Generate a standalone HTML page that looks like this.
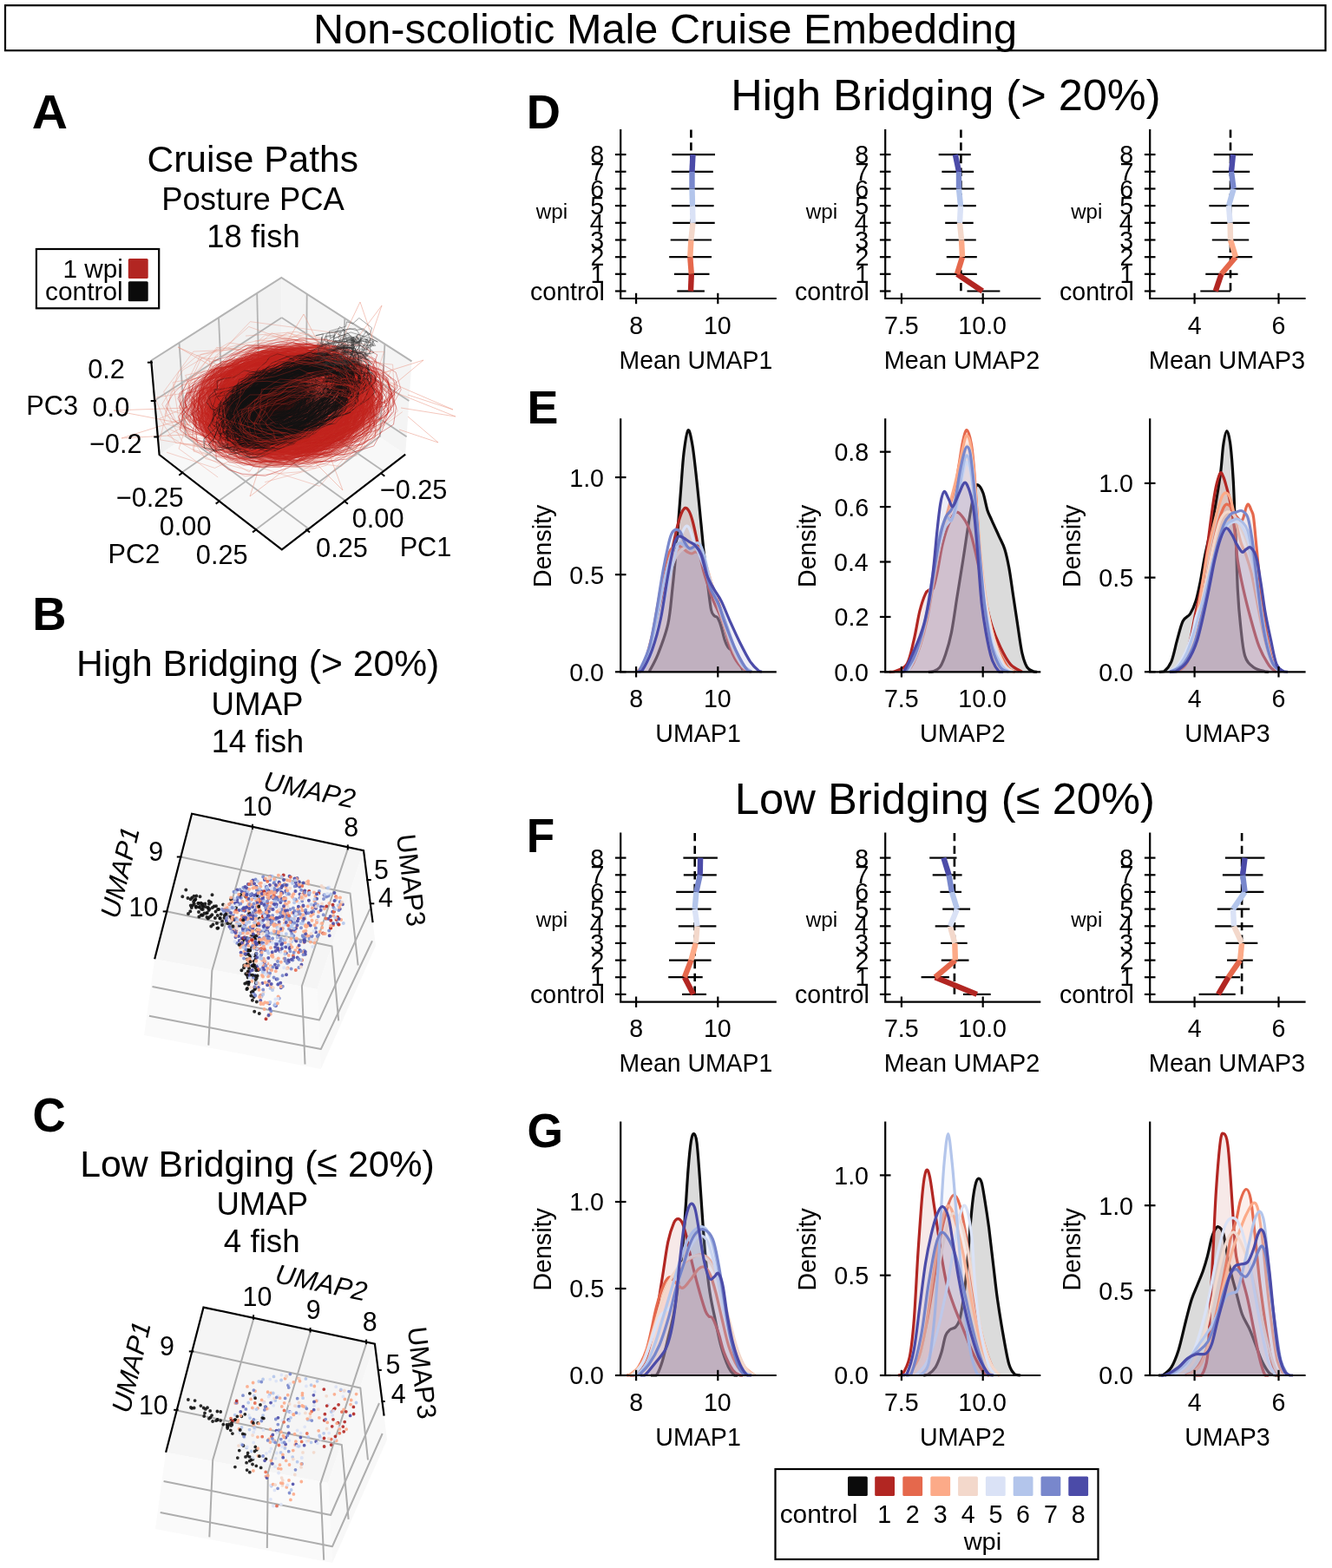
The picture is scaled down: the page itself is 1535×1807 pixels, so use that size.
<!DOCTYPE html>
<html><head><meta charset="utf-8"><title>Non-scoliotic Male Cruise Embedding</title>
<style>html,body{margin:0;padding:0;background:#fff;}svg{display:block;}text{font-family:'Liberation Sans', Arial, Helvetica, sans-serif;}</style>
</head><body>
<svg width="1535" height="1807" viewBox="0 0 1535 1807">
<rect width="1535" height="1807" fill="#fff"/>
<rect x="6" y="6.2" width="1521.5" height="52" fill="none" stroke="#000" stroke-width="2.2"/>
<text transform="translate(361.01,49.50) scale(0.993,1)" font-size="49.00" fill="#000">Non-scoliotic Male Cruise Embedding</text>
<text transform="translate(36.87,148.40) scale(1.041,1)" font-size="54.86" font-weight="bold" fill="#000">A</text>
<text transform="translate(37.35,725.70) scale(1.024,1)" font-size="53.14" font-weight="bold" fill="#000">B</text>
<text transform="translate(37.43,1303.65) scale(0.963,1)" font-size="54.93" font-weight="bold" fill="#000">C</text>
<text transform="translate(606.76,148.40) scale(0.993,1)" font-size="54.71" font-weight="bold" fill="#000">D</text>
<text transform="translate(607.39,487.60) scale(0.989,1)" font-size="54.43" font-weight="bold" fill="#000">E</text>
<text transform="translate(606.85,982.10) scale(0.960,1)" font-size="55.29" font-weight="bold" fill="#000">F</text>
<text transform="translate(607.61,1322.14) scale(0.959,1)" font-size="55.63" font-weight="bold" fill="#000">G</text>
<text transform="translate(169.43,197.90) scale(0.983,1)" font-size="43.29" fill="#000">Cruise Paths</text>
<text transform="translate(186.31,241.50)" font-size="36.43" fill="#000">Posture PCA</text>
<text transform="translate(238.34,284.90)" font-size="36.43" fill="#000">18 fish</text>
<text transform="translate(88.00,779.40) scale(0.992,1)" font-size="43.00" fill="#000">High Bridging (&gt; 20%)</text>
<text transform="translate(243.57,823.60) scale(0.977,1)" font-size="37.57" fill="#000">UMAP</text>
<text transform="translate(243.65,867.10) scale(0.973,1)" font-size="37.14" fill="#000">14 fish</text>
<text transform="translate(92.19,1355.80) scale(0.995,1)" font-size="43.00" fill="#000">Low Bridging (≤ 20%)</text>
<text transform="translate(249.49,1399.80) scale(0.980,1)" font-size="37.29" fill="#000">UMAP</text>
<text transform="translate(257.86,1443.40)" font-size="36.71" fill="#000">4 fish</text>
<text transform="translate(842.16,126.90) scale(1.013,1)" font-size="49.86" fill="#000">High Bridging (&gt; 20%)</text>
<text transform="translate(846.84,938.30) scale(1.005,1)" font-size="50.43" fill="#000">Low Bridging (≤ 20%)</text>
<polyline points="715.2,149 715.2,344 894.8,344" fill="none" stroke="#000" stroke-width="2.2" stroke-linejoin="miter"/>
<line x1="733.1" y1="337.8" x2="733.1" y2="350.2" stroke="#000" stroke-width="2.2"/>
<line x1="827.3" y1="337.8" x2="827.3" y2="350.2" stroke="#000" stroke-width="2.2"/>
<line x1="708.9" y1="335.5" x2="721.5" y2="335.5" stroke="#000" stroke-width="2.2"/>
<line x1="708.9" y1="315.8" x2="721.5" y2="315.8" stroke="#000" stroke-width="2.2"/>
<line x1="708.9" y1="296.2" x2="721.5" y2="296.2" stroke="#000" stroke-width="2.2"/>
<line x1="708.9" y1="276.5" x2="721.5" y2="276.5" stroke="#000" stroke-width="2.2"/>
<line x1="708.9" y1="256.8" x2="721.5" y2="256.8" stroke="#000" stroke-width="2.2"/>
<line x1="708.9" y1="237.1" x2="721.5" y2="237.1" stroke="#000" stroke-width="2.2"/>
<line x1="708.9" y1="217.5" x2="721.5" y2="217.5" stroke="#000" stroke-width="2.2"/>
<line x1="708.9" y1="197.8" x2="721.5" y2="197.8" stroke="#000" stroke-width="2.2"/>
<line x1="708.9" y1="178.1" x2="721.5" y2="178.1" stroke="#000" stroke-width="2.2"/>
<text transform="translate(611.02,345.70) scale(0.953,1)" font-size="30.0" fill="#000">control</text>
<text transform="translate(680.40,326.03) scale(0.953,1)" font-size="30.0" fill="#000">1</text>
<text transform="translate(680.43,306.36) scale(0.953,1)" font-size="30.0" fill="#000">2</text>
<text transform="translate(680.26,286.69) scale(0.953,1)" font-size="30.0" fill="#000">3</text>
<text transform="translate(679.83,267.02) scale(0.953,1)" font-size="30.0" fill="#000">4</text>
<text transform="translate(680.20,247.35) scale(0.953,1)" font-size="30.0" fill="#000">5</text>
<text transform="translate(680.26,227.68) scale(0.953,1)" font-size="30.0" fill="#000">6</text>
<text transform="translate(680.43,208.01) scale(0.953,1)" font-size="30.0" fill="#000">7</text>
<text transform="translate(680.23,188.34) scale(0.953,1)" font-size="30.0" fill="#000">8</text>
<text transform="translate(725.15,384.54) scale(0.953,1)" font-size="30.0" fill="#000">8</text>
<text transform="translate(810.88,384.54) scale(0.953,1)" font-size="30.0" fill="#000">10</text>
<text transform="translate(713.57,424.50) scale(0.979,1)" font-size="29.00" fill="#000">Mean UMAP1</text>
<text transform="translate(617.72,251.90) scale(1.042,1)" font-size="23.30" fill="#000">wpi</text>
<line x1="796.4" y1="149.5" x2="796.4" y2="335.5" stroke="#000" stroke-width="2.6" stroke-dasharray="9.3 5.4"/>
<line x1="780.3" y1="335.5" x2="811.9" y2="335.5" stroke="#000" stroke-width="2.2"/>
<line x1="777" y1="315.8" x2="817.5" y2="315.8" stroke="#000" stroke-width="2.2"/>
<line x1="771.2" y1="296.2" x2="820" y2="296.2" stroke="#000" stroke-width="2.2"/>
<line x1="772.7" y1="276.5" x2="820" y2="276.5" stroke="#000" stroke-width="2.2"/>
<line x1="775.3" y1="256.8" x2="823.7" y2="256.8" stroke="#000" stroke-width="2.2"/>
<line x1="774" y1="237.1" x2="822.6" y2="237.1" stroke="#000" stroke-width="2.2"/>
<line x1="773.4" y1="217.5" x2="822.6" y2="217.5" stroke="#000" stroke-width="2.2"/>
<line x1="773.8" y1="197.8" x2="821.8" y2="197.8" stroke="#000" stroke-width="2.2"/>
<line x1="774.5" y1="178.1" x2="824" y2="178.1" stroke="#000" stroke-width="2.2"/>
<line x1="796" y1="335.5" x2="796.8" y2="315.8" stroke="#b22622" stroke-width="6.4"/>
<line x1="796.8" y1="315.8" x2="795.3" y2="296.2" stroke="#e5684c" stroke-width="6.4"/>
<line x1="795.3" y1="296.2" x2="796.4" y2="276.5" stroke="#fcaa88" stroke-width="6.4"/>
<line x1="796.4" y1="276.5" x2="798.5" y2="256.8" stroke="#f3d8cb" stroke-width="6.4"/>
<line x1="798.5" y1="256.8" x2="798" y2="237.1" stroke="#dae2f6" stroke-width="6.4"/>
<line x1="798" y1="237.1" x2="797.5" y2="217.5" stroke="#b3c5eb" stroke-width="6.4"/>
<line x1="797.5" y1="217.5" x2="797.5" y2="197.8" stroke="#7887cc" stroke-width="6.4"/>
<line x1="797.5" y1="197.8" x2="798.5" y2="178.1" stroke="#4b4ba8" stroke-width="6.4"/>
<polyline points="715.2,959.5 715.2,1154.7 894.8,1154.7" fill="none" stroke="#000" stroke-width="2.2" stroke-linejoin="miter"/>
<line x1="733.1" y1="1148.5" x2="733.1" y2="1160.9" stroke="#000" stroke-width="2.2"/>
<line x1="827.3" y1="1148.5" x2="827.3" y2="1160.9" stroke="#000" stroke-width="2.2"/>
<line x1="708.9" y1="1145.9" x2="721.5" y2="1145.9" stroke="#000" stroke-width="2.2"/>
<line x1="708.9" y1="1126.2" x2="721.5" y2="1126.2" stroke="#000" stroke-width="2.2"/>
<line x1="708.9" y1="1106.6" x2="721.5" y2="1106.6" stroke="#000" stroke-width="2.2"/>
<line x1="708.9" y1="1086.9" x2="721.5" y2="1086.9" stroke="#000" stroke-width="2.2"/>
<line x1="708.9" y1="1067.3" x2="721.5" y2="1067.3" stroke="#000" stroke-width="2.2"/>
<line x1="708.9" y1="1047.6" x2="721.5" y2="1047.6" stroke="#000" stroke-width="2.2"/>
<line x1="708.9" y1="1027.9" x2="721.5" y2="1027.9" stroke="#000" stroke-width="2.2"/>
<line x1="708.9" y1="1008.3" x2="721.5" y2="1008.3" stroke="#000" stroke-width="2.2"/>
<line x1="708.9" y1="988.6" x2="721.5" y2="988.6" stroke="#000" stroke-width="2.2"/>
<text transform="translate(611.02,1156.10) scale(0.953,1)" font-size="30.0" fill="#000">control</text>
<text transform="translate(680.40,1136.44) scale(0.953,1)" font-size="30.0" fill="#000">1</text>
<text transform="translate(680.43,1116.78) scale(0.953,1)" font-size="30.0" fill="#000">2</text>
<text transform="translate(680.26,1097.12) scale(0.953,1)" font-size="30.0" fill="#000">3</text>
<text transform="translate(679.83,1077.46) scale(0.953,1)" font-size="30.0" fill="#000">4</text>
<text transform="translate(680.20,1057.80) scale(0.953,1)" font-size="30.0" fill="#000">5</text>
<text transform="translate(680.26,1038.14) scale(0.953,1)" font-size="30.0" fill="#000">6</text>
<text transform="translate(680.43,1018.48) scale(0.953,1)" font-size="30.0" fill="#000">7</text>
<text transform="translate(680.23,998.82) scale(0.953,1)" font-size="30.0" fill="#000">8</text>
<text transform="translate(725.15,1195.24) scale(0.953,1)" font-size="30.0" fill="#000">8</text>
<text transform="translate(810.88,1195.24) scale(0.953,1)" font-size="30.0" fill="#000">10</text>
<text transform="translate(713.57,1235.20) scale(0.979,1)" font-size="29.00" fill="#000">Mean UMAP1</text>
<text transform="translate(617.72,1067.70) scale(1.042,1)" font-size="23.30" fill="#000">wpi</text>
<line x1="800.7" y1="960" x2="800.7" y2="1145.9" stroke="#000" stroke-width="2.6" stroke-dasharray="9.3 5.4"/>
<line x1="786.1" y1="1145.9" x2="814" y2="1145.9" stroke="#000" stroke-width="2.2"/>
<line x1="770.2" y1="1126.2" x2="809.7" y2="1126.2" stroke="#000" stroke-width="2.2"/>
<line x1="771" y1="1106.6" x2="819.6" y2="1106.6" stroke="#000" stroke-width="2.2"/>
<line x1="778.1" y1="1086.9" x2="823.9" y2="1086.9" stroke="#000" stroke-width="2.2"/>
<line x1="781.8" y1="1067.3" x2="825.4" y2="1067.3" stroke="#000" stroke-width="2.2"/>
<line x1="778.8" y1="1047.6" x2="819.6" y2="1047.6" stroke="#000" stroke-width="2.2"/>
<line x1="779.2" y1="1027.9" x2="825.4" y2="1027.9" stroke="#000" stroke-width="2.2"/>
<line x1="787.8" y1="1008.3" x2="825.8" y2="1008.3" stroke="#000" stroke-width="2.2"/>
<line x1="787.4" y1="988.6" x2="826.9" y2="988.6" stroke="#000" stroke-width="2.2"/>
<line x1="799" y1="1145.9" x2="788.9" y2="1126.2" stroke="#b22622" stroke-width="6.4"/>
<line x1="788.9" y1="1126.2" x2="796.4" y2="1106.6" stroke="#e5684c" stroke-width="6.4"/>
<line x1="796.4" y1="1106.6" x2="801.8" y2="1086.9" stroke="#fcaa88" stroke-width="6.4"/>
<line x1="801.8" y1="1086.9" x2="803.5" y2="1067.3" stroke="#f3d8cb" stroke-width="6.4"/>
<line x1="803.5" y1="1067.3" x2="800.7" y2="1047.6" stroke="#dae2f6" stroke-width="6.4"/>
<line x1="800.7" y1="1047.6" x2="802.4" y2="1027.9" stroke="#b3c5eb" stroke-width="6.4"/>
<line x1="802.4" y1="1027.9" x2="806.7" y2="1008.3" stroke="#7887cc" stroke-width="6.4"/>
<line x1="806.7" y1="1008.3" x2="807.1" y2="988.6" stroke="#4b4ba8" stroke-width="6.4"/>
<polyline points="1020.2,149 1020.2,344 1199.3,344" fill="none" stroke="#000" stroke-width="2.2" stroke-linejoin="miter"/>
<line x1="1038.9" y1="337.8" x2="1038.9" y2="350.2" stroke="#000" stroke-width="2.2"/>
<line x1="1132.7" y1="337.8" x2="1132.7" y2="350.2" stroke="#000" stroke-width="2.2"/>
<line x1="1013.9" y1="335.5" x2="1026.5" y2="335.5" stroke="#000" stroke-width="2.2"/>
<line x1="1013.9" y1="315.8" x2="1026.5" y2="315.8" stroke="#000" stroke-width="2.2"/>
<line x1="1013.9" y1="296.2" x2="1026.5" y2="296.2" stroke="#000" stroke-width="2.2"/>
<line x1="1013.9" y1="276.5" x2="1026.5" y2="276.5" stroke="#000" stroke-width="2.2"/>
<line x1="1013.9" y1="256.8" x2="1026.5" y2="256.8" stroke="#000" stroke-width="2.2"/>
<line x1="1013.9" y1="237.1" x2="1026.5" y2="237.1" stroke="#000" stroke-width="2.2"/>
<line x1="1013.9" y1="217.5" x2="1026.5" y2="217.5" stroke="#000" stroke-width="2.2"/>
<line x1="1013.9" y1="197.8" x2="1026.5" y2="197.8" stroke="#000" stroke-width="2.2"/>
<line x1="1013.9" y1="178.1" x2="1026.5" y2="178.1" stroke="#000" stroke-width="2.2"/>
<text transform="translate(916.02,345.70) scale(0.953,1)" font-size="30.0" fill="#000">control</text>
<text transform="translate(985.40,326.03) scale(0.953,1)" font-size="30.0" fill="#000">1</text>
<text transform="translate(985.43,306.36) scale(0.953,1)" font-size="30.0" fill="#000">2</text>
<text transform="translate(985.26,286.69) scale(0.953,1)" font-size="30.0" fill="#000">3</text>
<text transform="translate(984.83,267.02) scale(0.953,1)" font-size="30.0" fill="#000">4</text>
<text transform="translate(985.20,247.35) scale(0.953,1)" font-size="30.0" fill="#000">5</text>
<text transform="translate(985.26,227.68) scale(0.953,1)" font-size="30.0" fill="#000">6</text>
<text transform="translate(985.43,208.01) scale(0.953,1)" font-size="30.0" fill="#000">7</text>
<text transform="translate(985.23,188.34) scale(0.953,1)" font-size="30.0" fill="#000">8</text>
<text transform="translate(1018.90,384.54) scale(0.953,1)" font-size="30.0" fill="#000">7.5</text>
<text transform="translate(1104.35,384.54) scale(0.953,1)" font-size="30.0" fill="#000">10.0</text>
<text transform="translate(1018.84,424.50) scale(0.994,1)" font-size="29.00" fill="#000">Mean UMAP2</text>
<text transform="translate(928.82,251.90) scale(1.042,1)" font-size="23.30" fill="#000">wpi</text>
<line x1="1107.4" y1="149.5" x2="1107.4" y2="335.5" stroke="#000" stroke-width="2.6" stroke-dasharray="9.3 5.4"/>
<line x1="1114.5" y1="335.5" x2="1152.4" y2="335.5" stroke="#000" stroke-width="2.2"/>
<line x1="1078.7" y1="315.8" x2="1125.8" y2="315.8" stroke="#000" stroke-width="2.2"/>
<line x1="1090.8" y1="296.2" x2="1125.8" y2="296.2" stroke="#000" stroke-width="2.2"/>
<line x1="1089.8" y1="276.5" x2="1124.8" y2="276.5" stroke="#000" stroke-width="2.2"/>
<line x1="1089.2" y1="256.8" x2="1121.7" y2="256.8" stroke="#000" stroke-width="2.2"/>
<line x1="1088.2" y1="237.1" x2="1124.8" y2="237.1" stroke="#000" stroke-width="2.2"/>
<line x1="1084.4" y1="217.5" x2="1122.7" y2="217.5" stroke="#000" stroke-width="2.2"/>
<line x1="1085.4" y1="197.8" x2="1122.1" y2="197.8" stroke="#000" stroke-width="2.2"/>
<line x1="1081.7" y1="178.1" x2="1118.7" y2="178.1" stroke="#000" stroke-width="2.2"/>
<line x1="1132.2" y1="335.5" x2="1103" y2="315.8" stroke="#b22622" stroke-width="6.4"/>
<line x1="1103" y1="315.8" x2="1109" y2="296.2" stroke="#e5684c" stroke-width="6.4"/>
<line x1="1109" y1="296.2" x2="1108" y2="276.5" stroke="#fcaa88" stroke-width="6.4"/>
<line x1="1108" y1="276.5" x2="1106" y2="256.8" stroke="#f3d8cb" stroke-width="6.4"/>
<line x1="1106" y1="256.8" x2="1107" y2="237.1" stroke="#dae2f6" stroke-width="6.4"/>
<line x1="1107" y1="237.1" x2="1105" y2="217.5" stroke="#b3c5eb" stroke-width="6.4"/>
<line x1="1105" y1="217.5" x2="1105" y2="197.8" stroke="#7887cc" stroke-width="6.4"/>
<line x1="1105" y1="197.8" x2="1100.9" y2="178.1" stroke="#4b4ba8" stroke-width="6.4"/>
<polyline points="1020.2,959.5 1020.2,1154.7 1199.3,1154.7" fill="none" stroke="#000" stroke-width="2.2" stroke-linejoin="miter"/>
<line x1="1038.9" y1="1148.5" x2="1038.9" y2="1160.9" stroke="#000" stroke-width="2.2"/>
<line x1="1132.7" y1="1148.5" x2="1132.7" y2="1160.9" stroke="#000" stroke-width="2.2"/>
<line x1="1013.9" y1="1145.9" x2="1026.5" y2="1145.9" stroke="#000" stroke-width="2.2"/>
<line x1="1013.9" y1="1126.2" x2="1026.5" y2="1126.2" stroke="#000" stroke-width="2.2"/>
<line x1="1013.9" y1="1106.6" x2="1026.5" y2="1106.6" stroke="#000" stroke-width="2.2"/>
<line x1="1013.9" y1="1086.9" x2="1026.5" y2="1086.9" stroke="#000" stroke-width="2.2"/>
<line x1="1013.9" y1="1067.3" x2="1026.5" y2="1067.3" stroke="#000" stroke-width="2.2"/>
<line x1="1013.9" y1="1047.6" x2="1026.5" y2="1047.6" stroke="#000" stroke-width="2.2"/>
<line x1="1013.9" y1="1027.9" x2="1026.5" y2="1027.9" stroke="#000" stroke-width="2.2"/>
<line x1="1013.9" y1="1008.3" x2="1026.5" y2="1008.3" stroke="#000" stroke-width="2.2"/>
<line x1="1013.9" y1="988.6" x2="1026.5" y2="988.6" stroke="#000" stroke-width="2.2"/>
<text transform="translate(916.02,1156.10) scale(0.953,1)" font-size="30.0" fill="#000">control</text>
<text transform="translate(985.40,1136.44) scale(0.953,1)" font-size="30.0" fill="#000">1</text>
<text transform="translate(985.43,1116.78) scale(0.953,1)" font-size="30.0" fill="#000">2</text>
<text transform="translate(985.26,1097.12) scale(0.953,1)" font-size="30.0" fill="#000">3</text>
<text transform="translate(984.83,1077.46) scale(0.953,1)" font-size="30.0" fill="#000">4</text>
<text transform="translate(985.20,1057.80) scale(0.953,1)" font-size="30.0" fill="#000">5</text>
<text transform="translate(985.26,1038.14) scale(0.953,1)" font-size="30.0" fill="#000">6</text>
<text transform="translate(985.43,1018.48) scale(0.953,1)" font-size="30.0" fill="#000">7</text>
<text transform="translate(985.23,998.82) scale(0.953,1)" font-size="30.0" fill="#000">8</text>
<text transform="translate(1018.90,1195.24) scale(0.953,1)" font-size="30.0" fill="#000">7.5</text>
<text transform="translate(1104.35,1195.24) scale(0.953,1)" font-size="30.0" fill="#000">10.0</text>
<text transform="translate(1018.84,1235.20) scale(0.994,1)" font-size="29.00" fill="#000">Mean UMAP2</text>
<text transform="translate(928.82,1067.70) scale(1.042,1)" font-size="23.30" fill="#000">wpi</text>
<line x1="1099.9" y1="960" x2="1099.9" y2="1145.9" stroke="#000" stroke-width="2.6" stroke-dasharray="9.3 5.4"/>
<line x1="1110" y1="1145.9" x2="1141.7" y2="1145.9" stroke="#000" stroke-width="2.2"/>
<line x1="1061.6" y1="1126.2" x2="1093.9" y2="1126.2" stroke="#000" stroke-width="2.2"/>
<line x1="1084.8" y1="1106.6" x2="1116.5" y2="1106.6" stroke="#000" stroke-width="2.2"/>
<line x1="1084.2" y1="1086.9" x2="1114.7" y2="1086.9" stroke="#000" stroke-width="2.2"/>
<line x1="1077.7" y1="1067.3" x2="1111.6" y2="1067.3" stroke="#000" stroke-width="2.2"/>
<line x1="1086.2" y1="1047.6" x2="1118.1" y2="1047.6" stroke="#000" stroke-width="2.2"/>
<line x1="1083.4" y1="1027.9" x2="1108" y2="1027.9" stroke="#000" stroke-width="2.2"/>
<line x1="1074.7" y1="1008.3" x2="1108.6" y2="1008.3" stroke="#000" stroke-width="2.2"/>
<line x1="1071.2" y1="988.6" x2="1102.5" y2="988.6" stroke="#000" stroke-width="2.2"/>
<line x1="1125.8" y1="1145.9" x2="1077.7" y2="1126.2" stroke="#b22622" stroke-width="6.4"/>
<line x1="1077.7" y1="1126.2" x2="1100.9" y2="1106.6" stroke="#e5684c" stroke-width="6.4"/>
<line x1="1100.9" y1="1106.6" x2="1100.3" y2="1086.9" stroke="#fcaa88" stroke-width="6.4"/>
<line x1="1100.3" y1="1086.9" x2="1094.9" y2="1067.3" stroke="#f3d8cb" stroke-width="6.4"/>
<line x1="1094.9" y1="1067.3" x2="1103" y2="1047.6" stroke="#dae2f6" stroke-width="6.4"/>
<line x1="1103" y1="1047.6" x2="1096.9" y2="1027.9" stroke="#b3c5eb" stroke-width="6.4"/>
<line x1="1096.9" y1="1027.9" x2="1093.5" y2="1008.3" stroke="#7887cc" stroke-width="6.4"/>
<line x1="1093.5" y1="1008.3" x2="1087.4" y2="988.6" stroke="#4b4ba8" stroke-width="6.4"/>
<polyline points="1325.2,149 1325.2,344 1504.6,344" fill="none" stroke="#000" stroke-width="2.2" stroke-linejoin="miter"/>
<line x1="1376.6" y1="337.8" x2="1376.6" y2="350.2" stroke="#000" stroke-width="2.2"/>
<line x1="1473.5" y1="337.8" x2="1473.5" y2="350.2" stroke="#000" stroke-width="2.2"/>
<line x1="1318.9" y1="335.5" x2="1331.5" y2="335.5" stroke="#000" stroke-width="2.2"/>
<line x1="1318.9" y1="315.8" x2="1331.5" y2="315.8" stroke="#000" stroke-width="2.2"/>
<line x1="1318.9" y1="296.2" x2="1331.5" y2="296.2" stroke="#000" stroke-width="2.2"/>
<line x1="1318.9" y1="276.5" x2="1331.5" y2="276.5" stroke="#000" stroke-width="2.2"/>
<line x1="1318.9" y1="256.8" x2="1331.5" y2="256.8" stroke="#000" stroke-width="2.2"/>
<line x1="1318.9" y1="237.1" x2="1331.5" y2="237.1" stroke="#000" stroke-width="2.2"/>
<line x1="1318.9" y1="217.5" x2="1331.5" y2="217.5" stroke="#000" stroke-width="2.2"/>
<line x1="1318.9" y1="197.8" x2="1331.5" y2="197.8" stroke="#000" stroke-width="2.2"/>
<line x1="1318.9" y1="178.1" x2="1331.5" y2="178.1" stroke="#000" stroke-width="2.2"/>
<text transform="translate(1221.02,345.70) scale(0.953,1)" font-size="30.0" fill="#000">control</text>
<text transform="translate(1290.40,326.03) scale(0.953,1)" font-size="30.0" fill="#000">1</text>
<text transform="translate(1290.43,306.36) scale(0.953,1)" font-size="30.0" fill="#000">2</text>
<text transform="translate(1290.26,286.69) scale(0.953,1)" font-size="30.0" fill="#000">3</text>
<text transform="translate(1289.83,267.02) scale(0.953,1)" font-size="30.0" fill="#000">4</text>
<text transform="translate(1290.20,247.35) scale(0.953,1)" font-size="30.0" fill="#000">5</text>
<text transform="translate(1290.26,227.68) scale(0.953,1)" font-size="30.0" fill="#000">6</text>
<text transform="translate(1290.43,208.01) scale(0.953,1)" font-size="30.0" fill="#000">7</text>
<text transform="translate(1290.23,188.34) scale(0.953,1)" font-size="30.0" fill="#000">8</text>
<text transform="translate(1368.74,384.54) scale(0.953,1)" font-size="30.0" fill="#000">4</text>
<text transform="translate(1465.45,384.54) scale(0.953,1)" font-size="30.0" fill="#000">6</text>
<text transform="translate(1323.72,424.50)" font-size="29.00" fill="#000">Mean UMAP3</text>
<text transform="translate(1234.22,251.90) scale(1.030,1)" font-size="23.30" fill="#000">wpi</text>
<line x1="1418" y1="149.5" x2="1418" y2="335.5" stroke="#000" stroke-width="2.6" stroke-dasharray="9.3 5.4"/>
<line x1="1383.3" y1="335.5" x2="1418" y2="335.5" stroke="#000" stroke-width="2.2"/>
<line x1="1389.3" y1="315.8" x2="1426.5" y2="315.8" stroke="#000" stroke-width="2.2"/>
<line x1="1403.5" y1="296.2" x2="1443.2" y2="296.2" stroke="#000" stroke-width="2.2"/>
<line x1="1396.8" y1="276.5" x2="1439.2" y2="276.5" stroke="#000" stroke-width="2.2"/>
<line x1="1395.4" y1="256.8" x2="1440.2" y2="256.8" stroke="#000" stroke-width="2.2"/>
<line x1="1393.4" y1="237.1" x2="1439.2" y2="237.1" stroke="#000" stroke-width="2.2"/>
<line x1="1398.8" y1="217.5" x2="1444.7" y2="217.5" stroke="#000" stroke-width="2.2"/>
<line x1="1397.4" y1="197.8" x2="1440.2" y2="197.8" stroke="#000" stroke-width="2.2"/>
<line x1="1398.8" y1="178.1" x2="1443.8" y2="178.1" stroke="#000" stroke-width="2.2"/>
<line x1="1400.8" y1="335.5" x2="1407.5" y2="315.8" stroke="#b22622" stroke-width="6.4"/>
<line x1="1407.5" y1="315.8" x2="1424" y2="296.2" stroke="#e5684c" stroke-width="6.4"/>
<line x1="1424" y1="296.2" x2="1418" y2="276.5" stroke="#fcaa88" stroke-width="6.4"/>
<line x1="1418" y1="276.5" x2="1417.6" y2="256.8" stroke="#f3d8cb" stroke-width="6.4"/>
<line x1="1417.6" y1="256.8" x2="1416" y2="237.1" stroke="#dae2f6" stroke-width="6.4"/>
<line x1="1416" y1="237.1" x2="1421.6" y2="217.5" stroke="#b3c5eb" stroke-width="6.4"/>
<line x1="1421.6" y1="217.5" x2="1419" y2="197.8" stroke="#7887cc" stroke-width="6.4"/>
<line x1="1419" y1="197.8" x2="1421" y2="178.1" stroke="#4b4ba8" stroke-width="6.4"/>
<polyline points="1325.2,959.5 1325.2,1154.7 1504.6,1154.7" fill="none" stroke="#000" stroke-width="2.2" stroke-linejoin="miter"/>
<line x1="1376.6" y1="1148.5" x2="1376.6" y2="1160.9" stroke="#000" stroke-width="2.2"/>
<line x1="1473.5" y1="1148.5" x2="1473.5" y2="1160.9" stroke="#000" stroke-width="2.2"/>
<line x1="1318.9" y1="1145.9" x2="1331.5" y2="1145.9" stroke="#000" stroke-width="2.2"/>
<line x1="1318.9" y1="1126.2" x2="1331.5" y2="1126.2" stroke="#000" stroke-width="2.2"/>
<line x1="1318.9" y1="1106.6" x2="1331.5" y2="1106.6" stroke="#000" stroke-width="2.2"/>
<line x1="1318.9" y1="1086.9" x2="1331.5" y2="1086.9" stroke="#000" stroke-width="2.2"/>
<line x1="1318.9" y1="1067.3" x2="1331.5" y2="1067.3" stroke="#000" stroke-width="2.2"/>
<line x1="1318.9" y1="1047.6" x2="1331.5" y2="1047.6" stroke="#000" stroke-width="2.2"/>
<line x1="1318.9" y1="1027.9" x2="1331.5" y2="1027.9" stroke="#000" stroke-width="2.2"/>
<line x1="1318.9" y1="1008.3" x2="1331.5" y2="1008.3" stroke="#000" stroke-width="2.2"/>
<line x1="1318.9" y1="988.6" x2="1331.5" y2="988.6" stroke="#000" stroke-width="2.2"/>
<text transform="translate(1221.02,1156.10) scale(0.953,1)" font-size="30.0" fill="#000">control</text>
<text transform="translate(1290.40,1136.44) scale(0.953,1)" font-size="30.0" fill="#000">1</text>
<text transform="translate(1290.43,1116.78) scale(0.953,1)" font-size="30.0" fill="#000">2</text>
<text transform="translate(1290.26,1097.12) scale(0.953,1)" font-size="30.0" fill="#000">3</text>
<text transform="translate(1289.83,1077.46) scale(0.953,1)" font-size="30.0" fill="#000">4</text>
<text transform="translate(1290.20,1057.80) scale(0.953,1)" font-size="30.0" fill="#000">5</text>
<text transform="translate(1290.26,1038.14) scale(0.953,1)" font-size="30.0" fill="#000">6</text>
<text transform="translate(1290.43,1018.48) scale(0.953,1)" font-size="30.0" fill="#000">7</text>
<text transform="translate(1290.23,998.82) scale(0.953,1)" font-size="30.0" fill="#000">8</text>
<text transform="translate(1368.74,1195.24) scale(0.953,1)" font-size="30.0" fill="#000">4</text>
<text transform="translate(1465.45,1195.24) scale(0.953,1)" font-size="30.0" fill="#000">6</text>
<text transform="translate(1323.72,1235.20)" font-size="29.00" fill="#000">Mean UMAP3</text>
<text transform="translate(1234.22,1067.70) scale(1.030,1)" font-size="23.30" fill="#000">wpi</text>
<line x1="1431.1" y1="960" x2="1431.1" y2="1145.9" stroke="#000" stroke-width="2.6" stroke-dasharray="9.3 5.4"/>
<line x1="1381.6" y1="1145.9" x2="1423.7" y2="1145.9" stroke="#000" stroke-width="2.2"/>
<line x1="1400.8" y1="1126.2" x2="1429.1" y2="1126.2" stroke="#000" stroke-width="2.2"/>
<line x1="1414" y1="1106.6" x2="1443.8" y2="1106.6" stroke="#000" stroke-width="2.2"/>
<line x1="1412.5" y1="1086.9" x2="1449.3" y2="1086.9" stroke="#000" stroke-width="2.2"/>
<line x1="1400.2" y1="1067.3" x2="1444.2" y2="1067.3" stroke="#000" stroke-width="2.2"/>
<line x1="1402.8" y1="1047.6" x2="1440.2" y2="1047.6" stroke="#000" stroke-width="2.2"/>
<line x1="1411.9" y1="1027.9" x2="1456.4" y2="1027.9" stroke="#000" stroke-width="2.2"/>
<line x1="1408.9" y1="1008.3" x2="1455.4" y2="1008.3" stroke="#000" stroke-width="2.2"/>
<line x1="1411.9" y1="988.6" x2="1457.4" y2="988.6" stroke="#000" stroke-width="2.2"/>
<line x1="1403.9" y1="1145.9" x2="1415.6" y2="1126.2" stroke="#b22622" stroke-width="6.4"/>
<line x1="1415.6" y1="1126.2" x2="1429.1" y2="1106.6" stroke="#e5684c" stroke-width="6.4"/>
<line x1="1429.1" y1="1106.6" x2="1431.1" y2="1086.9" stroke="#fcaa88" stroke-width="6.4"/>
<line x1="1431.1" y1="1086.9" x2="1422" y2="1067.3" stroke="#f3d8cb" stroke-width="6.4"/>
<line x1="1422" y1="1067.3" x2="1421" y2="1047.6" stroke="#dae2f6" stroke-width="6.4"/>
<line x1="1421" y1="1047.6" x2="1434.6" y2="1027.9" stroke="#b3c5eb" stroke-width="6.4"/>
<line x1="1434.6" y1="1027.9" x2="1432.1" y2="1008.3" stroke="#7887cc" stroke-width="6.4"/>
<line x1="1432.1" y1="1008.3" x2="1434.6" y2="988.6" stroke="#4b4ba8" stroke-width="6.4"/>
<path d="M748.2,773.9C749.9,770.6 754.6,763.1 758.2,754C761.8,744.9 767,731.6 769.8,719.1C772.6,706.6 773.3,692.9 774.8,679.3C776.3,665.7 777.8,649.9 778.9,637.7C780,625.5 780.4,618.7 781.4,606.2C782.4,593.8 783.6,577.1 784.7,563C785.8,548.9 786.7,532.7 788.1,521.5C789.5,510.3 791.4,497.2 793,495.8C794.6,494.4 796.3,503.4 798,513.2C799.7,523 801.3,539.5 803,554.7C804.7,569.9 806.6,590.7 808,604.5C809.4,618.3 809.9,625.2 811.3,637.7C812.7,650.2 814.9,668.4 816.3,679.3C817.7,690.2 818.5,698 819.6,703C820.7,708 821.8,708 823,709.5C824.2,711 825.7,709.9 827,712C828.3,714.1 829.7,717.8 831,722C832.3,726.2 833.7,733 835,737C836.3,741 837.7,744 839,746C840.3,748 841.7,748.2 843,749C844.3,749.8 845.6,748.8 847,751C848.4,753.2 849.7,758.8 851.2,762.3C852.7,765.8 855.3,770.6 856.1,772.3L856.1,774.3L748.2,774.3Z" fill="#0b0b0b" fill-opacity="0.15" stroke="none"/>
<path d="M748.2,773.9C749.9,770.6 754.6,763.1 758.2,754C761.8,744.9 767,731.6 769.8,719.1C772.6,706.6 773.3,692.9 774.8,679.3C776.3,665.7 777.8,649.9 778.9,637.7C780,625.5 780.4,618.7 781.4,606.2C782.4,593.8 783.6,577.1 784.7,563C785.8,548.9 786.7,532.7 788.1,521.5C789.5,510.3 791.4,497.2 793,495.8C794.6,494.4 796.3,503.4 798,513.2C799.7,523 801.3,539.5 803,554.7C804.7,569.9 806.6,590.7 808,604.5C809.4,618.3 809.9,625.2 811.3,637.7C812.7,650.2 814.9,668.4 816.3,679.3C817.7,690.2 818.5,698 819.6,703C820.7,708 821.8,708 823,709.5C824.2,711 825.7,709.9 827,712C828.3,714.1 829.7,717.8 831,722C832.3,726.2 833.7,733 835,737C836.3,741 837.7,744 839,746C840.3,748 841.7,748.2 843,749C844.3,749.8 845.6,748.8 847,751C848.4,753.2 849.7,758.8 851.2,762.3C852.7,765.8 855.3,770.6 856.1,772.3" fill="none" stroke="#0b0b0b" stroke-width="3.2" stroke-linejoin="round"/>
<path d="M737,774C738.3,771.7 742.5,765.7 745,760C747.5,754.3 749.8,747.5 752,740C754.2,732.5 756,724.2 758,715C760,705.8 762,695 764,685C766,675 768,664.7 770,655C772,645.3 774.2,635.3 776,627C777.8,618.7 779.4,611 781,605C782.6,599 784,594.3 785.5,591C787,587.7 788.3,585.7 789.7,585.4C791.1,585.1 792.6,586.6 794,589C795.4,591.4 796.7,595.3 798,600C799.3,604.7 800.7,611 802,617C803.3,623 804.7,629.7 806,636C807.3,642.3 808.5,649 810,655C811.5,661 813.2,666.2 815,672C816.8,677.8 819,684.8 821,690C823,695.2 825.3,699.2 827,703C828.7,706.8 829.7,708.5 831.2,712.5C832.7,716.5 834.3,721.5 836,727C837.7,732.5 839.4,740.4 841.2,745.7C843,751 844.8,755.1 847,759C849.2,762.9 852,766.5 854.5,769C857,771.5 860.8,773.2 862,774L862,774.3L737,774.3Z" fill="#b22622" fill-opacity="0.1" stroke="none"/>
<path d="M737,774C738.3,771.7 742.5,765.7 745,760C747.5,754.3 749.8,747.5 752,740C754.2,732.5 756,724.2 758,715C760,705.8 762,695 764,685C766,675 768,664.7 770,655C772,645.3 774.2,635.3 776,627C777.8,618.7 779.4,611 781,605C782.6,599 784,594.3 785.5,591C787,587.7 788.3,585.7 789.7,585.4C791.1,585.1 792.6,586.6 794,589C795.4,591.4 796.7,595.3 798,600C799.3,604.7 800.7,611 802,617C803.3,623 804.7,629.7 806,636C807.3,642.3 808.5,649 810,655C811.5,661 813.2,666.2 815,672C816.8,677.8 819,684.8 821,690C823,695.2 825.3,699.2 827,703C828.7,706.8 829.7,708.5 831.2,712.5C832.7,716.5 834.3,721.5 836,727C837.7,732.5 839.4,740.4 841.2,745.7C843,751 844.8,755.1 847,759C849.2,762.9 852,766.5 854.5,769C857,771.5 860.8,773.2 862,774" fill="none" stroke="#b22622" stroke-width="3.2" stroke-linejoin="round"/>
<path d="M734,774C735.3,772.9 738.7,774.2 741.6,767.3C744.5,760.4 748.7,744.3 751.5,732.4C754.3,720.5 756,708.1 758.2,695.9C760.4,683.7 762.6,669.3 764.8,659.3C767,649.3 769.5,641 771.5,636.1C773.5,631.2 775.2,631.2 777,630C778.8,628.8 780.3,628.7 782,629C783.7,629.3 785.3,630.8 787,632C788.7,633.2 790.3,635 792,636C793.7,637 795.3,638 797,638C798.7,638 800.3,635.7 802,636C803.7,636.3 805.3,637.7 807,640C808.7,642.3 810.2,645.5 812,650C813.8,654.5 816,661.3 818,667C820,672.7 822,678.5 824,684C826,689.5 828,694.3 830,700C832,705.7 833.8,711.3 836,718C838.2,724.7 840.7,733.3 843,740C845.3,746.7 847.5,752.8 850,758C852.5,763.2 855.3,768.3 858,771C860.7,773.7 864.7,773.5 866,774L866,774.3L734,774.3Z" fill="#e5684c" fill-opacity="0.1" stroke="none"/>
<path d="M734,774C735.3,772.9 738.7,774.2 741.6,767.3C744.5,760.4 748.7,744.3 751.5,732.4C754.3,720.5 756,708.1 758.2,695.9C760.4,683.7 762.6,669.3 764.8,659.3C767,649.3 769.5,641 771.5,636.1C773.5,631.2 775.2,631.2 777,630C778.8,628.8 780.3,628.7 782,629C783.7,629.3 785.3,630.8 787,632C788.7,633.2 790.3,635 792,636C793.7,637 795.3,638 797,638C798.7,638 800.3,635.7 802,636C803.7,636.3 805.3,637.7 807,640C808.7,642.3 810.2,645.5 812,650C813.8,654.5 816,661.3 818,667C820,672.7 822,678.5 824,684C826,689.5 828,694.3 830,700C832,705.7 833.8,711.3 836,718C838.2,724.7 840.7,733.3 843,740C845.3,746.7 847.5,752.8 850,758C852.5,763.2 855.3,768.3 858,771C860.7,773.7 864.7,773.5 866,774" fill="none" stroke="#e5684c" stroke-width="3.2" stroke-linejoin="round"/>
<path d="M734,774C735.3,772.5 739.3,770.7 742,765C744.7,759.3 747.5,749.5 750,740C752.5,730.5 754.7,718.8 757,708C759.3,697.2 761.7,684.7 764,675C766.3,665.3 768.7,656.2 771,650C773.3,643.8 775.7,640.8 778,638C780.3,635.2 782.7,634.3 785,633C787.3,631.7 789.5,630.8 792,630C794.5,629.2 797.3,627 800,628C802.7,629 805.5,631.5 808,636C810.5,640.5 812.7,647.7 815,655C817.3,662.3 819.7,672 822,680C824.3,688 826.5,695 829,703C831.5,711 834.2,719.8 837,728C839.8,736.2 842.8,745.3 846,752C849.2,758.7 852.7,764.3 856,768C859.3,771.7 864.3,773 866,774L866,774.3L734,774.3Z" fill="#fcaa88" fill-opacity="0.1" stroke="none"/>
<path d="M734,774C735.3,772.5 739.3,770.7 742,765C744.7,759.3 747.5,749.5 750,740C752.5,730.5 754.7,718.8 757,708C759.3,697.2 761.7,684.7 764,675C766.3,665.3 768.7,656.2 771,650C773.3,643.8 775.7,640.8 778,638C780.3,635.2 782.7,634.3 785,633C787.3,631.7 789.5,630.8 792,630C794.5,629.2 797.3,627 800,628C802.7,629 805.5,631.5 808,636C810.5,640.5 812.7,647.7 815,655C817.3,662.3 819.7,672 822,680C824.3,688 826.5,695 829,703C831.5,711 834.2,719.8 837,728C839.8,736.2 842.8,745.3 846,752C849.2,758.7 852.7,764.3 856,768C859.3,771.7 864.3,773 866,774" fill="none" stroke="#fcaa88" stroke-width="3.2" stroke-linejoin="round"/>
<path d="M738,774C739.7,771.3 745,765.3 748,758C751,750.7 753.3,740.5 756,730C758.7,719.5 761.3,706.7 764,695C766.7,683.3 769.3,669.2 772,660C774.7,650.8 777.3,644.7 780,640C782.7,635.3 785.3,634 788,632C790.7,630 793.3,628 796,628C798.7,628 801.3,628.7 804,632C806.7,635.3 809.3,641.3 812,648C814.7,654.7 817.3,663.7 820,672C822.7,680.3 825.3,689.7 828,698C830.7,706.3 833.2,713.7 836,722C838.8,730.3 841.7,740.3 845,748C848.3,755.7 852.5,763.7 856,768C859.5,772.3 864.3,773 866,774L866,774.3L738,774.3Z" fill="#f3d8cb" fill-opacity="0.1" stroke="none"/>
<path d="M738,774C739.7,771.3 745,765.3 748,758C751,750.7 753.3,740.5 756,730C758.7,719.5 761.3,706.7 764,695C766.7,683.3 769.3,669.2 772,660C774.7,650.8 777.3,644.7 780,640C782.7,635.3 785.3,634 788,632C790.7,630 793.3,628 796,628C798.7,628 801.3,628.7 804,632C806.7,635.3 809.3,641.3 812,648C814.7,654.7 817.3,663.7 820,672C822.7,680.3 825.3,689.7 828,698C830.7,706.3 833.2,713.7 836,722C838.8,730.3 841.7,740.3 845,748C848.3,755.7 852.5,763.7 856,768C859.5,772.3 864.3,773 866,774" fill="none" stroke="#f3d8cb" stroke-width="3.2" stroke-linejoin="round"/>
<path d="M740,774C741.7,770.8 747,763.2 750,755C753,746.8 755.3,735.8 758,725C760.7,714.2 763.3,701.7 766,690C768.7,678.3 771.3,665.8 774,655C776.7,644.2 779.7,632.5 782,625C784.3,617.5 786.4,613.1 788,610C789.6,606.9 790.2,606.2 791.4,606.2C792.6,606.2 793.6,606.9 795,610C796.4,613.1 798.2,620 800,625C801.8,630 804,635 806,640C808,645 810,649.7 812,655C814,660.3 815.7,665.8 818,672C820.3,678.2 823.3,685 826,692C828.7,699 831.2,706 834,714C836.8,722 839.8,731.8 843,740C846.2,748.2 849.5,757.3 853,763C856.5,768.7 862.2,772.2 864,774L864,774.3L740,774.3Z" fill="#dae2f6" fill-opacity="0.1" stroke="none"/>
<path d="M740,774C741.7,770.8 747,763.2 750,755C753,746.8 755.3,735.8 758,725C760.7,714.2 763.3,701.7 766,690C768.7,678.3 771.3,665.8 774,655C776.7,644.2 779.7,632.5 782,625C784.3,617.5 786.4,613.1 788,610C789.6,606.9 790.2,606.2 791.4,606.2C792.6,606.2 793.6,606.9 795,610C796.4,613.1 798.2,620 800,625C801.8,630 804,635 806,640C808,645 810,649.7 812,655C814,660.3 815.7,665.8 818,672C820.3,678.2 823.3,685 826,692C828.7,699 831.2,706 834,714C836.8,722 839.8,731.8 843,740C846.2,748.2 849.5,757.3 853,763C856.5,768.7 862.2,772.2 864,774" fill="none" stroke="#dae2f6" stroke-width="3.2" stroke-linejoin="round"/>
<path d="M738,774C739.7,770.3 744.8,762.3 748,752C751.2,741.7 754.2,725.3 757,712C759.8,698.7 762.3,684 765,672C767.7,660 770.7,647.3 773,640C775.3,632.7 777,630.3 779,628C781,625.7 783,625.7 785,626C787,626.3 789,629 791,630C793,631 795.2,632.7 797,632C798.8,631.3 800.3,626.7 802,626C803.7,625.3 805.3,625.3 807,628C808.7,630.7 810.2,635.3 812,642C813.8,648.7 815.8,660 818,668C820.2,676 822.7,683.8 825,690C827.3,696.2 829.8,699.7 832,705C834.2,710.3 835.7,715.3 838,722C840.3,728.7 843,737.7 846,745C849,752.3 852.7,761.2 856,766C859.3,770.8 864.3,772.7 866,774L866,774.3L738,774.3Z" fill="#b3c5eb" fill-opacity="0.1" stroke="none"/>
<path d="M738,774C739.7,770.3 744.8,762.3 748,752C751.2,741.7 754.2,725.3 757,712C759.8,698.7 762.3,684 765,672C767.7,660 770.7,647.3 773,640C775.3,632.7 777,630.3 779,628C781,625.7 783,625.7 785,626C787,626.3 789,629 791,630C793,631 795.2,632.7 797,632C798.8,631.3 800.3,626.7 802,626C803.7,625.3 805.3,625.3 807,628C808.7,630.7 810.2,635.3 812,642C813.8,648.7 815.8,660 818,668C820.2,676 822.7,683.8 825,690C827.3,696.2 829.8,699.7 832,705C834.2,710.3 835.7,715.3 838,722C840.3,728.7 843,737.7 846,745C849,752.3 852.7,761.2 856,766C859.3,770.8 864.3,772.7 866,774" fill="none" stroke="#b3c5eb" stroke-width="3.2" stroke-linejoin="round"/>
<path d="M734,774C734.4,773.9 734.2,774.3 736.6,773.1C739,768.4 744.9,757.2 748.2,745.7C751.5,734.2 754,718 756.5,704.2C759,690.4 761,675.2 763.2,662.7C765.4,650.2 768,637.5 769.8,629.5C771.6,621.5 772.5,618.2 774,615C775.5,611.8 777.2,610.7 778.9,610.4C780.6,610.1 782.3,610.6 784,613C785.7,615.4 787.2,621.8 789,625C790.8,628.2 792.6,631.2 794.7,632C796.8,632.8 799.5,629.2 801.4,629.5C803.3,629.8 804.4,631.2 806,634C807.6,636.8 809.3,639 811.3,646C813.3,653 815.2,667.6 818,675.9C820.8,684.2 825.1,689.2 827.9,695.9C830.7,702.5 831.3,706.9 834.6,715.8C837.9,724.6 843.4,739.6 847.8,749C852.2,758.4 858.1,768.1 861.1,772.3C864.1,774.3 865.2,773.7 866,774L866,774.3L734,774.3Z" fill="#7887cc" fill-opacity="0.1" stroke="none"/>
<path d="M734,774C734.4,773.9 734.2,774.3 736.6,773.1C739,768.4 744.9,757.2 748.2,745.7C751.5,734.2 754,718 756.5,704.2C759,690.4 761,675.2 763.2,662.7C765.4,650.2 768,637.5 769.8,629.5C771.6,621.5 772.5,618.2 774,615C775.5,611.8 777.2,610.7 778.9,610.4C780.6,610.1 782.3,610.6 784,613C785.7,615.4 787.2,621.8 789,625C790.8,628.2 792.6,631.2 794.7,632C796.8,632.8 799.5,629.2 801.4,629.5C803.3,629.8 804.4,631.2 806,634C807.6,636.8 809.3,639 811.3,646C813.3,653 815.2,667.6 818,675.9C820.8,684.2 825.1,689.2 827.9,695.9C830.7,702.5 831.3,706.9 834.6,715.8C837.9,724.6 843.4,739.6 847.8,749C852.2,758.4 858.1,768.1 861.1,772.3C864.1,774.3 865.2,773.7 866,774" fill="none" stroke="#7887cc" stroke-width="3.2" stroke-linejoin="round"/>
<path d="M736,774C736.6,773.9 737.3,774.3 739.9,773.1C742.5,768.9 747.9,759.1 751.5,749C755.1,738.9 758.5,726.9 761.5,712.5C764.5,698.1 767.3,676.5 769.8,662.7C772.3,648.9 774.7,636.6 776.4,629.5C778.1,622.4 778.9,622 780,620C781.1,618 781.8,617.8 783.1,617.8C784.4,617.8 786.1,618.9 788,620C789.9,621.1 792.5,623.1 794.7,624.5C796.9,625.9 799.2,626.1 801.4,628.6C803.6,631.1 805.8,633.7 808,639.4C810.2,645.1 812.1,656.1 814.6,662.7C817.1,669.4 820.2,674.3 823,679.3C825.8,684.3 828.2,686.5 831.2,692.6C834.2,698.7 837.6,707.8 841.2,715.8C844.8,723.8 848.9,733 852.8,740.7C856.7,748.5 860.9,756.9 864.5,762.3C868.1,767.7 872.1,771.1 874.4,773.1C876.6,774.3 877.4,773.9 878,774L878,774.3L736,774.3Z" fill="#4b4ba8" fill-opacity="0.1" stroke="none"/>
<path d="M736,774C736.6,773.9 737.3,774.3 739.9,773.1C742.5,768.9 747.9,759.1 751.5,749C755.1,738.9 758.5,726.9 761.5,712.5C764.5,698.1 767.3,676.5 769.8,662.7C772.3,648.9 774.7,636.6 776.4,629.5C778.1,622.4 778.9,622 780,620C781.1,618 781.8,617.8 783.1,617.8C784.4,617.8 786.1,618.9 788,620C789.9,621.1 792.5,623.1 794.7,624.5C796.9,625.9 799.2,626.1 801.4,628.6C803.6,631.1 805.8,633.7 808,639.4C810.2,645.1 812.1,656.1 814.6,662.7C817.1,669.4 820.2,674.3 823,679.3C825.8,684.3 828.2,686.5 831.2,692.6C834.2,698.7 837.6,707.8 841.2,715.8C844.8,723.8 848.9,733 852.8,740.7C856.7,748.5 860.9,756.9 864.5,762.3C868.1,767.7 872.1,771.1 874.4,773.1C876.6,774.3 877.4,773.9 878,774" fill="none" stroke="#4b4ba8" stroke-width="3.2" stroke-linejoin="round"/>
<polyline points="715.2,482.2 715.2,774.3 894.8,774.3" fill="none" stroke="#000" stroke-width="2.2" stroke-linejoin="miter"/>
<line x1="733.1" y1="768.1" x2="733.1" y2="780.5" stroke="#000" stroke-width="2.2"/>
<line x1="827.3" y1="768.1" x2="827.3" y2="780.5" stroke="#000" stroke-width="2.2"/>
<line x1="708.9" y1="774.3" x2="721.5" y2="774.3" stroke="#000" stroke-width="2.2"/>
<text transform="translate(656.27,784.70) scale(0.953,1)" font-size="30.0" fill="#000">0.0</text>
<line x1="708.9" y1="662.2" x2="721.5" y2="662.2" stroke="#000" stroke-width="2.2"/>
<text transform="translate(656.36,672.60) scale(0.953,1)" font-size="30.0" fill="#000">0.5</text>
<line x1="708.9" y1="550.1" x2="721.5" y2="550.1" stroke="#000" stroke-width="2.2"/>
<text transform="translate(656.27,560.50) scale(0.953,1)" font-size="30.0" fill="#000">1.0</text>
<text transform="translate(725.15,814.84) scale(0.953,1)" font-size="30.0" fill="#000">8</text>
<text transform="translate(810.88,814.84) scale(0.953,1)" font-size="30.0" fill="#000">10</text>
<text transform="translate(755.35,854.90) scale(0.953,1)" font-size="30.0" fill="#000">UMAP1</text>
<text transform="rotate(-90,635.20,628.25) translate(586.40,628.25) scale(0.953,1)" font-size="30.0" fill="#000">Density</text>
<path d="M750,1585C751.1,1585 754.3,1585 756.5,1584.8C758.7,1582.1 761,1576.1 763.2,1569C765.4,1561.9 767.6,1551.5 769.8,1542.4C772,1533.3 774.5,1524.4 776.4,1514.2C778.3,1504 779.7,1493.5 781.4,1481C783.1,1468.5 785,1453.3 786.4,1439.5C787.8,1425.7 788.6,1413.1 789.7,1397.9C790.8,1382.7 791.9,1361.9 793,1348.1C794.1,1334.3 795.3,1321.8 796.4,1314.9C797.5,1308 798.6,1306.3 799.7,1306.6C800.8,1306.9 801.9,1308.3 803,1316.6C804.1,1324.9 805.2,1341.5 806.3,1356.4C807.4,1371.3 808.6,1391 809.7,1406.2C810.8,1421.4 811.6,1434 813,1447.8C814.4,1461.6 816.1,1476.8 818,1489.3C819.9,1501.8 822.4,1512 824.6,1522.5C826.8,1533 828.7,1543.6 831.2,1552.4C833.7,1561.2 837,1570.2 839.5,1575.6C842,1581 844.5,1583.2 846.2,1584.8C848,1585 849.4,1585 850,1585L850,1585L750,1585Z" fill="#0b0b0b" fill-opacity="0.15" stroke="none"/>
<path d="M750,1585C751.1,1585 754.3,1585 756.5,1584.8C758.7,1582.1 761,1576.1 763.2,1569C765.4,1561.9 767.6,1551.5 769.8,1542.4C772,1533.3 774.5,1524.4 776.4,1514.2C778.3,1504 779.7,1493.5 781.4,1481C783.1,1468.5 785,1453.3 786.4,1439.5C787.8,1425.7 788.6,1413.1 789.7,1397.9C790.8,1382.7 791.9,1361.9 793,1348.1C794.1,1334.3 795.3,1321.8 796.4,1314.9C797.5,1308 798.6,1306.3 799.7,1306.6C800.8,1306.9 801.9,1308.3 803,1316.6C804.1,1324.9 805.2,1341.5 806.3,1356.4C807.4,1371.3 808.6,1391 809.7,1406.2C810.8,1421.4 811.6,1434 813,1447.8C814.4,1461.6 816.1,1476.8 818,1489.3C819.9,1501.8 822.4,1512 824.6,1522.5C826.8,1533 828.7,1543.6 831.2,1552.4C833.7,1561.2 837,1570.2 839.5,1575.6C842,1581 844.5,1583.2 846.2,1584.8C848,1585 849.4,1585 850,1585" fill="none" stroke="#0b0b0b" stroke-width="3.2" stroke-linejoin="round"/>
<path d="M726,1585C726.9,1584.9 728.5,1585 731.6,1584.6C734.8,1581.1 741,1574.3 744.9,1564C748.8,1553.7 751.8,1537.7 754.9,1522.5C758,1507.3 760.7,1487.9 763.2,1472.7C765.7,1457.5 767.6,1441.7 769.8,1431.2C772,1420.7 774.5,1414 776.4,1409.6C778.3,1405.2 779.7,1404.6 781.4,1404.6C783.1,1404.6 784.7,1406 786.4,1409.6C788.1,1413.2 790,1420.7 791.4,1426.2C792.8,1431.7 793.3,1436.4 794.7,1442.8C796.1,1449.2 797.8,1456.7 799.7,1464.4C801.6,1472.2 804.1,1481.5 806.3,1489.3C808.5,1497 811.2,1506.3 813,1510.9C814.8,1515.5 815.6,1515.6 817,1517C818.4,1518.4 819.5,1516.1 821.3,1519.2C823.1,1522.3 825.7,1529.2 827.9,1535.8C830.1,1542.4 831.8,1551.8 834.6,1559C837.4,1566.2 841.5,1574.6 844.5,1578.9C847.5,1583.2 850.9,1583.8 852.8,1584.8C854.7,1585 855.5,1585 856,1585L856,1585L726,1585Z" fill="#b22622" fill-opacity="0.1" stroke="none"/>
<path d="M726,1585C726.9,1584.9 728.5,1585 731.6,1584.6C734.8,1581.1 741,1574.3 744.9,1564C748.8,1553.7 751.8,1537.7 754.9,1522.5C758,1507.3 760.7,1487.9 763.2,1472.7C765.7,1457.5 767.6,1441.7 769.8,1431.2C772,1420.7 774.5,1414 776.4,1409.6C778.3,1405.2 779.7,1404.6 781.4,1404.6C783.1,1404.6 784.7,1406 786.4,1409.6C788.1,1413.2 790,1420.7 791.4,1426.2C792.8,1431.7 793.3,1436.4 794.7,1442.8C796.1,1449.2 797.8,1456.7 799.7,1464.4C801.6,1472.2 804.1,1481.5 806.3,1489.3C808.5,1497 811.2,1506.3 813,1510.9C814.8,1515.5 815.6,1515.6 817,1517C818.4,1518.4 819.5,1516.1 821.3,1519.2C823.1,1522.3 825.7,1529.2 827.9,1535.8C830.1,1542.4 831.8,1551.8 834.6,1559C837.4,1566.2 841.5,1574.6 844.5,1578.9C847.5,1583.2 850.9,1583.8 852.8,1584.8C854.7,1585 855.5,1585 856,1585" fill="none" stroke="#b22622" stroke-width="3.2" stroke-linejoin="round"/>
<path d="M722,1585C723.3,1584.8 726.2,1585 730,1583.9C733.8,1579 740.5,1568.7 744.9,1555.7C749.3,1542.7 753.2,1518.4 756.5,1505.9C759.8,1493.5 762.3,1486.7 764.8,1481C767.3,1475.3 769.3,1472.4 771.5,1471.8C773.7,1471.2 775.6,1475.5 778.1,1477.6C780.6,1479.7 783.6,1484.6 786.4,1484.3C789.2,1484 791.7,1479.6 794.7,1476C797.8,1472.4 801.9,1465.4 804.7,1462.7C807.5,1460 809.1,1459.1 811.3,1460C813.5,1460.9 815.7,1463 818,1468C820.3,1473 822.7,1481.3 825,1490C827.3,1498.7 829.5,1509.7 832,1520C834.5,1530.3 837,1542.8 840,1552C843,1561.2 846.7,1569.5 850,1575C853.3,1580.5 858.3,1583.3 860,1585L860,1585L722,1585Z" fill="#e5684c" fill-opacity="0.1" stroke="none"/>
<path d="M722,1585C723.3,1584.8 726.2,1585 730,1583.9C733.8,1579 740.5,1568.7 744.9,1555.7C749.3,1542.7 753.2,1518.4 756.5,1505.9C759.8,1493.5 762.3,1486.7 764.8,1481C767.3,1475.3 769.3,1472.4 771.5,1471.8C773.7,1471.2 775.6,1475.5 778.1,1477.6C780.6,1479.7 783.6,1484.6 786.4,1484.3C789.2,1484 791.7,1479.6 794.7,1476C797.8,1472.4 801.9,1465.4 804.7,1462.7C807.5,1460 809.1,1459.1 811.3,1460C813.5,1460.9 815.7,1463 818,1468C820.3,1473 822.7,1481.3 825,1490C827.3,1498.7 829.5,1509.7 832,1520C834.5,1530.3 837,1542.8 840,1552C843,1561.2 846.7,1569.5 850,1575C853.3,1580.5 858.3,1583.3 860,1585" fill="none" stroke="#e5684c" stroke-width="3.2" stroke-linejoin="round"/>
<path d="M725,1585C727.5,1582.5 735.5,1578.3 740,1570C744.5,1561.7 748.3,1546.7 752,1535C755.7,1523.3 758.7,1510 762,1500C765.3,1490 768.3,1481.7 772,1475C775.7,1468.3 780,1464.2 784,1460C788,1455.8 792,1452.3 796,1450C800,1447.7 804.3,1445.7 808,1446C811.7,1446.3 814.7,1447.2 818,1452C821.3,1456.8 824.7,1464.5 828,1475C831.3,1485.5 834.7,1502.2 838,1515C841.3,1527.8 844.7,1542 848,1552C851.3,1562 854.3,1569.5 858,1575C861.7,1580.5 868,1583.3 870,1585L870,1585L725,1585Z" fill="#fcaa88" fill-opacity="0.1" stroke="none"/>
<path d="M725,1585C727.5,1582.5 735.5,1578.3 740,1570C744.5,1561.7 748.3,1546.7 752,1535C755.7,1523.3 758.7,1510 762,1500C765.3,1490 768.3,1481.7 772,1475C775.7,1468.3 780,1464.2 784,1460C788,1455.8 792,1452.3 796,1450C800,1447.7 804.3,1445.7 808,1446C811.7,1446.3 814.7,1447.2 818,1452C821.3,1456.8 824.7,1464.5 828,1475C831.3,1485.5 834.7,1502.2 838,1515C841.3,1527.8 844.7,1542 848,1552C851.3,1562 854.3,1569.5 858,1575C861.7,1580.5 868,1583.3 870,1585" fill="none" stroke="#fcaa88" stroke-width="3.2" stroke-linejoin="round"/>
<path d="M728,1585C730.3,1582.2 737.7,1577.2 742,1568C746.3,1558.8 750.3,1542.2 754,1530C757.7,1517.8 760.5,1505 764,1495C767.5,1485 771.3,1476.5 775,1470C778.7,1463.5 782.2,1459.7 786,1456C789.8,1452.3 794,1449.3 798,1448C802,1446.7 806.3,1446.3 810,1448C813.7,1449.7 816.7,1452.3 820,1458C823.3,1463.7 826.7,1471.7 830,1482C833.3,1492.3 836.7,1507.7 840,1520C843.3,1532.3 846.7,1546.3 850,1556C853.3,1565.7 856.7,1573.2 860,1578C863.3,1582.8 868.3,1583.8 870,1585L870,1585L728,1585Z" fill="#f3d8cb" fill-opacity="0.1" stroke="none"/>
<path d="M728,1585C730.3,1582.2 737.7,1577.2 742,1568C746.3,1558.8 750.3,1542.2 754,1530C757.7,1517.8 760.5,1505 764,1495C767.5,1485 771.3,1476.5 775,1470C778.7,1463.5 782.2,1459.7 786,1456C789.8,1452.3 794,1449.3 798,1448C802,1446.7 806.3,1446.3 810,1448C813.7,1449.7 816.7,1452.3 820,1458C823.3,1463.7 826.7,1471.7 830,1482C833.3,1492.3 836.7,1507.7 840,1520C843.3,1532.3 846.7,1546.3 850,1556C853.3,1565.7 856.7,1573.2 860,1578C863.3,1582.8 868.3,1583.8 870,1585" fill="none" stroke="#f3d8cb" stroke-width="3.2" stroke-linejoin="round"/>
<path d="M730,1585C732,1582.2 738.3,1575.5 742,1568C745.7,1560.5 749,1548.3 752,1540C755,1531.7 757.6,1522.8 760,1518C762.4,1513.2 764.3,1513.1 766.5,1510.9C768.7,1508.7 770.6,1510.2 773,1505C775.4,1499.8 778.2,1489.2 781,1480C783.8,1470.8 786.8,1458.3 790,1450C793.2,1441.7 797,1434.3 800,1430C803,1425.7 805.3,1423.7 808,1424C810.7,1424.3 813.3,1426 816,1432C818.7,1438 821.3,1448.7 824,1460C826.7,1471.3 829.2,1486.7 832,1500C834.8,1513.3 837.8,1528 841,1540C844.2,1552 847.5,1564.5 851,1572C854.5,1579.5 860.2,1582.8 862,1585L862,1585L730,1585Z" fill="#dae2f6" fill-opacity="0.1" stroke="none"/>
<path d="M730,1585C732,1582.2 738.3,1575.5 742,1568C745.7,1560.5 749,1548.3 752,1540C755,1531.7 757.6,1522.8 760,1518C762.4,1513.2 764.3,1513.1 766.5,1510.9C768.7,1508.7 770.6,1510.2 773,1505C775.4,1499.8 778.2,1489.2 781,1480C783.8,1470.8 786.8,1458.3 790,1450C793.2,1441.7 797,1434.3 800,1430C803,1425.7 805.3,1423.7 808,1424C810.7,1424.3 813.3,1426 816,1432C818.7,1438 821.3,1448.7 824,1460C826.7,1471.3 829.2,1486.7 832,1500C834.8,1513.3 837.8,1528 841,1540C844.2,1552 847.5,1564.5 851,1572C854.5,1579.5 860.2,1582.8 862,1585" fill="none" stroke="#dae2f6" stroke-width="3.2" stroke-linejoin="round"/>
<path d="M734,1585C736,1582.5 742.3,1576.7 746,1570C749.7,1563.3 752.8,1554.2 756,1545C759.2,1535.8 762,1525 765,1515C768,1505 771,1495 774,1485C777,1475 780,1464.2 783,1455C786,1445.8 789.2,1436.2 792,1430C794.8,1423.8 797.2,1420.7 800,1418C802.8,1415.3 806.1,1413.4 808.8,1413.7C811.5,1414 813.6,1415.6 816,1420C818.4,1424.4 820.7,1430.8 823,1440C825.3,1449.2 827.5,1461.7 830,1475C832.5,1488.3 835.2,1506.2 838,1520C840.8,1533.8 843.8,1548 847,1558C850.2,1568 853.8,1575.5 857,1580C860.2,1584.5 864.5,1584.2 866,1585L866,1585L734,1585Z" fill="#b3c5eb" fill-opacity="0.1" stroke="none"/>
<path d="M734,1585C736,1582.5 742.3,1576.7 746,1570C749.7,1563.3 752.8,1554.2 756,1545C759.2,1535.8 762,1525 765,1515C768,1505 771,1495 774,1485C777,1475 780,1464.2 783,1455C786,1445.8 789.2,1436.2 792,1430C794.8,1423.8 797.2,1420.7 800,1418C802.8,1415.3 806.1,1413.4 808.8,1413.7C811.5,1414 813.6,1415.6 816,1420C818.4,1424.4 820.7,1430.8 823,1440C825.3,1449.2 827.5,1461.7 830,1475C832.5,1488.3 835.2,1506.2 838,1520C840.8,1533.8 843.8,1548 847,1558C850.2,1568 853.8,1575.5 857,1580C860.2,1584.5 864.5,1584.2 866,1585" fill="none" stroke="#b3c5eb" stroke-width="3.2" stroke-linejoin="round"/>
<path d="M736,1585C738,1582.8 744,1577.8 748,1572C752,1566.2 756.3,1558.7 760,1550C763.7,1541.3 766.8,1530.8 770,1520C773.2,1509.2 776,1495.7 779,1485C782,1474.3 785.5,1464.5 788.1,1456.1C790.7,1447.7 792.4,1440.3 794.7,1434.5C797,1428.7 799.2,1423.9 802,1421C804.8,1418.1 808.1,1415.9 811.3,1417C814.5,1418.1 818.5,1421.3 821.3,1427.8C824.1,1434.3 825.7,1444.5 827.9,1456.1C830.1,1467.7 832.4,1483.8 834.6,1497.6C836.8,1511.4 838.4,1526.1 841.2,1539.1C844,1552.1 848.1,1567.9 851.2,1575.6C854.3,1583.2 858.5,1583.4 860,1585L860,1585L736,1585Z" fill="#7887cc" fill-opacity="0.1" stroke="none"/>
<path d="M736,1585C738,1582.8 744,1577.8 748,1572C752,1566.2 756.3,1558.7 760,1550C763.7,1541.3 766.8,1530.8 770,1520C773.2,1509.2 776,1495.7 779,1485C782,1474.3 785.5,1464.5 788.1,1456.1C790.7,1447.7 792.4,1440.3 794.7,1434.5C797,1428.7 799.2,1423.9 802,1421C804.8,1418.1 808.1,1415.9 811.3,1417C814.5,1418.1 818.5,1421.3 821.3,1427.8C824.1,1434.3 825.7,1444.5 827.9,1456.1C830.1,1467.7 832.4,1483.8 834.6,1497.6C836.8,1511.4 838.4,1526.1 841.2,1539.1C844,1552.1 848.1,1567.9 851.2,1575.6C854.3,1583.2 858.5,1583.4 860,1585" fill="none" stroke="#7887cc" stroke-width="3.2" stroke-linejoin="round"/>
<path d="M738,1585C738.9,1585 740.1,1585 743.2,1584.8C746.3,1582.1 752.6,1573.8 756.5,1569C760.4,1564.2 763.7,1561.2 766.5,1555.7C769.3,1550.2 771.2,1544.1 773.1,1535.8C775,1527.5 776.4,1519.2 778.1,1505.9C779.8,1492.6 781.4,1471.3 783.1,1456.1C784.8,1440.9 786.5,1425 788.1,1414.5C789.8,1404 791.5,1397.6 793,1393C794.5,1388.4 795.8,1386.8 797.2,1387.1C798.6,1387.4 799.9,1388.6 801.4,1394.6C802.9,1400.5 804.6,1413.1 806.3,1422.8C807.9,1432.5 809.6,1444.7 811.3,1452.7C813,1460.7 814.9,1467.4 816.3,1471C817.7,1474.6 818.4,1474.3 819.6,1474.3C820.8,1474.3 822.1,1472.1 823.5,1471C824.9,1469.9 826.3,1466 827.9,1467.7C829.5,1469.4 831.2,1473.2 832.9,1481C834.6,1488.8 836,1503.1 837.9,1514.2C839.8,1525.3 842,1537.7 844.5,1547.4C847,1557.1 850,1566.1 852.8,1572.3C855.6,1578.5 858.9,1582.7 861.1,1584.8C863.3,1585 865.2,1585 866,1585L866,1585L738,1585Z" fill="#4b4ba8" fill-opacity="0.1" stroke="none"/>
<path d="M738,1585C738.9,1585 740.1,1585 743.2,1584.8C746.3,1582.1 752.6,1573.8 756.5,1569C760.4,1564.2 763.7,1561.2 766.5,1555.7C769.3,1550.2 771.2,1544.1 773.1,1535.8C775,1527.5 776.4,1519.2 778.1,1505.9C779.8,1492.6 781.4,1471.3 783.1,1456.1C784.8,1440.9 786.5,1425 788.1,1414.5C789.8,1404 791.5,1397.6 793,1393C794.5,1388.4 795.8,1386.8 797.2,1387.1C798.6,1387.4 799.9,1388.6 801.4,1394.6C802.9,1400.5 804.6,1413.1 806.3,1422.8C807.9,1432.5 809.6,1444.7 811.3,1452.7C813,1460.7 814.9,1467.4 816.3,1471C817.7,1474.6 818.4,1474.3 819.6,1474.3C820.8,1474.3 822.1,1472.1 823.5,1471C824.9,1469.9 826.3,1466 827.9,1467.7C829.5,1469.4 831.2,1473.2 832.9,1481C834.6,1488.8 836,1503.1 837.9,1514.2C839.8,1525.3 842,1537.7 844.5,1547.4C847,1557.1 850,1566.1 852.8,1572.3C855.6,1578.5 858.9,1582.7 861.1,1584.8C863.3,1585 865.2,1585 866,1585" fill="none" stroke="#4b4ba8" stroke-width="3.2" stroke-linejoin="round"/>
<polyline points="715.2,1292.6 715.2,1585 894.8,1585" fill="none" stroke="#000" stroke-width="2.2" stroke-linejoin="miter"/>
<line x1="733.1" y1="1578.8" x2="733.1" y2="1591.2" stroke="#000" stroke-width="2.2"/>
<line x1="827.3" y1="1578.8" x2="827.3" y2="1591.2" stroke="#000" stroke-width="2.2"/>
<line x1="708.9" y1="1585" x2="721.5" y2="1585" stroke="#000" stroke-width="2.2"/>
<text transform="translate(656.27,1595.40) scale(0.953,1)" font-size="30.0" fill="#000">0.0</text>
<line x1="708.9" y1="1485" x2="721.5" y2="1485" stroke="#000" stroke-width="2.2"/>
<text transform="translate(656.36,1495.40) scale(0.953,1)" font-size="30.0" fill="#000">0.5</text>
<line x1="708.9" y1="1385" x2="721.5" y2="1385" stroke="#000" stroke-width="2.2"/>
<text transform="translate(656.27,1395.40) scale(0.953,1)" font-size="30.0" fill="#000">1.0</text>
<text transform="translate(725.15,1625.54) scale(0.953,1)" font-size="30.0" fill="#000">8</text>
<text transform="translate(810.88,1625.54) scale(0.953,1)" font-size="30.0" fill="#000">10</text>
<text transform="translate(755.35,1665.60) scale(0.953,1)" font-size="30.0" fill="#000">UMAP1</text>
<text transform="rotate(-90,635.20,1438.80) translate(586.40,1438.80) scale(0.953,1)" font-size="30.0" fill="#000">Density</text>
<path d="M1070,774.3C1070.8,774.2 1072.6,774.3 1074.8,773.9C1077,773 1080.6,772.2 1083.1,768.9C1085.6,765.6 1087.5,760.6 1089.7,754C1091.9,747.4 1094.2,740.2 1096.4,729.1C1098.6,718 1100.8,701.5 1103,687.6C1105.2,673.8 1107.8,658.5 1109.7,646C1111.7,633.5 1113.1,623.3 1114.7,612.8C1116.3,602.3 1118.1,591.3 1119.6,583C1121.1,574.7 1122.5,567 1123.8,563C1125,559 1125.6,558.1 1127.1,558.9C1128.6,559.7 1131.1,563.2 1132.9,568C1134.7,572.8 1136.2,582.6 1137.9,587.9C1139.6,593.2 1140.7,594.6 1142.9,599.6C1145.1,604.6 1148.7,612.3 1151.2,617.8C1153.7,623.3 1155.9,626.7 1157.8,632.8C1159.7,638.9 1161.1,645.3 1162.8,654.4C1164.5,663.5 1166.1,676.5 1167.8,687.6C1169.5,698.7 1171.1,710 1172.8,720.8C1174.5,731.6 1176,744.3 1177.8,752.3C1179.6,760.3 1181.4,765.3 1183.6,768.9C1185.8,772.5 1189.1,773 1191,773.9C1192.9,774.3 1194.3,774.2 1195,774.3L1195,774.3L1070,774.3Z" fill="#0b0b0b" fill-opacity="0.15" stroke="none"/>
<path d="M1070,774.3C1070.8,774.2 1072.6,774.3 1074.8,773.9C1077,773 1080.6,772.2 1083.1,768.9C1085.6,765.6 1087.5,760.6 1089.7,754C1091.9,747.4 1094.2,740.2 1096.4,729.1C1098.6,718 1100.8,701.5 1103,687.6C1105.2,673.8 1107.8,658.5 1109.7,646C1111.7,633.5 1113.1,623.3 1114.7,612.8C1116.3,602.3 1118.1,591.3 1119.6,583C1121.1,574.7 1122.5,567 1123.8,563C1125,559 1125.6,558.1 1127.1,558.9C1128.6,559.7 1131.1,563.2 1132.9,568C1134.7,572.8 1136.2,582.6 1137.9,587.9C1139.6,593.2 1140.7,594.6 1142.9,599.6C1145.1,604.6 1148.7,612.3 1151.2,617.8C1153.7,623.3 1155.9,626.7 1157.8,632.8C1159.7,638.9 1161.1,645.3 1162.8,654.4C1164.5,663.5 1166.1,676.5 1167.8,687.6C1169.5,698.7 1171.1,710 1172.8,720.8C1174.5,731.6 1176,744.3 1177.8,752.3C1179.6,760.3 1181.4,765.3 1183.6,768.9C1185.8,772.5 1189.1,773 1191,773.9C1192.9,774.3 1194.3,774.2 1195,774.3" fill="none" stroke="#0b0b0b" stroke-width="3.2" stroke-linejoin="round"/>
<path d="M1025,774.3C1025.8,774.2 1026.7,774.3 1030,774C1033.3,772.5 1041,771.7 1044.9,765.6C1048.8,759.5 1050.7,747.6 1053.2,737.4C1055.7,727.2 1057.7,713.1 1059.9,704.2C1062.1,695.4 1064.6,688.4 1066.5,684.3C1068.4,680.1 1070,680.3 1071.5,679.3C1073,678.2 1074.1,681.2 1075.5,678C1076.9,674.8 1078.2,668.3 1080,660C1081.8,651.7 1083.8,637.2 1086,628C1088.2,618.8 1090.5,610.8 1093.1,604.5C1095.7,598.2 1098.6,591.8 1101.4,590.4C1104.2,589 1106.9,592.5 1109.7,596.2C1112.5,599.9 1115.2,604.5 1118,612.8C1120.8,621.1 1123.5,633.5 1126.3,646C1129.1,658.5 1131.8,675.1 1134.6,687.6C1137.4,700.1 1139.9,711.1 1142.9,720.8C1145.9,730.5 1149.2,738.2 1152.8,745.7C1156.4,753.2 1160.3,760.8 1164.5,765.6C1168.7,770.4 1175.6,772.8 1177.8,774.3L1177.8,774.3L1025,774.3Z" fill="#b22622" fill-opacity="0.1" stroke="none"/>
<path d="M1025,774.3C1025.8,774.2 1026.7,774.3 1030,774C1033.3,772.5 1041,771.7 1044.9,765.6C1048.8,759.5 1050.7,747.6 1053.2,737.4C1055.7,727.2 1057.7,713.1 1059.9,704.2C1062.1,695.4 1064.6,688.4 1066.5,684.3C1068.4,680.1 1070,680.3 1071.5,679.3C1073,678.2 1074.1,681.2 1075.5,678C1076.9,674.8 1078.2,668.3 1080,660C1081.8,651.7 1083.8,637.2 1086,628C1088.2,618.8 1090.5,610.8 1093.1,604.5C1095.7,598.2 1098.6,591.8 1101.4,590.4C1104.2,589 1106.9,592.5 1109.7,596.2C1112.5,599.9 1115.2,604.5 1118,612.8C1120.8,621.1 1123.5,633.5 1126.3,646C1129.1,658.5 1131.8,675.1 1134.6,687.6C1137.4,700.1 1139.9,711.1 1142.9,720.8C1145.9,730.5 1149.2,738.2 1152.8,745.7C1156.4,753.2 1160.3,760.8 1164.5,765.6C1168.7,770.4 1175.6,772.8 1177.8,774.3" fill="none" stroke="#b22622" stroke-width="3.2" stroke-linejoin="round"/>
<path d="M1045,774.3C1046.2,772.8 1049.5,769.9 1052,765C1054.5,760.1 1057.3,753.3 1060,745C1062.7,736.7 1065.5,726.7 1068,715C1070.5,703.3 1072.7,688.8 1075,675C1077.3,661.2 1079.5,644 1082,632C1084.5,620 1087.3,611.7 1090,603C1092.7,594.3 1095.5,590.4 1098,579.6C1100.5,568.8 1102.8,550 1104.7,538.1C1106.7,526.2 1108.1,515.2 1109.7,508.2C1111.3,501.1 1112.7,495 1114.3,495.8C1115.9,496.6 1118.1,504.8 1119.6,513.2C1121,521.6 1121.9,532.6 1123,546.4C1124.1,560.2 1125.2,579.6 1126.3,596.2C1127.4,612.8 1127.9,629.4 1129.6,646C1131.2,662.6 1133.4,680.7 1136.2,695.9C1139,711.1 1142.1,725.2 1146.2,737.4C1150.3,749.6 1157.1,762.8 1161.1,768.9C1165.1,774.3 1168.5,773.4 1170,774.3L1170,774.3L1045,774.3Z" fill="#e5684c" fill-opacity="0.1" stroke="none"/>
<path d="M1045,774.3C1046.2,772.8 1049.5,769.9 1052,765C1054.5,760.1 1057.3,753.3 1060,745C1062.7,736.7 1065.5,726.7 1068,715C1070.5,703.3 1072.7,688.8 1075,675C1077.3,661.2 1079.5,644 1082,632C1084.5,620 1087.3,611.7 1090,603C1092.7,594.3 1095.5,590.4 1098,579.6C1100.5,568.8 1102.8,550 1104.7,538.1C1106.7,526.2 1108.1,515.2 1109.7,508.2C1111.3,501.1 1112.7,495 1114.3,495.8C1115.9,496.6 1118.1,504.8 1119.6,513.2C1121,521.6 1121.9,532.6 1123,546.4C1124.1,560.2 1125.2,579.6 1126.3,596.2C1127.4,612.8 1127.9,629.4 1129.6,646C1131.2,662.6 1133.4,680.7 1136.2,695.9C1139,711.1 1142.1,725.2 1146.2,737.4C1150.3,749.6 1157.1,762.8 1161.1,768.9C1165.1,774.3 1168.5,773.4 1170,774.3" fill="none" stroke="#e5684c" stroke-width="3.2" stroke-linejoin="round"/>
<path d="M1045,774.3C1046.8,771.1 1052.7,763.2 1056,755C1059.3,746.8 1062,737.5 1065,725C1068,712.5 1071,696.2 1074,680C1077,663.8 1080,643 1083,628C1086,613 1089.2,601.3 1092,590C1094.8,578.7 1097.5,570.3 1100,560C1102.5,549.7 1105,537 1107,528C1109,519 1110.8,510.3 1112,506C1113.2,501.7 1113.5,501.3 1114.5,502C1115.5,502.7 1116.8,503.7 1118,510C1119.2,516.3 1120.7,526.7 1122,540C1123.3,553.3 1124.7,573.3 1126,590C1127.3,606.7 1128.3,623.3 1130,640C1131.7,656.7 1133.5,674.2 1136,690C1138.5,705.8 1141.5,722.5 1145,735C1148.5,747.5 1153.2,758.5 1157,765C1160.8,771.5 1166.2,772.8 1168,774.3L1168,774.3L1045,774.3Z" fill="#fcaa88" fill-opacity="0.1" stroke="none"/>
<path d="M1045,774.3C1046.8,771.1 1052.7,763.2 1056,755C1059.3,746.8 1062,737.5 1065,725C1068,712.5 1071,696.2 1074,680C1077,663.8 1080,643 1083,628C1086,613 1089.2,601.3 1092,590C1094.8,578.7 1097.5,570.3 1100,560C1102.5,549.7 1105,537 1107,528C1109,519 1110.8,510.3 1112,506C1113.2,501.7 1113.5,501.3 1114.5,502C1115.5,502.7 1116.8,503.7 1118,510C1119.2,516.3 1120.7,526.7 1122,540C1123.3,553.3 1124.7,573.3 1126,590C1127.3,606.7 1128.3,623.3 1130,640C1131.7,656.7 1133.5,674.2 1136,690C1138.5,705.8 1141.5,722.5 1145,735C1148.5,747.5 1153.2,758.5 1157,765C1160.8,771.5 1166.2,772.8 1168,774.3" fill="none" stroke="#fcaa88" stroke-width="3.2" stroke-linejoin="round"/>
<path d="M1046,774.3C1047.8,770.6 1053.7,761.4 1057,752C1060.3,742.6 1063,731.7 1066,718C1069,704.3 1072,685.5 1075,670C1078,654.5 1081.2,637 1084,625C1086.8,613 1089.3,606.3 1092,598C1094.7,589.7 1097.5,583.8 1100,575C1102.5,566.2 1105,554.2 1107,545C1109,535.8 1110.8,525.3 1112,520C1113.2,514.7 1113.5,513 1114.5,513C1115.5,513 1116.8,513.8 1118,520C1119.2,526.2 1120.7,537 1122,550C1123.3,563 1124.7,582.2 1126,598C1127.3,613.8 1128.3,629.3 1130,645C1131.7,660.7 1133.5,677 1136,692C1138.5,707 1141.5,722.7 1145,735C1148.5,747.3 1153.2,759.5 1157,766C1160.8,772.5 1166.2,772.9 1168,774.3L1168,774.3L1046,774.3Z" fill="#f3d8cb" fill-opacity="0.1" stroke="none"/>
<path d="M1046,774.3C1047.8,770.6 1053.7,761.4 1057,752C1060.3,742.6 1063,731.7 1066,718C1069,704.3 1072,685.5 1075,670C1078,654.5 1081.2,637 1084,625C1086.8,613 1089.3,606.3 1092,598C1094.7,589.7 1097.5,583.8 1100,575C1102.5,566.2 1105,554.2 1107,545C1109,535.8 1110.8,525.3 1112,520C1113.2,514.7 1113.5,513 1114.5,513C1115.5,513 1116.8,513.8 1118,520C1119.2,526.2 1120.7,537 1122,550C1123.3,563 1124.7,582.2 1126,598C1127.3,613.8 1128.3,629.3 1130,645C1131.7,660.7 1133.5,677 1136,692C1138.5,707 1141.5,722.7 1145,735C1148.5,747.3 1153.2,759.5 1157,766C1160.8,772.5 1166.2,772.9 1168,774.3" fill="none" stroke="#f3d8cb" stroke-width="3.2" stroke-linejoin="round"/>
<path d="M1046,774.3C1047.7,770.6 1053,761 1056,752C1059,743 1061.3,732 1064,720C1066.7,708 1069.3,693.3 1072,680C1074.7,666.7 1077.3,651.7 1080,640C1082.7,628.3 1085.5,616.7 1088,610C1090.5,603.3 1092.8,603.3 1095,600C1097.2,596.7 1099,596.7 1101,590C1103,583.3 1105.2,569 1107,560C1108.8,551 1110.8,540.5 1112,536C1113.2,531.5 1113.5,532 1114.5,533C1115.5,534 1116.8,535.8 1118,542C1119.2,548.2 1120.7,558.3 1122,570C1123.3,581.7 1124.5,597 1126,612C1127.5,627 1129.2,644.5 1131,660C1132.8,675.5 1134.5,690.8 1137,705C1139.5,719.2 1142.7,734.5 1146,745C1149.3,755.5 1153.7,763.1 1157,768C1160.3,772.9 1164.5,773.2 1166,774.3L1166,774.3L1046,774.3Z" fill="#dae2f6" fill-opacity="0.1" stroke="none"/>
<path d="M1046,774.3C1047.7,770.6 1053,761 1056,752C1059,743 1061.3,732 1064,720C1066.7,708 1069.3,693.3 1072,680C1074.7,666.7 1077.3,651.7 1080,640C1082.7,628.3 1085.5,616.7 1088,610C1090.5,603.3 1092.8,603.3 1095,600C1097.2,596.7 1099,596.7 1101,590C1103,583.3 1105.2,569 1107,560C1108.8,551 1110.8,540.5 1112,536C1113.2,531.5 1113.5,532 1114.5,533C1115.5,534 1116.8,535.8 1118,542C1119.2,548.2 1120.7,558.3 1122,570C1123.3,581.7 1124.5,597 1126,612C1127.5,627 1129.2,644.5 1131,660C1132.8,675.5 1134.5,690.8 1137,705C1139.5,719.2 1142.7,734.5 1146,745C1149.3,755.5 1153.7,763.1 1157,768C1160.3,772.9 1164.5,773.2 1166,774.3" fill="none" stroke="#dae2f6" stroke-width="3.2" stroke-linejoin="round"/>
<path d="M1044,774.3C1045.5,771.6 1050.2,764.5 1053,758C1055.8,751.5 1058.5,743.8 1061,735C1063.5,726.2 1065.8,716.2 1068,705C1070.2,693.8 1072,680.5 1074,668C1076,655.5 1078,640.3 1080,630C1082,619.7 1084.1,611.6 1086,606C1087.9,600.4 1089.7,597.3 1091.4,596.2C1093.1,595.1 1094.8,601.5 1096.4,599.6C1098,597.7 1099.4,591.6 1101,585C1102.6,578.4 1104.3,568.8 1106,560C1107.7,551.2 1109.6,537.8 1111,532C1112.4,526.2 1113.3,524.5 1114.5,525C1115.7,525.5 1116.8,527.8 1118,535C1119.2,542.2 1120.7,555.2 1122,568C1123.3,580.8 1124.7,596.7 1126,612C1127.3,627.3 1128.3,644.5 1130,660C1131.7,675.5 1133.7,690.8 1136,705C1138.3,719.2 1140.8,734.5 1144,745C1147.2,755.5 1151.7,763.1 1155,768C1158.3,772.9 1162.5,773.2 1164,774.3L1164,774.3L1044,774.3Z" fill="#b3c5eb" fill-opacity="0.1" stroke="none"/>
<path d="M1044,774.3C1045.5,771.6 1050.2,764.5 1053,758C1055.8,751.5 1058.5,743.8 1061,735C1063.5,726.2 1065.8,716.2 1068,705C1070.2,693.8 1072,680.5 1074,668C1076,655.5 1078,640.3 1080,630C1082,619.7 1084.1,611.6 1086,606C1087.9,600.4 1089.7,597.3 1091.4,596.2C1093.1,595.1 1094.8,601.5 1096.4,599.6C1098,597.7 1099.4,591.6 1101,585C1102.6,578.4 1104.3,568.8 1106,560C1107.7,551.2 1109.6,537.8 1111,532C1112.4,526.2 1113.3,524.5 1114.5,525C1115.7,525.5 1116.8,527.8 1118,535C1119.2,542.2 1120.7,555.2 1122,568C1123.3,580.8 1124.7,596.7 1126,612C1127.3,627.3 1128.3,644.5 1130,660C1131.7,675.5 1133.7,690.8 1136,705C1138.3,719.2 1140.8,734.5 1144,745C1147.2,755.5 1151.7,763.1 1155,768C1158.3,772.9 1162.5,773.2 1164,774.3" fill="none" stroke="#b3c5eb" stroke-width="3.2" stroke-linejoin="round"/>
<path d="M1043,774.3C1044.7,771.6 1049.8,765 1053,758C1056.2,751 1059.2,742 1062,732C1064.8,722 1067.5,710.8 1070,698C1072.5,685.2 1074.8,668 1077,655C1079.2,642 1080.9,629.8 1083,620C1085.1,610.2 1087.5,601.5 1089.7,596.2C1091.9,590.9 1094.1,591.5 1096,588C1097.9,584.5 1099.3,582.5 1101,575C1102.7,567.5 1104.6,551.9 1106.3,543.1C1108,534.3 1109.7,526.7 1111,522C1112.3,517.3 1113.1,514.9 1114.3,514.9C1115.5,514.9 1116.7,515.3 1118,522C1119.3,528.7 1120.7,542 1122,555C1123.3,568 1124.7,584.2 1126,600C1127.3,615.8 1128.5,633.3 1130,650C1131.5,666.7 1133,684.7 1135,700C1137,715.3 1139.2,730.7 1142,742C1144.8,753.3 1148.7,762.6 1152,768C1155.3,773.4 1160.3,773.2 1162,774.3L1162,774.3L1043,774.3Z" fill="#7887cc" fill-opacity="0.1" stroke="none"/>
<path d="M1043,774.3C1044.7,771.6 1049.8,765 1053,758C1056.2,751 1059.2,742 1062,732C1064.8,722 1067.5,710.8 1070,698C1072.5,685.2 1074.8,668 1077,655C1079.2,642 1080.9,629.8 1083,620C1085.1,610.2 1087.5,601.5 1089.7,596.2C1091.9,590.9 1094.1,591.5 1096,588C1097.9,584.5 1099.3,582.5 1101,575C1102.7,567.5 1104.6,551.9 1106.3,543.1C1108,534.3 1109.7,526.7 1111,522C1112.3,517.3 1113.1,514.9 1114.3,514.9C1115.5,514.9 1116.7,515.3 1118,522C1119.3,528.7 1120.7,542 1122,555C1123.3,568 1124.7,584.2 1126,600C1127.3,615.8 1128.5,633.3 1130,650C1131.5,666.7 1133,684.7 1135,700C1137,715.3 1139.2,730.7 1142,742C1144.8,753.3 1148.7,762.6 1152,768C1155.3,773.4 1160.3,773.2 1162,774.3" fill="none" stroke="#7887cc" stroke-width="3.2" stroke-linejoin="round"/>
<path d="M1038,774.3C1038.6,774.2 1038.5,774.3 1041.6,773.9C1044.7,768.6 1052.3,752.6 1056.5,742.4C1060.7,732.2 1063.5,725.8 1066.5,712.5C1069.5,699.2 1072.6,679.3 1074.8,662.7C1077,646.1 1078.3,626.6 1079.8,612.8C1081.3,598.9 1082.5,587.3 1083.9,579.6C1085.3,571.9 1086.6,567.2 1088.1,566.4C1089.6,565.6 1091.4,571.8 1093.1,574.7C1094.8,577.6 1096.1,584.6 1098,583.8C1099.9,583 1102.5,574.3 1104.7,569.7C1106.9,565.1 1109.4,557.5 1111.3,556.4C1113.2,555.3 1114.6,558.6 1116.3,563C1118,567.4 1119.9,574.7 1121.3,583C1122.7,591.3 1123.5,600.9 1124.6,612.8C1125.7,624.7 1126.8,640.5 1127.9,654.4C1129,668.2 1129.9,683.4 1131.3,695.9C1132.7,708.4 1134.3,718.6 1136.2,729.1C1138.1,739.6 1140.4,751.5 1142.9,759C1145.4,766.5 1149,771.4 1151.2,773.9C1153.4,774.3 1155.2,774.2 1156,774.3L1156,774.3L1038,774.3Z" fill="#4b4ba8" fill-opacity="0.1" stroke="none"/>
<path d="M1038,774.3C1038.6,774.2 1038.5,774.3 1041.6,773.9C1044.7,768.6 1052.3,752.6 1056.5,742.4C1060.7,732.2 1063.5,725.8 1066.5,712.5C1069.5,699.2 1072.6,679.3 1074.8,662.7C1077,646.1 1078.3,626.6 1079.8,612.8C1081.3,598.9 1082.5,587.3 1083.9,579.6C1085.3,571.9 1086.6,567.2 1088.1,566.4C1089.6,565.6 1091.4,571.8 1093.1,574.7C1094.8,577.6 1096.1,584.6 1098,583.8C1099.9,583 1102.5,574.3 1104.7,569.7C1106.9,565.1 1109.4,557.5 1111.3,556.4C1113.2,555.3 1114.6,558.6 1116.3,563C1118,567.4 1119.9,574.7 1121.3,583C1122.7,591.3 1123.5,600.9 1124.6,612.8C1125.7,624.7 1126.8,640.5 1127.9,654.4C1129,668.2 1129.9,683.4 1131.3,695.9C1132.7,708.4 1134.3,718.6 1136.2,729.1C1138.1,739.6 1140.4,751.5 1142.9,759C1145.4,766.5 1149,771.4 1151.2,773.9C1153.4,774.3 1155.2,774.2 1156,774.3" fill="none" stroke="#4b4ba8" stroke-width="3.2" stroke-linejoin="round"/>
<polyline points="1020.2,482.2 1020.2,774.3 1199.3,774.3" fill="none" stroke="#000" stroke-width="2.2" stroke-linejoin="miter"/>
<line x1="1038.9" y1="768.1" x2="1038.9" y2="780.5" stroke="#000" stroke-width="2.2"/>
<line x1="1132.7" y1="768.1" x2="1132.7" y2="780.5" stroke="#000" stroke-width="2.2"/>
<line x1="1013.9" y1="774.3" x2="1026.5" y2="774.3" stroke="#000" stroke-width="2.2"/>
<text transform="translate(961.27,784.70) scale(0.953,1)" font-size="30.0" fill="#000">0.0</text>
<line x1="1013.9" y1="710.9" x2="1026.5" y2="710.9" stroke="#000" stroke-width="2.2"/>
<text transform="translate(961.59,721.30) scale(0.953,1)" font-size="30.0" fill="#000">0.2</text>
<line x1="1013.9" y1="647.5" x2="1026.5" y2="647.5" stroke="#000" stroke-width="2.2"/>
<text transform="translate(960.99,657.90) scale(0.953,1)" font-size="30.0" fill="#000">0.4</text>
<line x1="1013.9" y1="584.1" x2="1026.5" y2="584.1" stroke="#000" stroke-width="2.2"/>
<text transform="translate(961.42,594.50) scale(0.953,1)" font-size="30.0" fill="#000">0.6</text>
<line x1="1013.9" y1="520.7" x2="1026.5" y2="520.7" stroke="#000" stroke-width="2.2"/>
<text transform="translate(961.39,531.10) scale(0.953,1)" font-size="30.0" fill="#000">0.8</text>
<text transform="translate(1018.90,814.84) scale(0.953,1)" font-size="30.0" fill="#000">7.5</text>
<text transform="translate(1104.35,814.84) scale(0.953,1)" font-size="30.0" fill="#000">10.0</text>
<text transform="translate(1060.12,854.90) scale(0.953,1)" font-size="30.0" fill="#000">UMAP2</text>
<text transform="rotate(-90,940.20,628.25) translate(891.40,628.25) scale(0.953,1)" font-size="30.0" fill="#000">Density</text>
<path d="M1064,1585C1065,1584.8 1067.5,1585 1069.8,1583.9C1072.1,1582.3 1075.6,1579.8 1078.1,1575.6C1080.6,1571.4 1082.9,1565.1 1084.8,1559C1086.7,1552.9 1088,1543.5 1089.7,1539.1C1091.4,1534.7 1092.8,1534.1 1094.7,1532.4C1096.7,1530.7 1099.5,1531.3 1101.4,1529.1C1103.3,1526.9 1104.7,1525.8 1106.3,1519.2C1107.9,1512.6 1109.9,1499.8 1111.3,1489.3C1112.7,1478.8 1113.6,1468.6 1114.7,1456.1C1115.8,1443.6 1116.9,1427 1118,1414.5C1119.1,1402 1120.2,1389.9 1121.3,1381.3C1122.4,1372.7 1123.5,1367 1124.6,1363.1C1125.7,1359.2 1126.8,1358.1 1127.9,1358.1C1129,1358.1 1130.2,1359.2 1131.3,1363.1C1132.4,1367 1133.2,1372.7 1134.6,1381.3C1136,1389.9 1137.9,1402 1139.6,1414.5C1141.2,1427 1142.8,1442.2 1144.5,1456.1C1146.2,1469.9 1147.5,1483.8 1149.5,1497.6C1151.5,1511.4 1154,1526.6 1156.2,1539.1C1158.4,1551.5 1160.6,1564.8 1162.8,1572.3C1165,1579.8 1167.3,1581.8 1169.5,1583.9C1171.7,1585 1174.9,1584.8 1176,1585L1176,1585L1064,1585Z" fill="#0b0b0b" fill-opacity="0.15" stroke="none"/>
<path d="M1064,1585C1065,1584.8 1067.5,1585 1069.8,1583.9C1072.1,1582.3 1075.6,1579.8 1078.1,1575.6C1080.6,1571.4 1082.9,1565.1 1084.8,1559C1086.7,1552.9 1088,1543.5 1089.7,1539.1C1091.4,1534.7 1092.8,1534.1 1094.7,1532.4C1096.7,1530.7 1099.5,1531.3 1101.4,1529.1C1103.3,1526.9 1104.7,1525.8 1106.3,1519.2C1107.9,1512.6 1109.9,1499.8 1111.3,1489.3C1112.7,1478.8 1113.6,1468.6 1114.7,1456.1C1115.8,1443.6 1116.9,1427 1118,1414.5C1119.1,1402 1120.2,1389.9 1121.3,1381.3C1122.4,1372.7 1123.5,1367 1124.6,1363.1C1125.7,1359.2 1126.8,1358.1 1127.9,1358.1C1129,1358.1 1130.2,1359.2 1131.3,1363.1C1132.4,1367 1133.2,1372.7 1134.6,1381.3C1136,1389.9 1137.9,1402 1139.6,1414.5C1141.2,1427 1142.8,1442.2 1144.5,1456.1C1146.2,1469.9 1147.5,1483.8 1149.5,1497.6C1151.5,1511.4 1154,1526.6 1156.2,1539.1C1158.4,1551.5 1160.6,1564.8 1162.8,1572.3C1165,1579.8 1167.3,1581.8 1169.5,1583.9C1171.7,1585 1174.9,1584.8 1176,1585" fill="none" stroke="#0b0b0b" stroke-width="3.2" stroke-linejoin="round"/>
<path d="M1035,1585C1035.8,1584.8 1037.7,1585 1039.9,1583.9C1042.1,1580.4 1046,1574.2 1048.2,1564C1050.4,1553.8 1051.5,1543.2 1053.2,1522.5C1054.9,1501.8 1056.5,1464.4 1058.2,1439.5C1059.9,1414.6 1061.7,1388.1 1063.2,1373C1064.7,1357.9 1065.9,1351.8 1067.3,1349C1068.7,1346.2 1070,1349.6 1071.5,1356.4C1073,1363.2 1074.8,1378.5 1076.5,1389.6C1078.2,1400.7 1079.8,1411.7 1081.4,1422.8C1083.1,1433.9 1084.7,1446.4 1086.4,1456.1C1088.1,1465.8 1089.2,1472.7 1091.4,1481C1093.6,1489.3 1096.7,1497.6 1099.7,1505.9C1102.8,1514.2 1106.4,1522.5 1109.7,1530.8C1113,1539.1 1116.3,1548.2 1119.6,1555.7C1122.9,1563.2 1126.8,1570.9 1129.6,1575.6C1132.4,1580.3 1134.5,1582.3 1136.2,1583.9C1137.9,1585 1139.4,1584.8 1140,1585L1140,1585L1035,1585Z" fill="#b22622" fill-opacity="0.1" stroke="none"/>
<path d="M1035,1585C1035.8,1584.8 1037.7,1585 1039.9,1583.9C1042.1,1580.4 1046,1574.2 1048.2,1564C1050.4,1553.8 1051.5,1543.2 1053.2,1522.5C1054.9,1501.8 1056.5,1464.4 1058.2,1439.5C1059.9,1414.6 1061.7,1388.1 1063.2,1373C1064.7,1357.9 1065.9,1351.8 1067.3,1349C1068.7,1346.2 1070,1349.6 1071.5,1356.4C1073,1363.2 1074.8,1378.5 1076.5,1389.6C1078.2,1400.7 1079.8,1411.7 1081.4,1422.8C1083.1,1433.9 1084.7,1446.4 1086.4,1456.1C1088.1,1465.8 1089.2,1472.7 1091.4,1481C1093.6,1489.3 1096.7,1497.6 1099.7,1505.9C1102.8,1514.2 1106.4,1522.5 1109.7,1530.8C1113,1539.1 1116.3,1548.2 1119.6,1555.7C1122.9,1563.2 1126.8,1570.9 1129.6,1575.6C1132.4,1580.3 1134.5,1582.3 1136.2,1583.9C1137.9,1585 1139.4,1584.8 1140,1585" fill="none" stroke="#b22622" stroke-width="3.2" stroke-linejoin="round"/>
<path d="M1048,1585C1049.7,1582.8 1055,1578.7 1058,1572C1061,1565.3 1063.3,1557.8 1066,1545C1068.7,1532.2 1071.3,1513.3 1074,1495C1076.7,1476.7 1079.1,1452 1082,1435C1084.9,1418 1088.6,1402.6 1091.4,1393C1094.2,1383.4 1096.4,1377.8 1098.9,1377.2C1101.4,1376.6 1104,1382 1106.3,1389.6C1108.6,1397.2 1110.8,1408.9 1113,1422.8C1115.2,1436.7 1117.1,1456.1 1119.6,1472.7C1122.1,1489.3 1125.1,1508.7 1127.9,1522.5C1130.7,1536.3 1133.2,1546 1136.2,1555.7C1139.2,1565.4 1143.6,1575.7 1146.2,1580.6C1148.8,1585 1151,1584.3 1152,1585L1152,1585L1048,1585Z" fill="#e5684c" fill-opacity="0.1" stroke="none"/>
<path d="M1048,1585C1049.7,1582.8 1055,1578.7 1058,1572C1061,1565.3 1063.3,1557.8 1066,1545C1068.7,1532.2 1071.3,1513.3 1074,1495C1076.7,1476.7 1079.1,1452 1082,1435C1084.9,1418 1088.6,1402.6 1091.4,1393C1094.2,1383.4 1096.4,1377.8 1098.9,1377.2C1101.4,1376.6 1104,1382 1106.3,1389.6C1108.6,1397.2 1110.8,1408.9 1113,1422.8C1115.2,1436.7 1117.1,1456.1 1119.6,1472.7C1122.1,1489.3 1125.1,1508.7 1127.9,1522.5C1130.7,1536.3 1133.2,1546 1136.2,1555.7C1139.2,1565.4 1143.6,1575.7 1146.2,1580.6C1148.8,1585 1151,1584.3 1152,1585" fill="none" stroke="#e5684c" stroke-width="3.2" stroke-linejoin="round"/>
<path d="M1048,1585C1049.7,1582.2 1055,1576.3 1058,1568C1061,1559.7 1063.3,1549.7 1066,1535C1068.7,1520.3 1071.3,1498.3 1074,1480C1076.7,1461.7 1079.7,1438.7 1082,1425C1084.3,1411.3 1086.3,1403.9 1088,1398C1089.7,1392.1 1090.7,1390.1 1092.2,1389.6C1093.7,1389.1 1095.2,1390.8 1097,1395C1098.8,1399.2 1100.8,1406.7 1103,1415C1105.2,1423.3 1107.5,1432.5 1110,1445C1112.5,1457.5 1115.3,1475.8 1118,1490C1120.7,1504.2 1123.3,1518.3 1126,1530C1128.7,1541.7 1130.8,1551.3 1134,1560C1137.2,1568.7 1142,1577.8 1145,1582C1148,1585 1150.8,1584.5 1152,1585L1152,1585L1048,1585Z" fill="#fcaa88" fill-opacity="0.1" stroke="none"/>
<path d="M1048,1585C1049.7,1582.2 1055,1576.3 1058,1568C1061,1559.7 1063.3,1549.7 1066,1535C1068.7,1520.3 1071.3,1498.3 1074,1480C1076.7,1461.7 1079.7,1438.7 1082,1425C1084.3,1411.3 1086.3,1403.9 1088,1398C1089.7,1392.1 1090.7,1390.1 1092.2,1389.6C1093.7,1389.1 1095.2,1390.8 1097,1395C1098.8,1399.2 1100.8,1406.7 1103,1415C1105.2,1423.3 1107.5,1432.5 1110,1445C1112.5,1457.5 1115.3,1475.8 1118,1490C1120.7,1504.2 1123.3,1518.3 1126,1530C1128.7,1541.7 1130.8,1551.3 1134,1560C1137.2,1568.7 1142,1577.8 1145,1582C1148,1585 1150.8,1584.5 1152,1585" fill="none" stroke="#fcaa88" stroke-width="3.2" stroke-linejoin="round"/>
<path d="M1050,1585C1052,1581.7 1058.3,1575.8 1062,1565C1065.7,1554.2 1068.7,1537.5 1072,1520C1075.3,1502.5 1078.7,1478.3 1082,1460C1085.3,1441.7 1089,1420.3 1092,1410C1095,1399.7 1097.3,1398 1100,1398C1102.7,1398 1105.3,1402.2 1108,1410C1110.7,1417.8 1113.3,1430.8 1116,1445C1118.7,1459.2 1121.3,1479.2 1124,1495C1126.7,1510.8 1129,1527.2 1132,1540C1135,1552.8 1138.7,1564.5 1142,1572C1145.3,1579.5 1150.3,1582.8 1152,1585L1152,1585L1050,1585Z" fill="#f3d8cb" fill-opacity="0.1" stroke="none"/>
<path d="M1050,1585C1052,1581.7 1058.3,1575.8 1062,1565C1065.7,1554.2 1068.7,1537.5 1072,1520C1075.3,1502.5 1078.7,1478.3 1082,1460C1085.3,1441.7 1089,1420.3 1092,1410C1095,1399.7 1097.3,1398 1100,1398C1102.7,1398 1105.3,1402.2 1108,1410C1110.7,1417.8 1113.3,1430.8 1116,1445C1118.7,1459.2 1121.3,1479.2 1124,1495C1126.7,1510.8 1129,1527.2 1132,1540C1135,1552.8 1138.7,1564.5 1142,1572C1145.3,1579.5 1150.3,1582.8 1152,1585" fill="none" stroke="#f3d8cb" stroke-width="3.2" stroke-linejoin="round"/>
<path d="M1055,1585C1057.2,1582.5 1063.8,1578.3 1068,1570C1072.2,1561.7 1076.3,1548.3 1080,1535C1083.7,1521.7 1087,1505 1090,1490C1093,1475 1095.5,1459.2 1098,1445C1100.5,1430.8 1102.6,1414.2 1105,1405C1107.4,1395.8 1109.8,1386.6 1112.2,1389.6C1114.6,1392.6 1117.8,1408.9 1119.6,1422.8C1121.4,1436.7 1121.8,1457.3 1123,1472.7C1124.2,1488.1 1125.3,1502.1 1127,1515C1128.7,1527.9 1130.8,1540 1133,1550C1135.2,1560 1137.5,1569.2 1140,1575C1142.5,1580.8 1146.7,1583.3 1148,1585L1148,1585L1055,1585Z" fill="#dae2f6" fill-opacity="0.1" stroke="none"/>
<path d="M1055,1585C1057.2,1582.5 1063.8,1578.3 1068,1570C1072.2,1561.7 1076.3,1548.3 1080,1535C1083.7,1521.7 1087,1505 1090,1490C1093,1475 1095.5,1459.2 1098,1445C1100.5,1430.8 1102.6,1414.2 1105,1405C1107.4,1395.8 1109.8,1386.6 1112.2,1389.6C1114.6,1392.6 1117.8,1408.9 1119.6,1422.8C1121.4,1436.7 1121.8,1457.3 1123,1472.7C1124.2,1488.1 1125.3,1502.1 1127,1515C1128.7,1527.9 1130.8,1540 1133,1550C1135.2,1560 1137.5,1569.2 1140,1575C1142.5,1580.8 1146.7,1583.3 1148,1585" fill="none" stroke="#dae2f6" stroke-width="3.2" stroke-linejoin="round"/>
<path d="M1060,1585C1061.6,1582.9 1067,1582.7 1069.8,1572.3C1072.5,1561.9 1074.6,1541.9 1076.5,1522.5C1078.4,1503.1 1080,1478.2 1081.4,1456.1C1082.8,1433.9 1083.7,1409 1084.8,1389.6C1085.9,1370.2 1086.8,1353.6 1088.1,1339.8C1089.4,1326 1091.1,1306.6 1092.6,1306.6C1094.1,1306.6 1095.7,1326 1097.2,1339.8C1098.7,1353.6 1099.9,1371.6 1101.4,1389.6C1102.9,1407.6 1104.7,1428.4 1106.3,1447.8C1107.9,1467.2 1109.3,1487.9 1111.3,1505.9C1113.2,1523.9 1115.5,1542.7 1118,1555.7C1120.5,1568.7 1124,1579 1126.3,1583.9C1128.6,1585 1131,1584.8 1132,1585L1132,1585L1060,1585Z" fill="#b3c5eb" fill-opacity="0.1" stroke="none"/>
<path d="M1060,1585C1061.6,1582.9 1067,1582.7 1069.8,1572.3C1072.5,1561.9 1074.6,1541.9 1076.5,1522.5C1078.4,1503.1 1080,1478.2 1081.4,1456.1C1082.8,1433.9 1083.7,1409 1084.8,1389.6C1085.9,1370.2 1086.8,1353.6 1088.1,1339.8C1089.4,1326 1091.1,1306.6 1092.6,1306.6C1094.1,1306.6 1095.7,1326 1097.2,1339.8C1098.7,1353.6 1099.9,1371.6 1101.4,1389.6C1102.9,1407.6 1104.7,1428.4 1106.3,1447.8C1107.9,1467.2 1109.3,1487.9 1111.3,1505.9C1113.2,1523.9 1115.5,1542.7 1118,1555.7C1120.5,1568.7 1124,1579 1126.3,1583.9C1128.6,1585 1131,1584.8 1132,1585" fill="none" stroke="#b3c5eb" stroke-width="3.2" stroke-linejoin="round"/>
<path d="M1044,1585C1045,1584.8 1047,1585 1049.9,1583.9C1052.8,1576.2 1058.2,1556.2 1061.5,1539.1C1064.8,1521.9 1067,1498.2 1069.8,1481C1072.6,1463.8 1075.6,1446.2 1078.1,1436.1C1080.6,1426 1082.3,1421.8 1084.8,1420.4C1087.3,1419 1090.3,1423.2 1093.1,1427.8C1095.9,1432.4 1098.6,1438.9 1101.4,1447.8C1104.2,1456.7 1106.9,1469.1 1109.7,1481C1112.5,1492.9 1115.2,1507.3 1118,1519.2C1120.8,1531.1 1123.3,1542.2 1126.3,1552.4C1129.3,1562.6 1133.6,1575.2 1136.2,1580.6C1138.8,1585 1141,1584.3 1142,1585L1142,1585L1044,1585Z" fill="#7887cc" fill-opacity="0.1" stroke="none"/>
<path d="M1044,1585C1045,1584.8 1047,1585 1049.9,1583.9C1052.8,1576.2 1058.2,1556.2 1061.5,1539.1C1064.8,1521.9 1067,1498.2 1069.8,1481C1072.6,1463.8 1075.6,1446.2 1078.1,1436.1C1080.6,1426 1082.3,1421.8 1084.8,1420.4C1087.3,1419 1090.3,1423.2 1093.1,1427.8C1095.9,1432.4 1098.6,1438.9 1101.4,1447.8C1104.2,1456.7 1106.9,1469.1 1109.7,1481C1112.5,1492.9 1115.2,1507.3 1118,1519.2C1120.8,1531.1 1123.3,1542.2 1126.3,1552.4C1129.3,1562.6 1133.6,1575.2 1136.2,1580.6C1138.8,1585 1141,1584.3 1142,1585" fill="none" stroke="#7887cc" stroke-width="3.2" stroke-linejoin="round"/>
<path d="M1040,1585C1040.8,1584.8 1042.7,1585 1044.9,1583.9C1047.1,1579 1050.7,1568.7 1053.2,1555.7C1055.7,1542.7 1057.7,1522.5 1059.9,1505.9C1062.1,1489.3 1064.3,1469.9 1066.5,1456.1C1068.7,1442.2 1070.9,1432.2 1073.1,1422.8C1075.3,1413.4 1077.6,1405 1079.8,1399.6C1082,1394.2 1084.2,1390 1086.4,1390.5C1088.6,1391 1091.2,1396.1 1093.1,1402.9C1095,1409.7 1096.1,1419.6 1098,1431.2C1099.9,1442.8 1102.5,1460.2 1104.7,1472.7C1106.9,1485.2 1108.8,1494.8 1111.3,1505.9C1113.8,1517 1116.8,1529.4 1119.6,1539.1C1122.4,1548.8 1124.6,1556.5 1127.9,1564C1131.2,1571.5 1136.8,1580.4 1139.6,1583.9C1142.4,1585 1144.1,1584.8 1145,1585L1145,1585L1040,1585Z" fill="#4b4ba8" fill-opacity="0.1" stroke="none"/>
<path d="M1040,1585C1040.8,1584.8 1042.7,1585 1044.9,1583.9C1047.1,1579 1050.7,1568.7 1053.2,1555.7C1055.7,1542.7 1057.7,1522.5 1059.9,1505.9C1062.1,1489.3 1064.3,1469.9 1066.5,1456.1C1068.7,1442.2 1070.9,1432.2 1073.1,1422.8C1075.3,1413.4 1077.6,1405 1079.8,1399.6C1082,1394.2 1084.2,1390 1086.4,1390.5C1088.6,1391 1091.2,1396.1 1093.1,1402.9C1095,1409.7 1096.1,1419.6 1098,1431.2C1099.9,1442.8 1102.5,1460.2 1104.7,1472.7C1106.9,1485.2 1108.8,1494.8 1111.3,1505.9C1113.8,1517 1116.8,1529.4 1119.6,1539.1C1122.4,1548.8 1124.6,1556.5 1127.9,1564C1131.2,1571.5 1136.8,1580.4 1139.6,1583.9C1142.4,1585 1144.1,1584.8 1145,1585" fill="none" stroke="#4b4ba8" stroke-width="3.2" stroke-linejoin="round"/>
<polyline points="1020.2,1292.6 1020.2,1585 1199.3,1585" fill="none" stroke="#000" stroke-width="2.2" stroke-linejoin="miter"/>
<line x1="1038.9" y1="1578.8" x2="1038.9" y2="1591.2" stroke="#000" stroke-width="2.2"/>
<line x1="1132.7" y1="1578.8" x2="1132.7" y2="1591.2" stroke="#000" stroke-width="2.2"/>
<line x1="1013.9" y1="1585" x2="1026.5" y2="1585" stroke="#000" stroke-width="2.2"/>
<text transform="translate(961.27,1595.40) scale(0.953,1)" font-size="30.0" fill="#000">0.0</text>
<line x1="1013.9" y1="1469.7" x2="1026.5" y2="1469.7" stroke="#000" stroke-width="2.2"/>
<text transform="translate(961.36,1480.10) scale(0.953,1)" font-size="30.0" fill="#000">0.5</text>
<line x1="1013.9" y1="1354.4" x2="1026.5" y2="1354.4" stroke="#000" stroke-width="2.2"/>
<text transform="translate(961.27,1364.80) scale(0.953,1)" font-size="30.0" fill="#000">1.0</text>
<text transform="translate(1018.90,1625.54) scale(0.953,1)" font-size="30.0" fill="#000">7.5</text>
<text transform="translate(1104.35,1625.54) scale(0.953,1)" font-size="30.0" fill="#000">10.0</text>
<text transform="translate(1060.12,1665.60) scale(0.953,1)" font-size="30.0" fill="#000">UMAP2</text>
<text transform="rotate(-90,940.20,1438.80) translate(891.40,1438.80) scale(0.953,1)" font-size="30.0" fill="#000">Density</text>
<path d="M1336,774.3C1336.9,774.2 1339.3,774.3 1341.6,773.8C1343.9,771.8 1347.4,768.4 1349.9,762.3C1352.4,756.2 1354.4,745.1 1356.6,737.4C1358.8,729.6 1360.7,720.8 1363.2,715.8C1365.7,710.8 1369,711.4 1371.5,707.5C1374,703.6 1376.2,698.7 1378.1,692.6C1380,686.5 1381.4,679.3 1383.1,671C1384.8,662.7 1386.2,652.4 1388.1,642.7C1390,633 1392.8,621.9 1394.7,612.8C1396.6,603.7 1397.8,599 1399.7,587.9C1401.7,576.8 1404.7,558.8 1406.4,546.4C1408.1,534 1408.5,521.5 1409.7,513.2C1410.9,504.9 1412.4,496.6 1413.8,496.6C1415.2,496.6 1416.8,503.5 1418,513.2C1419.2,522.9 1420.5,540.9 1421.3,554.7C1422.1,568.5 1422.5,583.7 1423,596.2C1423.5,608.7 1424,615.6 1424.6,629.5C1425.1,643.4 1425.5,664.1 1426.3,679.3C1427.1,694.5 1428.2,708.1 1429.6,720.8C1431,733.5 1432.1,747.7 1434.6,755.7C1437.1,763.7 1440.7,765.9 1444.6,768.9C1448.5,771.9 1454.9,772.9 1457.8,773.8C1460.7,774.3 1461.3,774.2 1462,774.3L1462,774.3L1336,774.3Z" fill="#0b0b0b" fill-opacity="0.15" stroke="none"/>
<path d="M1336,774.3C1336.9,774.2 1339.3,774.3 1341.6,773.8C1343.9,771.8 1347.4,768.4 1349.9,762.3C1352.4,756.2 1354.4,745.1 1356.6,737.4C1358.8,729.6 1360.7,720.8 1363.2,715.8C1365.7,710.8 1369,711.4 1371.5,707.5C1374,703.6 1376.2,698.7 1378.1,692.6C1380,686.5 1381.4,679.3 1383.1,671C1384.8,662.7 1386.2,652.4 1388.1,642.7C1390,633 1392.8,621.9 1394.7,612.8C1396.6,603.7 1397.8,599 1399.7,587.9C1401.7,576.8 1404.7,558.8 1406.4,546.4C1408.1,534 1408.5,521.5 1409.7,513.2C1410.9,504.9 1412.4,496.6 1413.8,496.6C1415.2,496.6 1416.8,503.5 1418,513.2C1419.2,522.9 1420.5,540.9 1421.3,554.7C1422.1,568.5 1422.5,583.7 1423,596.2C1423.5,608.7 1424,615.6 1424.6,629.5C1425.1,643.4 1425.5,664.1 1426.3,679.3C1427.1,694.5 1428.2,708.1 1429.6,720.8C1431,733.5 1432.1,747.7 1434.6,755.7C1437.1,763.7 1440.7,765.9 1444.6,768.9C1448.5,771.9 1454.9,772.9 1457.8,773.8C1460.7,774.3 1461.3,774.2 1462,774.3" fill="none" stroke="#0b0b0b" stroke-width="3.2" stroke-linejoin="round"/>
<path d="M1348,774.3C1349.3,773.8 1353.3,773.4 1356,771C1358.7,768.6 1361.4,765.5 1364,760C1366.6,754.5 1369.2,747.2 1371.5,738C1373.8,728.8 1375.6,716.7 1378.1,705C1380.6,693.3 1384.2,680.2 1386.4,667.6C1388.6,655 1389.5,644.2 1391.4,629.5C1393.4,614.8 1396.3,591.5 1398.1,579.6C1399.9,567.7 1400.6,563.8 1402,558C1403.4,552.2 1405.1,546.1 1406.4,544.8C1407.7,543.5 1408.9,547.5 1410,550C1411.1,552.5 1411.7,554.8 1413,559.7C1414.3,564.6 1416.3,570.8 1418,579.6C1419.7,588.5 1421.6,601.7 1423,612.8C1424.4,623.9 1424.6,634.9 1426.3,646C1428,657.1 1430.4,668.2 1432.9,679.3C1435.4,690.4 1438.2,701.4 1441.2,712.5C1444.2,723.6 1447.6,736.6 1451.2,745.7C1454.8,754.8 1459.5,762.5 1462.8,767.3C1466.1,772.1 1469.7,773.1 1471.1,774.3L1471.1,774.3L1348,774.3Z" fill="#b22622" fill-opacity="0.1" stroke="none"/>
<path d="M1348,774.3C1349.3,773.8 1353.3,773.4 1356,771C1358.7,768.6 1361.4,765.5 1364,760C1366.6,754.5 1369.2,747.2 1371.5,738C1373.8,728.8 1375.6,716.7 1378.1,705C1380.6,693.3 1384.2,680.2 1386.4,667.6C1388.6,655 1389.5,644.2 1391.4,629.5C1393.4,614.8 1396.3,591.5 1398.1,579.6C1399.9,567.7 1400.6,563.8 1402,558C1403.4,552.2 1405.1,546.1 1406.4,544.8C1407.7,543.5 1408.9,547.5 1410,550C1411.1,552.5 1411.7,554.8 1413,559.7C1414.3,564.6 1416.3,570.8 1418,579.6C1419.7,588.5 1421.6,601.7 1423,612.8C1424.4,623.9 1424.6,634.9 1426.3,646C1428,657.1 1430.4,668.2 1432.9,679.3C1435.4,690.4 1438.2,701.4 1441.2,712.5C1444.2,723.6 1447.6,736.6 1451.2,745.7C1454.8,754.8 1459.5,762.5 1462.8,767.3C1466.1,772.1 1469.7,773.1 1471.1,774.3" fill="none" stroke="#b22622" stroke-width="3.2" stroke-linejoin="round"/>
<path d="M1355,774.3C1356.7,773.2 1361.8,772 1365,768C1368.2,764 1371.2,758 1374,750C1376.8,742 1379,735 1382,720C1385,705 1388.7,678.3 1392,660C1395.3,641.7 1399,622.5 1402,610C1405,597.5 1407.7,589.7 1410,585C1412.3,580.3 1413.7,580.5 1416,582C1418.3,583.5 1421.5,591.1 1424,594C1426.5,596.9 1429.3,601.1 1431.3,599.6C1433.3,598.1 1434.8,588 1436,585C1437.2,582 1437.7,580.8 1438.7,581.3C1439.7,581.8 1441,585.5 1442,588C1443,590.5 1443.6,589.3 1444.6,596.2C1445.6,603.1 1446.5,615.6 1447.9,629.5C1449.3,643.4 1451,662.7 1452.9,679.3C1454.8,695.9 1457,714.7 1459.5,729.1C1462,743.5 1465,758.1 1467.8,765.6C1470.5,773.1 1474.6,772.8 1476,774.3L1476,774.3L1355,774.3Z" fill="#e5684c" fill-opacity="0.1" stroke="none"/>
<path d="M1355,774.3C1356.7,773.2 1361.8,772 1365,768C1368.2,764 1371.2,758 1374,750C1376.8,742 1379,735 1382,720C1385,705 1388.7,678.3 1392,660C1395.3,641.7 1399,622.5 1402,610C1405,597.5 1407.7,589.7 1410,585C1412.3,580.3 1413.7,580.5 1416,582C1418.3,583.5 1421.5,591.1 1424,594C1426.5,596.9 1429.3,601.1 1431.3,599.6C1433.3,598.1 1434.8,588 1436,585C1437.2,582 1437.7,580.8 1438.7,581.3C1439.7,581.8 1441,585.5 1442,588C1443,590.5 1443.6,589.3 1444.6,596.2C1445.6,603.1 1446.5,615.6 1447.9,629.5C1449.3,643.4 1451,662.7 1452.9,679.3C1454.8,695.9 1457,714.7 1459.5,729.1C1462,743.5 1465,758.1 1467.8,765.6C1470.5,773.1 1474.6,772.8 1476,774.3" fill="none" stroke="#e5684c" stroke-width="3.2" stroke-linejoin="round"/>
<path d="M1350,774.3C1351.7,773.2 1356.7,772.4 1360,768C1363.3,763.6 1366.7,758.5 1370,748C1373.3,737.5 1376.3,723.8 1380,705C1383.7,686.2 1388.3,653.8 1392,635C1395.7,616.2 1399.3,602.3 1402,592C1404.7,581.7 1406.2,577 1408,573C1409.8,569 1411.3,567.7 1413,568C1414.7,568.3 1416.2,569.7 1418,575C1419.8,580.3 1422,591.7 1424,600C1426,608.3 1428,618.3 1430,625C1432,631.7 1434,634.2 1436,640C1438,645.8 1440,651.7 1442,660C1444,668.3 1445.7,678.3 1448,690C1450.3,701.7 1453.2,718 1456,730C1458.8,742 1462,754.6 1465,762C1468,769.4 1472.5,772.2 1474,774.3L1474,774.3L1350,774.3Z" fill="#fcaa88" fill-opacity="0.1" stroke="none"/>
<path d="M1350,774.3C1351.7,773.2 1356.7,772.4 1360,768C1363.3,763.6 1366.7,758.5 1370,748C1373.3,737.5 1376.3,723.8 1380,705C1383.7,686.2 1388.3,653.8 1392,635C1395.7,616.2 1399.3,602.3 1402,592C1404.7,581.7 1406.2,577 1408,573C1409.8,569 1411.3,567.7 1413,568C1414.7,568.3 1416.2,569.7 1418,575C1419.8,580.3 1422,591.7 1424,600C1426,608.3 1428,618.3 1430,625C1432,631.7 1434,634.2 1436,640C1438,645.8 1440,651.7 1442,660C1444,668.3 1445.7,678.3 1448,690C1450.3,701.7 1453.2,718 1456,730C1458.8,742 1462,754.6 1465,762C1468,769.4 1472.5,772.2 1474,774.3" fill="none" stroke="#fcaa88" stroke-width="3.2" stroke-linejoin="round"/>
<path d="M1350,774.3C1352.3,771.9 1359.7,767.4 1364,760C1368.3,752.6 1372,743.3 1376,730C1380,716.7 1384.3,696.7 1388,680C1391.7,663.3 1395,643.3 1398,630C1401,616.7 1403.3,606.7 1406,600C1408.7,593.3 1411.3,591 1414,590C1416.7,589 1419.3,591 1422,594C1424.7,597 1427.5,602.8 1430,608C1432.5,613.2 1434.7,618 1437,625C1439.3,632 1441.7,639.2 1444,650C1446.3,660.8 1448.7,676.7 1451,690C1453.3,703.3 1455.5,718 1458,730C1460.5,742 1463,754.6 1466,762C1469,769.4 1474.3,772.2 1476,774.3L1476,774.3L1350,774.3Z" fill="#f3d8cb" fill-opacity="0.1" stroke="none"/>
<path d="M1350,774.3C1352.3,771.9 1359.7,767.4 1364,760C1368.3,752.6 1372,743.3 1376,730C1380,716.7 1384.3,696.7 1388,680C1391.7,663.3 1395,643.3 1398,630C1401,616.7 1403.3,606.7 1406,600C1408.7,593.3 1411.3,591 1414,590C1416.7,589 1419.3,591 1422,594C1424.7,597 1427.5,602.8 1430,608C1432.5,613.2 1434.7,618 1437,625C1439.3,632 1441.7,639.2 1444,650C1446.3,660.8 1448.7,676.7 1451,690C1453.3,703.3 1455.5,718 1458,730C1460.5,742 1463,754.6 1466,762C1469,769.4 1474.3,772.2 1476,774.3" fill="none" stroke="#f3d8cb" stroke-width="3.2" stroke-linejoin="round"/>
<path d="M1346,774.3C1347.7,773.2 1352.7,771.7 1356,768C1359.3,764.3 1363,758.3 1366,752C1369,745.7 1372,736.7 1374,730C1376,723.3 1376.5,717.1 1378,712C1379.5,706.9 1381.4,702.9 1383.1,699.2C1384.8,695.5 1386,696.5 1388,690C1390,683.5 1392.5,670 1395,660C1397.5,650 1400.2,638.3 1403,630C1405.8,621.7 1409.5,614.5 1412,610C1414.5,605.5 1415.9,604.5 1418,603C1420.1,601.5 1422.4,600.7 1424.6,601.2C1426.8,601.7 1428.8,602.5 1431,606C1433.2,609.5 1435.8,614.7 1438,622C1440.2,629.3 1442,638.7 1444,650C1446,661.3 1447.8,676.7 1450,690C1452.2,703.3 1454.5,718 1457,730C1459.5,742 1462,754.6 1465,762C1468,769.4 1473.3,772.2 1475,774.3L1475,774.3L1346,774.3Z" fill="#dae2f6" fill-opacity="0.1" stroke="none"/>
<path d="M1346,774.3C1347.7,773.2 1352.7,771.7 1356,768C1359.3,764.3 1363,758.3 1366,752C1369,745.7 1372,736.7 1374,730C1376,723.3 1376.5,717.1 1378,712C1379.5,706.9 1381.4,702.9 1383.1,699.2C1384.8,695.5 1386,696.5 1388,690C1390,683.5 1392.5,670 1395,660C1397.5,650 1400.2,638.3 1403,630C1405.8,621.7 1409.5,614.5 1412,610C1414.5,605.5 1415.9,604.5 1418,603C1420.1,601.5 1422.4,600.7 1424.6,601.2C1426.8,601.7 1428.8,602.5 1431,606C1433.2,609.5 1435.8,614.7 1438,622C1440.2,629.3 1442,638.7 1444,650C1446,661.3 1447.8,676.7 1450,690C1452.2,703.3 1454.5,718 1457,730C1459.5,742 1462,754.6 1465,762C1468,769.4 1473.3,772.2 1475,774.3" fill="none" stroke="#dae2f6" stroke-width="3.2" stroke-linejoin="round"/>
<path d="M1348,774.3C1349.7,773.2 1354.7,771.7 1358,768C1361.3,764.3 1364.7,759.7 1368,752C1371.3,744.3 1374.7,733.2 1378,722C1381.3,710.8 1384.7,697.8 1388,685C1391.3,672.2 1395,656.2 1398,645C1401,633.8 1403.5,624.7 1406,618C1408.5,611.3 1410.7,608 1413,605C1415.3,602 1417.8,601.2 1420,600C1422.2,598.8 1424,597.7 1426,598C1428,598.3 1430,599.7 1432,602C1434,604.3 1436,605.7 1438,612C1440,618.3 1442,628.7 1444,640C1446,651.3 1447.8,666 1450,680C1452.2,694 1454.5,710.7 1457,724C1459.5,737.3 1461.8,751.6 1465,760C1468.2,768.4 1474.2,771.9 1476,774.3L1476,774.3L1348,774.3Z" fill="#b3c5eb" fill-opacity="0.1" stroke="none"/>
<path d="M1348,774.3C1349.7,773.2 1354.7,771.7 1358,768C1361.3,764.3 1364.7,759.7 1368,752C1371.3,744.3 1374.7,733.2 1378,722C1381.3,710.8 1384.7,697.8 1388,685C1391.3,672.2 1395,656.2 1398,645C1401,633.8 1403.5,624.7 1406,618C1408.5,611.3 1410.7,608 1413,605C1415.3,602 1417.8,601.2 1420,600C1422.2,598.8 1424,597.7 1426,598C1428,598.3 1430,599.7 1432,602C1434,604.3 1436,605.7 1438,612C1440,618.3 1442,628.7 1444,640C1446,651.3 1447.8,666 1450,680C1452.2,694 1454.5,710.7 1457,724C1459.5,737.3 1461.8,751.6 1465,760C1468.2,768.4 1474.2,771.9 1476,774.3" fill="none" stroke="#b3c5eb" stroke-width="3.2" stroke-linejoin="round"/>
<path d="M1348,774.3C1349.3,773.8 1353.2,772.7 1356,771C1358.8,769.3 1361.5,769.2 1365,764C1368.5,758.8 1373,751.8 1377,740C1381,728.2 1385.2,709.7 1389,693C1392.8,676.3 1396.5,654.7 1400,640C1403.5,625.3 1407,612.9 1410,605C1413,597.1 1415.5,595.4 1418,592.9C1420.5,590.4 1422.8,590.7 1425,590C1427.2,589.3 1429.1,587.8 1431.3,588.8C1433.5,589.8 1436,590.8 1437.9,596.2C1439.8,601.6 1441.2,610 1442.9,621.1C1444.6,632.2 1446.2,648.7 1447.9,662.7C1449.6,676.7 1451.2,692.1 1453,705C1454.8,717.9 1456.7,730 1459,740C1461.3,750 1464,759.3 1467,765C1470,770.7 1475.3,772.8 1477,774.3L1477,774.3L1348,774.3Z" fill="#7887cc" fill-opacity="0.1" stroke="none"/>
<path d="M1348,774.3C1349.3,773.8 1353.2,772.7 1356,771C1358.8,769.3 1361.5,769.2 1365,764C1368.5,758.8 1373,751.8 1377,740C1381,728.2 1385.2,709.7 1389,693C1392.8,676.3 1396.5,654.7 1400,640C1403.5,625.3 1407,612.9 1410,605C1413,597.1 1415.5,595.4 1418,592.9C1420.5,590.4 1422.8,590.7 1425,590C1427.2,589.3 1429.1,587.8 1431.3,588.8C1433.5,589.8 1436,590.8 1437.9,596.2C1439.8,601.6 1441.2,610 1442.9,621.1C1444.6,632.2 1446.2,648.7 1447.9,662.7C1449.6,676.7 1451.2,692.1 1453,705C1454.8,717.9 1456.7,730 1459,740C1461.3,750 1464,759.3 1467,765C1470,770.7 1475.3,772.8 1477,774.3" fill="none" stroke="#7887cc" stroke-width="3.2" stroke-linejoin="round"/>
<path d="M1348,774.3C1349.2,774.2 1351.5,774.3 1354.9,773.8C1358.3,771.8 1364.1,768.4 1368.2,762.3C1372.3,756.2 1375.9,749.8 1379.8,737.4C1383.7,725 1388.1,702.8 1391.4,687.6C1394.7,672.4 1397.2,657.1 1399.7,646C1402.2,634.9 1404.2,627.3 1406.4,621.1C1408.6,614.9 1410.8,609.5 1413,608.7C1415.2,607.9 1417.8,613.3 1419.7,616.2C1421.6,619.1 1422.7,622.8 1424.6,626.1C1426.5,629.4 1429.4,635 1431.3,636.1C1433.2,637.2 1434.3,633.8 1436,633C1437.7,632.2 1439.2,629.5 1441.2,631.1C1443.2,632.7 1446,636.1 1447.9,642.7C1449.9,649.4 1451.2,660.8 1452.9,671C1454.6,681.2 1455.9,693.1 1457.8,704.2C1459.7,715.3 1462.3,727.2 1464.5,737.4C1466.7,747.6 1468.6,759.5 1471.1,765.6C1473.6,771.7 1477.2,772.3 1479.4,773.8C1481.6,774.3 1483.2,774.2 1484,774.3L1484,774.3L1348,774.3Z" fill="#4b4ba8" fill-opacity="0.1" stroke="none"/>
<path d="M1348,774.3C1349.2,774.2 1351.5,774.3 1354.9,773.8C1358.3,771.8 1364.1,768.4 1368.2,762.3C1372.3,756.2 1375.9,749.8 1379.8,737.4C1383.7,725 1388.1,702.8 1391.4,687.6C1394.7,672.4 1397.2,657.1 1399.7,646C1402.2,634.9 1404.2,627.3 1406.4,621.1C1408.6,614.9 1410.8,609.5 1413,608.7C1415.2,607.9 1417.8,613.3 1419.7,616.2C1421.6,619.1 1422.7,622.8 1424.6,626.1C1426.5,629.4 1429.4,635 1431.3,636.1C1433.2,637.2 1434.3,633.8 1436,633C1437.7,632.2 1439.2,629.5 1441.2,631.1C1443.2,632.7 1446,636.1 1447.9,642.7C1449.9,649.4 1451.2,660.8 1452.9,671C1454.6,681.2 1455.9,693.1 1457.8,704.2C1459.7,715.3 1462.3,727.2 1464.5,737.4C1466.7,747.6 1468.6,759.5 1471.1,765.6C1473.6,771.7 1477.2,772.3 1479.4,773.8C1481.6,774.3 1483.2,774.2 1484,774.3" fill="none" stroke="#4b4ba8" stroke-width="3.2" stroke-linejoin="round"/>
<polyline points="1325.2,482.2 1325.2,774.3 1504.6,774.3" fill="none" stroke="#000" stroke-width="2.2" stroke-linejoin="miter"/>
<line x1="1376.6" y1="768.1" x2="1376.6" y2="780.5" stroke="#000" stroke-width="2.2"/>
<line x1="1473.5" y1="768.1" x2="1473.5" y2="780.5" stroke="#000" stroke-width="2.2"/>
<line x1="1318.9" y1="774.3" x2="1331.5" y2="774.3" stroke="#000" stroke-width="2.2"/>
<text transform="translate(1266.27,784.70) scale(0.953,1)" font-size="30.0" fill="#000">0.0</text>
<line x1="1318.9" y1="665.6" x2="1331.5" y2="665.6" stroke="#000" stroke-width="2.2"/>
<text transform="translate(1266.36,676.00) scale(0.953,1)" font-size="30.0" fill="#000">0.5</text>
<line x1="1318.9" y1="556.9" x2="1331.5" y2="556.9" stroke="#000" stroke-width="2.2"/>
<text transform="translate(1266.27,567.30) scale(0.953,1)" font-size="30.0" fill="#000">1.0</text>
<text transform="translate(1368.74,814.84) scale(0.953,1)" font-size="30.0" fill="#000">4</text>
<text transform="translate(1465.45,814.84) scale(0.953,1)" font-size="30.0" fill="#000">6</text>
<text transform="translate(1365.18,854.90) scale(0.953,1)" font-size="30.0" fill="#000">UMAP3</text>
<text transform="rotate(-90,1245.20,628.25) translate(1196.40,628.25) scale(0.953,1)" font-size="30.0" fill="#000">Density</text>
<path d="M1335,1585C1335.8,1585 1337.5,1585 1340,1584.8C1342.5,1583.2 1346.9,1580.4 1349.9,1575.6C1352.9,1570.8 1355.4,1564.5 1358.2,1555.7C1361,1546.9 1364,1532.2 1366.5,1522.5C1369,1512.8 1371,1504.5 1373.2,1497.6C1375.4,1490.7 1377.6,1486.5 1379.8,1481C1382,1475.5 1384.5,1469.9 1386.4,1464.4C1388.3,1458.9 1389.7,1454.2 1391.4,1447.8C1393.1,1441.4 1395,1431.2 1396.4,1426.2C1397.8,1421.2 1398.5,1420 1399.7,1417.9C1401,1415.8 1402.2,1413.2 1403.9,1413.7C1405.6,1414.2 1408.2,1416.9 1409.7,1421.2C1411.2,1425.5 1411.6,1432.3 1413,1439.5C1414.4,1446.7 1416.1,1456.1 1418,1464.4C1419.9,1472.7 1422.4,1481 1424.6,1489.3C1426.8,1497.6 1428.8,1507.3 1431.3,1514.2C1433.8,1521.1 1437.1,1525.3 1439.6,1530.8C1442.1,1536.3 1443.7,1541 1446.2,1547.4C1448.7,1553.8 1451.7,1563.2 1454.5,1569C1457.3,1574.8 1460.3,1579.7 1462.8,1582.3C1465.3,1584.9 1467.6,1584.3 1469.5,1584.8C1471.4,1585 1473.2,1585 1474,1585L1474,1585L1335,1585Z" fill="#0b0b0b" fill-opacity="0.15" stroke="none"/>
<path d="M1335,1585C1335.8,1585 1337.5,1585 1340,1584.8C1342.5,1583.2 1346.9,1580.4 1349.9,1575.6C1352.9,1570.8 1355.4,1564.5 1358.2,1555.7C1361,1546.9 1364,1532.2 1366.5,1522.5C1369,1512.8 1371,1504.5 1373.2,1497.6C1375.4,1490.7 1377.6,1486.5 1379.8,1481C1382,1475.5 1384.5,1469.9 1386.4,1464.4C1388.3,1458.9 1389.7,1454.2 1391.4,1447.8C1393.1,1441.4 1395,1431.2 1396.4,1426.2C1397.8,1421.2 1398.5,1420 1399.7,1417.9C1401,1415.8 1402.2,1413.2 1403.9,1413.7C1405.6,1414.2 1408.2,1416.9 1409.7,1421.2C1411.2,1425.5 1411.6,1432.3 1413,1439.5C1414.4,1446.7 1416.1,1456.1 1418,1464.4C1419.9,1472.7 1422.4,1481 1424.6,1489.3C1426.8,1497.6 1428.8,1507.3 1431.3,1514.2C1433.8,1521.1 1437.1,1525.3 1439.6,1530.8C1442.1,1536.3 1443.7,1541 1446.2,1547.4C1448.7,1553.8 1451.7,1563.2 1454.5,1569C1457.3,1574.8 1460.3,1579.7 1462.8,1582.3C1465.3,1584.9 1467.6,1584.3 1469.5,1584.8C1471.4,1585 1473.2,1585 1474,1585" fill="none" stroke="#0b0b0b" stroke-width="3.2" stroke-linejoin="round"/>
<path d="M1378,1585C1379.1,1585 1382.6,1585 1384.8,1584.8C1387,1581.3 1389.8,1577.2 1391.4,1564C1393.1,1550.8 1393.6,1526.7 1394.7,1505.9C1395.8,1485.2 1397,1461.7 1398.1,1439.5C1399.2,1417.3 1400,1393.8 1401.4,1373C1402.8,1352.2 1404.9,1326 1406.4,1314.9C1407.9,1303.8 1409.1,1306 1410.5,1306.6C1411.9,1307.1 1413.5,1309.9 1414.7,1318.2C1416,1326.5 1416.9,1341.7 1418,1356.4C1419.1,1371.1 1420.2,1391 1421.3,1406.2C1422.4,1421.4 1422.9,1436.7 1424.6,1447.8C1426.3,1458.9 1429.1,1464.4 1431.3,1472.7C1433.5,1481 1435.7,1487.9 1437.9,1497.6C1440.1,1507.3 1442.4,1519.7 1444.6,1530.8C1446.8,1541.9 1449,1555 1451.2,1564C1453.4,1573 1456,1581.3 1457.8,1584.8C1459.6,1585 1461.3,1585 1462,1585L1462,1585L1378,1585Z" fill="#b22622" fill-opacity="0.1" stroke="none"/>
<path d="M1378,1585C1379.1,1585 1382.6,1585 1384.8,1584.8C1387,1581.3 1389.8,1577.2 1391.4,1564C1393.1,1550.8 1393.6,1526.7 1394.7,1505.9C1395.8,1485.2 1397,1461.7 1398.1,1439.5C1399.2,1417.3 1400,1393.8 1401.4,1373C1402.8,1352.2 1404.9,1326 1406.4,1314.9C1407.9,1303.8 1409.1,1306 1410.5,1306.6C1411.9,1307.1 1413.5,1309.9 1414.7,1318.2C1416,1326.5 1416.9,1341.7 1418,1356.4C1419.1,1371.1 1420.2,1391 1421.3,1406.2C1422.4,1421.4 1422.9,1436.7 1424.6,1447.8C1426.3,1458.9 1429.1,1464.4 1431.3,1472.7C1433.5,1481 1435.7,1487.9 1437.9,1497.6C1440.1,1507.3 1442.4,1519.7 1444.6,1530.8C1446.8,1541.9 1449,1555 1451.2,1564C1453.4,1573 1456,1581.3 1457.8,1584.8C1459.6,1585 1461.3,1585 1462,1585" fill="none" stroke="#b22622" stroke-width="3.2" stroke-linejoin="round"/>
<path d="M1366,1585C1368,1583.8 1374,1582.8 1378,1578C1382,1573.2 1386,1567 1390,1556C1394,1545 1398.3,1527.7 1402,1512C1405.7,1496.3 1409.3,1476 1412,1462C1414.7,1448 1415.9,1437.3 1418,1428C1420.1,1418.7 1422.7,1413.7 1424.6,1406.2C1426.5,1398.7 1427.7,1389 1429.6,1383C1431.5,1377 1434,1370.8 1435.9,1370.5C1437.8,1370.2 1439.5,1372.6 1441.2,1381.3C1442.9,1390 1444.5,1407.6 1446.2,1422.8C1447.9,1438 1449.3,1456.1 1451.2,1472.7C1453.1,1489.3 1455.6,1507.3 1457.8,1522.5C1460,1537.7 1462.3,1553.6 1464.5,1564C1466.7,1574.4 1469.3,1581.3 1471.1,1584.8C1472.8,1585 1474.3,1585 1475,1585L1475,1585L1366,1585Z" fill="#e5684c" fill-opacity="0.1" stroke="none"/>
<path d="M1366,1585C1368,1583.8 1374,1582.8 1378,1578C1382,1573.2 1386,1567 1390,1556C1394,1545 1398.3,1527.7 1402,1512C1405.7,1496.3 1409.3,1476 1412,1462C1414.7,1448 1415.9,1437.3 1418,1428C1420.1,1418.7 1422.7,1413.7 1424.6,1406.2C1426.5,1398.7 1427.7,1389 1429.6,1383C1431.5,1377 1434,1370.8 1435.9,1370.5C1437.8,1370.2 1439.5,1372.6 1441.2,1381.3C1442.9,1390 1444.5,1407.6 1446.2,1422.8C1447.9,1438 1449.3,1456.1 1451.2,1472.7C1453.1,1489.3 1455.6,1507.3 1457.8,1522.5C1460,1537.7 1462.3,1553.6 1464.5,1564C1466.7,1574.4 1469.3,1581.3 1471.1,1584.8C1472.8,1585 1474.3,1585 1475,1585" fill="none" stroke="#e5684c" stroke-width="3.2" stroke-linejoin="round"/>
<path d="M1368,1585C1370.7,1582.8 1379,1580.8 1384,1572C1389,1563.2 1393.7,1547 1398,1532C1402.3,1517 1406.3,1497 1410,1482C1413.7,1467 1417,1452.3 1420,1442C1423,1431.7 1425.3,1427 1428,1420C1430.7,1413 1433.2,1405.6 1436,1400C1438.8,1394.4 1442.3,1387.1 1444.6,1386.3C1446.9,1385.5 1448.3,1387.7 1450,1395C1451.7,1402.3 1453.3,1415.8 1455,1430C1456.7,1444.2 1458.2,1463.3 1460,1480C1461.8,1496.7 1464,1515.3 1466,1530C1468,1544.7 1469.7,1558.8 1472,1568C1474.3,1577.2 1478.7,1582.2 1480,1585L1480,1585L1368,1585Z" fill="#fcaa88" fill-opacity="0.1" stroke="none"/>
<path d="M1368,1585C1370.7,1582.8 1379,1580.8 1384,1572C1389,1563.2 1393.7,1547 1398,1532C1402.3,1517 1406.3,1497 1410,1482C1413.7,1467 1417,1452.3 1420,1442C1423,1431.7 1425.3,1427 1428,1420C1430.7,1413 1433.2,1405.6 1436,1400C1438.8,1394.4 1442.3,1387.1 1444.6,1386.3C1446.9,1385.5 1448.3,1387.7 1450,1395C1451.7,1402.3 1453.3,1415.8 1455,1430C1456.7,1444.2 1458.2,1463.3 1460,1480C1461.8,1496.7 1464,1515.3 1466,1530C1468,1544.7 1469.7,1558.8 1472,1568C1474.3,1577.2 1478.7,1582.2 1480,1585" fill="none" stroke="#fcaa88" stroke-width="3.2" stroke-linejoin="round"/>
<path d="M1358,1585C1360.8,1582.5 1369.7,1579.2 1375,1570C1380.3,1560.8 1385.5,1545.8 1390,1530C1394.5,1514.2 1398.3,1490.8 1402,1475C1405.7,1459.2 1408.8,1444.2 1412,1435C1415.2,1425.8 1418,1420.5 1421,1420C1424,1419.5 1426.8,1425.3 1430,1432C1433.2,1438.7 1436.7,1448.7 1440,1460C1443.3,1471.3 1446.7,1485.8 1450,1500C1453.3,1514.2 1456.7,1532 1460,1545C1463.3,1558 1467,1571.3 1470,1578C1473,1584.7 1476.7,1583.8 1478,1585L1478,1585L1358,1585Z" fill="#f3d8cb" fill-opacity="0.1" stroke="none"/>
<path d="M1358,1585C1360.8,1582.5 1369.7,1579.2 1375,1570C1380.3,1560.8 1385.5,1545.8 1390,1530C1394.5,1514.2 1398.3,1490.8 1402,1475C1405.7,1459.2 1408.8,1444.2 1412,1435C1415.2,1425.8 1418,1420.5 1421,1420C1424,1419.5 1426.8,1425.3 1430,1432C1433.2,1438.7 1436.7,1448.7 1440,1460C1443.3,1471.3 1446.7,1485.8 1450,1500C1453.3,1514.2 1456.7,1532 1460,1545C1463.3,1558 1467,1571.3 1470,1578C1473,1584.7 1476.7,1583.8 1478,1585" fill="none" stroke="#f3d8cb" stroke-width="3.2" stroke-linejoin="round"/>
<path d="M1352,1585C1354.7,1582.8 1363.3,1578.7 1368,1572C1372.7,1565.3 1376,1557 1380,1545C1384,1533 1388.3,1515.8 1392,1500C1395.7,1484.2 1398.7,1464.7 1402,1450C1405.3,1435.3 1408.8,1419.7 1412,1412C1415.2,1404.3 1418.3,1403.2 1421.3,1403.7C1424.3,1404.2 1427.2,1408.1 1430,1415C1432.8,1421.9 1435.3,1432.5 1438,1445C1440.7,1457.5 1443.3,1475 1446,1490C1448.7,1505 1451.3,1521.7 1454,1535C1456.7,1548.3 1459.3,1561.7 1462,1570C1464.7,1578.3 1468.7,1582.5 1470,1585L1470,1585L1352,1585Z" fill="#dae2f6" fill-opacity="0.1" stroke="none"/>
<path d="M1352,1585C1354.7,1582.8 1363.3,1578.7 1368,1572C1372.7,1565.3 1376,1557 1380,1545C1384,1533 1388.3,1515.8 1392,1500C1395.7,1484.2 1398.7,1464.7 1402,1450C1405.3,1435.3 1408.8,1419.7 1412,1412C1415.2,1404.3 1418.3,1403.2 1421.3,1403.7C1424.3,1404.2 1427.2,1408.1 1430,1415C1432.8,1421.9 1435.3,1432.5 1438,1445C1440.7,1457.5 1443.3,1475 1446,1490C1448.7,1505 1451.3,1521.7 1454,1535C1456.7,1548.3 1459.3,1561.7 1462,1570C1464.7,1578.3 1468.7,1582.5 1470,1585" fill="none" stroke="#dae2f6" stroke-width="3.2" stroke-linejoin="round"/>
<path d="M1348,1585C1350.8,1583 1359.7,1578.5 1365,1573C1370.3,1567.5 1375,1559.2 1380,1552C1385,1544.8 1390.8,1537 1395,1530C1399.2,1523 1402,1516 1405,1510C1408,1504 1410.5,1497.3 1413,1494C1415.5,1490.7 1417.8,1491.2 1420,1490C1422.2,1488.8 1424,1491.2 1426,1487C1428,1482.8 1429.7,1474.5 1432,1465C1434.3,1455.5 1437.7,1440 1440,1430C1442.3,1420 1444,1410.6 1446,1405C1448,1399.4 1450.2,1395.5 1452,1396.3C1453.8,1397.1 1455.3,1399.4 1457,1410C1458.7,1420.6 1460.2,1441.7 1462,1460C1463.8,1478.3 1466,1502.5 1468,1520C1470,1537.5 1471.7,1554.2 1474,1565C1476.3,1575.8 1480.7,1581.7 1482,1585L1482,1585L1348,1585Z" fill="#b3c5eb" fill-opacity="0.1" stroke="none"/>
<path d="M1348,1585C1350.8,1583 1359.7,1578.5 1365,1573C1370.3,1567.5 1375,1559.2 1380,1552C1385,1544.8 1390.8,1537 1395,1530C1399.2,1523 1402,1516 1405,1510C1408,1504 1410.5,1497.3 1413,1494C1415.5,1490.7 1417.8,1491.2 1420,1490C1422.2,1488.8 1424,1491.2 1426,1487C1428,1482.8 1429.7,1474.5 1432,1465C1434.3,1455.5 1437.7,1440 1440,1430C1442.3,1420 1444,1410.6 1446,1405C1448,1399.4 1450.2,1395.5 1452,1396.3C1453.8,1397.1 1455.3,1399.4 1457,1410C1458.7,1420.6 1460.2,1441.7 1462,1460C1463.8,1478.3 1466,1502.5 1468,1520C1470,1537.5 1471.7,1554.2 1474,1565C1476.3,1575.8 1480.7,1581.7 1482,1585" fill="none" stroke="#b3c5eb" stroke-width="3.2" stroke-linejoin="round"/>
<path d="M1343,1585C1345.2,1583.8 1351.8,1581.2 1356,1578C1360.2,1574.8 1364,1569.3 1368,1566C1372,1562.7 1376,1561.3 1380,1558C1384,1554.7 1388.3,1552.3 1392,1546C1395.7,1539.7 1399,1529.3 1402,1520C1405,1510.7 1407.3,1498.7 1410,1490C1412.7,1481.3 1415.6,1472.5 1418,1468C1420.4,1463.5 1422.6,1462.7 1424.6,1462.7C1426.6,1462.7 1428,1466.6 1430,1468C1432,1469.4 1434,1472.7 1436.3,1471C1438.6,1469.3 1441.7,1462.8 1444,1458C1446.3,1453.2 1448.2,1445.7 1450,1442C1451.8,1438.3 1453,1435.1 1454.5,1436.1C1456,1437.1 1457.4,1439.8 1459,1448C1460.6,1456.2 1462.2,1471.3 1464,1485C1465.8,1498.7 1468,1516.2 1470,1530C1472,1543.8 1473.7,1558.8 1476,1568C1478.3,1577.2 1482.7,1582.2 1484,1585L1484,1585L1343,1585Z" fill="#7887cc" fill-opacity="0.1" stroke="none"/>
<path d="M1343,1585C1345.2,1583.8 1351.8,1581.2 1356,1578C1360.2,1574.8 1364,1569.3 1368,1566C1372,1562.7 1376,1561.3 1380,1558C1384,1554.7 1388.3,1552.3 1392,1546C1395.7,1539.7 1399,1529.3 1402,1520C1405,1510.7 1407.3,1498.7 1410,1490C1412.7,1481.3 1415.6,1472.5 1418,1468C1420.4,1463.5 1422.6,1462.7 1424.6,1462.7C1426.6,1462.7 1428,1466.6 1430,1468C1432,1469.4 1434,1472.7 1436.3,1471C1438.6,1469.3 1441.7,1462.8 1444,1458C1446.3,1453.2 1448.2,1445.7 1450,1442C1451.8,1438.3 1453,1435.1 1454.5,1436.1C1456,1437.1 1457.4,1439.8 1459,1448C1460.6,1456.2 1462.2,1471.3 1464,1485C1465.8,1498.7 1468,1516.2 1470,1530C1472,1543.8 1473.7,1558.8 1476,1568C1478.3,1577.2 1482.7,1582.2 1484,1585" fill="none" stroke="#7887cc" stroke-width="3.2" stroke-linejoin="round"/>
<path d="M1338,1585C1338.9,1585 1339.9,1585 1343.3,1584.8C1346.7,1583.2 1354,1578.8 1358.2,1575.6C1362.4,1572.4 1364.9,1568.2 1368.2,1565.7C1371.5,1563.2 1374.5,1561.7 1378.1,1560.7C1381.7,1559.7 1386.8,1561.8 1389.8,1559.8C1392.8,1557.8 1394.2,1555.2 1396.4,1549C1398.6,1542.8 1400.8,1531.1 1403,1522.5C1405.2,1513.9 1407.5,1505.9 1409.7,1497.6C1411.9,1489.3 1414.1,1479.1 1416.3,1472.7C1418.5,1466.3 1420.8,1462 1423,1459.4C1425.2,1456.8 1427.1,1457.7 1429.6,1456.9C1432.1,1456.1 1435.4,1457.3 1437.9,1454.4C1440.4,1451.5 1442.7,1444.8 1444.6,1439.5C1446.5,1434.2 1448,1426.5 1449.5,1422.8C1451,1419 1452.3,1416.4 1453.7,1417C1455.1,1417.6 1456.3,1418.3 1457.8,1426.2C1459.3,1434.1 1461.1,1449.7 1462.8,1464.4C1464.5,1479.1 1466.1,1499 1467.8,1514.2C1469.5,1529.4 1470.9,1544.9 1472.8,1555.7C1474.7,1566.5 1477.2,1574.1 1479.4,1578.9C1481.6,1583.8 1484.3,1583.8 1486.1,1584.8C1487.9,1585 1489.3,1585 1490,1585L1490,1585L1338,1585Z" fill="#4b4ba8" fill-opacity="0.1" stroke="none"/>
<path d="M1338,1585C1338.9,1585 1339.9,1585 1343.3,1584.8C1346.7,1583.2 1354,1578.8 1358.2,1575.6C1362.4,1572.4 1364.9,1568.2 1368.2,1565.7C1371.5,1563.2 1374.5,1561.7 1378.1,1560.7C1381.7,1559.7 1386.8,1561.8 1389.8,1559.8C1392.8,1557.8 1394.2,1555.2 1396.4,1549C1398.6,1542.8 1400.8,1531.1 1403,1522.5C1405.2,1513.9 1407.5,1505.9 1409.7,1497.6C1411.9,1489.3 1414.1,1479.1 1416.3,1472.7C1418.5,1466.3 1420.8,1462 1423,1459.4C1425.2,1456.8 1427.1,1457.7 1429.6,1456.9C1432.1,1456.1 1435.4,1457.3 1437.9,1454.4C1440.4,1451.5 1442.7,1444.8 1444.6,1439.5C1446.5,1434.2 1448,1426.5 1449.5,1422.8C1451,1419 1452.3,1416.4 1453.7,1417C1455.1,1417.6 1456.3,1418.3 1457.8,1426.2C1459.3,1434.1 1461.1,1449.7 1462.8,1464.4C1464.5,1479.1 1466.1,1499 1467.8,1514.2C1469.5,1529.4 1470.9,1544.9 1472.8,1555.7C1474.7,1566.5 1477.2,1574.1 1479.4,1578.9C1481.6,1583.8 1484.3,1583.8 1486.1,1584.8C1487.9,1585 1489.3,1585 1490,1585" fill="none" stroke="#4b4ba8" stroke-width="3.2" stroke-linejoin="round"/>
<polyline points="1325.2,1292.6 1325.2,1585 1504.6,1585" fill="none" stroke="#000" stroke-width="2.2" stroke-linejoin="miter"/>
<line x1="1376.6" y1="1578.8" x2="1376.6" y2="1591.2" stroke="#000" stroke-width="2.2"/>
<line x1="1473.5" y1="1578.8" x2="1473.5" y2="1591.2" stroke="#000" stroke-width="2.2"/>
<line x1="1318.9" y1="1585" x2="1331.5" y2="1585" stroke="#000" stroke-width="2.2"/>
<text transform="translate(1266.27,1595.40) scale(0.953,1)" font-size="30.0" fill="#000">0.0</text>
<line x1="1318.9" y1="1487.1" x2="1331.5" y2="1487.1" stroke="#000" stroke-width="2.2"/>
<text transform="translate(1266.36,1497.50) scale(0.953,1)" font-size="30.0" fill="#000">0.5</text>
<line x1="1318.9" y1="1389.2" x2="1331.5" y2="1389.2" stroke="#000" stroke-width="2.2"/>
<text transform="translate(1266.27,1399.60) scale(0.953,1)" font-size="30.0" fill="#000">1.0</text>
<text transform="translate(1368.74,1625.54) scale(0.953,1)" font-size="30.0" fill="#000">4</text>
<text transform="translate(1465.45,1625.54) scale(0.953,1)" font-size="30.0" fill="#000">6</text>
<text transform="translate(1365.18,1665.60) scale(0.953,1)" font-size="30.0" fill="#000">UMAP3</text>
<text transform="rotate(-90,1245.20,1438.80) translate(1196.40,1438.80) scale(0.953,1)" font-size="30.0" fill="#000">Density</text>
<rect x="893.5" y="1693" width="372" height="104" fill="none" stroke="#000" stroke-width="2.2"/>
<rect x="977.0" y="1701.4" width="22.8" height="22.6" rx="1.5" fill="#0b0b0b"/>
<rect x="1008.2" y="1701.4" width="22.8" height="22.6" rx="1.5" fill="#b22622"/>
<rect x="1040.3" y="1701.4" width="22.8" height="22.6" rx="1.5" fill="#e5684c"/>
<rect x="1072.3" y="1701.4" width="22.8" height="22.6" rx="1.5" fill="#fcaa88"/>
<rect x="1104.1" y="1701.4" width="22.8" height="22.6" rx="1.5" fill="#f3d8cb"/>
<rect x="1135.9" y="1701.4" width="22.8" height="22.6" rx="1.5" fill="#dae2f6"/>
<rect x="1167.7" y="1701.4" width="22.8" height="22.6" rx="1.5" fill="#b3c5eb"/>
<rect x="1199.5" y="1701.4" width="22.8" height="22.6" rx="1.5" fill="#7887cc"/>
<rect x="1231.3" y="1701.4" width="22.8" height="22.6" rx="1.5" fill="#4b4ba8"/>
<text transform="translate(898.64,1754.70) scale(1.035,1)" font-size="28.91" fill="#000">control</text>
<text transform="translate(1011.27,1755.00) scale(0.953,1)" font-size="30.0" fill="#000">1</text>
<text transform="translate(1043.75,1755.00) scale(0.953,1)" font-size="30.0" fill="#000">2</text>
<text transform="translate(1075.84,1755.00) scale(0.953,1)" font-size="30.0" fill="#000">3</text>
<text transform="translate(1107.64,1755.00) scale(0.953,1)" font-size="30.0" fill="#000">4</text>
<text transform="translate(1139.38,1755.00) scale(0.953,1)" font-size="30.0" fill="#000">5</text>
<text transform="translate(1171.05,1755.00) scale(0.953,1)" font-size="30.0" fill="#000">6</text>
<text transform="translate(1202.94,1755.00) scale(0.953,1)" font-size="30.0" fill="#000">7</text>
<text transform="translate(1234.75,1755.00) scale(0.953,1)" font-size="30.0" fill="#000">8</text>
<text transform="translate(1110.63,1785.50) scale(1.041,1)" font-size="27.93" fill="#000">wpi</text>
<polygon points="183.6,524 325,428 324.3,320 174.2,415.5" fill="#f1f1f1" stroke="none" stroke-width="1"/>
<polygon points="325,428 467.2,523.6 474.5,416.3 324.3,320" fill="#f4f4f4" stroke="none" stroke-width="1"/>
<polygon points="183.6,524 324.8,633.4 467.2,523.6 325,428" fill="#f8f8f8" stroke="none" stroke-width="1"/>
<line x1="214" y1="503.4" x2="206.5" y2="395" stroke="#b4b4b4" stroke-width="1.8"/>
<line x1="256.8" y1="474.3" x2="252" y2="366" stroke="#b4b4b4" stroke-width="1.8"/>
<line x1="298.6" y1="446" x2="296.2" y2="337.9" stroke="#b4b4b4" stroke-width="1.8"/>
<line x1="181.8" y1="503.4" x2="324.9" y2="407.5" stroke="#b4b4b4" stroke-width="1.8"/>
<line x1="178.2" y1="461.6" x2="324.6" y2="365.9" stroke="#b4b4b4" stroke-width="1.8"/>
<line x1="352.9" y1="446.7" x2="353.7" y2="338.9" stroke="#b4b4b4" stroke-width="1.8"/>
<line x1="394.1" y1="474.5" x2="397.3" y2="366.8" stroke="#b4b4b4" stroke-width="1.8"/>
<line x1="437.8" y1="503.8" x2="443.4" y2="396.4" stroke="#b4b4b4" stroke-width="1.8"/>
<line x1="324.9" y1="407.5" x2="468.6" y2="503.2" stroke="#b4b4b4" stroke-width="1.8"/>
<line x1="324.6" y1="365.9" x2="471.4" y2="461.9" stroke="#b4b4b4" stroke-width="1.8"/>
<polyline points="174.2,415.5 324.3,320 474.5,416.3" fill="none" stroke="#b4b4b4" stroke-width="2"/>
<line x1="209.9" y1="544.3" x2="351.4" y2="445.8" stroke="#b4b4b4" stroke-width="1.8"/>
<line x1="252.2" y1="577.2" x2="394.1" y2="474.5" stroke="#b4b4b4" stroke-width="1.8"/>
<line x1="294.9" y1="610.2" x2="437.1" y2="503.3" stroke="#b4b4b4" stroke-width="1.8"/>
<line x1="214.4" y1="503.1" x2="355.8" y2="609.5" stroke="#b4b4b4" stroke-width="1.8"/>
<line x1="256.3" y1="474.7" x2="398" y2="577" stroke="#b4b4b4" stroke-width="1.8"/>
<line x1="299.8" y1="445.1" x2="441.9" y2="543.1" stroke="#b4b4b4" stroke-width="1.8"/>
<defs><radialGradient id="gR" cx="50%" cy="50%" r="50%"><stop offset="0" stop-color="#a8201a" stop-opacity="0.95"/><stop offset="0.7" stop-color="#b8261f" stop-opacity="0.8"/><stop offset="1" stop-color="#c8302a" stop-opacity="0"/></radialGradient><radialGradient id="gK" cx="50%" cy="50%" r="50%"><stop offset="0" stop-color="#0a0505" stop-opacity="0.95"/><stop offset="0.6" stop-color="#1a0808" stop-opacity="0.75"/><stop offset="1" stop-color="#2a0a0a" stop-opacity="0"/></radialGradient></defs>
<ellipse cx="0" cy="0" rx="110" ry="65" fill="url(#gR)" transform="translate(330,465) rotate(-6)"/>
<path d="M394.5 398.0l44.9 38.8l-5.6 24.8l2.1 22.2l-42.9 53.8l-85.3 -11.5l-47.3 -21.2l-40.1 0.1l-8.7 -19.9l-2.9 -40.3l60.9 -19.4l76.0 -30.1M411.2 511.7l-42.9 48.6l-90.3 -28.5l-37.1 -16.9l-32.3 -22.7l18.3 -41.8l51.0 -28.3l75.6 -14.2l53.6 12.3l44.5 23.4l-5.0 33.5l-54.6 41.1M407.5 467.6l0.2 23.3l-49.0 41.0l-84.6 1.0l-15.3 -65.1l-29.6 -11.6l19.4 -46.1l38.1 -33.6l69.3 24.6l37.6 15.9l12.8 33.6l24.7 36.1M463.8 474.6l-65.2 48.8l-104.3 13.7l-71.2 -16.9l6.4 -32.9l-5.2 -49.4l64.1 -67.2l100.5 13.2l12.9 23.7l22.4 48.3l9.1 30.5l-65.2 43.7M261.7 430.3l51.4 -46.6l70.4 23.1l38.8 28.0l28.5 -7.4l-29.4 51.7l-27.5 18.7l-89.6 22.4l-58.6 -17.1l-55.0 -14.8l-12.0 -30.2l72.0 -10.7M293.7 392.9l82.4 -2.0l20.0 24.7l40.7 45.5l-4.6 39.9l-86.6 29.6l-52.8 5.1l-46.5 -44.9l-14.4 -24.6l23.2 -38.2l76.3 -44.7l82.8 23.5M233.9 500.9l33.2 -54.5l27.0 -18.3l36.6 -11.7l45.0 -14.7l52.2 10.8l22.7 22.3l-16.2 32.7l-31.2 41.1l-69.3 -5.5l-19.5 7.7l-45.3 1.5M263.1 400.9l75.6 20.3l50.5 -21.2l45.2 39.4l-13.5 36.4l-37.2 19.6l-74.4 36.7l-81.2 -21.9l-23.8 -20.6l-15.6 -38.2l34.2 -46.3l108.6 -4.9M318.6 385.5l66.5 8.7l35.5 2.4l25.3 45.8l-33.7 62.1l-66.0 39.2l-63.9 5.0l-41.3 -19.8l-47.8 -27.0l50.1 -29.0l9.6 -45.5l98.9 -45.5M455.1 460.3l-21.3 36.4l-47.0 12.2l-60.5 11.0l-46.5 -16.5l-70.8 -22.7l1.0 -28.3l21.4 -44.0l46.0 -11.5l57.4 -12.6l66.1 34.6l31.1 31.0M380.2 412.5l45.5 31.5l6.5 -7.7l-31.8 71.8l-44.1 27.9l-57.8 -13.5l-48.4 -5.5l-41.9 -40.8l52.7 -50.6l79.2 -11.8l56.1 5.3l23.8 10.6M248.7 433.9l59.9 -12.8l94.1 -5.7l49.9 4.7l1.9 35.1l-32.1 26.9l-50.8 40.8l-73.0 -5.5l-96.1 -6.9l-18.7 -28.2l80.2 -33.1l40.1 -32.0M340.8 399.9l47.7 -0.8l52.7 40.1l-15.5 36.7l-6.0 39.0l-75.2 18.2l-72.9 -41.9l-48.9 -21.9l22.1 -35.3l-4.1 -20.5l72.3 -15.7l89.9 8.6M253.7 471.5l-20.5 -34.3l26.7 -11.9l45.6 -39.1l68.8 10.0l47.6 32.0l15.8 27.5l-50.8 43.3l-13.2 9.5l-60.2 -0.2l-50.2 2.7l-16.9 -35.8M215.2 476.6l23.5 -38.1l8.2 -18.0l65.4 -10.0l55.4 -4.4l74.8 -0.8l-17.2 52.0l-39.5 45.9l-33.6 16.9l-70.8 13.7l-58.1 -26.0l-27.8 -13.1M430.0 438.8l26.3 7.5l-40.7 46.4l-55.5 -3.3l-59.0 27.8l-45.1 9.2l-47.7 -28.7l-8.9 -57.2l63.5 -11.1l69.1 -8.8l40.2 -11.0l55.2 35.2M288.4 542.5l-51.7 -14.0l-29.4 -42.8l0.6 -29.3l41.7 -56.0l66.4 6.2l60.2 -4.8l46.2 50.9l1.2 41.8l-16.0 5.6l-31.3 36.1l-71.2 19.5M330.8 530.4l-54.9 -21.7l-42.6 -25.0l-19.6 -51.3l48.0 -10.6l84.4 -30.0l42.5 32.5l57.5 13.1l12.2 36.3l-38.9 36.8l-61.1 26.1l-55.1 -37.2M370.8 393.6l62.6 56.3l-12.0 53.8l-32.9 12.4l-43.5 -13.4l-82.0 17.3l-73.0 -41.9l15.9 -49.8l21.7 -18.7l65.5 -12.5l62.6 -12.4l81.3 73.8M288.8 525.3l-77.1 -13.3l-25.0 -46.1l24.2 -39.7l53.0 -31.2l78.5 11.5l57.9 7.9l47.1 44.7l-30.2 27.6l-70.1 -2.4l-57.3 15.6l-96.6 -27.7M427.1 436.8l28.6 18.8l-26.7 55.5l-64.1 20.3l-63.4 3.9l-54.6 -18.0l-62.6 -10.5l13.0 -55.4l78.6 -43.2l17.4 0.0l80.3 3.6l50.6 17.4M411.8 524.9l-83.3 9.5l-57.7 -24.3l-35.0 -18.9l-19.2 -45.2l15.8 -34.2l66.0 12.6l63.1 4.0l44.9 23.0l32.2 29.9l-7.1 22.6l-45.6 24.7M223.6 498.5l-11.0 -23.2l32.8 -33.5l35.4 -23.8l65.3 -21.8l52.8 20.4l-3.5 33.7l-5.4 30.8l-14.4 27.4l-62.3 15.1l-31.2 1.6l-62.5 -49.7M283.0 387.1l58.5 -4.7l61.4 15.7l38.9 55.6l-20.3 -3.1l-5.9 39.8l-52.4 49.2l-82.2 -4.5l-58.7 -17.0l3.9 -27.8l-9.1 -50.8l34.0 -38.8M251.2 550.0l-45.1 -32.9l19.1 -59.8l46.3 -25.2l47.1 -33.4l67.7 11.7l45.2 29.1l-11.2 16.6l-40.4 57.4l-93.2 7.0l-39.1 18.9l-55.6 -18.2M433.8 463.0l-66.2 50.4l-70.6 17.4l-9.8 13.3l-65.7 -38.9l-7.6 -21.7l37.0 -48.2l39.7 -19.3l66.0 0.5l34.9 -16.9l34.7 45.1l-2.2 12.9" fill="none" stroke="#e9917f" stroke-width="0.8" stroke-opacity="0.5"/>
<path d="M455 452L525 480L462 470M448 440L522 472L470 455M410 392L440 352L425 396M395 390L415 348L430 392M215 470L131 473L220 490M220 480L140 505L230 500M300 535L288 572L330 540M360 530L395 565L380 525M470 480L505 510L460 495M250 420L205 400L262 432M440 430L488 415L452 445M330 395L350 362L368 398" fill="none" stroke="#ec9a88" stroke-width="0.8" stroke-opacity="0.7"/>
<path d="M397.7 437.6l12.2 12.8l2.5 14.7l-14.6 8.0l-16.9 11.4l-15.7 3.6l-15.8 6.1l-15.0 5.7l-17.8 5.6l-18.7 2.1l-20.1 -2.3l-14.3 -11.6l-13.8 -2.5l-5.9 -13.6l-3.3 -13.2l10.6 -14.7l7.7 -10.0l18.0 -6.7l15.5 -5.0l19.2 -6.8l13.6 4.8l20.1 4.5l23.6 -9.9l11.9 11.0l21.9 7.3l9.2 11.5M389.5 494.4l-15.9 7.8l-25.4 9.0l-18.8 4.2l-27.9 1.3l-32.7 -2.1l-17.1 -6.9l-16.5 -16.8l-0.1 -15.5l13.6 -11.4l7.2 -15.2l14.2 -8.9l18.7 -9.1l11.0 -11.7l21.5 -12.3l21.6 -2.8l23.5 -5.7l26.8 0.7l23.7 10.4l13.7 10.9l6.1 10.6l3.4 16.2l-3.5 13.8l-11.0 9.7l-9.0 15.0l-23.0 9.4M370.9 424.5l15.0 -2.2l21.5 4.0l22.6 8.2l8.4 5.4l2.2 12.2l-7.8 8.1l-14.6 9.8l-27.5 8.6l-16.9 10.9l-20.6 -1.6l-19.6 3.2l-19.7 2.5l-21.0 1.9l-18.0 0.4l-21.3 -4.5l-12.3 -2.0l-10.5 -11.7l-8.8 -5.9l-0.0 -12.5l7.6 -9.9l7.7 -14.2l15.7 -5.4l23.3 -5.8l21.2 -3.0l23.8 -4.8M379.2 412.1l13.4 9.7l10.6 9.2l7.3 6.6l6.7 11.1l3.3 11.0l-8.7 15.4l-3.6 5.2l-12.5 17.8l-18.1 6.2l-15.3 7.6l-25.7 9.5l-23.6 4.2l-21.6 -4.2l-15.6 -6.5l-10.4 -13.6l-3.4 -10.3l2.4 -12.0l-3.3 -13.0l7.4 -7.9l-2.6 -14.0l7.5 -13.4l12.8 -14.9l17.9 -8.1l23.1 -2.3l23.3 -3.8M311.1 519.6l-15.1 -11.7l-6.3 -2.2l-17.4 -12.4l-6.0 -12.2l-11.0 -9.6l-1.1 -13.8l0.6 -18.7l13.2 -17.4l24.9 -5.9l13.3 -0.6l18.3 -4.0l17.5 1.1l14.3 6.8l19.8 1.5l15.3 3.4l7.0 11.5l6.0 11.5l10.4 15.4l-0.8 14.1l-5.0 16.8l-8.2 12.8l-18.2 7.6l-15.2 12.6l-22.0 4.7l-19.1 -3.1M425.6 482.0l-17.8 10.3l-27.5 8.9l-28.9 9.5l-28.6 -2.8l-29.9 4.5l-14.6 -5.0l-22.2 -8.9l-11.7 -8.5l-0.8 -9.6l0.3 -11.8l4.0 -13.9l20.3 -10.9l11.2 -17.5l28.5 -9.0l30.8 -8.0l33.5 -2.0l20.2 6.9l16.8 5.1l4.3 14.5l9.5 6.5l2.5 8.9l5.2 9.5l1.2 13.3l-18.9 18.5l-27.8 9.1M254.9 503.1l-7.9 -14.9l-4.8 -7.8l2.1 -12.3l9.5 -14.2l17.3 -7.1l20.4 -6.6l20.1 -7.6l21.6 4.5l15.5 -1.3l25.4 -4.1l18.4 -0.7l23.8 10.7l10.0 7.2l0.9 14.0l-4.8 12.5l-21.8 6.6l-19.2 11.0l-16.0 4.0l-16.4 6.2l-14.0 4.3l-25.6 3.5l-19.4 1.6l-23.2 -5.8l-11.6 -8.1l-9.1 -9.5M336.4 416.3l26.2 -1.3l32.6 0.2l18.6 -3.7l15.2 11.7l5.3 9.7l-4.5 13.2l-7.7 6.7l-12.8 11.2l-4.7 6.1l-16.4 14.4l-12.4 8.5l-26.5 9.4l-21.4 6.3l-32.9 0.7l-23.4 -6.3l-13.9 -2.2l-9.9 -9.0l-11.2 -9.0l-0.1 -7.0l0.1 -8.8l10.3 -15.5l12.7 -8.8l17.6 -3.5l19.5 -7.8l22.7 -11.5M284.4 504.0l-17.3 -0.5l-19.7 -5.3l-20.5 -9.4l-10.0 -8.4l-3.7 -17.0l13.9 -14.6l12.8 -13.4l14.8 -7.0l21.4 -3.3l19.0 -10.0l17.9 -0.5l22.1 -1.2l18.6 -2.6l15.2 4.6l17.6 3.0l11.5 14.3l13.0 9.9l5.3 10.3l6.0 8.3l-10.7 15.7l-16.2 17.3l-14.5 10.9l-19.7 2.3l-24.0 4.1l-18.8 -4.9M357.2 514.0l-27.6 4.4l-16.9 -5.1l-24.4 -2.2l-21.6 -8.0l-10.5 -11.1l-16.4 -13.0l-9.9 -11.1l-0.6 -19.5l3.9 -11.9l17.5 -13.9l27.8 -9.8l26.0 -2.2l25.4 2.7l25.6 12.4l17.3 -2.1l20.9 11.5l21.2 5.8l17.3 10.4l8.6 14.3l-10.2 21.2l-13.8 14.6l-29.6 3.1l-22.7 6.6l-26.3 5.8l-21.6 -1.2M245.0 468.2l-3.4 -17.4l12.8 -14.5l20.2 -5.9l23.7 -7.1l18.5 -13.0l25.4 1.7l27.6 -6.2l30.0 7.9l29.6 13.2l18.0 9.3l0.6 18.6l-3.6 14.8l-18.2 12.9l-6.9 11.6l-14.4 11.8l-20.9 4.1l-27.5 11.1l-27.9 -5.6l-27.6 -3.2l-24.5 -8.3l-20.4 -14.3l-10.6 -18.7l-6.4 -15.7l9.6 -13.9l12.8 -10.5M327.6 498.2l-17.9 -4.6l-27.2 -5.7l-11.8 -3.9l-22.3 -5.7l-16.6 -2.2l-12.2 -13.2l-1.8 -9.6l15.1 -12.7l20.6 -6.9l27.9 -2.4l19.8 -6.8l28.2 -0.8l17.8 -2.0l20.5 2.7l22.1 -4.0l23.2 2.5l18.9 5.6l13.7 8.8l5.3 14.6l-4.0 15.4l-13.0 2.4l-11.7 13.2l-19.8 6.2l-19.5 2.5l-19.7 4.7M413.2 482.7l-16.7 6.2l-21.2 7.4l-30.5 8.6l-19.0 -2.1l-24.5 5.3l-27.4 -2.6l-19.5 -8.8l-17.1 -6.5l-1.3 -9.2l-0.3 -7.1l3.2 -14.1l7.0 -3.7l0.4 -12.3l10.7 -11.1l13.3 -7.6l28.7 -8.3l29.5 -4.8l25.9 0.5l22.1 6.9l21.5 12.1l3.9 9.1l8.8 4.3l8.2 8.6l9.2 4.3l1.8 10.2M234.0 481.1l-6.9 -10.6l2.5 -9.1l7.2 -11.3l12.0 -11.0l18.1 -11.1l23.2 -15.1l25.1 3.0l25.3 -6.2l16.1 7.4l20.8 6.0l13.6 3.7l13.4 4.1l11.2 6.7l12.1 7.6l11.3 8.5l-0.8 12.1l-13.3 12.1l-14.0 14.4l-26.8 4.3l-29.3 5.4l-20.6 -2.9l-23.6 0.1l-14.9 -2.4l-21.7 -0.1l-19.7 -2.5M415.9 422.7l16.7 12.0l-3.3 15.1l-5.7 6.8l-11.0 13.3l-17.6 9.3l-19.2 16.0l-20.6 5.8l-26.5 3.2l-29.3 -1.9l-29.7 2.8l-26.7 -5.3l-15.4 -9.2l-6.4 -13.6l15.9 -13.0l19.5 -13.5l24.2 -6.5l14.1 -8.9l16.8 -9.6l25.5 -7.9l25.3 -4.3l35.9 4.2l20.8 6.2l11.0 13.1l-1.7 11.4l-6.6 9.9M293.7 422.6l27.5 -7.0l29.1 -4.3l21.4 3.5l18.8 0.9l13.4 8.0l14.6 8.2l9.7 11.1l-1.3 8.9l-8.5 11.9l-14.6 15.1l-16.5 11.4l-23.3 12.4l-29.4 7.3l-29.6 0.8l-19.5 -2.9l-9.7 -9.0l-12.0 -7.8l-1.9 -9.8l-4.2 -11.2l-9.7 -12.0l10.6 -11.9l12.8 -17.1l31.2 -8.9l26.1 -6.1l25.0 -4.3M291.3 437.2l7.1 -10.4l14.5 -11.8l19.5 -9.8l23.7 0.0l23.4 6.5l11.9 17.2l8.1 14.5l5.3 12.1l-3.1 22.4l-2.2 11.8l-11.9 10.9l-9.8 14.4l-16.1 7.1l-18.6 11.1l-22.1 -3.1l-17.8 -8.0l-22.4 -4.1l-14.8 -16.0l-6.8 -12.3l4.8 -23.7l6.9 -17.1l14.3 -6.1l9.1 -11.6l10.9 -11.8l16.2 -14.9M253.8 453.7l15.4 -6.4l22.5 -10.6l18.8 -8.2l21.5 -2.0l34.7 -6.5l22.6 -3.7l26.2 7.2l20.4 5.2l3.5 13.4l-3.2 15.0l-9.6 10.8l-13.2 11.7l-10.9 10.3l-9.2 13.6l-18.7 11.6l-19.7 6.4l-25.8 11.5l-32.8 -0.6l-22.6 -2.7l-21.9 -6.1l-8.7 -12.1l-7.7 -6.5l-3.9 -16.5l-0.5 -14.9l12.7 -7.2M407.7 441.3l7.0 12.8l4.3 19.5l-3.6 16.3l-17.4 15.0l-25.1 3.0l-17.5 5.2l-20.1 -0.6l-18.9 -2.0l-15.7 3.1l-22.6 -2.2l-23.2 -7.6l-14.7 -10.7l-1.0 -20.6l-5.1 -14.0l13.0 -14.6l14.2 -13.2l15.8 -8.5l13.3 -12.5l21.2 -5.1l20.9 3.3l20.4 3.7l14.3 9.8l14.8 4.9l19.7 6.9l13.1 17.1M299.6 405.6l20.2 -1.8l29.0 -3.2l22.5 6.8l15.6 15.4l8.1 9.1l0.1 14.9l-7.1 9.7l-0.9 11.9l-7.2 10.8l-7.6 14.2l-13.6 11.6l-18.8 9.9l-25.3 2.9l-21.9 -7.4l-21.0 -11.4l-7.1 -12.6l-2.9 -8.8l-10.0 -13.3l0.4 -11.0l6.7 -13.2l10.0 -15.0l13.9 -7.7l12.7 -12.1l25.5 2.7l18.8 -4.0M269.7 430.4l25.2 -6.2l20.7 0.5l19.8 -4.7l24.6 -4.9l21.6 0.5l31.6 5.7l12.5 4.4l12.3 10.7l-12.4 19.3l-12.5 10.0l-23.2 9.7l-18.9 6.6l-14.8 4.9l-18.5 8.0l-27.1 8.0l-19.3 1.8l-26.8 -0.5l-15.5 -6.6l-10.9 -10.4l-4.5 -11.4l-4.0 -14.2l16.1 -16.3l14.6 -7.3l18.8 -9.0l21.1 -4.5M282.8 418.1l23.8 -8.7l14.3 -1.7l25.8 -0.1l24.7 -5.0l25.6 3.6l15.1 15.6l14.6 16.9l-8.5 18.7l-14.0 11.7l-14.9 13.6l-12.4 12.5l-16.7 6.6l-19.3 9.0l-19.4 8.6l-28.6 1.4l-23.2 -12.8l-13.3 -15.1l-11.2 -11.9l-4.0 -15.3l-2.1 -14.3l15.4 -14.1l15.5 -13.3l22.6 -9.1l13.4 -2.3l22.9 -6.8M354.1 416.7l20.5 2.1l9.2 4.0l7.9 13.3l2.7 5.0l3.6 7.2l6.3 10.8l1.8 8.3l1.0 7.9l-11.6 13.6l-12.4 6.3l-22.4 8.5l-23.7 -0.5l-23.4 7.2l-16.2 -10.8l-7.8 0.1l-10.7 -8.2l-13.7 -4.8l-8.6 -4.6l-9.5 -6.4l-2.0 -8.8l3.6 -7.8l12.3 -14.1l12.5 -8.1l14.9 -11.1l19.3 -3.6M308.0 503.8l-18.7 -1.8l-14.0 -4.5l-21.5 -6.0l0.7 -12.8l7.3 -7.2l2.2 -12.3l17.6 -4.9l-4.2 -8.8l17.6 -7.0l12.4 -11.2l15.8 -6.1l17.6 -4.0l21.5 5.1l14.1 5.9l16.6 9.4l4.1 7.0l6.1 6.7l2.7 8.3l-9.4 11.1l-7.8 7.3l-11.0 10.1l-17.3 4.9l-9.9 0.7l-18.8 5.0l-23.3 8.0M292.8 420.5l17.9 -13.5l26.3 -4.4l24.0 -4.1l24.6 2.1l13.4 13.1l9.5 19.0l-5.9 21.9l-3.0 13.6l-6.0 13.1l-7.5 16.0l-7.5 15.5l-24.0 7.1l-24.7 9.4l-26.3 -4.0l-21.4 -10.2l-12.0 -11.8l-9.1 -13.7l-9.5 -15.3l6.8 -19.3l7.6 -12.7l15.0 -7.6l14.2 -17.6l15.0 -10.7l23.5 -3.5l32.7 -2.7M395.2 437.7l9.0 10.2l3.7 10.3l3.8 13.4l-9.4 17.0l-12.9 13.4l-13.8 5.9l-24.1 10.6l-17.8 -5.1l-16.6 -6.5l-13.8 0.9l-13.8 -8.9l-8.0 -3.9l-19.9 -7.2l-0.6 -11.2l-0.2 -13.1l-3.1 -13.8l7.1 -11.7l13.3 -8.1l14.6 -20.3l11.5 -2.0l21.9 -4.7l17.9 -3.5l18.4 3.1l13.7 15.4l9.0 3.5M365.1 514.0l-25.1 13.7l-32.9 1.7l-26.8 -4.0l-16.6 -15.8l-8.1 -20.9l4.9 -13.0l7.0 -15.4l10.5 -13.7l12.4 -12.4l17.2 -12.3l19.8 -11.4l30.4 -6.7l21.5 2.5l31.4 12.9l15.0 10.1l12.4 13.6l2.0 16.1l-11.5 18.1l-8.7 13.5l-17.2 9.4l-14.1 7.6l-25.9 15.5l-16.4 3.6l-33.3 2.0l-26.3 -6.5M257.3 505.0l-18.9 -7.5l-6.1 -11.7l0.2 -15.7l1.6 -11.1l6.2 -11.1l13.4 -14.3l19.7 -8.1l22.7 -8.2l25.0 -8.9l30.2 4.8l23.0 0.6l14.8 10.2l8.1 11.6l3.6 10.1l5.7 12.5l5.2 9.6l1.5 16.0l-2.3 11.6l-14.0 13.9l-24.0 9.4l-26.2 3.1l-23.0 3.0l-24.9 -5.1l-17.2 -2.1l-20.5 -8.8M274.2 492.1l-11.5 -8.4l0.4 -12.1l4.9 -7.4l7.3 -8.7l17.3 -13.6l12.8 -1.7l17.7 -3.0l21.1 -3.4l18.8 -2.8l10.4 6.5l21.6 -2.3l16.3 3.4l13.7 7.8l7.4 12.5l-3.5 13.6l-8.0 10.2l-19.0 5.5l-18.1 1.9l-13.6 4.7l-15.9 3.4l-17.7 5.6l-20.3 -1.0l-17.1 3.0l-20.2 -3.7l-12.7 -10.2M254.6 465.1l2.2 -11.0l7.0 -15.5l15.3 -11.7l12.5 -7.0l18.2 -3.4l18.3 -2.0l22.7 6.5l17.7 3.7l18.5 2.9l17.2 5.2l17.7 13.8l0.4 13.3l-7.6 18.9l-11.7 8.1l-19.2 6.5l-20.9 1.4l-21.4 -0.7l-15.1 5.9l-17.9 0.9l-23.3 0.8l-15.7 -8.6l-18.2 -14.3l1.4 -13.2l1.1 -9.2l12.9 -17.6M428.2 452.9l-11.9 15.0l-17.5 19.0l-14.4 3.1l-19.3 13.1l-19.5 13.5l-27.8 4.5l-31.9 3.7l-29.5 -6.0l-16.5 -9.3l-11.5 -23.2l-0.8 -14.2l3.5 -13.7l7.2 -15.6l16.1 -15.6l21.3 -6.2l27.7 -7.3l25.2 -2.9l28.5 0.7l32.8 3.3l26.1 8.7l8.8 15.9l5.8 14.4l-17.1 18.1l-18.0 12.9l-14.1 8.8M434.8 462.9l-10.4 15.1l-18.1 11.9l-26.3 15.6l-24.2 10.1l-33.1 2.1l-24.6 -0.4l-22.8 -10.5l-12.2 -10.1l-12.6 -11.8l-6.7 -10.5l-11.4 -9.9l2.5 -20.8l11.0 -17.8l26.8 -15.6l32.3 -6.3l33.1 6.0l17.2 0.6l25.4 5.7l15.8 8.5l24.5 6.8l7.2 18.4l4.0 5.9l-9.0 22.6l-10.3 14.8l-30.7 9.3M417.0 434.7l-1.3 13.2l-0.0 13.8l-10.1 12.0l-9.7 15.0l-11.7 11.0l-10.5 8.4l-18.3 11.4l-29.7 14.8l-23.4 4.1l-19.1 -3.7l-24.4 -9.2l-13.4 -12.0l0.0 -9.3l-0.2 -11.6l0.5 -11.4l-1.9 -15.6l2.9 -7.7l4.7 -17.3l14.7 -12.6l16.8 -11.4l23.9 -11.0l24.9 -3.2l25.2 -3.3l18.8 6.8l15.5 4.8M278.7 436.2l21.5 -14.9l26.1 -6.8l29.2 -3.0l30.6 1.5l20.2 3.5l3.5 15.5l-0.4 12.0l-5.2 18.4l3.3 10.1l-4.4 13.9l-16.4 11.9l-17.3 11.0l-27.8 9.4l-31.5 0.6l-23.5 -7.2l-19.4 -5.5l-9.5 -9.3l-12.9 -11.6l1.5 -16.1l11.1 -16.3l8.5 -7.8l16.8 -11.1l18.7 -12.1l23.5 -9.6l32.2 -5.7M292.6 415.3l29.1 -1.8l30.9 4.5l17.2 3.1l16.9 7.7l14.6 4.8l19.5 5.7l19.6 17.7l0.2 8.1l-8.9 14.1l-20.4 13.7l-27.2 12.1l-27.8 6.4l-26.1 3.8l-24.5 -1.9l-23.2 -7.5l-16.0 -3.4l-12.2 -11.6l-9.2 -10.7l-3.6 -15.2l-0.6 -12.2l14.0 -16.7l14.8 -11.5l33.1 -12.4l36.5 0.9l19.0 5.3M308.7 508.2l-22.4 5.3l-25.1 1.6l-15.1 -5.6l-18.3 -1.8l-10.8 -5.0l-9.6 -7.4l3.5 -17.8l18.6 -16.5l20.3 -7.3l22.0 -15.1l25.9 -2.0l16.1 -9.9l25.1 -10.6l24.3 -2.9l28.3 -4.1l20.2 -6.1l21.3 11.4l1.0 8.5l-1.8 16.8l-14.9 10.2l-18.1 10.5l-16.8 16.1l-17.8 11.7l-26.7 15.1l-16.0 5.5M460.9 447.3l-14.5 14.7l-24.2 9.0l-21.6 9.4l-26.0 10.8l-19.8 8.3l-25.9 6.6l-18.5 5.7l-29.5 -2.5l-27.5 -2.5l-14.2 -5.7l-7.3 -12.4l-2.8 -11.5l4.9 -14.4l11.3 -7.4l20.1 -15.4l27.2 -4.9l26.7 -9.3l21.1 3.6l21.5 -6.2l30.0 1.8l20.7 -4.1l28.6 6.0l13.4 13.1l0.7 8.4l-11.8 15.2M254.2 486.1l-8.2 -11.3l5.1 -9.1l-3.8 -10.5l15.8 -11.7l15.0 -11.2l10.7 -2.3l17.0 -9.2l22.5 -13.8l20.7 -0.3l25.9 -0.8l22.7 5.9l8.2 7.6l-0.3 13.1l-10.9 12.5l-3.5 12.4l-13.0 7.6l-7.5 8.7l-13.3 9.7l-21.0 12.5l-15.8 2.0l-24.3 -1.2l-18.9 1.5l-19.8 -8.8l-7.7 -7.1l-4.8 -10.6M406.8 478.0l-3.9 6.9l-17.3 12.7l-18.5 16.1l-26.5 5.0l-26.0 5.2l-24.6 -5.3l-19.4 -5.9l-1.2 -15.4l-4.0 -5.7l-0.3 -6.6l3.8 -8.7l-0.2 -12.9l6.7 -13.2l15.1 -12.6l29.0 -11.0l27.4 -3.4l23.2 1.8l17.4 0.4l18.3 8.7l9.6 3.7l7.9 7.3l0.1 12.2l-6.6 9.5l-13.5 12.3l-9.3 16.0M299.5 436.7l21.8 -12.0l25.1 2.9l24.1 -6.3l20.2 5.3l17.5 10.1l8.9 10.8l-3.9 11.9l-14.5 7.3l-12.6 13.3l-17.5 5.8l-12.9 16.8l-18.5 2.9l-25.7 7.4l-26.6 -2.3l-15.5 -5.2l-15.6 -11.5l-4.0 -6.5l4.5 -14.5l7.9 -9.5l4.0 -12.8l15.6 -9.9l14.8 -3.8l20.0 -10.8l21.8 -5.2l25.2 3.6M277.5 416.5l27.6 -5.5l32.7 3.9l28.2 4.1l14.0 6.4l19.5 4.2l6.0 16.6l8.2 10.1l-0.1 7.1l3.9 8.3l-15.6 12.3l-16.0 13.6l-22.9 3.4l-20.8 7.3l-35.3 5.1l-24.8 1.3l-21.3 -8.7l-23.2 -10.0l-6.3 -12.9l2.2 -6.7l0.1 -11.2l4.5 -12.3l5.1 -13.5l6.5 -10.3l17.7 -8.0l24.6 -10.2M397.5 443.9l15.4 10.7l3.4 10.1l-3.2 17.7l-11.2 11.2l-11.4 10.8l-17.2 7.7l-18.6 4.5l-22.9 -3.2l-16.4 -2.9l-20.1 -3.5l-9.0 -7.5l-10.1 -10.3l-4.4 -9.7l-3.8 -11.0l-1.6 -15.4l-0.6 -15.5l17.2 -15.7l15.8 -7.9l21.3 -0.6l22.3 5.4l13.3 6.6l16.6 5.9l13.8 5.8l12.7 9.2l13.4 9.2M252.8 459.4l14.3 -7.1l2.4 -13.0l13.9 -8.1l20.0 -9.9l22.1 -14.3l31.4 4.3l27.9 4.0l13.8 9.6l7.0 14.1l3.2 12.3l1.6 13.4l3.2 5.4l-4.6 18.1l-10.4 14.5l-17.1 7.1l-21.9 6.4l-27.1 1.4l-24.7 -3.7l-28.9 -0.3l-12.2 -8.5l-10.2 -10.0l-6.6 -8.1l-1.1 -16.0l5.9 -11.7l11.1 -8.1M410.7 464.6l-7.7 6.3l-13.2 16.3l-22.3 6.8l-18.5 6.1l-22.5 2.9l-24.3 0.5l-19.9 0.4l-24.4 -12.2l-26.2 -3.6l-13.4 -14.0l-5.2 -10.8l13.5 -18.1l17.1 -8.7l26.5 -8.6l19.6 -2.1l21.0 -4.0l19.8 -7.7l23.6 -0.9l33.5 0.1l16.3 13.7l13.5 14.7l-2.3 11.5l-6.4 17.2l-9.5 4.8l-19.1 10.8M351.6 519.5l-31.9 -5.8l-13.4 -3.2l-13.0 -6.2l-18.3 1.5l-20.8 -6.6l-14.5 -6.5l-10.2 -15.7l-2.9 -13.5l0.4 -11.9l14.8 -17.0l14.9 -9.6l20.1 -9.3l20.3 -8.0l16.6 -5.0l18.3 6.9l21.8 2.5l18.1 8.8l9.2 2.5l10.1 10.6l14.7 9.6l0.3 17.2l6.3 19.5l-10.6 15.3l-15.1 11.6l-22.1 8.0M398.0 415.7l13.9 4.6l12.3 9.6l0.9 16.8l-3.4 16.9l-12.1 14.6l-5.6 15.5l-18.2 16.7l-20.9 4.0l-15.0 4.2l-18.9 2.9l-23.8 -5.4l-9.3 -6.2l-15.8 -4.6l-17.3 -1.5l-11.8 -9.1l-16.0 -12.5l-1.1 -16.0l8.5 -14.2l17.1 -15.5l23.7 -16.1l17.2 -1.4l19.5 -3.2l18.4 -1.4l19.7 -4.8l17.3 -0.9M286.4 496.9l-22.8 -8.8l-14.6 -6.6l-15.6 -6.0l-3.6 -12.6l-2.9 -9.5l10.2 -6.6l12.4 -10.8l20.0 -11.9l22.9 -9.2l28.3 -7.9l33.0 3.0l24.2 4.2l17.4 9.2l8.7 8.2l2.9 10.3l4.6 8.3l6.6 10.8l-1.5 14.2l-9.1 9.7l-21.1 5.5l-30.2 7.0l-33.3 -0.6l-28.6 -1.3l-19.2 -2.3l-18.6 -6.5M303.1 532.8l-25.7 -4.3l-16.9 -11.8l-12.6 -12.4l-5.1 -16.7l1.4 -18.8l6.9 -12.3l14.2 -18.4l16.5 -13.1l18.2 -6.8l22.6 -12.0l26.0 -7.2l28.3 2.7l17.2 11.9l10.8 11.5l-1.5 20.9l-9.1 14.0l1.1 15.5l-13.2 14.9l-9.6 20.8l-17.1 12.7l-31.3 7.5l-24.3 2.0l-25.4 -8.6l-15.6 -8.5l-9.8 -12.7M305.4 490.1l-17.3 2.0l-18.0 -1.8l-20.2 -12.3l-9.6 -6.9l-6.6 -12.7l4.1 -10.0l15.0 -11.9l14.1 -6.0l14.7 -10.4l22.4 -6.7l24.0 0.2l23.9 -2.1l16.8 4.0l14.6 11.4l6.7 0.1l16.3 7.5l13.1 9.7l7.4 8.6l-0.5 10.4l-11.7 19.3l-15.7 4.9l-24.6 5.3l-26.7 1.4l-22.1 -2.6l-11.2 -2.5M390.6 433.1l18.5 6.0l12.3 5.6l4.4 8.7l4.3 13.2l-10.4 19.5l-12.7 15.2l-18.4 9.9l-25.8 12.6l-25.8 7.3l-26.0 -4.0l-22.0 -1.1l-14.1 -2.9l-12.1 -6.1l-11.8 -12.6l-17.4 -3.3l-4.9 -18.6l-0.9 -15.7l13.7 -19.2l29.6 -6.9l27.6 -10.4l30.8 2.4l23.6 -4.6l13.7 2.6l23.8 -3.0l24.3 11.0M344.8 419.4l28.9 3.4l24.0 5.5l25.9 4.5l17.1 11.3l-3.6 23.8l-10.4 14.0l-18.3 11.5l-25.1 6.7l-24.8 10.9l-21.1 0.1l-31.5 3.8l-23.9 -7.0l-23.4 -4.0l-19.4 -11.1l-16.5 -12.1l-2.3 -14.6l5.1 -18.4l8.9 -8.9l25.6 -16.6l22.6 -3.5l25.8 0.9l29.8 -2.5l23.3 4.9l27.8 2.4l26.3 4.8M388.1 491.7l-15.7 8.8l-18.8 8.6l-11.9 -3.3l-22.9 1.4l-18.4 8.4l-22.8 -2.6l-14.6 -11.0l-11.4 -6.5l1.4 -18.7l5.4 -13.8l22.8 -11.2l14.2 -9.7l15.2 -9.5l17.4 -6.7l14.2 -7.8l20.6 -2.7l22.4 -1.7l18.2 5.2l12.2 5.1l9.6 8.0l3.4 12.3l2.3 14.8l-5.8 17.2l-15.8 11.3l-14.6 5.2M319.2 408.7l25.2 -5.5l29.2 1.5l14.2 8.0l19.3 6.9l16.7 1.0l21.3 13.1l4.8 15.5l3.3 17.5l-7.1 10.2l-21.7 15.2l-17.1 5.2l-23.9 9.9l-24.8 -1.7l-19.8 1.3l-23.0 2.5l-24.4 4.6l-21.9 -3.1l-23.2 -11.2l-16.7 -9.2l-6.7 -18.3l1.3 -13.9l11.8 -15.1l9.5 -11.8l19.1 -8.9l21.1 -9.3M242.7 429.2l20.0 -13.9l27.5 -4.4l31.7 -0.8l28.9 0.9l20.2 7.0l21.0 7.4l16.8 6.6l14.5 13.0l11.9 18.5l-0.9 9.8l-9.6 21.3l-12.0 13.5l-17.6 12.6l-23.1 11.4l-33.8 3.8l-26.8 -2.1l-27.6 -13.0l-13.6 -11.9l-7.3 -12.1l-9.6 -6.6l-16.3 -14.5l-7.8 -19.8l4.7 -16.7l11.8 -17.2l25.3 -9.7M359.6 521.0l-27.3 4.5l-18.0 2.1l-25.9 -0.9l-12.3 -10.0l-11.2 -6.6l-2.2 -15.4l-3.2 -14.1l0.5 -4.8l-2.0 -8.2l1.8 -10.1l12.7 -11.2l15.4 -10.6l23.2 -1.1l12.4 -7.0l26.1 2.8l23.4 0.3l13.2 3.7l16.8 13.5l12.6 1.0l-0.0 14.6l-9.2 13.6l-2.5 7.2l-8.6 11.2l-10.0 7.1l-12.7 8.8M273.4 464.0l-3.8 -8.4l13.0 -13.7l18.5 -14.6l22.1 -10.6l28.1 1.5l21.5 -2.9l20.6 3.7l21.7 8.0l6.0 9.9l3.0 15.5l-5.8 11.7l-3.0 12.5l-8.2 11.5l-13.1 10.5l-18.9 12.5l-32.2 8.9l-24.9 -5.2l-17.5 -1.2l-18.9 -16.4l-1.9 -11.8l-2.3 -6.6l-3.7 -12.2l-2.2 -14.5l13.7 -15.0l19.4 -10.4M261.5 452.2l8.8 -11.2l13.4 -3.5l13.6 -10.6l14.6 -5.1l18.1 -4.4l23.4 -2.3l15.8 0.2l22.8 3.9l20.1 6.3l8.2 15.9l-2.9 10.2l0.7 16.6l-10.6 4.5l-8.7 11.1l-5.8 13.2l-10.1 6.9l-13.2 8.7l-13.6 10.8l-21.6 1.9l-22.7 2.3l-19.7 -10.6l-15.4 -5.5l-11.5 -11.7l-6.0 -9.2l-1.5 -11.0M366.4 410.4l21.4 5.9l8.9 7.3l13.2 10.3l0.1 13.6l-4.5 17.7l0.1 8.7l-10.8 16.7l-10.5 15.4l-11.2 9.5l-23.0 9.9l-17.8 13.6l-26.7 9.3l-26.6 -2.2l-15.6 -4.8l-14.2 -12.2l-0.6 -15.7l-1.0 -14.8l-1.3 -12.2l1.4 -11.9l1.0 -12.7l3.5 -13.7l14.2 -16.8l16.0 -14.5l25.5 -9.0l21.3 -1.9M407.2 460.5l-4.1 12.5l-16.8 13.3l-11.1 7.8l-22.3 0.0l-15.0 6.0l-14.2 3.6l-17.3 6.9l-18.7 5.4l-16.8 -3.7l-20.9 -9.8l-10.5 -9.2l-4.4 -10.2l-4.6 -16.4l10.8 -12.9l6.2 -10.9l11.4 -15.4l11.2 -2.6l20.3 -7.5l16.8 -2.6l14.9 -3.8l23.2 0.6l13.4 3.0l16.0 5.9l17.7 6.2l14.7 10.4M350.5 418.1l23.0 4.3l27.1 4.9l24.3 5.8l15.4 16.2l8.1 15.7l-1.6 11.0l-10.5 18.9l-20.8 6.3l-18.0 7.8l-18.7 4.1l-23.3 9.2l-20.7 5.9l-39.4 -2.3l-25.0 -6.9l-16.2 -18.8l-11.2 -8.8l7.7 -20.4l8.9 -15.2l3.8 -9.2l13.1 -10.8l12.6 -7.3l25.5 -10.5l25.3 -0.5l28.2 -1.3l29.1 12.5M415.2 474.2l-14.8 14.4l-19.7 5.9l-21.3 15.3l-22.7 2.2l-17.7 1.9l-22.6 0.6l-29.0 2.5l-20.0 -4.8l-9.6 -11.6l3.2 -13.9l13.0 -16.8l22.7 -8.0l18.0 -10.4l17.5 -9.1l18.7 -6.8l29.2 -2.4l23.9 0.9l14.9 -0.2l16.4 14.5l10.8 9.2l-4.1 8.9l-5.0 12.1l-16.6 12.6l-22.7 11.3l-22.0 2.2M406.5 455.0l6.7 11.2l7.2 18.1l-2.9 15.5l-13.3 16.0l-26.5 9.6l-34.2 -7.2l-31.3 3.0l-23.3 -11.9l-18.5 -3.2l-15.3 -10.1l-20.0 -7.5l-14.0 -9.8l-6.3 -21.5l8.8 -10.9l12.4 -14.2l19.3 -15.2l25.2 -2.5l31.7 -5.3l24.8 0.2l29.4 6.3l17.7 19.3l9.5 3.9l10.9 8.5l6.7 13.9l6.1 15.2M283.2 518.2l-24.8 -2.1l-15.8 -9.2l-6.5 -12.9l6.2 -12.7l1.3 -13.4l11.5 -6.5l8.8 -7.6l4.8 -9.5l14.2 -11.9l16.6 -14.7l21.6 -1.3l25.7 -7.8l24.0 3.2l19.8 9.6l10.7 2.0l11.5 13.6l9.8 8.8l-7.9 11.7l-3.5 9.5l-9.3 13.1l-16.3 7.3l-14.3 10.9l-18.1 7.8l-19.0 1.1l-21.3 7.4M250.2 483.4l7.4 -10.6l2.7 -12.3l-3.2 -9.5l3.8 -8.5l8.4 -13.7l6.2 -11.4l17.0 -16.6l20.6 -2.2l24.1 -4.2l13.6 4.2l17.1 7.4l15.0 13.7l13.8 8.6l3.7 7.3l0.7 10.5l5.9 13.6l-3.1 10.8l-9.2 16.3l-12.3 3.6l-12.4 8.2l-14.3 11.2l-21.1 7.1l-20.1 3.6l-22.5 0.7l-19.2 -2.8M389.7 433.7l3.2 7.2l7.6 12.3l4.9 10.3l3.0 23.1l-1.2 14.2l-15.1 12.2l-21.9 7.2l-31.1 -0.2l-24.6 -3.9l-22.3 -4.3l-12.9 -10.8l-16.5 -4.7l-14.4 -14.6l-4.3 -13.8l-1.0 -9.1l-0.5 -16.9l15.7 -12.0l13.4 -14.4l18.9 -14.1l24.9 0.5l30.7 -3.5l22.3 12.6l16.1 5.7l2.6 12.1l7.5 16.4M314.6 506.0l-17.2 -0.2l-20.2 1.7l-24.2 -0.5l-12.8 -8.4l-4.0 -12.0l3.7 -7.2l10.1 -17.7l8.2 -12.5l22.9 -7.5l18.5 -8.7l18.4 -4.8l18.1 -1.4l20.7 -6.9l17.0 6.3l18.2 2.7l13.3 2.2l16.0 6.5l6.0 3.1l7.5 16.6l-14.8 20.6l-16.2 3.9l-18.2 10.7l-26.0 7.8l-14.7 2.3l-21.5 5.7M300.3 412.1l25.0 5.5l18.0 3.7l16.4 6.0l20.3 3.8l5.2 7.7l8.9 5.7l10.2 10.8l1.0 11.2l-4.1 8.9l-8.7 12.5l-12.5 3.9l-18.3 10.8l-23.2 12.0l-20.4 4.5l-22.1 -3.1l-22.6 -4.2l-12.0 -10.0l-9.8 -5.2l-8.9 -7.7l-1.3 -13.9l0.2 -4.6l-4.4 -9.8l-3.5 -11.1l8.7 -15.9l12.4 -7.0M426.6 467.6l-4.7 9.5l-23.1 8.0l-10.0 7.4l-18.1 4.6l-16.8 5.8l-24.6 7.5l-24.9 3.2l-32.8 -3.0l-25.0 -8.7l-16.5 -7.3l-11.5 -9.1l3.5 -13.5l-2.1 -9.8l13.2 -14.2l19.3 -3.2l22.8 -4.6l25.0 -5.3l24.6 -3.0l24.9 4.1l29.5 -0.3l27.7 9.8l18.1 9.1l1.0 15.0l-14.0 9.0l-20.3 5.8M404.6 465.8l-3.9 13.2l-8.0 14.2l-12.8 9.9l-15.2 12.1l-18.3 7.3l-16.4 5.3l-27.8 -2.7l-19.1 -3.0l-12.6 -9.1l-5.5 -17.5l-0.4 -13.3l-3.3 -14.8l-1.7 -6.6l4.3 -19.0l0.4 -11.1l14.9 -16.8l17.4 -13.3l24.8 -0.9l22.7 -0.9l16.2 6.9l13.3 9.6l10.6 9.2l10.1 10.2l8.2 14.0l-3.1 12.2M268.8 445.6l18.2 -6.7l17.2 -9.6l16.2 -11.5l27.2 -1.8l31.7 -1.5l22.7 4.3l13.8 10.9l2.8 8.9l4.8 11.4l-10.0 13.4l-10.0 6.5l-5.3 13.7l-18.4 9.5l-22.6 5.6l-18.9 6.9l-26.3 1.1l-23.7 -3.3l-23.7 2.3l-22.8 -7.3l-7.3 -10.2l-2.4 -12.5l7.7 -9.2l16.0 -12.2l19.9 -11.6l12.9 -4.6M404.3 415.3l16.5 9.8l9.5 11.0l-2.7 18.7l-6.1 10.3l-14.4 9.3l-15.0 12.5l-14.7 6.6l-14.2 7.2l-16.0 9.5l-21.8 16.1l-21.2 -3.5l-24.0 -2.0l-17.2 -11.1l-8.3 -12.0l-1.0 -15.6l-0.0 -13.8l5.9 -14.6l3.5 -12.1l8.5 -10.1l14.5 -8.6l25.5 -5.9l12.2 -6.7l26.3 -1.7l23.0 -2.9l16.3 2.8M242.2 513.4l-23.9 -10.2l-9.1 -17.0l1.6 -14.2l3.3 -16.6l14.4 -12.6l15.4 -11.6l16.0 -8.1l17.7 -5.9l26.9 -11.9l26.6 3.4l26.6 2.5l21.5 6.8l25.1 6.1l14.8 18.4l17.6 11.9l-2.9 17.5l-8.5 14.3l-19.6 8.5l-23.7 9.4l-23.7 0.8l-23.0 5.3l-14.9 5.5l-29.9 3.2l-30.0 -1.5l-24.2 -8.3M302.4 438.0l21.4 -2.8l19.8 -2.9l17.9 -0.8l22.2 -0.8l18.2 -3.8l23.1 10.0l5.4 10.2l10.7 8.6l-6.0 14.0l-13.3 11.9l-21.9 12.2l-22.3 5.0l-13.5 4.0l-22.4 3.4l-23.4 -0.2l-16.6 -0.3l-12.8 -4.2l-13.0 -8.4l-10.1 -8.9l-7.4 -9.7l11.7 -14.8l4.9 -11.2l22.4 -8.6l19.1 -5.3l26.4 -2.9M340.0 396.3l26.3 -1.1l24.5 6.6l18.1 16.0l12.3 13.7l3.9 15.6l0.2 14.1l-4.7 17.9l-4.4 16.0l-16.3 15.4l-24.5 10.8l-36.1 3.9l-30.5 -6.5l-18.6 -12.0l-18.1 -12.5l-13.8 -20.0l-13.4 -7.1l-14.2 -13.4l4.2 -16.4l10.0 -20.9l20.5 -6.5l25.8 -10.5l32.5 -5.4l31.8 2.8l22.3 4.7l20.6 9.4M381.7 424.8l12.6 11.4l18.2 2.2l15.8 16.2l0.9 14.4l-9.6 15.9l-14.2 12.1l-18.0 12.1l-32.8 3.2l-20.8 2.4l-24.9 2.9l-21.5 -11.3l-15.0 -3.2l-10.3 -15.3l-4.0 -11.4l-6.5 -13.7l-4.8 -14.6l12.8 -19.1l12.4 -14.1l31.3 -8.1l27.5 2.6l25.8 5.7l16.2 8.1l17.2 5.0l14.1 6.5l17.3 6.8M345.6 415.2l23.3 0.8l23.0 12.5l14.6 5.7l13.8 9.4l6.8 13.3l6.1 12.1l0.8 17.3l-1.9 17.2l-11.0 10.8l-20.5 14.6l-25.9 2.7l-29.1 2.8l-26.1 -1.7l-17.1 -17.6l-24.4 -4.3l-8.8 -9.2l-13.7 -15.9l-13.3 -10.1l-15.9 -13.2l1.2 -11.7l10.7 -18.3l16.6 -11.2l21.9 -5.1l30.0 -3.9l23.7 0.7M391.5 502.1l-25.2 13.6l-24.0 7.6l-22.7 -1.0l-27.0 -3.5l-14.7 -0.2l-14.7 -8.3l-5.4 -12.1l-13.6 -3.8l-12.4 -8.4l-8.4 -16.0l0.2 -4.7l10.1 -21.9l19.2 -10.4l28.0 -9.9l26.3 -0.2l24.6 -2.3l22.1 5.5l18.1 5.8l18.6 1.7l18.1 3.9l15.0 11.3l5.6 4.9l0.0 16.0l-3.2 9.2l-8.4 12.9M287.4 409.5l24.8 -8.0l25.9 5.5l19.8 -3.6l15.1 12.9l13.0 9.2l6.1 8.4l5.5 6.3l15.6 9.7l3.6 10.8l3.5 11.2l-5.3 16.0l-8.5 11.4l-21.9 10.7l-17.4 9.6l-24.3 0.8l-23.1 5.1l-22.1 -3.4l-14.1 -2.6l-15.5 -7.9l-9.6 -9.3l-3.8 -13.8l-5.4 -10.1l-0.2 -11.3l0.4 -9.2l3.8 -11.5M331.6 505.8l-27.2 4.3l-25.9 0.7l-13.4 -3.6l-22.4 -7.5l-7.2 -7.4l6.3 -19.8l15.8 -6.3l25.9 -14.4l13.6 -8.7l18.7 -11.8l23.3 -11.3l25.6 -5.0l32.1 -8.6l18.0 4.9l14.8 6.0l5.4 16.5l-6.7 10.2l-9.0 15.1l-15.7 9.3l-11.9 13.2l-25.4 14.9l-22.6 5.9l-22.9 4.9l-25.7 5.9l-23.8 -2.1M246.3 489.4l-9.8 -8.9l4.8 -8.4l8.2 -11.3l17.6 -15.4l18.9 -12.0l19.0 -4.8l17.1 -15.9l37.0 -7.9l30.7 -7.2l24.4 0.2l20.6 11.0l-4.7 12.7l3.4 13.3l-11.4 13.7l-3.2 4.1l-13.0 15.1l-20.5 13.2l-23.5 7.1l-29.6 6.9l-27.6 8.6l-25.8 -4.9l-24.7 -2.1l-11.2 -8.4l-4.3 -9.9l2.7 -12.4M400.2 486.3l-17.5 12.8l-14.7 12.0l-28.2 11.9l-22.2 -6.2l-20.7 -0.6l-23.9 -2.9l-18.5 -10.6l-3.4 -16.4l12.0 -12.2l7.1 -14.6l7.8 -7.4l12.2 -9.0l13.4 -10.1l19.8 -12.7l33.1 -3.4l21.3 6.7l16.2 11.5l8.4 10.6l7.6 8.8l-0.9 14.5l-0.1 13.2l-11.7 8.4l-12.5 8.7l-22.4 12.5l-23.1 5.6M399.8 498.3l-28.5 2.8l-30.2 5.1l-21.7 -1.7l-24.5 4.7l-22.5 -4.1l-15.3 -6.8l-14.2 -9.8l-5.7 -6.5l6.3 -9.8l5.0 -14.7l15.7 -13.6l20.1 -10.0l26.0 -13.9l29.6 -2.2l24.9 2.3l23.2 1.3l12.1 6.9l13.1 8.5l10.8 5.9l10.2 8.3l4.6 12.6l-3.6 13.2l-19.7 10.7l-32.0 11.2l-28.1 7.6M402.6 437.2l10.9 9.8l2.4 12.0l2.6 8.2l4.5 12.3l-3.0 4.7l-11.9 10.6l-12.9 7.5l-18.3 11.8l-26.5 -1.5l-18.7 5.6l-25.8 0.4l-21.7 -7.4l-17.5 -5.0l-8.4 -15.6l-7.1 -6.5l2.3 -12.9l11.6 -5.3l2.7 -8.5l7.9 -10.4l8.9 -5.6l21.7 -10.6l20.9 -8.5l26.9 -2.0l24.2 1.3l18.3 10.5M307.7 416.6l13.8 -6.4l22.2 -5.9l21.7 -4.6l22.6 2.2l27.1 4.4l14.2 14.2l2.9 15.4l-2.2 15.1l-4.7 8.1l-7.8 15.4l-3.9 8.9l-9.1 18.0l-17.8 12.2l-14.3 9.1l-24.3 2.5l-24.7 -3.7l-19.3 -2.4l-20.6 -11.1l-12.2 -9.2l-8.8 -15.8l-6.4 -12.8l-1.5 -11.3l9.9 -9.8l15.6 -14.7l11.8 -3.9M263.7 478.3l-2.6 -11.3l4.4 -18.9l11.2 -12.3l16.6 -6.0l15.3 -5.9l17.1 -7.6l12.3 -9.3l24.2 -1.2l24.0 -6.8l20.6 5.6l16.6 5.7l18.7 12.3l-0.6 16.1l-11.1 12.7l-3.0 14.8l-8.4 11.4l-10.9 8.2l-9.4 11.8l-16.6 5.3l-19.3 10.6l-25.9 2.6l-19.9 -3.9l-16.5 -3.2l-15.6 -9.0l-16.5 -10.0M259.6 521.4l-15.9 -7.2l-2.2 -3.1l-1.7 -19.5l9.3 -9.0l14.3 -12.7l4.4 -12.5l15.5 -9.7l6.1 -7.3l21.0 -15.4l19.7 -7.8l28.0 -3.8l18.8 -1.7l19.2 7.6l10.4 11.8l4.9 10.8l3.5 6.8l1.7 11.4l-8.7 12.6l-5.8 10.4l-14.7 12.8l-17.4 8.1l-14.5 6.9l-31.3 5.3l-19.6 4.7l-25.2 5.2M262.8 506.9l-12.2 -1.1l-23.9 -12.7l-2.5 -8.0l-2.5 -12.2l6.4 -9.2l6.0 -17.7l11.2 0.7l26.6 -12.1l14.6 -5.8l22.1 0.5l16.9 3.3l20.9 -4.9l23.6 -3.5l25.8 4.9l18.6 11.4l5.5 5.4l0.4 15.0l-13.6 11.4l-15.1 14.3l-17.4 1.5l-14.6 9.4l-19.1 1.9l-17.4 5.3l-20.6 7.8l-23.5 -0.3M233.5 467.7l-0.9 -6.7l6.3 -10.1l4.3 -14.8l17.6 -9.7l20.4 -2.9l21.7 -5.4l27.6 1.2l21.6 2.6l12.9 7.5l4.6 9.7l14.5 4.2l6.8 5.6l8.7 10.1l5.2 11.4l1.3 6.4l-3.8 15.2l-16.3 9.1l-21.7 4.1l-22.0 6.6l-21.4 2.0l-19.0 1.3l-17.1 -2.3l-24.2 -8.0l-11.4 -6.7l-9.5 -2.8M405.2 470.9l-4.0 11.6l-14.9 11.0l-17.6 12.3l-21.5 3.8l-25.8 4.0l-23.1 4.9l-19.1 2.3l-20.9 -8.2l-17.1 -6.0l-7.7 -11.5l11.6 -12.5l6.7 -11.5l9.3 -12.2l8.3 -7.7l12.8 -7.8l16.5 -11.1l17.7 -10.5l30.7 -8.9l22.5 -4.0l22.3 3.8l11.6 11.9l5.9 6.2l2.5 13.1l0.9 6.1l-2.8 13.8M426.8 456.0l-9.7 17.7l-11.5 9.3l-20.2 13.8l-19.5 4.3l-21.1 9.6l-22.3 -1.9l-22.0 0.6l-20.5 1.5l-19.8 2.9l-27.3 -12.3l-17.3 -13.0l-6.6 -12.0l11.9 -18.3l14.1 -11.5l17.1 -17.1l20.3 -8.8l15.7 -3.8l19.8 -5.9l21.9 -7.0l24.4 -2.7l22.5 -4.6l22.5 7.9l18.7 12.4l8.1 16.3l-3.7 15.1M310.9 503.8l-24.9 -9.4l-24.9 -4.1l-19.0 -10.0l-13.2 -15.8l-9.5 -8.5l3.1 -12.9l8.6 -10.5l18.1 -8.2l24.2 -2.1l18.1 2.7l20.4 -2.6l21.8 0.6l26.7 -2.0l29.6 6.2l22.8 8.7l20.8 10.0l4.5 12.6l-8.8 15.2l-16.5 7.1l-16.3 3.7l-12.1 7.8l-15.3 6.9l-19.4 6.2l-26.0 -5.7l-26.9 -0.1M304.3 440.8l11.8 -4.2l11.0 -9.4l14.9 -1.2l19.5 -3.0l20.0 5.9l18.0 5.0l11.5 3.8l10.2 14.4l6.9 4.5l-0.9 15.1l-0.5 7.6l-10.2 5.9l-21.1 5.4l-14.6 5.5l-17.6 2.6l-15.4 -0.1l-13.0 3.9l-21.9 -4.2l-20.2 0.7l-16.8 -5.8l-10.5 -13.2l-6.8 -6.4l4.6 -14.2l13.2 -11.6l11.5 -2.7M230.7 439.1l21.0 -15.8l23.0 -0.2l23.0 -1.9l18.5 -0.6l25.0 -5.1l20.2 4.4l18.5 6.6l24.1 2.9l17.5 14.4l6.9 14.9l2.8 17.8l-5.9 13.7l-16.2 13.4l-13.7 9.8l-18.9 8.9l-22.4 3.2l-22.3 0.8l-28.3 -6.8l-14.4 -3.8l-15.5 -13.0l-16.8 -1.7l-16.6 -13.5l-19.4 -11.4l-3.4 -18.9l6.0 -14.6M369.6 515.7l-26.6 8.4l-19.0 -4.9l-26.0 -2.3l-16.9 -2.7l-20.8 -13.9l-7.8 -8.9l1.8 -8.9l-3.0 -13.2l6.0 -12.1l0.0 -11.5l5.0 -13.0l10.9 -12.7l16.7 -10.5l28.0 -6.4l24.3 -3.2l21.0 0.0l25.5 6.5l10.2 12.9l13.5 3.9l6.4 12.6l8.9 9.8l10.4 8.5l-2.3 12.5l-4.3 15.5l-11.1 7.6M218.8 486.9l-8.6 -12.0l-3.6 -6.5l8.6 -15.1l18.7 -4.3l14.6 -4.0l20.0 -12.9l15.1 0.1l15.9 -4.8l25.1 -4.4l20.0 -4.0l30.2 2.4l19.2 2.7l19.7 11.0l12.5 10.0l2.6 7.2l-3.5 9.2l-5.1 10.3l-12.6 9.4l-18.7 6.9l-20.1 4.2l-18.8 3.0l-20.3 -1.6l-26.7 -2.2l-19.4 7.2l-23.7 0.1M288.7 421.2l24.2 -8.6l24.2 -3.8l27.9 -4.7l21.0 8.1l18.1 14.9l-0.5 12.3l-0.6 14.2l-12.9 15.1l-3.3 5.3l-3.3 11.7l-13.7 9.5l-16.1 9.6l-27.0 7.8l-19.0 -1.8l-26.7 -4.3l-22.0 1.0l-16.0 -12.3l-11.7 -8.4l-2.8 -14.7l0.0 -12.4l5.9 -10.2l16.4 -9.7l18.5 -12.5l15.3 -2.5l16.9 -12.2M315.6 426.1l23.2 -9.3l20.8 -0.8l26.4 -1.0l24.8 10.4l10.5 10.5l4.8 18.0l-2.4 16.0l-4.0 15.2l-11.7 13.1l-13.3 11.6l-18.5 11.7l-16.4 5.0l-26.1 5.8l-24.8 0.6l-17.9 -5.7l-21.9 1.5l-20.7 -3.9l-21.0 -13.5l-1.8 -16.2l1.5 -17.4l13.8 -17.5l15.9 -12.9l24.7 -4.2l16.8 -6.1l20.5 -8.7M406.7 461.2l-8.7 12.3l0.5 8.1l-12.3 10.7l-3.1 9.4l-19.7 10.9l-21.6 4.2l-25.1 4.7l-22.8 -4.5l-16.8 -1.7l-15.4 -8.5l-13.3 -15.2l-2.2 -7.4l3.2 -15.7l8.6 -7.8l8.1 -11.3l10.3 -9.5l18.1 -7.5l14.0 -11.2l22.4 -6.3l26.3 -4.7l24.1 -0.0l16.9 8.7l12.7 8.6l4.4 16.4l-6.4 9.1M355.0 427.0l23.9 6.6l14.3 6.9l16.9 11.9l8.8 6.5l6.2 10.4l-5.4 8.9l-9.6 12.3l-6.4 -1.5l-15.3 9.9l-11.9 5.8l-11.6 4.8l-25.8 7.4l-17.9 -1.5l-26.9 -5.6l-21.5 -12.1l-11.6 -7.8l-4.7 -12.9l-2.8 -9.5l2.8 -8.1l4.3 -9.1l2.2 -5.9l3.6 -6.5l9.5 -8.8l16.5 -6.7l22.4 -5.9M419.3 487.4l-19.8 8.2l-15.5 5.9l-19.8 5.2l-26.8 5.7l-19.1 1.1l-26.0 -3.6l-19.1 -7.5l-19.7 -3.8l-16.8 -10.7l-8.1 -11.1l0.5 -11.8l16.2 -16.1l22.1 -6.7l29.1 -5.7l21.0 -2.9l16.0 3.9l26.5 -5.0l24.1 -6.8l25.7 7.1l23.7 5.5l12.5 15.1l-3.4 11.1l-9.2 11.7l-13.8 10.9l-19.1 9.2M316.4 407.1l24.6 2.6l20.0 5.6l19.9 3.4l9.9 4.5l9.8 15.3l3.9 8.2l-0.9 21.3l2.2 9.7l-9.6 13.1l-12.7 18.6l-22.3 7.4l-22.8 6.1l-23.1 -4.4l-15.5 -10.5l-14.9 -4.2l-13.4 -11.6l-11.1 -2.8l-9.0 -13.8l-3.5 -16.6l1.6 -16.8l13.5 -7.2l21.9 -11.5l21.5 -12.1l23.2 2.9l19.2 -2.5M410.5 484.2l-20.5 12.5l-20.2 4.3l-20.6 -2.3l-19.5 3.6l-21.8 2.6l-23.4 1.3l-21.5 -4.1l-22.9 -1.5l-7.8 -13.4l-7.0 -13.0l12.8 -10.7l12.8 -14.8l14.7 -7.6l21.0 -7.3l15.3 -7.9l18.3 -4.2l23.5 -0.6l24.7 -0.7l15.9 7.5l22.2 2.2l12.5 11.4l6.2 8.2l4.4 15.3l-7.9 11.5l-18.9 15.0M323.6 403.3l30.8 -0.3l23.5 7.0l24.9 15.5l4.4 9.3l7.3 18.4l8.7 12.2l0.7 14.0l4.0 16.9l-13.3 21.6l-28.4 14.0l-33.7 -1.0l-28.6 -2.1l-26.9 -5.7l-12.9 -14.6l-19.9 -8.9l-16.8 -13.6l-10.1 -12.1l1.7 -16.2l9.7 -17.0l9.7 -15.1l22.9 -14.1l24.2 -8.2l35.0 -2.8l28.1 7.2l27.1 7.7M340.5 517.7l-19.2 -1.1l-22.6 0.1l-13.5 -3.4l-18.2 -8.7l-17.2 2.4l-8.8 -10.5l-8.5 -10.3l-7.2 -10.5l9.2 -16.5l1.4 -9.6l12.7 -10.0l17.4 -11.2l22.3 -10.6l22.3 -6.9l21.5 -1.8l24.1 7.6l13.5 5.3l13.4 5.6l11.9 3.7l4.7 11.3l4.1 7.3l14.0 16.9l1.4 11.3l-3.5 12.1l-14.7 14.1M336.6 414.2l25.2 6.8l23.7 0.0l23.0 1.0l13.3 1.3l14.6 9.1l18.3 15.2l-0.7 13.9l-0.6 13.5l-12.4 14.4l-12.9 16.0l-27.6 12.1l-25.3 8.6l-26.3 0.9l-24.9 -0.6l-21.9 -7.4l-11.0 -5.0l-17.6 -6.7l-17.7 -10.6l-8.4 -5.9l-5.8 -21.4l5.5 -13.3l14.3 -13.5l31.2 -12.2l26.6 -13.9l25.6 4.9M391.1 515.8l-35.3 3.1l-26.1 -1.0l-21.1 -7.7l-18.8 -2.9l-20.3 -5.3l-24.3 -4.2l-12.4 -15.6l-5.2 -12.6l11.3 -17.9l30.5 -10.1l28.8 -8.2l24.9 -3.8l24.7 -1.5l28.4 -0.4l26.1 3.9l13.2 4.2l12.4 17.3l7.6 8.4l8.6 14.2l-11.7 14.5l-17.2 17.8l-27.5 4.7l-30.6 5.6l-30.6 -0.6l-17.1 -3.6M257.5 428.6l27.1 -6.5l22.0 -6.8l31.2 -1.3l25.5 2.8l26.9 3.1l20.3 11.7l18.6 11.3l12.1 15.9l6.5 15.1l-7.1 21.7l-9.8 18.3l-28.0 8.7l-34.2 5.1l-25.3 -4.4l-28.7 -9.4l-17.2 -2.5l-22.4 -3.9l-29.9 -13.8l-15.6 -18.4l-5.6 -15.0l11.9 -20.2l18.2 -8.2l31.1 -12.7l26.0 -4.7l28.3 -3.3M401.9 459.1l3.2 7.9l-13.7 14.7l-4.0 11.5l-24.0 13.0l-20.2 2.3l-19.2 2.6l-31.2 2.3l-17.3 -3.9l-9.9 -8.7l-13.6 -7.1l-7.1 -4.9l-0.1 -15.1l3.2 -10.4l11.3 -12.7l15.4 -5.2l9.0 -9.6l17.5 -4.5l20.9 -13.7l25.6 -4.5l19.7 -1.3l24.5 4.0l12.3 1.7l7.5 16.7l-0.2 7.6l-3.7 9.9M266.8 416.7l21.8 -2.3l29.2 -5.2l19.3 -1.8l25.0 4.9l19.1 5.6l15.2 8.7l10.7 12.3l4.1 17.5l-1.1 8.6l1.9 12.7l-2.4 11.0l-10.5 16.9l-17.5 16.1l-27.4 3.4l-27.7 1.5l-22.5 -5.7l-20.4 -10.4l-10.1 -7.8l-13.3 -11.8l-13.6 -8.6l-10.1 -13.7l-4.5 -6.6l3.9 -19.6l13.3 -13.9l19.1 -7.7M234.6 452.7l5.6 -10.3l18.0 -13.0l20.8 -6.6l21.8 -4.5l18.5 -1.1l22.3 0.7l12.6 -0.1l20.1 10.1l14.3 -0.4l12.1 9.4l9.2 13.7l3.5 6.6l4.5 13.3l-11.5 10.9l-10.3 13.4l-12.7 8.8l-20.3 7.4l-19.9 8.6l-27.2 -2.2l-19.2 -6.0l-5.2 -5.6l-17.9 -4.7l-10.4 -10.7l-8.3 -3.5l-8.3 -8.9M289.7 432.4l21.7 1.1l22.0 -2.9l20.6 -5.2l21.9 -3.6l25.2 0.7l24.7 -1.7l15.0 7.6l15.5 10.7l1.5 7.9l-10.1 12.0l-11.9 8.5l-17.6 7.7l-17.7 7.3l-15.1 6.3l-14.7 8.8l-25.1 1.1l-23.5 6.9l-21.4 2.2l-22.7 -6.0l-14.2 -4.7l-13.1 -8.9l-4.2 -7.0l-2.5 -8.8l5.3 -8.9l13.7 -12.0M401.4 448.6l2.8 13.3l-5.0 19.2l-14.6 13.9l-16.1 10.3l-18.2 15.3l-26.7 8.7l-24.4 2.9l-24.2 -3.8l-10.2 -14.5l-9.7 -14.6l-1.4 -15.3l0.5 -15.7l0.2 -11.6l5.6 -14.2l14.5 -19.5l20.9 -11.6l26.4 -11.8l24.3 -1.5l16.2 14.6l16.8 9.9l11.6 5.6l10.3 10.2l-1.2 19.4l-0.8 16.9l-5.7 11.4M338.5 406.1l17.2 6.8l10.4 8.4l15.1 8.4l8.3 0.7l16.9 15.4l9.1 12.1l5.1 15.2l-10.6 13.5l-12.9 16.9l-18.1 10.0l-15.7 4.0l-27.6 -0.1l-14.9 0.7l-19.7 -1.6l-14.5 -3.0l-14.0 -8.7l-12.7 -12.0l-7.5 -11.8l-4.4 -12.7l-3.2 -13.4l2.8 -16.1l4.3 -11.8l15.7 -16.5l18.0 -9.5l23.2 -1.2M263.9 432.9l16.9 -10.1l27.1 -11.9l30.1 -7.6l27.5 -3.1l33.8 4.1l21.3 9.0l13.0 22.8l-8.6 15.4l-13.6 17.4l-7.8 7.2l-11.9 19.4l-19.5 17.2l-20.8 4.8l-32.6 15.0l-27.2 -4.0l-29.3 -10.7l-24.2 -14.0l-10.6 -9.2l-6.1 -17.8l5.8 -15.9l11.7 -17.1l19.9 -14.1l20.9 -6.7l20.5 -12.4l29.6 -3.9M422.1 421.1l4.8 18.5l-3.7 17.0l-17.5 16.4l-14.9 13.3l-18.2 9.7l-20.8 5.7l-23.4 9.2l-21.6 1.5l-20.3 3.4l-15.9 -5.8l-17.5 -2.0l-16.8 -7.4l-14.0 -13.2l-6.9 -7.3l-4.3 -14.8l7.3 -21.3l15.1 -11.2l28.7 -10.9l24.8 -7.9l21.7 0.6l19.4 -2.4l19.4 0.5l24.0 -3.9l18.4 1.6l17.2 8.4M367.6 514.6l-18.6 5.1l-16.4 2.3l-20.5 -2.6l-22.2 -6.1l-13.2 -8.0l-13.6 -11.7l-7.3 -8.8l-4.5 -17.1l1.0 -22.4l9.4 -16.1l16.5 -10.2l28.1 -5.7l23.3 -2.5l14.0 3.4l20.4 9.2l15.5 1.7l19.9 -0.2l15.2 10.4l11.8 17.7l-0.1 20.6l-15.8 18.2l-12.2 10.2l-20.4 6.0l-23.5 10.3l-12.4 3.6M260.4 516.9l-15.6 -3.6l-8.1 -18.6l-5.0 -13.4l15.2 -10.6l14.8 -21.8l6.5 -4.0l13.7 -15.7l12.1 -8.7l22.7 -10.2l19.3 -6.7l27.2 -0.5l23.7 2.4l17.5 10.5l9.6 9.4l4.8 14.5l0.6 10.9l-5.7 17.9l-11.8 8.5l-18.2 15.8l-16.9 6.1l-12.4 6.0l-22.4 9.7l-27.0 3.0l-26.2 -2.9l-21.6 0.8M299.4 513.7l-23.6 -4.7l-17.2 -3.5l-13.5 -9.2l-22.0 -11.4l-13.4 -14.6l-2.9 -12.4l9.4 -18.4l24.3 -8.8l23.9 -9.6l22.9 -0.3l24.4 -3.6l26.4 2.3l21.3 2.8l15.9 9.7l14.5 12.7l7.4 10.4l1.9 13.4l-8.1 21.8l-16.0 11.0l-21.0 11.5l-22.3 4.9l-21.6 0.6l-28.0 -5.2l-20.5 -6.4l-11.1 -6.3M341.8 413.9l26.4 1.7l21.8 0.5l22.2 5.0l9.4 12.0l-2.0 10.9l-12.3 15.9l-10.1 4.5l-8.3 14.6l-5.9 3.0l-18.6 14.4l-19.2 6.2l-27.5 9.2l-26.3 4.2l-22.8 -3.9l-23.1 -6.9l-12.8 -12.6l2.0 -10.6l-3.3 -9.8l0.5 -9.4l9.9 -13.0l12.5 -6.6l9.9 -9.6l24.5 -5.8l25.1 -7.5l20.9 -3.3M225.4 489.0l0.7 -10.2l-1.6 -13.2l14.3 -14.4l17.4 -16.1l11.8 -10.3l33.1 -7.4l25.3 -3.8l30.5 -4.5l31.2 2.1l22.4 10.7l22.4 12.2l1.4 12.2l-11.1 15.3l-16.3 12.4l-13.6 16.2l-26.7 5.9l-21.3 9.1l-29.5 11.9l-34.9 7.3l-29.5 -6.5l-18.6 -17.2l-9.9 -11.6l3.7 -15.8l4.5 -13.3l16.0 -15.7M323.4 401.5l27.6 0.6l25.0 5.8l13.7 6.2l18.8 12.0l2.9 18.4l-2.9 15.1l-8.8 9.7l-5.4 15.0l-11.1 17.0l-11.5 11.3l-31.9 9.4l-33.3 -2.8l-25.4 0.2l-17.5 -14.1l-8.7 -14.9l-7.3 -13.9l-4.4 -14.4l0.3 -11.7l4.5 -15.2l13.4 -11.6l24.0 -16.4l24.8 -0.7l25.0 -5.2l25.8 4.8l25.7 1.9M403.7 485.2l-6.6 13.0l-19.5 17.9l-27.1 9.5l-29.7 5.7l-26.0 1.5l-30.5 -9.1l-15.3 -12.8l-9.7 -13.4l-6.3 -12.9l7.9 -17.7l10.0 -11.8l18.3 -13.5l17.2 -7.8l24.5 -9.9l26.7 -8.2l37.8 -6.2l30.4 5.1l22.0 10.5l8.1 24.1l-11.2 10.5l-10.6 15.9l-8.0 14.4l-9.0 7.6l-21.9 16.6l-23.1 12.7M323.8 493.4l-24.5 2.1l-18.0 1.7l-22.9 -3.5l-21.8 -6.5l-16.9 -9.3l-6.4 -12.0l2.0 -13.2l13.7 -10.8l16.0 -14.9l20.8 -7.0l22.9 -11.3l25.5 1.2l29.9 -0.6l12.6 11.4l24.0 8.6l13.3 3.5l14.5 4.3l12.8 13.1l8.7 13.5l-5.1 15.0l-16.2 14.9l-22.5 8.0l-32.0 -4.7l-20.0 7.8l-21.8 -6.3M313.7 414.4l35.5 -3.8l20.0 1.5l21.4 9.8l7.4 7.9l9.8 17.9l5.2 12.2l2.5 13.4l-8.9 12.6l-15.3 16.7l-21.4 9.7l-27.2 9.8l-26.9 2.9l-28.6 3.7l-25.5 -3.2l-15.9 -6.4l-6.1 -11.6l4.8 -19.3l1.2 -10.2l3.3 -12.7l6.8 -16.8l15.5 -18.4l22.6 -11.8l30.4 -9.8l30.1 2.5l23.6 7.1M240.2 428.9l18.6 -7.6l16.1 -9.5l26.9 -13.8l26.6 3.4l23.5 5.0l20.3 3.3l16.8 14.2l8.5 7.6l5.5 8.5l11.6 10.7l10.4 10.3l5.9 10.6l0.1 22.1l-10.5 7.9l-18.6 10.4l-26.2 10.1l-27.4 -0.1l-19.1 1.2l-26.1 -7.2l-17.9 -3.8l-21.7 -6.8l-12.0 -7.8l-14.4 -10.4l0.7 -11.2l-11.2 -7.9M265.6 489.5l-18.1 -0.5l-24.3 -5.5l-10.9 -9.3l-7.2 -14.8l2.4 -7.1l19.7 -10.6l27.0 -9.7l21.1 -2.4l25.8 -0.3l19.7 -5.2l20.4 1.1l21.8 -3.1l23.5 5.4l23.3 5.2l13.7 11.6l4.7 6.2l5.8 9.1l-6.0 13.1l-11.3 5.5l-13.3 13.9l-24.9 4.1l-26.6 4.1l-18.5 3.9l-29.1 -3.3l-13.8 -1.1M296.3 515.2l-14.1 -4.3l-21.2 -2.5l-19.6 -3.1l-17.2 -8.2l-12.3 -4.9l-1.5 -13.0l11.0 -14.1l18.2 -12.2l23.6 -15.9l21.3 -7.2l27.1 -12.0l25.7 1.1l23.8 -1.3l18.9 4.5l12.5 5.1l10.9 7.1l11.6 10.4l1.3 7.4l-1.0 16.7l-6.0 15.4l-21.2 10.7l-31.0 10.8l-27.3 8.1l-27.0 -0.0l-18.2 -1.6M280.8 496.0l-12.1 -9.9l-15.2 -7.0l-13.0 -8.5l0.3 -12.7l8.4 -22.1l20.3 -6.2l24.0 -8.2l22.1 -6.3l19.0 1.9l20.2 -3.8l18.0 3.6l15.8 9.0l20.2 4.3l9.6 10.9l0.8 12.2l5.1 11.9l-8.1 15.3l-13.0 8.5l-14.0 11.8l-31.3 10.0l-21.2 -2.6l-14.7 -3.1l-17.7 -1.1l-16.1 -3.9l-11.0 -10.2M401.3 445.7l-2.4 15.1l-1.6 9.9l-9.4 12.1l-9.0 11.8l-4.9 9.5l-12.3 11.6l-18.4 14.9l-19.6 -2.2l-21.2 2.6l-19.5 -9.2l-15.6 -6.7l-8.3 -16.1l-12.2 -9.6l2.1 -13.7l-0.1 -14.2l7.1 -11.0l4.5 -12.6l21.4 -8.0l6.8 -8.3l18.3 -4.8l22.4 -7.5l19.0 -4.5l22.1 5.9l13.2 10.5l13.2 11.9M263.0 455.1l9.3 -19.0l12.3 -12.1l23.4 -14.9l23.2 1.2l23.8 -4.0l25.4 10.9l9.0 17.3l5.9 6.1l16.5 7.4l6.9 16.4l-0.6 17.8l1.9 16.6l-15.9 8.7l-25.1 13.6l-23.3 -3.3l-25.6 6.9l-18.9 -8.6l-21.6 -7.0l-12.6 -6.9l-7.9 -12.8l-7.4 -17.6l1.3 -9.2l1.3 -19.0l15.0 -19.0l17.5 -6.1M410.1 437.3l8.6 12.9l-0.8 10.0l4.1 10.0l6.7 11.5l2.7 8.2l-7.4 8.6l-20.9 14.2l-27.5 1.7l-29.8 1.1l-25.7 0.8l-20.1 -7.3l-17.6 -9.6l-16.2 -7.5l-11.3 -7.6l-8.2 -13.8l3.4 -6.1l4.8 -12.5l18.3 -5.2l14.9 -15.0l24.4 -2.3l25.4 -7.1l29.5 4.9l25.2 1.6l16.0 13.1l6.9 7.7M412.8 459.5l6.7 7.5l-5.6 15.6l-7.8 10.8l-13.2 7.5l-23.5 6.3l-20.7 -1.2l-25.7 -2.2l-18.9 -1.9l-14.5 -6.2l-22.8 -8.6l-18.4 -6.3l-20.1 -7.7l-7.8 -11.4l2.8 -11.6l13.5 -11.9l17.1 -4.4l21.3 -5.0l21.9 -0.8l19.6 -1.1l24.2 2.3l23.9 -1.1l11.2 11.1l16.7 5.0l19.5 10.0l0.3 10.6M353.4 431.6l22.8 -9.4l23.0 8.7l13.0 0.4l9.3 11.6l-6.3 11.1l-7.6 11.0l-8.1 12.0l-14.7 8.9l-8.8 5.2l-18.3 8.8l-17.9 15.4l-23.1 4.5l-24.9 -1.9l-15.9 -6.9l-9.1 -8.1l0.9 -11.8l2.9 -7.8l4.9 -14.8l3.0 -7.0l9.2 -12.0l20.0 -6.3l18.7 -6.6l17.4 -8.4l22.9 -1.2l18.6 3.0M300.0 428.7l28.8 -6.2l22.1 -3.8l25.4 1.9l24.7 2.8l19.4 4.5l11.7 14.8l8.9 6.9l-6.7 10.3l-12.5 12.5l-21.1 6.1l-31.3 10.1l-21.7 6.8l-22.5 -0.6l-24.5 9.8l-29.1 4.6l-27.2 -6.3l-18.3 -11.6l-12.2 -10.7l5.2 -11.8l12.4 -13.7l22.4 -10.6l17.6 -6.8l12.7 -7.3l22.6 -5.1l29.1 -8.7M433.4 482.2l-6.4 18.2l-17.6 5.9l-23.1 9.0l-22.4 2.0l-23.8 1.4l-25.2 -6.2l-22.3 -6.6l-24.4 -10.6l-18.8 -9.5l-5.9 -18.2l3.5 -12.3l22.3 -9.4l22.1 -14.6l22.8 -1.5l20.1 -0.1l23.0 -1.5l25.2 -2.6l27.2 5.7l18.8 12.2l11.8 15.7l-3.4 17.9l-5.7 12.0l-9.9 8.2l-18.9 11.2l-20.3 7.6M407.9 465.4l-9.5 8.6l-6.7 12.1l-15.5 5.5l-21.3 8.3l-10.8 3.5l-19.5 -0.1l-18.7 0.3l-18.5 1.4l-13.7 -3.1l-25.7 -8.6l-10.1 -4.6l0.2 -13.7l4.1 -10.3l5.8 -14.2l17.1 -2.5l11.9 -3.2l12.5 -9.2l15.1 -10.8l13.4 -2.1l20.0 -3.3l24.5 1.2l11.1 4.2l17.2 9.6l10.4 7.7l0.1 12.2M407.8 472.0l0.4 15.0l-14.1 13.8l-14.1 7.8l-23.5 10.8l-31.4 4.2l-33.7 1.0l-25.8 -7.2l-15.1 -11.1l-19.0 -12.3l-4.3 -18.5l-3.0 -8.1l8.0 -14.8l18.1 -8.2l14.7 -9.9l17.9 -7.6l18.8 -12.0l33.0 -5.9l31.4 -4.4l28.4 9.3l21.6 9.7l-0.4 20.2l2.0 9.4l-5.2 14.5l-6.0 10.5l0.4 13.4M268.5 510.4l-24.2 -19.2l0.6 -16.3l7.9 -13.1l12.6 -11.0l5.7 -13.2l11.6 -10.1l10.6 -9.3l21.8 -8.9l19.6 -2.1l29.3 0.3l13.7 4.7l20.2 9.0l20.8 19.1l3.3 11.7l-2.6 14.6l-0.7 13.8l-16.0 7.8l-16.3 10.6l-20.5 1.3l-16.4 10.9l-22.2 3.7l-30.6 7.2l-20.5 -8.2l-21.1 -13.5l-5.2 -15.1M426.0 478.8l0.1 10.0l-24.3 8.5l-15.8 2.2l-21.8 2.5l-17.3 0.7l-22.5 2.2l-23.9 4.0l-26.9 -12.1l-14.5 -6.4l-17.4 -15.7l1.8 -10.3l7.2 -10.2l10.0 -14.5l14.4 -13.0l11.1 0.5l13.8 -6.6l20.5 -9.6l21.7 2.3l20.7 3.4l21.6 1.9l18.6 16.6l16.6 11.4l11.9 12.8l2.4 10.3l-9.2 12.3M321.7 426.0l22.4 -4.8l33.4 -0.7l19.9 9.8l21.2 7.5l14.4 10.1l1.2 11.7l-8.3 9.8l-11.5 8.4l-11.2 7.5l-22.6 6.3l-22.1 11.9l-23.1 2.0l-28.4 -3.5l-20.9 2.6l-33.3 0.7l-17.2 -2.4l-25.9 -13.0l-4.1 -9.7l7.5 -9.7l20.3 -17.0l21.3 -5.2l19.2 -4.2l19.0 -7.3l20.8 0.5l23.6 -7.9M310.5 422.5l21.0 0.9l20.4 -1.6l16.5 1.5l20.7 -0.2l25.1 6.1l14.7 7.2l3.0 7.2l-2.7 17.3l-15.9 13.0l-21.5 10.5l-22.9 2.0l-20.5 4.4l-16.4 8.9l-19.3 -0.4l-26.7 3.4l-23.3 -2.1l-13.3 -7.3l-11.7 -11.7l2.3 -14.9l5.0 -7.1l13.4 -15.2l14.3 -10.0l23.4 -2.1l24.4 -7.2l14.7 -5.0M425.8 444.1l-1.3 16.0l-1.0 13.6l-8.5 11.1l-10.2 17.0l-19.0 6.6l-24.0 9.2l-19.4 0.1l-14.4 -0.6l-25.3 -2.3l-17.0 0.4l-23.0 -7.2l-17.1 -8.4l-20.7 -8.0l-10.9 -21.8l-0.6 -10.9l13.3 -13.5l20.1 -12.7l19.4 -3.8l14.1 -6.5l24.1 -6.3l13.9 -5.7l18.5 -0.0l24.8 -4.7l20.4 4.5l19.2 11.0M301.6 508.6l-20.2 0.7l-18.9 -11.4l-7.0 -3.6l-5.2 -12.9l0.3 -16.0l4.3 -11.0l17.7 -11.4l21.1 -3.3l23.3 -0.1l21.9 6.7l17.6 -6.2l22.5 8.4l22.2 -0.1l20.0 9.6l9.7 13.1l-3.6 12.7l-12.9 11.3l-19.6 6.5l-23.5 5.2l-19.5 3.4l-21.0 4.6l-22.3 -5.6l-20.0 -0.6l-21.0 -8.0l-8.1 -8.8M390.4 487.9l-19.0 2.4l-19.2 11.2l-24.4 4.8l-23.1 11.2l-23.4 3.7l-25.0 0.6l-18.5 -3.5l-15.7 -14.0l-0.0 -7.2l4.4 -13.9l10.3 -9.5l8.4 -9.6l11.5 -11.5l22.8 -10.5l19.4 -9.2l23.8 -2.0l19.5 -5.7l27.2 -0.0l19.0 -3.1l22.2 9.7l18.3 1.2l6.2 15.8l-4.5 8.8l-12.7 14.1l-23.0 9.4M405.2 496.4l-16.6 6.0l-22.5 1.9l-15.0 1.3l-23.0 3.9l-17.1 -2.4l-18.2 -6.1l-22.2 -2.2l-9.1 -4.7l-13.9 -12.3l-0.0 -9.2l-0.3 -11.6l-0.0 -10.1l5.0 -12.5l18.0 -9.8l18.7 -8.6l22.9 -0.5l18.8 -2.2l17.0 9.5l18.0 0.6l12.6 4.3l21.2 6.7l10.3 4.1l15.0 8.7l11.1 10.7l-1.8 11.3M379.6 487.1l-21.5 11.5l-26.7 3.9l-25.2 12.5l-31.2 -3.1l-15.4 -8.8l-11.8 -14.8l-4.8 -12.7l7.1 -8.1l-1.2 -8.3l3.1 -6.0l2.4 -14.2l21.1 -16.7l27.4 -4.1l31.8 -2.2l26.1 0.6l11.7 10.2l18.0 4.9l10.2 6.1l9.1 8.1l-1.5 13.7l-9.3 14.5l-11.7 5.6l-20.3 10.0l-21.6 13.7l-26.1 -1.1M295.4 412.8l28.7 -2.7l26.3 9.0l15.0 -4.5l16.2 1.8l18.6 1.5l19.5 2.2l19.0 5.5l9.0 16.4l4.5 13.6l-13.8 20.9l-14.6 6.7l-16.3 15.6l-22.4 11.3l-26.6 -0.3l-24.1 9.6l-22.3 -5.6l-16.1 0.3l-13.3 -4.9l-14.0 -11.2l-12.8 -8.3l-7.3 -14.0l-0.5 -12.6l5.6 -14.4l9.0 -17.4l25.2 -12.5M355.1 510.5l-14.7 5.4l-18.6 7.3l-18.3 1.5l-21.9 -2.9l-19.8 -4.4l-15.6 -9.0l-4.2 -17.6l0.9 -9.0l8.0 -15.2l6.9 -14.9l15.2 -12.8l14.6 0.6l11.6 -13.0l22.5 -4.6l16.2 1.0l23.2 -2.0l18.7 0.3l15.1 5.7l17.7 3.2l9.9 15.0l3.5 9.3l1.0 19.1l-11.7 14.1l-21.4 6.2l-14.0 14.0M395.6 459.7l-7.9 9.6l-9.8 11.8l-8.0 5.2l-11.1 9.6l-14.4 10.9l-21.5 13.7l-20.9 3.6l-20.5 -7.6l-17.1 -3.7l-6.2 -14.0l-2.8 -8.0l-2.4 -12.9l2.0 -7.2l4.0 -13.0l10.0 -11.3l14.8 -8.9l21.9 -7.0l15.5 -4.8l18.6 -2.4l27.2 8.0l13.5 1.6l10.8 6.1l8.1 9.6l-7.5 10.8l-9.9 15.4M428.7 429.7l-0.7 16.3l-4.5 7.9l-5.4 9.3l-9.4 13.1l-1.8 11.9l-17.4 4.3l-15.5 6.0l-18.6 4.4l-15.9 2.2l-26.2 -2.1l-16.2 -2.5l-21.2 -10.6l-17.4 -1.7l-14.6 -13.7l4.2 -16.3l2.8 -7.3l13.8 -12.1l17.4 -4.9l15.1 -11.4l16.8 1.2l11.4 -9.4l20.6 -10.1l22.7 3.7l22.8 -0.3l21.5 5.7M246.5 470.2l-1.2 -14.5l-2.4 -11.6l5.4 -20.9l18.5 -15.3l17.7 -10.2l22.3 0.9l24.8 -1.5l10.2 8.6l18.3 5.7l10.4 3.0l19.7 3.7l19.0 12.8l13.2 9.1l-1.0 17.3l-0.7 17.1l-14.6 8.7l-20.3 11.1l-12.8 13.4l-25.3 -1.4l-20.8 0.4l-15.3 1.5l-23.2 -2.7l-8.8 -8.3l-14.4 -6.8l-13.1 -9.7M246.2 465.4l4.2 -10.8l15.3 -8.8l17.0 -7.4l17.5 -7.1l11.4 -7.5l20.6 -4.2l21.4 -1.5l25.1 1.4l13.8 4.7l19.1 10.7l6.3 17.2l-3.3 8.7l-10.7 12.7l-5.1 8.1l-7.6 7.8l-11.9 7.9l-14.0 11.3l-18.6 6.4l-20.6 6.9l-20.2 -5.9l-19.5 -3.6l-21.1 -5.5l-13.7 -11.6l-7.6 -9.9l1.7 -11.3M309.9 518.1l-24.3 -6.8l-15.2 -4.8l-13.5 -10.7l-4.5 -11.9l-1.8 -14.2l1.7 -11.6l3.6 -11.7l6.7 -18.7l12.3 -10.6l26.7 -13.5l26.5 -1.5l20.1 9.5l13.1 9.4l10.7 15.7l7.8 11.6l6.6 8.3l6.4 13.1l-10.2 14.7l-10.0 12.7l-18.3 10.5l-23.6 6.3l-24.0 -0.0l-24.0 -3.1l-17.6 -6.7l-8.8 -8.5M398.9 471.5l-11.7 12.2l-8.5 5.6l-12.0 14.7l-11.5 13.6l-25.3 8.0l-26.4 0.9l-24.9 -4.2l-8.1 -11.0l-7.8 -12.2l-0.7 -9.9l-1.0 -12.2l-3.2 -12.5l8.8 -11.8l14.2 -16.3l19.0 -2.7l19.6 -12.9l22.1 1.3l23.0 2.0l17.4 6.2l17.0 8.7l2.2 15.3l-7.5 8.4l-3.9 13.5l-10.2 12.3l-13.5 11.7M238.2 473.4l5.1 -17.6l15.4 -21.8l15.3 -7.7l27.5 -4.8l17.1 -5.3l23.6 -2.9l18.6 5.3l15.5 13.2l8.5 14.3l15.8 5.9l1.6 18.1l1.8 15.6l-1.9 19.0l-18.3 17.2l-19.9 7.3l-25.7 -1.2l-22.4 0.7l-18.4 -11.8l-14.7 -6.6l-21.2 -3.9l-13.1 -13.9l-9.6 -16.5l0.3 -15.7l13.0 -21.4l15.5 -8.4M277.9 449.3l19.2 -12.6l23.3 -2.2l19.9 -4.4l24.7 0.0l21.0 -5.2l22.2 -0.7l16.8 5.9l3.9 17.3l-8.6 12.0l-18.4 17.3l-14.9 10.9l-15.7 7.9l-14.1 9.7l-22.7 6.4l-22.7 2.9l-18.4 2.6l-23.1 -6.3l-9.0 -12.0l-9.0 -12.4l-0.7 -11.4l15.5 -14.7l12.4 -9.8l22.3 -7.1l21.7 -8.0l19.9 -8.4M423.4 470.1l-5.5 12.1l-11.8 16.8l-15.7 6.0l-9.6 10.5l-25.9 9.5l-18.4 9.7l-25.9 2.1l-18.4 0.6l-16.1 -12.0l-8.3 -19.4l4.0 -8.2l-1.2 -14.8l6.0 -15.0l1.7 -10.1l8.5 -15.2l8.2 -15.4l16.6 -13.5l24.3 -6.1l24.9 -1.0l14.3 2.8l23.3 3.5l17.4 11.7l5.7 7.7l7.4 17.0l1.4 10.4M263.6 442.1l16.0 -17.2l16.6 -4.9l24.8 -12.6l31.1 -9.9l28.6 -0.5l22.3 8.3l10.9 9.5l1.4 15.3l-5.0 22.3l-13.8 10.4l-4.4 15.8l-5.9 9.0l-15.3 17.6l-26.3 10.7l-28.3 8.5l-26.3 -4.2l-20.2 -8.9l-12.9 -6.4l-10.8 -14.8l0.3 -20.2l3.3 -10.8l10.2 -16.1l19.0 -14.8l16.2 -9.7l18.5 -9.7M275.2 426.5l9.0 -8.5l16.6 -12.3l15.7 -1.9l19.9 -3.8l18.0 3.1l21.9 6.5l18.3 5.4l7.9 20.1l9.6 8.4l-8.8 15.4l-4.6 10.7l-10.3 12.6l-4.5 8.4l-15.4 6.8l-8.8 9.7l-21.7 13.5l-15.2 5.0l-21.0 -5.8l-20.8 -6.0l-19.4 -8.3l-0.4 -14.5l0.1 -13.1l2.4 -17.3l0.6 -8.2l-0.7 -14.1M264.1 445.7l8.6 -8.9l12.4 -6.0l12.0 -12.8l17.5 -3.0l18.3 -0.6l22.2 0.0l16.2 0.8l17.1 4.0l10.9 18.4l8.2 10.6l1.0 9.8l-5.2 16.3l-8.8 7.2l-4.9 9.7l-17.9 4.1l-14.5 8.1l-16.6 3.1l-17.6 4.3l-12.3 6.2l-30.4 -2.2l-17.9 -9.3l-14.3 -5.5l-8.4 -12.8l1.7 -17.1l8.7 -10.8M395.8 447.0l2.8 12.1l4.3 12.4l-4.0 21.2l-8.5 12.4l-22.4 13.7l-25.4 2.2l-17.7 -0.6l-15.9 -8.4l-16.8 -5.1l-11.1 -10.0l-13.8 -10.7l-8.5 -15.6l-0.8 -9.9l6.2 -17.4l11.3 -16.5l14.4 -11.1l19.8 -10.8l20.4 -3.7l22.5 5.8l17.3 11.5l6.9 9.0l4.7 9.3l14.7 12.0l6.1 18.8l0.5 11.0M423.4 472.2l-10.8 15.0l-15.2 14.6l-18.9 12.4l-18.2 4.6l-27.5 1.8l-20.5 2.7l-19.7 -8.8l-14.5 -8.6l-7.4 -3.6l-2.5 -18.7l-9.6 -8.0l3.7 -13.6l0.3 -10.4l4.4 -19.3l15.6 -10.6l25.0 -12.5l24.1 -4.7l24.6 5.2l12.8 6.4l13.8 3.0l13.9 6.2l12.7 6.9l11.5 13.1l3.5 11.8l-1.7 13.8M231.9 501.8l-9.4 -14.6l1.8 -22.1l12.4 -10.0l22.0 -21.7l22.4 -8.1l22.6 -6.7l28.4 -11.3l19.9 0.2l29.5 4.0l16.5 2.3l16.4 11.9l13.3 9.9l9.0 14.4l0.2 18.6l-9.6 15.6l-27.2 16.2l-21.1 10.0l-28.6 1.6l-22.0 0.0l-27.3 -2.7l-25.4 3.2l-20.8 -0.9l-21.0 -9.4l-10.8 -16.3l0.4 -19.8M283.2 418.6l32.4 -0.9l28.1 2.6l19.1 4.9l16.1 7.5l12.3 16.5l8.2 5.6l9.6 14.7l3.2 8.2l-1.7 10.0l-12.6 13.1l-24.3 5.9l-23.9 5.5l-25.3 -0.2l-28.4 1.5l-23.2 -5.1l-14.4 -13.1l-9.7 -6.2l-2.5 -16.1l-0.6 -8.3l5.2 -14.5l-1.4 -12.3l11.9 -3.2l18.0 -11.1l29.0 -4.6l30.4 -3.6M389.7 485.6l-10.1 12.3l-18.5 13.2l-24.6 7.2l-26.0 -0.4l-24.6 -2.3l-15.4 -9.2l-12.8 -11.0l-1.7 -6.0l-1.3 -13.0l-4.7 -10.0l5.0 -11.3l10.5 -7.4l21.9 -14.1l18.5 -4.9l23.2 -8.0l27.8 -4.2l25.5 2.7l18.7 5.4l13.3 7.9l1.2 9.4l-4.4 13.2l-8.0 9.3l-7.0 12.3l-8.2 11.9l-10.1 14.9M256.1 460.9l0.9 -5.0l5.7 -15.2l5.9 -19.2l19.7 -11.1l23.4 -2.8l33.8 0.1l28.4 7.7l18.5 15.4l17.9 18.2l10.8 9.8l3.4 7.2l6.4 17.4l1.4 12.2l-10.7 14.2l-24.1 11.1l-19.2 4.0l-30.7 -2.8l-33.1 -3.0l-29.2 -11.0l-16.7 -9.0l-8.3 -15.8l-5.7 -13.3l3.7 -14.1l-0.3 -10.4l9.1 -14.2M391.4 451.0l6.0 11.6l5.0 15.5l-3.0 12.1l-7.8 11.3l-16.4 11.6l-12.5 4.6l-26.4 -2.0l-18.2 -4.4l-15.3 -1.4l-13.2 -4.0l-18.0 -18.2l-7.3 -13.1l-0.2 -9.8l-0.2 -12.0l-2.6 -13.1l2.6 -12.3l8.9 -7.8l17.3 -9.9l17.2 -4.5l23.4 -0.4l18.1 4.2l14.4 14.0l11.9 7.7l6.2 10.6l9.1 8.1M433.8 428.1l15.4 13.9l-0.8 13.0l2.4 18.1l-12.7 10.8l-16.4 13.4l-16.9 10.8l-17.9 13.1l-25.4 -0.0l-28.8 2.0l-19.1 1.5l-26.1 -5.3l-16.8 -3.9l-21.3 -12.3l-14.3 -4.7l-10.8 -14.3l-4.9 -18.3l12.0 -10.1l20.4 -16.4l23.3 -8.1l23.6 -6.9l16.6 -3.0l24.8 -1.1l24.3 -5.5l23.9 2.9l21.8 3.7M256.3 508.3l-21.6 -15.7l-1.8 -18.8l3.8 -16.3l9.2 -16.3l18.5 -8.8l12.4 -12.4l17.2 -9.0l21.3 -11.8l22.6 1.5l21.0 0.4l27.9 7.7l17.2 12.9l12.2 11.9l6.6 15.9l-5.1 20.1l-19.0 14.4l-18.5 11.2l-22.9 -1.8l-16.3 10.0l-22.5 4.5l-18.7 2.7l-32.6 1.4l-21.0 -12.3l-12.7 -18.2l-1.8 -15.0M385.3 422.6l10.4 13.5l11.5 6.1l-2.3 13.4l-7.1 11.6l1.5 12.9l-10.5 13.2l-12.1 9.2l-13.8 12.8l-22.1 10.3l-16.8 12.8l-29.8 -0.2l-14.0 -5.0l-15.8 -4.9l-11.3 -15.3l4.0 -16.9l3.2 -10.6l-4.2 -8.4l5.2 -8.2l1.5 -16.0l10.5 -14.4l14.5 -8.3l30.3 -9.2l17.8 -6.7l24.2 4.7l14.9 3.5M428.8 432.8l0.6 22.8l-13.4 10.0l-12.6 9.8l-20.2 14.9l-15.0 1.5l-18.9 6.8l-17.2 9.0l-20.0 6.4l-26.2 2.2l-21.3 -6.2l-14.7 -17.2l-4.1 -12.2l3.5 -12.3l5.3 -21.3l9.0 -12.1l8.6 -10.4l11.6 -10.0l13.8 -13.1l22.2 -7.2l20.0 -2.5l19.6 5.7l28.3 2.4l10.8 1.5l20.6 10.7l9.6 16.9M383.6 518.7l-23.0 -1.3l-30.2 10.4l-16.0 -12.9l-18.1 -0.2l-21.1 -3.3l-18.1 -7.5l-19.7 -7.6l-12.5 -15.9l-2.1 -20.7l3.1 -11.9l18.3 -12.6l17.9 -14.6l20.6 -10.1l15.6 -1.4l22.6 2.0l26.4 4.0l14.8 9.7l14.1 8.6l12.3 11.0l9.6 7.3l10.5 24.9l-0.7 12.7l-10.0 18.6l-17.7 9.2l-28.9 5.5M295.5 420.0l23.0 -2.3l23.9 0.1l10.9 10.8l24.4 10.9l6.0 6.3l5.5 8.8l2.7 12.7l11.2 7.0l2.2 8.1l7.5 11.3l-6.2 14.0l-9.7 16.4l-24.2 -1.1l-19.5 8.8l-20.5 -9.4l-16.7 -5.3l-21.8 -2.9l-12.2 -10.2l-18.1 -7.0l-8.9 -12.6l-4.1 -10.9l-1.0 -9.8l-0.2 -8.9l8.1 -12.4l12.5 -12.6M404.6 422.3l0.5 10.7l-0.2 17.6l-3.0 13.1l-4.4 12.3l-9.5 10.4l-12.1 16.4l-11.9 10.0l-18.4 -0.0l-15.6 6.7l-18.5 2.9l-14.5 1.4l-21.6 -9.9l-12.6 -11.2l-8.5 -11.0l0.9 -10.9l6.0 -18.8l13.9 -12.3l15.1 -6.9l10.5 -17.7l8.9 -8.6l15.7 -2.9l18.2 -8.1l22.8 -8.7l17.6 8.8l12.1 9.4M337.9 396.0l29.2 2.7l21.9 10.1l19.8 7.7l7.5 16.4l2.8 11.9l-7.1 17.3l-1.7 10.7l-11.5 14.4l-4.9 17.1l-25.7 15.0l-28.5 12.6l-24.9 -6.9l-26.7 -2.9l-16.1 -10.5l-9.1 -14.4l-8.2 -16.6l-8.2 -13.2l-1.4 -14.0l3.1 -14.1l12.1 -15.7l23.6 -12.5l19.3 -7.0l28.7 -7.6l28.2 0.4l22.6 5.3M379.7 419.4l9.2 9.2l2.7 17.2l-1.9 11.3l-2.1 11.1l-3.0 11.4l-6.1 17.1l-8.1 8.8l-18.1 11.1l-18.8 6.1l-24.6 0.4l-19.4 -4.9l-22.8 -9.6l-8.5 -10.6l-14.4 -9.7l-7.0 -11.1l0.6 -11.3l6.9 -12.1l12.8 -8.2l9.7 -12.5l8.9 -5.1l19.1 -11.0l20.1 -10.3l20.6 0.9l23.5 -4.5l15.2 19.5M361.7 525.3l-17.9 7.2l-25.5 -3.1l-15.1 -5.5l-17.9 -11.1l-10.3 -6.0l-14.9 -12.8l0.6 -13.0l-1.7 -9.5l7.6 -18.1l1.9 -9.4l15.5 -10.6l9.8 -10.1l15.8 -14.5l17.2 -5.5l25.6 -2.8l21.1 1.3l12.1 8.6l7.9 14.2l4.4 19.3l5.4 10.6l-2.5 8.7l2.8 13.7l-3.1 14.7l-8.0 14.6l-14.3 13.2M308.0 515.4l-23.5 -9.0l-8.9 -14.6l-14.7 -7.1l-0.8 -12.3l2.8 -12.2l-3.5 -14.3l15.8 -17.4l21.8 -17.1l27.6 -6.1l24.6 -4.3l32.7 10.8l14.3 6.9l13.0 8.4l18.7 5.1l10.4 11.5l12.7 11.3l-5.4 19.5l-13.0 11.2l-26.3 18.2l-26.0 7.0l-28.3 7.8l-26.9 -3.9l-22.1 -3.5l-20.2 -6.3l-12.5 -10.7M364.5 405.5l21.9 4.4l13.6 18.0l3.3 7.0l-2.1 10.3l0.9 13.1l-3.4 11.1l-1.3 22.0l-12.3 10.3l-26.9 13.2l-22.5 2.9l-25.6 -5.2l-23.5 -6.9l-11.9 -12.0l-16.8 -6.7l-9.3 -11.0l-4.4 -10.3l1.2 -14.8l8.5 -8.9l13.3 -13.0l25.9 -13.0l19.3 -10.7l26.6 1.3l26.4 1.5l19.2 4.8l11.3 8.4M267.4 488.6l3.9 -12.8l7.5 -14.5l0.5 -12.4l2.3 -11.3l10.9 -13.0l17.6 -11.0l24.7 -8.8l17.9 7.4l18.6 1.5l8.9 4.0l8.4 12.1l12.6 8.2l2.3 15.4l-0.1 14.2l-4.3 8.0l-6.4 15.5l-11.0 9.2l-14.3 13.8l-9.4 8.1l-20.5 5.8l-18.7 4.9l-23.4 -1.4l-15.4 -7.6l-11.2 -12.7l-0.3 -10.8M342.0 418.8l21.7 -0.7l23.0 6.0l16.1 3.2l7.2 9.8l6.2 7.7l-2.6 8.0l-6.8 13.9l-14.1 5.6l-11.8 11.2l-19.0 8.0l-15.9 9.6l-24.0 7.3l-23.9 1.7l-27.8 0.6l-12.6 -5.2l-5.3 -8.5l4.3 -11.5l-6.5 -10.9l5.1 -5.7l9.2 -13.2l5.5 -7.2l9.7 -16.5l25.7 -3.2l25.7 -10.1l24.1 2.4M410.5 461.7l-6.0 17.3l-7.6 9.9l-13.2 6.2l-14.4 17.1l-15.1 9.5l-25.4 2.4l-21.3 4.9l-26.3 -0.5l-18.3 -6.8l-20.0 -6.5l-10.0 -16.7l-3.7 -8.8l4.8 -15.2l8.1 -14.3l16.9 -13.5l14.9 -8.6l17.7 -10.4l20.5 -6.3l27.0 -11.3l20.3 -1.1l26.9 -4.7l20.5 12.3l12.7 8.9l-0.0 17.1l-4.6 13.0M377.3 497.0l-21.8 6.0l-23.8 4.5l-25.3 0.5l-29.0 -7.0l-19.4 -0.4l-14.0 -14.1l-7.2 -8.7l9.7 -12.3l12.8 -10.5l18.4 -6.2l18.5 -11.0l14.0 -2.5l19.4 -10.5l30.7 -4.1l27.6 -0.1l23.2 7.1l5.0 9.5l3.1 16.2l-2.4 4.3l-9.0 14.2l-3.6 8.6l-21.4 9.9l-17.0 8.8l-25.0 3.2l-22.8 6.1M281.2 502.1l-11.8 -4.1l-5.5 -7.6l-8.2 -10.3l3.7 -8.6l4.0 -14.5l8.5 -14.7l14.6 -10.8l19.5 -8.7l26.3 -8.4l20.0 -0.1l18.0 2.1l14.9 9.0l7.0 6.5l7.6 9.2l4.7 2.9l8.1 8.8l5.6 12.8l-7.3 13.1l-5.9 13.7l-15.9 10.3l-28.2 7.1l-19.6 7.4l-19.2 -2.1l-16.2 -8.8l-15.1 -1.1M316.1 528.5l-25.9 -1.2l-20.9 -15.3l-6.5 -11.4l-8.4 -17.1l-9.4 -5.5l-3.9 -12.5l-0.7 -14.0l9.8 -25.9l19.0 -4.9l21.2 -8.4l31.6 -10.3l25.6 6.6l22.8 6.6l25.6 11.6l12.0 6.7l7.4 15.8l5.5 13.2l-3.2 14.2l-9.4 11.4l-4.5 16.3l-13.8 14.1l-25.1 6.9l-22.8 11.5l-34.5 -5.9l-23.8 -8.3M267.8 454.6l11.2 -13.4l17.2 -3.4l12.6 -6.5l11.6 -4.5l20.2 -5.1l20.4 -4.6l22.6 3.2l15.9 5.1l12.9 9.7l6.0 14.0l-5.4 15.2l-6.8 10.6l-6.2 10.6l-10.2 6.1l-7.7 9.3l-17.7 11.9l-15.1 0.2l-20.9 4.9l-16.1 -4.7l-23.1 -8.3l-15.0 -10.5l-7.4 -6.4l-9.0 -15.1l2.5 -12.8l10.7 -13.6M431.3 473.3l-1.7 15.3l-13.3 8.9l-17.0 11.0l-30.0 6.1l-25.8 -2.4l-10.2 -4.4l-20.4 -2.0l-22.0 -1.4l-13.9 -8.2l-10.8 -10.6l-11.3 -9.2l2.7 -10.8l7.7 -14.1l7.7 -14.7l12.1 -6.5l20.2 -14.3l20.2 -1.9l24.4 -1.2l17.8 10.7l12.5 5.9l10.8 4.4l19.5 9.1l9.0 15.5l6.8 10.3l2.3 13.4M253.8 462.6l2.7 -13.1l11.7 -10.9l11.2 -10.6l8.9 -5.5l14.6 -17.6l22.3 -5.2l21.0 -9.8l28.8 1.7l23.4 4.5l10.5 12.1l6.1 13.8l7.8 7.6l-1.9 12.1l1.7 12.6l-4.9 11.6l-5.1 15.1l-10.5 9.7l-17.1 10.5l-22.1 9.2l-23.7 3.8l-25.0 6.8l-23.5 -6.4l-18.1 0.4l-16.0 -7.5l-13.5 -14.0M288.2 419.0l26.8 -12.2l25.9 3.7l26.4 1.5l20.7 4.1l19.4 8.7l7.2 20.8l1.7 7.7l-7.6 13.5l-11.5 14.9l-19.9 15.5l-15.8 9.5l-17.6 12.5l-23.8 12.0l-29.1 3.6l-26.8 -2.1l-14.1 -12.5l-9.8 -17.1l2.2 -13.2l1.6 -16.0l8.2 -9.4l5.3 -18.1l12.6 -13.4l17.7 -16.3l28.1 -6.4l29.0 -5.4M389.4 509.8l-19.1 9.9l-23.0 1.6l-19.1 -5.1l-18.8 -0.1l-11.5 -11.8l-8.7 -6.2l-12.8 -6.3l-12.0 -11.9l-10.1 -14.2l-0.3 -12.3l9.3 -16.0l14.6 -14.5l18.9 -7.2l26.9 -0.5l18.7 -1.1l18.5 0.7l15.5 2.2l20.0 4.4l9.3 7.4l12.0 9.0l8.8 9.3l-3.4 17.1l-3.1 13.2l-10.9 15.4l-18.5 15.5M452.2 474.7l-8.0 11.1l-21.5 10.5l-23.5 9.8l-19.7 1.8l-24.2 3.5l-18.2 2.1l-22.0 0.2l-16.2 -1.0l-27.4 -4.6l-13.7 -7.5l-12.2 -4.7l-8.4 -12.4l-4.7 -12.7l-3.7 -8.8l6.8 -16.7l16.9 -10.7l22.9 -9.0l20.6 -5.1l23.7 0.2l27.3 2.9l17.6 -0.0l18.3 5.0l14.7 4.5l22.0 4.2l19.7 7.3M326.5 413.7l23.2 -2.1l18.3 -0.9l22.8 2.5l17.3 13.4l12.8 5.7l21.4 10.7l9.4 10.9l4.8 15.5l-3.0 19.8l-15.5 9.9l-20.6 13.1l-26.9 3.1l-27.5 3.6l-20.5 -0.3l-18.9 -0.7l-19.9 -2.1l-22.2 -5.9l-21.2 -3.1l-12.9 -10.0l-6.5 -14.4l0.7 -13.2l4.9 -17.7l19.1 -16.8l20.3 -10.0l20.2 -6.9M325.2 492.9l-22.5 0.9l-27.0 6.7l-19.6 -4.5l-21.2 -7.8l-1.0 -10.9l4.7 -13.0l16.6 -14.8l17.0 -5.8l20.1 -12.7l24.8 -7.2l27.0 -5.6l21.6 2.5l26.0 2.4l9.0 4.5l25.1 3.0l10.5 9.9l11.8 8.5l-13.2 16.8l-18.2 8.0l-32.1 10.3l-23.0 4.1l-24.3 6.5l-20.7 1.8l-27.0 1.7l-31.2 -2.3M235.8 478.1l14.4 -14.0l7.2 -17.1l19.3 1.8l15.1 -13.6l17.6 -9.5l19.6 -12.1l25.5 -3.0l26.9 5.0l16.5 9.1l10.9 10.3l1.5 12.3l-9.2 17.5l-7.8 11.7l-6.3 14.4l-6.3 6.9l-15.9 13.2l-23.9 9.2l-22.1 1.8l-22.2 2.4l-21.0 -9.1l-24.5 -7.4l-9.8 -10.2l-3.5 -12.0l5.8 -17.3l11.5 -13.5M271.5 494.0l-4.9 -7.9l-5.6 -11.0l-6.7 -8.6l0.4 -10.1l5.8 -15.8l15.1 -11.1l19.0 -6.0l26.8 -7.1l18.5 4.6l19.1 0.8l12.6 8.8l11.6 4.5l15.5 3.3l13.7 5.4l9.6 9.7l2.6 7.4l-5.1 15.8l-12.6 12.2l-15.2 11.3l-18.1 3.1l-19.5 5.2l-29.4 6.5l-11.8 -1.2l-16.9 -8.7l-12.4 -3.3M254.0 449.4l17.2 -3.7l20.0 -10.3l16.4 -2.6l19.4 -3.2l21.4 -7.7l25.3 0.8l20.4 7.4l26.3 -1.2l8.8 8.2l11.1 10.5l11.1 8.4l3.0 9.3l-11.3 15.9l-14.2 4.5l-21.7 8.9l-19.5 2.8l-22.7 3.4l-19.9 -0.0l-21.2 7.4l-21.3 -0.9l-20.3 3.6l-29.5 -7.9l-19.4 -5.6l-6.2 -8.3l-5.9 -11.9M241.1 483.8l3.1 -11.3l7.1 -14.4l18.9 -13.1l23.1 -14.8l19.6 -10.5l38.0 -6.3l25.0 -4.1l22.6 5.9l6.2 6.6l3.1 7.7l-4.6 14.9l-10.6 16.8l-5.5 13.5l-8.5 12.6l-21.6 19.0l-29.3 7.8l-31.1 6.4l-18.2 -1.1l-22.0 -7.6l-7.4 -9.6l-4.5 -7.0l-5.1 -10.8l1.8 -17.2l11.9 -13.1l14.6 -17.5M263.8 457.4l7.9 -12.7l4.1 -6.8l11.2 -9.6l15.3 -7.9l23.5 -2.8l21.6 -6.1l23.5 11.5l14.1 9.2l9.6 9.7l13.4 12.1l4.2 10.7l-5.7 12.5l-5.9 8.9l-6.4 7.4l-18.4 9.1l-14.4 7.1l-20.7 2.3l-16.1 1.5l-22.7 -0.3l-23.6 -6.0l-19.2 -8.8l-12.6 -15.2l-0.4 -9.3l10.1 -8.8l6.0 -12.4M264.1 494.3l-7.8 -14.0l-2.4 -7.9l-0.9 -12.8l-4.7 -14.9l12.8 -17.2l11.4 -9.4l23.9 -8.5l18.1 1.2l16.7 4.0l17.5 6.5l12.1 5.8l8.2 3.3l14.1 14.5l9.9 8.8l10.9 17.5l-4.4 7.1l-3.4 20.4l-16.7 8.8l-10.1 10.7l-23.7 4.4l-15.7 5.2l-15.5 -1.4l-18.2 -1.9l-14.8 -8.8l-12.0 -9.0M280.6 460.7l0.5 -11.7l9.6 -10.0l11.0 -16.4l8.7 -9.5l24.7 -8.6l19.7 -0.1l20.2 7.8l9.9 11.0l10.6 10.4l5.7 12.5l6.7 11.2l3.7 10.5l-4.9 12.7l-7.4 14.0l-5.8 12.5l-20.2 10.3l-18.2 4.2l-19.3 2.2l-19.2 0.1l-17.8 -0.6l-17.7 -10.8l-8.0 -16.3l2.5 -12.1l2.2 -13.6l2.2 -10.8M227.9 467.8l2.7 -16.0l13.2 -18.6l17.6 -7.8l24.9 -6.0l17.4 0.4l16.9 -1.8l24.6 -0.9l20.5 -1.8l20.1 14.9l18.0 11.3l1.8 22.7l-11.0 12.4l-10.4 14.9l-16.3 11.1l-18.4 11.8l-11.3 2.9l-21.0 3.7l-26.0 -6.9l-15.4 -4.2l-21.8 -8.4l-9.2 -13.6l-12.2 -20.3l-1.6 -13.5l13.3 -19.8l15.6 -5.3M236.9 487.2l11.2 -19.0l7.5 -12.1l19.5 -11.6l14.9 -12.5l19.4 -10.3l26.7 -12.1l28.4 0.7l25.1 3.6l16.9 14.6l1.9 18.5l2.7 19.9l-2.2 7.9l-6.2 14.6l-8.1 18.1l-16.4 16.2l-25.1 4.2l-19.3 7.4l-33.0 -0.6l-20.2 1.5l-23.4 -10.4l-20.7 -14.0l1.5 -18.3l8.3 -17.2l11.6 -13.3l8.8 -13.5M404.7 449.3l-5.1 11.5l-4.3 14.8l-3.3 13.6l-15.7 7.4l-20.5 22.1l-28.4 4.7l-28.2 -2.9l-23.5 -10.8l-16.6 -13.2l-5.2 -13.4l-2.5 -15.9l-4.8 -10.0l-5.5 -15.0l5.7 -16.0l21.0 -16.8l21.5 -5.3l25.2 -5.0l29.0 5.6l25.9 8.1l21.5 8.8l8.4 10.6l6.9 14.0l-3.8 14.2l-2.1 15.3l-9.4 11.5M404.5 436.4l2.3 17.0l-6.6 12.3l-13.4 9.1l-17.8 15.6l-17.3 2.1l-20.3 1.9l-24.6 2.0l-15.1 -7.0l-11.3 -4.1l-16.6 -7.4l-15.1 -7.3l-7.8 -11.2l3.0 -16.9l8.9 -11.5l23.6 -10.1l22.8 -7.9l19.0 3.1l20.6 -0.7l18.1 -0.7l20.0 3.9l17.6 6.9l6.6 8.9l8.2 7.5l-4.2 17.8l-9.6 11.6M257.8 468.1l2.6 -11.1l5.5 -7.3l4.5 -18.2l19.7 -5.8l29.6 -6.5l23.0 -3.4l28.7 7.2l19.7 7.0l7.8 5.8l11.7 15.6l5.4 12.3l-15.6 10.3l-9.5 13.1l-15.5 9.9l-16.5 6.2l-21.1 6.0l-25.2 10.5l-26.0 -3.7l-25.0 -10.3l-7.4 -10.5l-3.4 -17.9l6.9 -8.0l3.9 -7.0l1.7 -20.6l12.2 -5.4M416.5 448.3l4.9 11.6l-7.1 13.3l-18.5 5.2l-9.5 11.3l-21.4 5.7l-15.6 7.1l-22.7 0.7l-24.6 1.3l-18.5 -6.5l-18.0 -2.3l-16.3 -6.9l-9.7 -7.2l-13.0 -9.9l-3.5 -13.2l8.7 -7.9l19.4 -12.4l24.0 -4.9l20.9 -6.9l19.9 -2.6l19.5 2.4l23.5 0.1l12.4 3.5l22.9 3.9l19.7 7.5l7.1 11.5M309.7 418.8l28.8 0.8l19.7 -4.8l22.2 0.3l24.5 4.1l23.3 7.0l15.8 12.0l10.7 16.3l-13.5 15.2l-11.6 11.7l-21.3 18.5l-23.8 8.9l-24.4 9.5l-24.7 6.2l-23.4 -5.2l-22.8 -2.9l-21.0 -9.5l-20.1 -4.0l-17.0 -11.7l-3.5 -15.3l-7.4 -14.6l9.9 -21.4l29.7 -10.9l23.4 -7.2l33.1 -0.8l23.4 -7.3M323.9 430.3l18.9 -2.1l19.4 6.5l20.5 6.4l16.1 7.3l12.5 14.9l3.1 12.7l-8.1 15.0l-8.9 8.2l-18.0 8.6l-18.5 6.3l-14.7 0.7l-15.4 5.5l-20.4 -0.2l-23.1 -0.7l-18.7 -10.4l-13.3 -8.4l-7.2 -16.6l4.2 -10.8l6.0 -16.2l11.7 -7.0l12.7 -6.5l14.9 -6.5l15.9 -9.2l18.6 1.2l18.1 8.3M322.8 519.9l-30.9 -3.2l-10.6 -13.4l-16.6 -11.6l-3.1 -8.9l5.9 -11.9l-0.1 -4.2l2.1 -12.6l1.1 -11.6l13.3 -9.9l19.8 -5.8l19.3 -8.9l26.5 2.9l21.9 -0.3l18.7 8.4l13.7 7.0l8.6 11.7l7.0 10.0l-3.3 12.9l-6.1 8.5l-13.5 6.2l-13.9 7.1l-17.2 9.7l-17.1 8.0l-25.7 4.5l-20.5 -2.8M331.6 426.9l23.4 0.7l19.0 2.7l9.7 0.2l12.7 10.7l3.5 5.8l2.8 7.6l8.1 8.5l-0.7 7.9l-1.1 12.6l-7.6 10.7l-10.8 7.5l-19.8 6.7l-19.2 8.2l-23.1 -0.6l-15.1 -7.5l-13.5 -6.4l-12.3 -2.5l-3.1 -5.1l-12.0 -9.9l-10.4 -1.9l-5.2 -13.0l4.6 -7.3l8.1 -13.0l14.1 -7.2l14.4 -7.6M388.0 501.0l-15.3 7.1l-23.1 10.4l-28.8 -2.8l-28.1 -5.1l-17.0 -2.1l-14.5 -8.0l-10.0 -9.3l-5.0 -9.8l0.5 -11.6l6.9 -9.4l4.8 -13.4l17.5 -7.3l10.2 -7.1l24.7 -4.3l22.5 -2.8l25.3 -3.5l29.7 4.3l13.8 12.4l8.3 7.7l-5.7 13.2l-1.3 8.8l0.8 5.1l-3.3 13.6l-5.6 10.5l-17.0 7.3M297.5 502.2l-24.2 -8.7l-12.6 -0.1l-16.9 -8.7l-7.0 -9.2l-8.3 -8.5l1.5 -11.6l3.3 -13.0l11.8 -13.0l13.5 -9.3l21.9 -3.4l21.0 0.3l20.0 -0.6l17.3 1.5l15.0 5.4l15.0 5.3l16.7 6.9l14.2 0.5l14.9 11.5l8.3 10.0l-0.0 10.1l-11.0 11.1l-19.8 14.1l-15.8 3.2l-21.1 1.3l-22.7 1.7M433.1 468.9l-10.2 8.3l-16.9 16.8l-19.8 8.4l-24.4 2.1l-22.0 8.3l-18.7 -5.1l-18.9 -5.1l-16.7 -3.8l-13.9 -8.7l-8.9 -3.6l-14.1 -10.9l-8.8 -4.8l2.0 -14.6l14.6 -16.4l19.9 -4.8l23.8 -9.9l19.8 3.2l19.9 1.1l17.7 -0.4l17.8 -1.9l24.9 3.7l18.7 4.9l10.0 9.5l7.7 13.9l-3.7 12.5M282.9 435.5l9.4 -14.4l14.6 -8.7l13.7 -12.0l18.3 -2.5l17.9 -1.3l24.3 8.2l13.1 7.8l6.5 11.5l4.2 15.0l1.4 9.7l-5.0 14.6l0.1 11.3l0.0 14.5l-5.3 15.1l-17.1 6.4l-11.6 13.2l-16.2 3.5l-23.1 -6.5l-13.8 0.3l-23.1 -13.7l-4.9 -3.4l-5.5 -15.1l-4.5 -12.0l-5.4 -14.1l2.8 -10.9M301.8 508.2l-11.1 -4.3l-15.1 -3.2l-15.0 -6.2l-14.5 -8.4l-13.5 -13.0l-4.4 -11.3l7.0 -18.0l10.4 -11.1l19.5 -10.5l22.4 -3.1l23.3 -1.3l14.2 -1.7l22.3 -0.8l6.8 -2.3l24.2 6.6l16.1 7.2l11.3 9.1l5.9 14.2l-7.0 9.1l-8.5 20.3l-8.2 10.8l-15.2 6.1l-27.1 14.6l-13.9 -0.8l-19.3 1.0M369.6 419.8l18.7 21.7l5.9 7.9l-2.0 14.0l-0.6 10.4l1.5 17.4l-11.6 16.6l-16.0 12.1l-26.8 8.3l-20.4 -5.7l-16.3 -6.7l-16.3 -10.0l-8.9 -11.6l-5.8 -11.0l-11.3 -13.3l-3.2 -17.3l3.6 -12.6l15.9 -15.5l14.4 -9.2l24.6 0.4l19.7 -4.2l28.7 6.3l12.4 11.5l10.9 12.0l4.3 10.3l1.2 14.4M284.4 502.4l-12.8 -10.7l-17.6 -9.3l-3.9 -14.5l1.6 -13.6l11.4 -15.9l10.5 -12.9l22.6 -6.6l22.7 -2.4l18.8 -0.3l18.8 -1.1l14.1 11.2l15.4 6.9l9.4 10.6l12.7 6.8l9.7 17.3l-0.2 13.0l-7.2 16.1l-18.4 10.9l-32.7 -1.1l-19.2 3.0l-16.5 1.0l-20.6 -5.9l-16.2 -1.6l-15.4 -7.8l-10.8 -12.2M316.2 517.8l-19.5 6.6l-16.6 -2.7l-18.9 -9.9l-3.2 -4.8l-3.5 -17.9l3.3 -7.8l2.2 -16.0l11.3 -10.9l9.1 -7.2l12.0 -11.3l12.8 -3.8l14.3 -10.7l19.2 1.8l16.8 -2.4l17.1 0.2l19.4 5.4l8.9 6.3l16.1 7.6l-5.9 16.6l5.0 9.9l-13.5 12.7l-7.0 10.2l-21.0 5.4l-8.6 7.1l-17.7 4.3M361.9 415.7l27.3 -3.0l27.4 9.9l9.5 6.9l3.3 14.6l-9.3 19.2l-18.3 15.6l-13.6 5.6l-16.4 13.7l-17.1 7.9l-21.4 10.2l-29.5 9.8l-23.1 -5.9l-18.9 -8.7l-10.3 -10.9l-7.4 -12.6l3.9 -16.0l6.8 -16.2l17.6 -12.6l24.1 -3.0l18.7 -12.7l21.8 -1.9l22.7 -9.6l30.0 1.4l25.4 2.6l11.3 10.3M290.2 432.6l20.2 -7.5l19.0 -6.2l20.4 -10.1l26.6 -0.5l23.0 3.3l18.1 1.2l13.0 14.8l10.9 14.9l-8.0 17.5l-7.4 11.8l-10.5 14.2l-17.7 13.4l-22.8 5.8l-23.5 -0.7l-21.3 0.5l-17.3 3.0l-22.9 -2.8l-21.9 -6.4l-18.7 -9.2l-1.5 -14.6l4.1 -17.2l19.5 -14.8l15.5 -9.2l20.5 -10.1l18.9 0.8M366.0 437.4l18.6 5.0l23.4 1.4l14.6 4.9l12.8 13.1l10.0 3.3l-4.1 12.2l-10.0 13.0l-14.2 2.3l-20.4 13.6l-24.1 4.6l-26.2 2.5l-29.5 0.2l-23.0 -7.7l-13.9 -9.2l-11.8 1.6l-7.6 -12.0l-10.8 -4.8l-11.2 -8.2l-1.7 -12.5l7.8 -10.8l27.0 -9.1l27.1 -3.3l27.6 -3.1l25.0 4.1l24.3 0.2M252.7 431.1l22.0 -4.5l22.1 -5.2l19.5 5.9l21.1 7.6l17.0 1.5l17.3 3.0l19.8 11.2l13.9 4.4l7.3 6.5l-2.2 13.0l-2.6 10.7l-7.4 12.7l-17.4 1.4l-19.6 7.2l-24.5 1.8l-18.9 -6.6l-22.3 -3.8l-14.1 -11.2l-11.4 -2.1l-17.4 -12.6l-10.2 -4.8l-8.9 -6.4l3.0 -14.6l5.8 -11.4l22.3 -5.9M304.0 499.8l-9.6 -3.1l-15.7 -10.3l-13.9 -4.1l-7.6 -13.7l-0.9 -14.2l20.3 -11.8l24.1 -4.3l22.7 -7.5l12.1 0.5l19.5 -1.1l23.5 -0.8l16.2 6.1l18.6 7.5l10.8 6.6l7.0 8.7l-6.8 13.2l-4.8 9.2l-9.3 10.4l-19.2 8.1l-22.5 11.9l-19.5 -2.6l-19.7 -3.0l-18.1 -3.9l-9.9 -3.6l-14.2 -6.7M254.1 459.8l4.1 -14.1l9.0 -15.0l19.6 -13.7l18.4 -7.1l26.1 -4.6l22.9 -1.2l22.8 5.9l16.0 11.8l7.1 19.3l1.9 16.0l-1.3 14.7l-7.3 11.5l-4.8 15.5l-9.5 17.8l-22.3 15.7l-22.9 3.1l-26.1 -4.8l-26.1 -13.5l-8.4 -11.7l-9.0 -13.4l-2.9 -16.9l-3.9 -8.9l-4.0 -21.7l10.5 -12.0l17.6 -15.6M320.7 503.0l-19.5 -1.4l-24.4 -0.7l-15.7 -9.7l-11.5 -8.7l-10.1 -11.8l0.2 -10.4l14.1 -10.9l18.8 -7.8l19.0 -9.9l19.7 0.2l19.5 1.3l21.8 -10.3l20.1 1.2l20.9 2.4l25.0 7.8l9.0 13.0l-2.8 11.0l-11.7 8.7l-16.5 7.3l-18.4 9.1l-18.3 6.7l-22.6 7.0l-16.4 1.1l-22.8 6.1l-18.1 -8.2M338.9 408.4l19.3 3.2l13.9 12.2l19.7 9.0l8.8 11.4l11.5 10.9l6.6 8.0l0.4 24.3l-12.7 17.0l-13.2 4.5l-27.8 10.9l-29.9 0.3l-17.3 -3.8l-28.1 -2.7l-12.6 -14.6l-12.6 -5.9l-10.9 -16.2l0.2 -6.7l1.4 -21.7l11.0 -15.7l19.1 -9.2l22.5 -11.1l25.7 -4.3l26.3 4.7l11.8 11.2l20.6 12.1M280.3 505.4l-20.1 -7.4l-17.7 -6.9l-19.0 -15.1l-9.8 -8.1l5.3 -21.6l13.9 -10.6l28.3 -13.8l23.1 -4.9l25.5 -3.6l23.7 -5.3l21.4 10.7l23.5 -5.9l20.9 11.1l15.3 8.7l7.9 14.5l2.1 18.4l-4.8 8.8l-9.2 19.1l-23.8 14.4l-27.6 6.4l-25.6 1.2l-23.8 -6.3l-22.3 -6.8l-21.1 -3.8l-16.2 -3.8M405.6 497.8l-14.7 7.1l-32.3 2.9l-22.0 2.3l-22.1 -0.6l-18.7 -6.8l-14.0 0.8l-14.4 -11.1l-7.8 -7.9l-22.1 -2.3l-9.2 -12.6l1.7 -9.7l4.2 -12.9l13.7 -11.7l23.8 -2.8l27.1 -6.7l30.9 0.8l16.6 -2.0l16.2 -0.7l22.1 2.2l16.9 5.1l21.2 5.8l9.5 8.5l8.4 10.3l-2.6 6.8l-0.9 13.6M417.0 442.4l-3.2 12.7l-12.8 18.3l-13.5 7.9l-21.3 4.8l-14.0 8.3l-14.9 6.1l-23.0 5.8l-22.6 7.2l-22.4 -1.5l-26.5 -3.3l-7.4 -18.3l-6.0 -6.3l3.5 -13.6l9.5 -13.4l10.6 -10.0l7.4 -9.4l14.7 -11.2l19.8 -5.9l21.4 -1.7l23.9 -7.2l20.7 3.5l21.6 -1.0l20.2 10.3l11.0 12.2l6.7 10.9M287.6 494.6l-18.7 -3.8l-10.3 -5.6l-3.8 -13.2l-6.0 -4.0l-6.5 -7.0l-5.1 -14.6l1.0 -1.3l8.2 -15.2l17.3 -7.1l23.8 -0.9l23.9 -8.5l30.9 7.2l20.9 2.3l21.0 6.0l13.9 3.5l15.5 10.8l12.3 1.6l2.4 11.6l-1.3 9.4l-2.1 7.5l-14.1 8.1l-14.7 7.7l-15.9 9.3l-25.6 3.5l-25.0 0.6" fill="none" stroke="#c0221c" stroke-width="0.9" stroke-opacity="0.5"/>
<ellipse cx="0" cy="0" rx="62" ry="32" fill="url(#gK)" transform="translate(312,462) rotate(-12)"/>
<path d="M334.2 491.3l-11.8 -3.1l-12.6 5.2l-15.7 -1.7l-13.2 0.3l-11.5 -3.2l-8.7 -9.6l5.3 -5.8l5.4 -13.2l10.6 -9.1l11.5 -9.0l23.2 -6.4l14.0 -2.4l13.8 -3.4l17.8 2.9l7.7 2.2l3.4 4.3l9.4 6.9l8.5 8.7l-2.7 10.6l-7.5 11.5l-12.9 4.2l-18.4 5.8l-22.7 4.4l-12.3 0.8l-13.6 -1.2M271.6 493.1l-2.8 -4.3l-2.9 -7.6l2.9 -12.7l3.8 -7.7l6.6 -12.7l11.3 -13.8l17.9 -10.7l23.2 -8.7l12.4 -5.8l15.0 -2.7l11.2 5.9l9.3 9.2l7.0 -5.2l5.5 6.8l4.5 4.8l-2.1 12.9l-10.9 14.6l-12.9 7.8l-17.8 14.5l-22.5 6.4l-16.7 9.3l-19.3 2.5l-10.4 2.4l-10.1 -4.1l-3.1 -4.5M383.3 443.3l-1.4 6.1l-11.0 8.2l-6.8 10.9l-7.5 12.0l-16.3 0.6l-12.1 6.2l-9.7 8.9l-7.7 0.2l-14.8 -1.8l-5.5 1.9l-2.9 -3.0l-4.1 -7.6l-1.2 0.5l-7.0 -7.7l4.0 -3.5l2.5 -10.0l6.9 -10.8l12.2 -11.2l14.8 -4.6l12.1 -3.1l13.2 -3.4l4.5 0.8l11.3 -1.6l10.4 0.6l6.5 -3.0M296.9 446.3l14.3 -8.7l25.1 -8.0l15.0 -0.5l25.0 -5.6l13.3 3.0l11.2 6.0l6.2 7.9l-1.7 9.9l-9.4 8.2l-10.0 9.2l-9.6 2.9l-6.4 15.5l-18.3 5.0l-18.1 11.3l-25.3 11.2l-21.0 -6.1l-13.2 -7.8l-2.2 -2.2l-1.0 -12.8l3.6 -7.9l-0.4 -7.4l3.8 -7.0l11.9 -10.5l10.7 -10.1l19.0 -5.2M248.2 521.5l-7.7 -9.2l6.2 -7.4l8.0 -18.7l19.4 -10.6l8.9 -5.1l12.7 -12.2l12.7 -12.5l13.5 -9.9l19.5 -12.0l23.3 -3.5l12.4 -7.9l17.4 -2.2l4.6 4.5l6.8 5.7l2.5 9.8l-0.0 5.2l-17.1 16.1l-8.6 10.4l-11.0 9.4l-20.9 14.0l-13.6 5.9l-17.3 9.8l-20.8 9.1l-13.8 9.4l-22.0 4.3M273.0 496.4l-4.4 1.4l-1.3 -12.8l0.4 -7.5l9.6 -14.5l20.1 -7.5l12.8 -6.3l11.5 -10.8l14.9 -3.7l12.4 -4.2l12.3 -3.6l15.5 1.4l9.4 3.4l5.3 -2.4l6.3 9.4l-4.7 7.2l-1.0 11.4l-12.9 4.2l-6.3 12.0l-13.1 12.0l-16.5 2.7l-12.2 7.1l-13.5 -1.5l-9.5 3.9l-13.7 1.1l-9.2 -3.0M274.3 476.1l10.1 -16.0l14.7 -9.7l16.0 -10.4l22.0 -14.2l18.3 -0.7l10.9 -7.7l13.6 6.4l-3.7 3.4l5.4 4.3l3.6 5.7l1.2 11.7l-9.5 10.2l-16.8 14.5l-22.7 12.6l-17.6 4.9l-14.7 3.9l-13.9 1.5l-10.3 1.2l-5.2 -4.0l-10.0 -6.5l5.3 -6.6l6.9 -6.4l7.4 -13.5l21.0 -15.0l15.7 -12.1M382.2 447.8l-10.9 11.7l-16.9 13.9l-12.7 6.3l-16.4 8.9l-12.0 7.6l-12.9 8.0l-11.3 3.9l-15.4 9.2l-10.1 -12.3l-2.1 -0.6l0.3 -7.0l7.0 -8.2l9.3 -13.8l11.7 -11.1l12.4 -16.9l12.9 -6.3l14.0 -5.8l14.7 -8.7l11.6 -4.8l10.8 -1.5l14.8 -2.4l8.0 -9.2l10.5 8.8l-0.4 5.3l0.9 4.4M309.2 443.7l14.1 -7.1l18.9 -9.6l15.8 -1.9l17.6 -6.2l19.6 -1.3l14.5 -0.9l9.2 5.0l9.3 7.8l-0.5 10.9l-4.6 4.3l-12.0 14.4l-13.0 12.0l-16.1 8.2l-21.1 7.9l-15.4 9.5l-17.8 -2.9l-13.7 4.2l-15.7 0.4l-17.9 3.1l-21.2 -2.9l-8.8 1.6l-8.6 -8.9l5.3 -13.0l11.5 -6.0l20.9 -16.5M345.4 413.1l13.6 -0.3l10.7 7.6l10.1 7.1l-4.3 7.1l1.3 12.9l1.5 3.6l-8.1 15.1l-12.8 13.7l-10.6 10.2l-18.2 7.7l-19.7 2.0l-15.1 1.7l-8.6 -5.4l-6.3 -12.1l-0.9 -5.2l8.8 -11.2l-0.7 -8.1l7.5 -17.0l6.9 -11.6l13.1 -12.8l19.7 -7.8l15.9 -0.1l14.2 5.7l9.7 4.7l-0.3 8.0M332.9 452.0l14.5 -11.1l17.4 -7.2l18.4 -4.1l14.8 -3.6l7.9 -3.0l14.2 6.4l2.9 0.7l-9.9 7.2l-3.8 9.2l-17.5 14.3l-15.7 7.5l-16.9 10.2l-13.7 10.5l-16.5 5.4l-16.2 10.3l-19.4 4.8l-20.3 3.0l-10.3 4.0l-3.5 -9.9l6.4 -5.6l12.7 -12.0l7.3 -10.8l16.9 -11.3l11.5 -7.1l15.4 -8.1M291.3 499.8l-7.6 2.3l-2.1 -4.8l-2.3 -8.3l4.8 -12.6l11.5 -8.3l14.9 -12.2l23.2 -13.0l21.5 -14.7l18.8 -7.9l15.9 1.3l10.6 0.1l-0.9 7.5l5.1 1.3l5.0 6.1l-1.1 6.8l-6.8 5.5l-17.6 19.1l-19.2 13.0l-26.3 11.0l-11.4 5.6l-16.1 0.1l-16.8 7.2l-10.3 -4.4l-4.4 -1.2l0.8 -8.4M274.9 494.2l-9.1 -2.9l4.7 -9.8l7.3 -7.3l6.2 -12.8l7.9 -0.9l4.6 -13.0l8.3 -9.9l19.3 -9.8l14.9 -8.2l16.4 -5.9l13.9 -1.4l8.5 0.5l2.3 5.3l2.3 6.1l-7.3 9.2l3.0 2.8l-3.6 12.7l-5.5 8.9l-12.5 6.9l-13.2 9.0l-13.8 7.1l-17.4 5.2l-16.6 8.2l-10.7 1.3l-9.8 0.3M277.8 472.2l3.5 -6.9l3.0 -11.3l9.4 -11.4l15.7 -16.0l15.3 -6.4l9.8 -5.2l11.7 2.0l9.3 0.2l7.0 -6.0l3.8 -0.1l10.7 4.9l1.4 7.1l-4.2 12.7l-3.9 8.8l-6.7 11.0l-9.5 15.9l-19.4 7.2l-12.2 7.3l-11.5 5.5l-11.7 -4.0l-3.1 1.4l-6.5 -5.7l-3.0 -6.8l-2.4 -4.2l-3.8 -2.1M418.1 437.5l-8.5 11.7l-9.2 14.3l-11.3 6.4l-10.1 12.3l-16.7 8.8l-12.5 8.9l-25.0 6.4l-19.6 6.8l-16.1 0.5l-15.8 -3.8l-3.5 -9.5l1.2 -8.1l8.2 -11.7l9.3 -5.8l17.4 -10.8l14.1 -10.8l19.0 -6.2l17.6 -11.3l26.7 -4.1l19.9 -5.0l10.6 5.7l6.7 1.6l-4.5 9.3l-16.1 10.9l-3.9 12.1M272.7 474.8l11.5 -11.7l17.9 -18.6l17.9 -10.1l20.3 -7.7l19.5 -7.3l17.1 -3.9l9.3 2.2l7.5 1.7l-1.1 13.9l-2.3 6.7l-5.6 14.3l-5.8 5.4l-5.4 20.0l-10.0 14.3l-18.2 12.1l-25.2 12.1l-21.0 8.6l-11.5 0.6l-8.3 -5.6l-6.9 -8.3l-3.4 -2.0l-0.9 -9.1l-3.9 -7.1l3.3 -13.5l6.3 -11.0M386.5 427.2l2.0 6.2l0.3 9.1l-2.8 11.2l-7.1 7.7l-10.1 8.2l-8.9 10.9l-15.0 6.4l-13.8 3.3l-15.1 9.0l-17.6 8.5l-10.4 -1.4l-14.6 -2.5l-1.9 -8.5l2.3 -11.9l7.0 -7.9l7.5 -11.1l8.0 -8.2l5.0 -8.0l9.8 -9.0l18.0 -9.4l12.2 -3.9l19.6 -5.4l13.7 5.0l8.6 0.9l3.8 11.0M397.9 440.4l6.3 8.2l-6.3 9.2l-6.1 9.7l-15.8 4.7l-19.9 12.7l-20.6 2.9l-20.1 -4.0l-9.5 5.7l-14.1 -2.5l-6.8 -9.7l-7.1 -1.6l1.8 -10.7l3.2 -4.7l10.9 -8.2l13.8 -8.1l15.9 -11.7l13.7 -4.6l22.3 -8.0l19.4 0.8l17.5 1.8l1.8 5.6l4.7 7.5l-2.5 6.0l-1.4 5.7l2.7 7.6M343.9 431.4l16.9 -9.7l13.1 1.1l9.8 4.6l2.2 0.9l4.6 4.9l-9.4 12.0l-10.3 8.0l-14.5 13.1l-10.4 10.6l-20.1 4.4l-11.1 6.5l-18.2 11.3l-16.3 3.9l-14.6 1.1l-7.9 -5.0l-1.3 -6.7l11.9 -12.2l14.9 -10.2l9.7 -8.9l17.9 -9.9l10.8 -13.9l19.3 -4.7l12.9 -7.7l18.6 -3.9l10.8 -0.1M409.5 423.0l5.0 7.0l-1.0 9.0l-7.5 4.3l-13.9 13.0l-16.3 10.6l-19.3 9.0l-23.2 8.2l-12.5 4.9l-16.6 6.6l-19.9 4.2l-14.8 2.9l-9.1 -3.0l3.3 -12.7l9.5 -8.6l16.9 -12.6l19.8 -8.3l15.0 -9.6l18.5 -8.4l19.0 -4.2l14.4 -8.4l17.5 -6.6l20.1 0.5l1.1 6.8l-1.9 6.1l-3.7 9.5M391.4 464.5l-7.2 15.5l-15.6 1.5l-20.6 9.3l-8.9 5.3l-20.8 1.8l-13.6 -7.2l-6.2 1.4l-4.9 -4.9l-4.4 -2.7l-4.2 -12.8l3.3 -6.1l9.3 -7.5l3.3 -7.9l14.5 -14.6l17.7 -9.2l11.9 -7.4l21.8 0.4l14.0 -2.9l10.0 7.8l1.2 6.8l4.2 2.0l0.3 8.5l3.9 7.7l-4.0 10.0l-4.0 12.4M351.2 424.7l14.4 -2.1l15.5 2.5l2.7 3.0l6.7 3.9l3.9 -2.7l4.9 8.7l1.6 5.8l-3.6 10.5l-4.0 5.5l-7.6 12.6l-13.6 6.6l-13.1 7.5l-13.9 7.4l-10.2 10.4l-13.1 2.3l-16.6 -0.1l-4.2 -0.8l-7.4 -6.3l-3.0 -5.2l2.7 -10.6l4.5 -6.2l2.3 -5.9l-1.0 -5.8l10.7 -14.1l7.1 -5.3M295.3 490.0l-8.8 -2.4l-2.0 -10.9l6.9 -5.8l7.3 -8.0l12.0 -4.0l9.0 -9.6l11.7 -7.9l18.5 -10.5l17.0 -8.8l21.0 -1.5l12.5 -2.8l1.9 4.3l0.4 11.2l-2.4 8.1l-4.5 5.0l-5.7 8.4l0.9 6.5l-12.5 11.3l-12.7 6.0l-22.1 11.5l-16.3 1.2l-14.1 5.3l-15.2 -6.4l-4.8 0.5l-6.2 -5.5M387.0 433.8l0.3 7.1l-8.5 8.8l-8.6 5.7l-15.4 14.7l-12.4 8.3l-13.5 6.2l-17.5 5.3l-6.2 2.7l-9.3 -6.3l-1.6 -3.0l2.0 -6.4l-6.2 -4.6l1.0 -6.9l4.1 -4.5l12.6 -12.4l16.1 -12.7l12.5 -9.8l17.3 -3.2l8.5 1.4l11.4 -0.8l5.3 3.1l4.7 0.9l7.9 2.4l-2.2 9.1l-8.0 1.4M346.9 502.7l-9.8 2.5l-18.1 -1.5l-4.5 -5.8l-8.1 1.2l-5.8 -13.2l-1.9 -5.9l-7.0 -6.5l3.7 -5.1l4.8 -13.9l7.7 -12.7l10.6 -9.9l13.2 -3.9l13.8 -8.3l10.6 -2.5l13.9 -3.9l15.1 2.0l4.2 8.7l2.4 7.1l-5.6 7.0l-0.0 6.5l-3.9 10.6l2.5 10.0l-4.5 6.7l-10.1 13.4l-11.9 12.3M308.7 439.0l16.8 -13.0l24.6 -5.0l15.3 -0.5l13.6 5.4l3.9 2.9l5.5 2.1l4.4 5.7l0.9 4.2l-6.4 9.5l-13.9 10.8l-20.0 9.3l-19.7 8.1l-21.0 7.3l-15.4 2.1l-14.6 3.2l-13.8 -2.0l-6.0 -6.0l2.8 -11.6l4.6 -6.0l6.4 -6.2l11.5 -10.0l10.1 -10.8l19.5 -8.1l25.4 -7.5l19.3 -4.2M337.2 422.8l16.7 -7.7l25.3 -6.1l13.7 -1.0l12.2 0.5l5.9 7.9l6.0 10.3l-2.0 13.7l-8.9 8.1l-16.8 13.5l-9.2 13.1l-22.3 9.3l-13.9 8.7l-15.6 8.0l-22.0 5.1l-19.1 7.2l-20.7 2.9l-13.9 -0.9l-7.0 -7.8l6.3 -16.3l12.3 -12.0l8.9 -14.9l14.4 -6.9l14.4 -11.3l12.1 -10.8l17.6 -14.5M381.7 402.5l15.5 4.3l-0.4 1.2l6.1 10.9l-2.1 6.1l2.0 9.0l-2.7 9.7l-6.8 9.4l-7.5 12.6l-10.9 16.3l-18.1 7.6l-23.5 11.1l-18.5 3.1l-12.0 0.9l-13.6 -0.2l-7.3 -4.5l-8.0 -4.0l-8.5 -3.3l-5.2 -9.3l2.3 -4.6l2.4 -13.5l6.6 -11.1l19.3 -14.0l11.7 -9.9l18.0 -7.8l18.5 -7.8M378.8 414.6l12.1 0.1l7.7 2.5l2.4 6.1l5.0 5.3l8.9 7.1l-5.4 15.0l-11.4 16.3l-23.7 11.4l-25.8 15.8l-17.4 5.7l-16.8 3.5l-12.7 -0.8l-10.6 6.9l-14.0 -1.1l-1.6 -12.3l-2.9 -8.0l13.3 -15.3l12.9 -16.7l19.5 -14.0l23.4 -12.7l24.0 -9.7l14.2 -3.7l12.6 1.7l6.5 -0.8l2.5 1.6M279.3 489.1l11.7 -14.0l5.4 -9.9l11.1 -10.7l8.5 -12.3l18.3 -14.6l16.2 -7.4l20.0 -10.4l15.7 -0.3l14.1 -5.4l6.1 4.6l2.7 10.8l-3.4 8.7l-3.0 7.9l-0.8 12.3l-1.0 9.2l-5.2 7.3l-9.0 10.0l-16.4 16.4l-16.8 10.4l-18.9 5.8l-16.3 9.3l-12.5 -0.8l-10.4 0.3l-10.3 -6.2l-4.2 -4.9M281.1 494.5l-5.4 -4.7l1.3 -11.4l6.0 -16.7l12.4 -9.4l13.0 -11.1l13.2 -10.0l9.5 -11.5l17.5 -1.3l11.4 -7.5l17.2 5.0l7.4 0.5l6.3 4.1l1.2 11.2l0.3 7.6l-17.3 15.0l-10.1 8.6l-16.0 9.3l-14.1 3.7l-12.7 9.2l-14.0 6.6l-16.1 4.1l-11.9 -1.6l-4.4 -7.8l4.1 -13.5l6.0 -9.1M317.5 505.4l-11.6 2.6l-12.5 -4.9l-8.4 -6.1l1.0 -7.3l-2.2 -9.8l2.4 -7.9l3.6 -7.5l9.2 -8.2l8.6 -9.4l11.1 -10.6l8.6 -8.3l20.2 -11.9l19.2 -1.6l8.6 4.4l8.0 6.8l1.9 8.0l-3.0 10.0l2.5 9.0l-4.9 5.5l-0.1 11.2l-3.1 12.2l-12.6 7.7l-14.0 8.7l-16.7 8.2l-12.1 0.6M296.5 469.8l11.0 -15.2l15.5 -5.8l16.1 -7.0l13.6 0.2l9.8 -5.1l9.5 5.0l9.8 -4.0l8.9 -1.0l-1.9 8.9l5.5 2.1l-4.3 14.7l-7.4 4.4l-13.6 10.3l-6.7 7.7l-18.6 14.2l-16.0 1.5l-11.6 0.5l-11.9 7.5l-8.4 -3.2l-0.7 -7.9l-4.0 -2.4l-2.7 -1.6l-5.9 -12.0l4.5 -0.4l11.0 -15.3M280.9 458.7l4.6 -10.1l4.3 -7.4l12.9 -15.4l24.1 0.3l21.5 0.6l16.6 2.7l8.0 3.8l11.3 6.1l4.7 3.0l14.9 4.1l2.5 5.6l7.0 10.0l-6.7 7.4l-10.0 8.7l-10.3 10.0l-22.4 2.7l-13.5 2.4l-21.2 -1.4l-17.1 1.2l-13.3 -0.2l-6.1 -6.5l-8.3 -7.0l-3.3 -7.1l-3.4 -6.0l5.2 -7.4M406.0 406.5l-5.5 14.6l-6.8 8.1l-7.1 6.9l-10.1 2.3l-10.3 14.6l-17.8 10.3l-22.6 13.8l-18.9 4.5l-17.6 11.6l-14.5 -4.1l-5.2 -1.3l-3.7 -2.6l-0.3 -5.6l-0.6 -5.5l7.0 -10.5l9.5 -8.0l14.1 -11.6l12.7 -13.0l23.5 -5.2l18.2 -12.1l23.0 -9.1l13.4 -2.4l11.5 -2.3l10.1 1.7l-4.5 7.0M294.0 479.9l0.6 -5.9l3.7 -4.6l4.7 -11.0l7.7 -10.7l16.4 -5.6l18.8 -7.0l14.3 -1.3l16.5 3.7l4.3 3.3l8.8 4.2l2.6 8.2l-2.1 8.2l-4.6 8.6l-9.3 5.8l-5.4 12.1l-18.5 6.9l-12.1 4.4l-17.7 4.9l-20.7 -3.6l-5.7 1.4l-13.2 -8.6l7.5 -7.2l2.6 -11.0l4.7 -3.0l4.4 -11.2M328.7 505.4l-14.8 6.8l-13.3 3.4l-10.3 -3.0l-3.3 -0.2l-3.1 -9.0l-0.9 -2.7l-2.9 -9.7l5.2 -3.8l2.1 -7.2l7.6 -6.3l6.4 -16.3l18.5 -5.2l15.5 -8.4l13.4 -8.8l11.1 0.2l18.9 -4.7l5.8 -0.3l7.8 2.1l3.6 6.0l-7.4 8.2l-4.9 9.6l-6.4 6.3l-3.5 3.0l-8.6 8.4l-10.8 15.5M290.4 449.0l10.9 -15.9l20.8 -7.9l11.7 -11.2l11.1 -3.9l20.7 -2.9l9.9 3.6l4.3 -1.9l7.7 6.5l10.5 3.2l0.8 6.0l2.2 10.7l-5.1 7.7l-5.3 12.2l-7.4 12.2l-8.8 11.7l-18.0 14.3l-14.3 8.1l-16.1 8.7l-13.5 -1.8l-9.8 8.0l-12.3 -7.9l-0.4 -9.4l-1.2 -6.4l-0.1 -7.2l-0.6 -8.4M398.8 415.3l0.7 3.3l-3.3 10.3l-12.7 12.6l-7.9 9.0l-15.0 12.8l-19.3 9.1l-16.6 9.4l-19.6 7.2l-18.1 9.6l-17.4 3.4l-13.3 2.9l-4.2 -6.7l7.8 -15.3l5.9 -6.4l14.7 -10.3l9.9 -12.5l12.5 -13.0l18.3 -5.7l12.4 -13.5l25.9 -13.1l17.4 -1.0l17.9 -10.5l3.2 8.9l3.2 1.0l-1.5 13.5M366.3 466.8l-8.1 6.3l-13.1 12.7l-14.2 3.6l-18.2 9.3l-10.2 1.3l-6.2 -2.4l-13.2 -8.3l1.5 1.1l0.7 -14.5l0.8 0.9l6.0 -11.5l8.7 -7.8l6.3 -9.1l12.0 -3.9l18.0 -11.0l9.1 -7.5l17.0 -7.3l13.9 -0.0l14.0 -0.8l3.2 5.1l-0.8 5.1l-3.4 8.8l-4.6 9.3l-6.1 7.1l-4.8 7.4M392.1 402.3l12.4 -1.4l9.0 8.4l-2.0 10.1l-5.6 12.5l-6.5 11.2l-14.4 9.0l-9.3 12.5l-15.4 15.6l-14.4 18.7l-20.3 9.0l-23.6 8.7l-22.5 -0.5l-8.3 -2.3l-0.5 -10.1l-1.8 -9.9l6.0 -7.7l1.6 -18.3l4.5 -9.9l11.7 -11.3l14.2 -13.7l23.6 -11.7l16.4 -6.0l20.5 -8.0l20.9 -4.4l13.2 2.7M329.5 493.0l-13.0 0.0l-8.0 -0.4l-10.3 -4.3l-4.8 -2.4l1.5 -3.5l-8.9 -2.0l-2.2 -1.5l1.8 -7.3l12.3 -9.6l11.2 -10.4l11.6 -10.9l19.1 -4.5l13.0 -8.2l16.8 -5.8l10.8 0.2l8.4 0.3l4.3 5.5l5.7 6.5l-1.4 0.5l-2.4 8.6l-3.9 3.3l-7.5 10.1l-9.6 7.5l-14.2 10.5l-16.7 12.9M337.9 503.3l-23.3 7.1l-12.9 -1.9l-3.9 -3.8l-3.7 -4.7l-11.6 -6.7l-2.4 -8.2l-1.6 -7.7l8.5 -10.7l9.7 -16.4l17.7 -11.2l16.7 -7.6l22.9 -9.2l14.6 -7.2l17.0 4.6l9.6 0.4l2.8 13.7l-3.5 10.6l-3.8 2.6l3.0 12.4l-9.3 12.4l-10.5 11.2l-16.8 16.4l-19.7 11.3l-19.4 0.2l-21.2 -2.0M370.2 419.5l12.5 -4.6l11.1 3.6l0.1 5.6l0.7 6.0l-12.3 11.7l-13.1 10.9l-11.4 4.2l-16.6 11.9l-13.3 6.6l-20.5 14.1l-19.3 3.8l-22.1 4.7l-8.2 -0.7l-2.4 -7.9l3.9 -7.3l8.1 -10.3l4.1 -5.7l10.0 -10.3l9.2 -11.2l20.7 -9.1l12.3 -7.0l25.0 -8.9l17.5 -2.7l14.1 -2.8l9.2 1.3M378.4 475.8l-11.5 6.6l-13.5 14.0l-16.7 -0.1l-21.6 11.5l-17.6 4.3l-9.3 -0.5l-9.2 -5.8l0.8 -1.1l-1.2 -5.6l2.1 -9.2l10.9 -10.7l8.2 -10.0l15.5 -4.8l12.9 -9.3l19.1 -5.6l11.8 -3.6l22.2 -10.1l11.4 -6.1l21.0 -1.0l5.5 9.9l2.6 3.9l-4.0 10.4l-20.1 5.2l-12.2 13.1l-5.6 5.1M327.2 484.1l-18.2 10.5l-12.9 3.1l-18.5 3.0l-10.6 -1.0l-7.0 -0.0l-3.0 -4.0l1.5 -7.7l7.3 -5.0l7.2 -11.8l8.7 -5.3l9.9 -8.9l4.5 -12.2l15.1 -8.6l20.4 -8.8l14.9 -7.9l15.4 -6.2l12.2 -3.8l4.0 5.1l3.6 5.9l1.9 7.1l-3.0 5.0l-4.1 6.0l-4.2 8.0l-4.4 8.2l-10.8 3.7M252.0 503.8l3.1 -3.1l6.8 -14.8l11.8 -8.6l7.8 -15.0l15.8 -8.5l12.3 -15.4l18.0 -13.8l20.1 -8.0l21.8 -6.9l20.1 -3.3l7.6 4.9l1.4 4.7l-3.3 12.5l-5.2 7.0l-5.4 10.0l-2.6 9.6l-14.9 13.3l-14.9 14.5l-18.8 5.9l-12.4 12.9l-22.8 6.2l-15.5 8.8l-16.1 1.6l-13.3 -6.1l-2.8 -5.0M292.4 482.3l-6.8 -2.3l-1.7 -2.7l0.9 -7.6l2.7 -7.3l5.7 -5.9l7.1 -12.8l15.9 -1.6l19.7 -8.9l11.5 -4.2l16.2 -1.0l4.7 5.5l9.0 -1.0l6.0 -3.5l13.9 0.6l7.1 5.2l1.4 9.1l-5.7 6.2l-3.1 4.2l-13.6 10.4l-17.0 7.1l-15.5 5.6l-10.1 4.5l-16.4 -0.8l-9.4 7.5l-10.5 -0.8M267.8 484.6l6.0 -8.1l3.3 -11.0l10.6 -7.6l15.7 -12.1l15.2 -9.8l17.6 -6.0l12.5 -2.2l15.9 0.9l14.4 -6.3l13.2 -1.5l11.2 4.4l-0.6 8.7l-12.4 10.9l-14.2 11.0l-12.2 7.0l-14.9 10.3l-12.3 8.6l-18.7 8.4l-17.6 2.4l-17.5 5.1l-10.7 -4.9l-2.6 -7.6l2.3 -6.4l2.0 -6.9l6.5 -10.4M375.6 485.3l-13.0 10.7l-19.3 11.1l-20.2 4.1l-13.3 5.9l-12.0 -2.0l-8.5 -8.2l1.4 -7.9l-5.9 -11.7l0.8 -8.8l5.4 -13.6l8.8 -14.2l19.6 -14.2l16.2 -11.3l17.6 -5.0l17.2 1.8l7.1 5.0l11.3 2.2l8.0 2.6l6.9 7.9l-2.0 11.4l-4.1 15.5l-13.4 12.5l-16.5 13.6l-12.2 11.4l-22.8 6.7M326.7 493.1l-14.2 1.8l-14.1 8.3l-10.5 -1.9l-9.9 -2.2l-6.3 -2.1l7.9 -7.6l1.5 -13.8l15.4 -9.2l14.7 -6.3l14.5 -13.4l16.6 -12.3l18.5 -3.9l12.5 -1.9l8.2 8.3l7.1 -6.1l1.0 6.0l2.2 5.2l1.4 4.1l-7.5 6.6l-13.6 18.5l-20.0 13.2l-20.1 6.5l-14.8 6.3l-13.2 3.6l-10.4 1.0M381.9 461.7l-12.5 13.9l-21.7 12.0l-17.1 9.9l-22.0 5.3l-18.7 4.6l-18.3 6.9l-22.3 5.0l-14.0 -3.3l-0.3 -10.3l14.2 -13.0l14.5 -15.6l20.9 -12.5l14.8 -10.7l18.5 -10.6l19.3 -6.8l21.5 -9.7l18.5 -9.3l19.6 7.8l1.6 2.2l3.6 11.3l-9.6 16.3l-9.6 9.8l-15.0 12.9l-22.0 13.2l-18.1 7.0M287.3 509.5l-13.2 -1.4l-6.3 -2.6l-0.1 -11.6l0.1 -0.4l2.9 -9.3l4.7 -5.1l1.7 -9.3l14.9 -13.5l13.7 -10.0l22.0 -14.0l21.3 -5.7l14.7 -2.3l12.9 0.5l12.7 -1.3l4.3 5.3l-0.3 6.8l-6.8 6.6l-6.8 10.3l-9.1 8.1l-14.9 9.9l-19.6 13.3l-14.2 14.0l-21.5 10.5l-18.5 4.1l-10.3 -7.1M404.9 474.9l-19.9 5.8l-16.7 9.3l-19.5 2.6l-21.5 8.7l-18.1 1.4l-26.0 2.2l-16.3 5.3l-9.1 -8.3l4.7 -6.4l8.9 -10.2l16.6 -12.9l12.3 -2.7l15.5 -6.5l12.2 -6.5l19.3 -7.1l22.0 -8.8l23.8 -4.9l14.9 1.3l15.4 -0.5l5.2 9.3l3.5 5.9l-6.9 7.6l-8.3 5.6l-17.5 11.9l-18.2 5.1M319.7 452.4l12.5 -12.6l14.2 -9.0l18.5 -7.9l13.0 -2.9l8.8 1.2l0.6 3.9l3.0 0.5l0.5 7.5l2.8 -1.8l1.9 10.6l-4.2 7.5l-7.9 13.3l-16.5 4.0l-10.9 17.0l-19.9 4.1l-16.4 3.3l-4.6 3.0l-13.9 3.9l-5.5 -2.1l-1.4 -0.7l-4.3 -10.0l7.6 -7.4l3.8 -7.5l8.1 -11.4l9.3 -7.3M405.0 423.2l3.2 5.3l-8.3 10.0l-0.0 5.5l-5.7 13.5l-5.8 3.7l-14.9 9.4l-22.3 11.2l-15.1 7.6l-20.9 2.3l-19.6 2.1l-11.0 -0.3l-3.7 -3.5l0.4 -10.3l6.5 -5.1l10.3 -11.1l10.0 -9.0l11.5 -7.2l12.6 -5.7l19.5 -14.8l23.1 -4.7l14.1 -2.6l16.6 -0.4l3.3 6.0l-3.2 9.6l0.6 5.1M372.9 458.9l-8.0 8.1l-7.7 9.8l-8.9 15.2l-23.3 5.9l-16.0 4.8l-11.3 6.6l-14.7 -1.8l-1.6 -5.2l-1.9 -4.1l4.3 -7.7l7.4 -9.7l6.8 -7.8l14.7 -12.4l13.5 -6.6l13.7 -9.2l15.0 -11.7l14.4 -5.9l13.2 -6.5l16.8 0.7l2.4 4.0l-0.3 11.9l-13.0 7.2l-7.8 13.4l-12.2 4.9l-10.6 8.0M399.6 453.1l-9.8 10.2l-17.1 10.3l-11.6 7.5l-15.9 3.6l-11.8 8.6l-21.7 8.7l-20.2 2.8l-18.8 6.0l-16.1 -4.9l-6.5 -11.2l-1.0 -8.1l13.2 -8.8l8.8 -8.3l8.2 -10.0l10.1 -10.6l11.4 -6.1l15.7 -6.9l22.2 -11.0l17.5 -7.0l15.3 3.8l14.6 0.7l13.9 3.5l1.8 9.0l3.2 9.0l-4.3 8.6M277.9 465.6l16.3 -16.3l10.0 -10.4l15.4 -7.4l14.4 -7.4l14.3 -7.6l13.7 -1.3l13.7 0.8l5.6 1.0l2.0 7.2l-1.0 7.8l-3.2 14.0l-3.0 6.0l-6.0 10.4l-7.3 8.1l-9.8 12.4l-14.7 15.1l-15.8 5.4l-15.2 7.8l-15.6 -0.9l-4.0 -6.5l-3.4 -4.9l-7.2 -2.1l-2.2 -3.7l-1.0 -11.8l4.9 -6.3M312.7 436.4l17.9 -8.8l17.5 -5.3l16.9 3.1l13.3 2.4l5.1 1.1l-1.9 6.3l4.0 5.9l2.1 5.2l-8.6 4.0l1.9 9.2l-8.0 6.4l-20.9 7.4l-13.0 2.6l-19.6 8.7l-15.0 2.7l-15.8 3.6l-15.1 -4.8l-7.0 1.1l4.8 -11.2l-3.4 -2.4l7.3 -8.2l9.8 -6.8l6.1 -3.3l8.3 -11.3l10.8 -3.9M370.4 471.9l-13.9 7.9l-7.5 13.8l-19.6 15.6l-18.8 8.3l-16.2 9.1l-13.2 0.1l-12.4 -6.8l2.8 -7.3l4.9 -8.9l4.6 -12.0l-2.6 -12.0l6.1 -12.5l8.6 -10.9l7.7 -12.1l11.7 -17.0l13.1 -8.3l26.3 -10.5l15.5 -7.0l12.6 1.7l7.1 1.8l8.5 5.9l5.6 1.5l-4.8 13.0l-2.6 9.4l-4.9 8.4M262.9 482.7l-3.2 -4.6l-2.0 -6.5l12.7 -10.7l19.3 -12.8l15.0 -7.1l17.5 -8.4l20.7 -7.8l10.6 -4.9l17.5 -6.3l11.6 3.0l9.0 3.1l1.5 0.9l8.0 0.7l-5.0 10.5l-0.7 8.2l-1.6 7.7l-14.6 9.5l-12.5 7.7l-18.6 12.3l-19.1 8.8l-18.8 3.1l-10.9 2.1l-8.5 -4.7l-8.6 2.2l-4.4 -1.0M364.3 423.2l11.9 2.8l0.7 7.0l3.8 -2.4l9.7 5.3l-0.4 8.5l-3.8 9.3l-17.5 9.8l-14.4 13.1l-17.5 7.8l-20.1 6.0l-15.1 3.4l-15.9 -2.1l-7.0 1.4l-8.8 -7.0l-2.8 -8.3l4.5 -3.9l3.8 -7.2l3.2 -10.3l6.1 -11.2l13.3 -9.5l19.6 -7.8l16.6 -9.8l21.9 4.0l11.0 2.2l9.2 0.2M368.6 423.9l21.6 -3.6l7.9 7.9l8.5 -3.3l5.0 5.8l2.2 7.4l2.2 6.3l-7.9 7.9l-6.4 15.4l-18.5 13.2l-22.3 12.1l-18.8 -0.0l-20.3 1.6l-12.0 3.1l-8.8 -5.6l-11.8 1.8l-11.1 -2.5l-6.6 -3.7l-6.6 -7.3l6.7 -8.5l8.9 -13.4l24.2 -6.4l18.3 -12.1l14.7 -8.3l21.3 -7.3l17.0 -1.6M339.6 422.6l6.4 -2.1l12.5 -4.0l6.8 3.3l15.5 0.4l6.7 2.7l9.0 4.9l-2.4 15.5l-10.8 11.9l-13.2 11.5l-13.1 9.6l-10.2 7.5l-14.1 3.8l-12.4 5.8l-11.8 1.8l-9.7 3.3l-17.5 -3.8l-3.0 -7.3l0.2 -8.3l-1.2 -2.4l4.1 -11.9l7.2 -17.2l12.5 -9.8l14.2 -6.3l14.6 -6.7l16.3 -2.7M390.7 427.1l-6.1 8.3l-9.8 12.1l-10.3 8.6l-10.4 14.9l-17.0 16.9l-22.8 10.3l-15.0 7.0l-19.7 5.9l-4.9 -2.1l-13.4 -6.2l1.3 -0.3l0.9 -11.1l3.9 -11.6l9.5 -11.1l9.7 -8.7l13.7 -14.0l17.0 -12.7l16.6 -11.1l16.0 -13.2l22.3 -11.6l16.8 -4.4l14.4 -4.1l4.8 3.2l-1.6 13.4l-6.9 14.9M378.6 419.4l13.6 -0.1l1.7 4.8l-0.0 4.6l-8.0 12.7l2.7 10.8l-2.3 5.7l-9.8 12.0l-12.9 6.3l-14.2 11.1l-19.3 11.4l-19.8 5.0l-13.0 4.3l-15.9 -1.1l-6.2 -0.5l-1.5 -8.3l-5.8 -5.0l6.1 -7.4l6.0 -9.5l11.0 -11.4l10.2 -10.6l14.3 -10.3l16.4 -15.0l17.8 -9.1l16.7 -2.1l17.4 -0.5M366.2 486.7l-11.6 8.0l-15.1 6.3l-9.8 -0.9l-14.4 4.7l-7.2 1.8l-11.2 -3.3l-3.2 -6.9l-2.5 -5.6l1.7 -16.6l12.5 -6.1l14.4 -8.8l10.6 -6.0l7.9 -7.9l10.4 -10.6l15.7 -6.1l13.6 -4.6l10.6 -7.6l7.6 2.8l7.9 5.5l1.8 7.4l-7.1 8.9l0.5 5.5l-10.5 14.8l-4.3 8.5l-11.2 12.4M378.1 446.0l-0.1 8.4l-8.0 9.1l-15.8 15.4l-18.0 9.0l-13.5 8.7l-14.3 2.6l-10.8 -3.7l-10.3 1.6l-6.1 0.3l-2.9 -5.6l1.2 -7.6l3.5 -10.5l9.1 -9.0l13.3 -9.8l15.4 -11.5l15.2 -10.2l18.1 -9.8l14.5 -1.3l8.0 2.2l1.2 5.1l0.6 6.0l-0.8 6.8l-5.7 8.0l3.5 9.1l-9.1 11.8M373.6 422.3l9.4 -0.1l13.6 1.0l3.0 5.0l8.0 6.6l-4.3 7.1l-6.6 9.8l-10.3 12.1l-13.5 8.6l-13.0 2.1l-5.8 8.1l-10.5 5.2l-13.1 6.2l-14.2 2.0l-11.0 6.3l-11.1 -2.3l-6.8 -3.9l-3.1 -9.5l-0.6 -8.6l8.1 -11.7l6.0 -8.2l10.7 -6.5l3.2 -8.5l12.4 -8.4l12.7 -5.3l6.2 -3.4M292.8 486.3l-11.7 -1.5l-12.6 5.2l-4.0 -0.7l-4.0 -5.0l-9.7 -3.5l7.5 -4.0l4.7 -10.4l10.1 -8.7l12.7 -9.1l16.1 -5.0l17.3 -1.2l11.2 -6.5l9.7 -5.5l14.9 0.5l12.1 1.5l11.6 -2.3l6.3 -0.9l6.0 5.6l-0.6 2.6l-11.1 13.9l-10.6 4.3l-18.7 9.8l-8.0 3.6l-15.2 5.7l-14.7 10.4M363.7 412.4l16.8 -6.5l17.2 -5.9l11.3 1.0l4.8 11.9l-2.1 12.2l-11.7 18.9l-13.0 11.1l-12.5 14.1l-10.4 12.4l-11.7 14.4l-13.5 15.5l-20.6 6.5l-13.4 1.4l-12.2 -5.1l-9.1 -1.3l0.7 -16.1l1.4 -12.8l8.6 -12.3l12.0 -19.2l14.6 -14.5l14.9 -8.2l17.8 -6.2l15.7 -11.1l18.3 -10.5l13.3 -1.2M322.5 508.6l-17.2 1.4l-17.6 4.1l-8.4 -0.4l-10.0 -8.9l-3.8 -5.5l-3.6 -8.0l3.1 -14.9l2.0 -12.3l19.5 -12.5l20.5 -11.2l21.3 -10.4l18.2 -3.4l12.7 -9.7l12.4 5.0l12.6 2.3l16.8 -7.5l6.8 4.9l6.2 11.3l-3.0 11.4l-14.6 17.7l-17.7 12.9l-15.9 12.9l-22.3 10.8l-16.8 6.2l-15.1 3.2M289.9 444.8l19.6 -11.6l19.6 -13.0l24.5 -2.3l14.0 -0.5l16.3 -0.3l9.5 5.0l12.1 2.2l7.4 8.1l3.8 1.7l8.0 4.2l0.9 9.9l-6.2 13.4l-17.2 14.5l-24.0 7.9l-23.5 7.0l-17.0 2.2l-17.3 0.8l-12.1 1.4l-16.5 -1.2l-17.0 4.6l-13.4 -2.9l-3.5 -7.8l-0.5 -10.8l2.6 -8.1l9.7 -11.7M323.1 496.7l-10.4 6.0l-19.5 -4.8l-7.4 -0.5l-11.7 -8.6l-1.7 -8.1l3.6 -9.8l7.1 -8.9l9.4 -5.8l11.7 -6.9l11.0 -10.5l12.2 -10.3l15.2 -5.0l16.0 -6.1l20.0 -5.3l8.4 11.4l10.5 2.0l0.4 10.8l-5.6 10.7l0.2 5.7l-5.5 8.9l-1.0 10.9l-14.1 9.4l-14.2 9.6l-17.6 3.9l-15.9 3.2M271.7 502.3l-9.5 -5.1l12.0 -6.3l11.2 -17.1l14.1 -8.9l14.2 -8.8l15.1 -10.9l19.9 -8.4l18.4 -7.5l21.1 -12.3l22.3 -3.1l9.7 2.7l2.4 4.0l-2.1 8.1l-2.1 9.4l-14.5 10.5l-12.0 11.3l-18.4 10.8l-15.7 5.9l-24.4 10.8l-18.4 4.4l-24.9 8.7l-17.4 4.2l-7.6 -3.9l1.3 -9.7l17.6 -12.5M364.9 416.6l9.1 1.5l11.1 1.0l6.0 10.0l0.8 11.1l-5.0 12.5l-15.6 14.4l-15.2 10.9l-14.3 5.1l-14.4 7.8l-15.8 3.8l-7.8 0.0l-14.6 -0.1l-3.6 -7.3l-3.9 -6.2l0.9 -13.4l4.8 -10.7l6.2 -12.1l13.9 -17.0l21.0 -6.1l12.6 -5.3l10.8 -0.2l11.6 0.4l11.0 -2.3l9.8 6.5l6.6 9.0M356.0 471.7l-14.5 9.2l-14.4 4.0l-13.9 -0.4l-12.2 4.9l-15.4 1.0l-19.1 3.4l-7.7 -2.9l-0.1 -1.2l6.4 -10.9l8.2 -10.8l13.3 -7.2l11.3 -6.6l15.8 -8.1l12.0 -0.5l11.3 -10.0l13.8 0.4l13.0 0.1l11.2 0.8l5.1 -1.7l5.1 9.4l-4.1 5.3l-6.1 9.1l-16.2 7.3l-14.4 11.1l-10.9 8.4M328.9 435.1l17.3 -13.6l23.8 -3.7l19.5 1.1l21.7 -2.8l13.1 7.9l-1.3 13.3l-8.4 10.4l-12.4 6.1l-13.9 12.2l-11.0 6.8l-12.6 12.7l-22.5 12.6l-17.0 3.1l-22.7 4.4l-18.4 -3.7l-6.5 -3.6l-5.1 -11.9l1.2 -9.6l3.3 -9.0l11.1 -10.1l13.7 -10.7l18.7 -10.9l16.9 -6.8l19.3 -5.5l19.8 -4.6M296.5 494.1l-12.5 7.2l-5.3 -2.2l-4.9 -2.7l-1.3 -8.3l7.8 -10.3l4.0 -2.7l3.6 -9.1l11.9 -8.6l10.4 -9.0l19.1 -15.6l20.9 -9.5l16.7 -5.7l8.2 -1.2l8.5 5.9l5.3 4.4l5.2 3.3l-5.0 5.9l3.5 7.7l-10.4 5.5l-9.8 10.2l-19.9 11.9l-13.3 8.1l-21.3 11.0l-16.2 5.3l-16.3 4.9M398.0 439.5l-9.0 10.7l-10.0 6.3l-7.4 10.0l-9.1 5.7l-9.3 7.6l-13.7 9.6l-10.1 9.3l-20.3 7.7l-15.0 1.0l-7.1 1.7l-5.7 -9.4l4.9 -5.1l4.0 -9.8l-1.7 -6.9l3.5 -9.0l7.0 -7.8l5.8 -9.0l13.0 -8.7l9.8 -6.9l20.0 -4.4l4.6 -9.7l19.0 -3.1l12.8 1.0l12.5 0.7l0.3 8.2M282.1 450.4l19.1 -7.2l22.2 -7.2l17.7 -4.1l24.0 -5.9l20.5 -7.6l20.9 -0.4l18.9 7.6l1.9 13.8l-14.4 12.6l-11.5 8.1l-18.0 10.5l-13.9 11.3l-18.0 9.6l-23.6 9.2l-17.5 11.1l-25.0 8.4l-19.9 -6.3l-13.5 -3.8l-5.7 -7.4l-6.7 -9.6l4.4 -7.6l9.3 -17.0l14.8 -7.1l23.2 -12.1l18.5 -6.6M342.5 426.1l18.3 0.5l10.1 2.5l9.7 3.9l3.5 7.1l-8.0 14.5l-2.7 6.6l-12.5 14.1l-16.2 5.9l-12.8 4.9l-11.6 13.2l-17.5 7.4l-20.6 -1.0l-8.7 -3.0l-8.4 -12.2l4.9 -8.8l8.8 -12.9l2.8 -7.3l6.9 -9.3l13.2 -13.2l12.8 -4.7l15.3 -8.4l14.3 -0.9l19.1 0.9l8.4 -0.0l11.5 7.6M306.1 458.0l19.6 -9.3l18.6 -4.4l10.7 -5.3l11.2 1.1l12.6 -0.1l11.6 0.3l19.0 -2.5l3.4 11.6l-0.2 4.0l-4.1 13.1l-16.1 8.2l-12.6 12.1l-16.5 2.0l-15.8 6.0l-14.5 6.6l-16.4 1.0l-11.7 1.9l-8.6 -5.5l-4.7 -1.6l-4.2 -14.1l-1.4 -7.2l10.2 -8.9l12.4 -11.4l16.8 -8.0l15.4 -6.0M334.3 496.7l-7.8 5.9l-16.5 1.4l-18.0 4.1l-6.6 -3.6l-10.2 -5.4l4.9 -11.2l0.3 -10.2l10.0 -12.4l8.7 -9.3l7.5 -7.8l10.7 -8.0l18.8 -4.1l9.5 -8.0l17.4 -0.6l8.9 -2.9l17.9 1.1l2.9 -2.7l14.8 8.9l2.9 7.1l2.2 14.1l-4.6 10.6l-14.8 7.8l-12.9 9.4l-8.7 5.9l-16.3 4.9M394.3 462.3l-12.3 14.3l-8.8 2.5l-13.5 9.4l-13.9 5.2l-11.5 7.3l-20.2 5.2l-15.9 6.4l-13.8 -4.1l-9.7 -6.2l-0.9 -12.7l4.0 -6.3l12.8 -8.3l0.5 -10.8l8.7 -8.5l13.0 -12.3l12.2 -6.5l16.1 -7.6l15.2 -4.7l15.1 1.0l11.4 3.8l13.1 5.4l7.3 5.5l-3.0 12.6l0.2 10.5l-11.3 9.8M328.6 425.6l13.2 -9.3l19.8 -0.4l16.0 -7.7l16.3 8.9l-2.3 7.1l6.6 8.5l-4.9 14.4l-10.4 5.6l-10.0 7.3l-10.3 10.3l-8.8 10.8l-14.1 3.3l-21.0 4.7l-12.1 2.1l-14.9 -4.6l-11.4 -3.2l-3.3 -7.8l-6.6 -4.6l1.3 -11.7l10.2 -8.6l10.8 -7.0l16.9 -7.4l4.9 -10.0l14.9 -2.8l17.3 -8.8M392.1 425.8l8.2 5.5l1.7 4.1l-7.7 10.6l-6.2 9.0l-13.4 14.4l-10.7 9.1l-15.8 7.6l-11.4 10.3l-10.7 -1.4l-12.7 0.2l-6.3 3.9l-9.4 -1.7l-10.7 -4.1l-6.0 -5.2l0.4 -6.7l8.8 -9.9l11.5 -15.2l18.8 -5.3l10.2 -7.4l17.2 -4.7l10.6 -5.8l13.5 -3.4l9.6 -0.7l11.0 1.4l6.7 -1.0M393.3 407.3l11.8 -1.7l12.3 2.1l7.7 10.6l-1.2 7.6l1.5 6.0l-9.6 10.8l-8.6 15.1l-12.5 5.8l-16.5 8.7l-12.6 11.1l-17.2 1.9l-16.7 9.7l-15.7 6.6l-19.6 2.3l-14.0 -1.7l-12.0 -2.0l0.1 -13.6l8.3 -10.1l12.2 -9.8l6.3 -11.2l15.1 -5.4l12.2 -13.1l13.6 -9.8l15.0 -10.1l19.9 -6.3M279.2 502.7l-6.7 -1.7l-1.7 -6.7l-1.8 -11.8l2.7 -8.3l13.6 -9.9l15.5 -14.2l16.1 -11.1l15.6 -3.1l10.1 -7.4l14.8 1.5l7.9 -5.6l13.0 -4.8l13.1 2.2l8.2 2.0l-0.7 9.3l-3.5 10.1l-8.1 7.6l-12.6 11.4l-12.1 14.6l-13.4 11.4l-16.6 5.8l-11.5 7.1l-16.5 2.8l-10.8 1.5l-5.4 0.0M361.5 493.4l-11.8 9.7l-17.6 4.4l-16.7 4.8l-17.1 0.8l-3.8 -6.0l-4.9 -7.7l-0.8 -5.8l0.5 -8.6l3.5 -4.0l1.7 -10.7l0.7 -5.6l7.7 -9.8l9.4 -10.7l15.2 -13.3l17.9 -1.7l12.3 -8.5l13.0 8.2l8.5 -5.1l9.7 6.1l-1.1 9.6l11.2 0.3l-1.3 5.2l-1.6 9.8l-1.7 11.5l-11.3 6.8M327.6 502.7l-9.0 7.5l-19.9 0.5l-7.7 -4.6l-10.5 0.9l-9.1 -4.6l5.3 -8.2l-3.5 -11.1l9.9 -5.5l4.4 -13.8l13.0 -10.6l18.6 -12.0l14.8 -5.4l17.9 -0.2l8.2 -2.3l13.6 -3.4l6.8 4.5l11.1 1.1l7.4 4.3l9.9 0.1l5.6 7.3l-2.8 16.2l-8.3 4.3l-16.2 12.5l-14.2 4.9l-16.2 11.1M401.2 440.2l-8.2 8.8l-8.6 11.5l-9.7 9.0l-7.6 6.9l-11.4 8.6l-16.8 11.1l-12.9 4.0l-18.5 11.5l-13.3 5.5l-13.6 -1.7l-14.1 5.5l-3.1 -3.9l-0.8 -2.3l-0.5 -11.3l5.0 -8.6l9.5 -11.5l8.3 -7.0l13.9 -10.3l15.8 -9.9l11.3 -1.2l16.6 -11.1l17.6 -8.5l16.9 -11.4l16.7 -5.8l10.5 1.0M266.1 508.5l-5.6 -1.5l2.2 -16.1l19.2 -7.8l20.5 -11.9l24.7 -12.7l17.1 -6.4l19.7 -5.5l16.0 -10.3l18.1 -5.9l20.1 0.0l10.5 -0.8l3.2 3.6l1.0 6.4l-6.3 7.0l-16.4 11.5l-18.4 12.1l-21.8 12.2l-23.3 8.0l-16.0 2.3l-14.7 6.7l-16.9 5.4l-14.3 1.9l-16.0 4.1l-6.0 -4.5l-1.3 -4.8M280.7 496.9l-1.0 -7.4l4.2 -9.7l6.6 -10.4l1.7 -11.1l12.6 -5.0l7.4 -9.5l20.6 -13.8l22.0 -3.4l13.1 -10.3l14.9 -1.0l11.4 2.3l-1.3 8.4l2.0 12.1l-6.9 2.2l-2.6 12.2l-6.7 7.1l-7.8 14.2l-12.0 9.9l-17.6 9.2l-14.0 1.8l-14.8 8.0l-14.9 1.6l-9.8 -3.0l-6.5 -6.6l-2.9 -4.3M251.8 509.6l3.2 -9.6l10.5 -6.9l13.3 -10.3l9.2 -13.5l13.1 -11.4l18.7 -8.8l14.9 -10.3l13.9 -5.7l14.5 -4.9l15.5 -10.7l12.6 1.3l12.3 -6.4l6.4 1.8l0.8 8.1l-5.3 13.3l-12.6 6.8l-19.6 16.3l-17.9 7.9l-14.2 11.8l-13.2 7.0l-15.3 11.0l-15.9 6.5l-19.9 9.2l-14.0 -0.3l-7.7 3.8M380.2 418.9l11.9 6.2l10.0 3.0l3.4 10.0l-1.2 -0.2l-0.6 15.2l-5.2 7.4l-3.7 6.9l-10.1 13.4l-16.4 7.9l-19.2 7.0l-19.9 3.7l-13.4 9.5l-19.3 -7.4l-11.1 2.6l-8.0 -2.5l-2.9 -10.0l5.5 -13.0l3.6 -7.3l10.6 -10.3l4.9 -5.5l9.5 -10.0l12.7 -12.6l15.2 -9.1l28.5 -4.2l14.6 -5.2M319.4 503.4l-10.4 13.5l-17.9 -1.8l-7.0 -0.5l-5.4 -2.4l-4.3 -2.0l4.8 -9.4l3.3 -9.4l4.1 -7.8l7.3 -6.5l10.8 -10.7l8.1 -12.3l17.5 -5.6l19.7 -9.5l8.2 0.3l3.9 0.9l7.2 1.3l6.1 6.2l-3.1 0.4l1.0 10.7l-0.7 7.8l-14.7 8.2l-5.7 14.0l-13.6 9.9l-18.9 5.1l-10.0 6.2M335.8 481.2l-18.7 3.6l-19.1 5.2l-16.2 2.4l-21.6 -2.1l-4.9 -7.9l3.8 -9.0l12.1 -9.5l11.6 -8.8l16.1 -6.8l16.5 -7.3l17.9 -7.3l17.1 -3.6l17.5 -3.5l15.3 3.1l13.8 1.3l3.5 7.8l9.2 3.8l-4.2 6.9l-13.4 12.3l-19.0 9.9l-13.9 5.3l-21.0 4.4l-11.3 5.5l-22.2 -0.4l-20.9 2.3M319.7 433.8l22.3 -3.3l16.8 -3.8l21.5 -3.7l23.8 0.6l10.7 4.7l10.0 7.5l-4.7 10.8l-11.7 9.2l-17.0 10.8l-13.9 2.6l-12.7 8.7l-14.6 3.9l-21.6 10.1l-19.4 2.1l-26.0 2.8l-12.2 -5.6l-11.2 -9.0l-8.7 -4.9l0.4 -9.9l5.6 -8.8l11.3 -9.7l17.6 -6.5l16.1 -4.7l17.4 -3.9l19.0 0.7M258.9 500.3l7.4 -10.0l8.0 -13.8l10.2 -6.6l7.3 -12.6l10.3 -6.7l13.9 -5.6l13.1 -9.0l15.9 -8.0l15.8 -13.2l19.5 -2.8l8.4 2.0l11.5 4.8l1.1 5.6l6.8 3.1l-6.8 11.3l-6.2 7.1l-5.9 11.5l-13.2 8.4l-9.0 10.7l-10.1 4.8l-17.3 9.5l-17.6 5.6l-16.1 5.6l-16.4 4.9l-14.9 6.6M387.4 424.1l8.4 10.3l-4.5 11.6l-6.3 9.6l-13.0 13.5l-10.7 10.5l-12.8 8.0l-16.6 12.3l-23.2 15.3l-18.9 8.0l-26.7 -6.0l-6.1 -4.8l-2.9 -6.7l0.3 -12.9l2.0 -5.9l7.8 -13.0l5.6 -13.2l16.5 -11.3l16.4 -8.1l19.7 -10.8l23.5 -3.9l21.4 -4.0l12.1 2.0l11.9 6.8l0.7 8.9l-6.0 12.9M265.7 487.1l-3.8 -7.2l2.3 -7.3l11.1 -13.0l10.5 -4.4l14.8 -4.6l12.7 -5.9l7.0 -2.5l14.7 1.1l15.2 -1.9l11.9 2.1l7.3 1.2l8.6 3.0l4.0 4.7l13.4 6.5l-5.8 5.5l-2.6 9.8l-10.8 10.7l-16.6 6.8l-11.9 0.7l-12.5 -0.9l-13.6 4.8l-11.7 -1.4l-11.3 1.9l-13.0 -2.0l-10.6 2.4M313.9 489.6l-12.9 -0.2l-7.5 -6.4l-6.7 2.9l-9.0 -4.1l-1.6 -10.5l7.9 -6.6l12.8 -9.7l13.3 -10.7l21.4 -5.6l20.6 -11.1l16.2 -5.9l18.0 1.6l16.2 -3.0l-0.9 7.3l5.1 0.6l0.5 6.4l1.0 6.6l0.5 8.3l-11.9 11.5l-14.8 14.0l-20.0 10.0l-23.3 4.3l-16.4 1.2l-6.9 1.0l-16.0 -2.9M288.2 486.3l-8.4 -4.6l7.1 -17.0l16.7 -8.9l14.7 -11.5l19.4 -7.8l14.9 -2.2l12.0 -3.9l11.0 -2.7l14.5 -1.4l10.7 -1.6l3.8 2.1l1.1 5.9l-6.6 15.3l-13.1 6.9l-12.9 13.5l-10.9 7.5l-18.8 9.2l-13.7 9.2l-11.1 -0.8l-12.7 0.4l-6.2 -0.1l-9.9 -3.8l-4.0 -1.8l-1.7 -5.6l-0.9 -12.0M315.8 443.2l20.5 -9.9l19.0 -7.2l13.7 -11.6l14.6 1.7l10.6 -1.5l9.6 2.9l0.7 7.9l0.4 7.8l-6.7 9.6l-3.9 7.5l-4.5 12.6l-8.0 8.5l-11.6 12.0l-17.0 16.3l-18.1 5.9l-24.9 12.0l-9.8 4.7l-15.8 -1.8l-6.0 -7.7l-3.4 0.8l-2.0 -4.5l-5.6 -7.8l-4.0 -6.1l2.2 -6.1l8.0 -10.8M339.0 417.6l16.9 -5.0l18.3 -4.5l10.7 1.8l8.6 3.4l-0.1 13.3l-1.7 6.7l-0.9 10.5l-11.0 11.6l-5.3 3.2l-8.5 15.1l-11.2 11.2l-15.7 2.9l-15.7 5.6l-12.2 6.1l-14.6 -2.2l-12.0 2.6l-8.9 -3.2l-13.0 -4.8l-1.9 -8.3l1.1 -11.3l12.7 -12.4l13.0 -7.5l12.9 -11.4l13.0 -7.0l8.6 -6.0M365.0 408.7l14.7 -2.8l14.8 -6.4l10.1 1.8l4.3 6.1l-3.5 13.8l-2.9 10.7l-13.8 16.5l-8.0 6.7l-12.8 16.5l-8.9 11.8l-15.4 13.6l-17.9 12.6l-21.6 13.0l-19.2 1.6l-3.3 -5.6l-6.6 -9.7l2.3 -8.1l1.9 -12.8l5.7 -6.6l7.5 -14.2l8.9 -11.7l11.4 -17.8l15.9 -14.0l15.6 -9.7l20.4 -8.2M289.8 466.9l17.8 -12.1l17.5 -5.3l17.8 -8.7l20.5 -2.3l12.6 -2.8l8.8 1.2l10.9 2.0l11.3 1.3l4.0 -0.7l7.9 2.6l-1.3 3.5l-5.2 8.5l-6.6 8.3l-13.4 4.7l-13.8 8.9l-19.6 6.8l-16.4 8.4l-19.3 6.7l-18.0 2.2l-10.5 -1.7l-6.2 -4.0l-6.6 -3.6l2.6 -2.2l-2.9 -0.5l-5.6 -6.7M364.6 479.3l-20.6 11.3l-20.7 5.7l-24.0 10.4l-19.7 2.6l-14.2 -3.9l0.5 -11.9l5.3 -6.8l1.3 -6.4l4.1 -11.9l3.7 -11.2l8.4 -8.3l15.7 -10.7l21.8 -8.7l25.5 -8.8l17.1 -2.6l15.7 -1.8l14.9 4.8l3.1 5.0l8.6 2.3l-4.3 7.9l-2.7 14.0l-10.1 4.7l-14.1 16.4l-15.4 12.0l-22.2 6.8M369.0 482.8l-24.9 10.2l-19.3 5.6l-17.3 -1.6l-17.6 -0.3l-10.7 -5.1l-9.4 -0.8l-11.6 0.7l-5.4 -11.1l-0.6 -4.7l3.3 -9.4l12.4 -12.0l10.7 -7.7l18.2 -13.7l19.4 -4.5l21.7 -10.8l17.1 0.5l17.4 -3.3l11.5 5.2l6.9 4.0l6.2 9.2l-3.6 2.9l6.5 6.3l0.6 12.9l-1.7 8.2l-12.6 10.0M348.7 424.7l18.1 2.5l8.0 0.0l11.4 -0.1l2.7 4.9l7.8 4.2l0.8 8.1l-3.4 9.7l-13.4 13.1l-18.4 5.7l-14.7 3.3l-18.3 4.7l-10.1 -0.7l-11.7 -0.3l-17.3 2.3l-10.1 4.3l-12.7 -6.4l-1.1 -4.0l5.4 -8.9l9.0 -12.5l12.8 -7.5l10.9 -8.7l18.9 -7.2l12.9 -3.5l12.8 -2.3l17.7 1.0M398.8 466.0l-9.8 11.8l-20.6 12.1l-27.5 8.2l-14.1 5.0l-21.9 -0.9l-16.5 -3.5l-14.7 -3.8l-4.7 -4.3l-5.7 -8.6l-2.2 -3.9l1.7 -10.9l15.5 -9.7l19.7 -8.2l19.9 -10.7l25.5 -8.2l20.4 2.4l18.0 -4.6l8.1 6.5l11.4 5.1l0.4 8.0l-0.8 8.4l-4.0 2.5l1.6 13.7l-17.3 16.0l-22.2 9.3M306.1 467.1l10.3 -12.0l16.8 -7.7l8.1 -8.3l9.3 -3.6l15.3 -6.9l12.1 -6.1l10.9 -0.4l7.6 -7.8l6.8 5.7l-8.9 12.7l3.5 11.5l-15.9 12.6l-16.1 8.6l-12.0 11.5l-14.8 5.2l-2.6 4.6l-16.9 14.3l-11.6 1.8l-10.0 4.9l-8.6 -7.3l1.2 -3.9l-2.7 -7.5l6.7 -10.4l8.8 -11.0l14.1 -11.0M312.3 445.2l14.1 -11.6l16.8 -11.4l19.5 -7.1l21.2 -0.2l17.4 -1.9l7.8 6.3l-1.9 8.6l0.1 11.3l1.4 6.6l-1.2 9.3l-6.2 7.1l-4.0 12.1l-19.6 12.3l-15.3 13.3l-23.1 7.9l-14.0 -0.6l-17.0 2.2l-12.3 -8.0l-5.3 0.2l-8.6 -7.0l-2.1 -7.2l-4.1 -7.4l7.5 -13.5l8.4 -10.1l17.4 -9.5M276.7 494.4l-6.3 -6.2l-0.2 -7.2l7.4 -5.5l1.5 -9.9l11.0 -6.4l15.7 -13.8l18.2 -7.7l20.9 -8.6l15.1 -5.1l20.3 0.4l11.3 -2.1l9.7 7.3l-0.9 2.5l-1.7 13.2l-1.0 4.9l-3.2 10.0l-3.9 10.4l-16.4 7.1l-13.1 11.1l-21.9 6.6l-17.0 5.6l-17.4 2.4l-14.5 -1.0l-6.0 -2.6l-7.3 -4.2M305.4 498.9l-9.5 3.6l-7.8 -10.5l-4.3 0.3l-5.8 -5.5l-4.9 -6.3l-2.4 -10.3l9.3 -11.5l17.1 -13.3l18.0 -10.5l24.2 -9.1l20.1 -4.9l11.6 -2.1l12.8 0.7l14.2 -0.8l11.5 -1.9l8.7 6.3l-3.0 8.2l-0.5 6.8l-8.4 13.6l-10.3 12.6l-15.1 8.8l-19.3 8.4l-19.1 14.4l-19.6 6.1l-15.6 -3.4M280.2 497.6l-13.0 -7.5l3.4 -15.4l7.7 -11.1l6.0 -10.1l9.9 -11.2l20.7 -13.3l19.5 -12.1l22.3 2.5l18.6 0.7l11.2 6.6l3.8 7.8l1.4 9.4l-0.9 7.7l2.3 5.8l-5.6 17.5l-9.5 12.2l-17.4 8.0l-21.4 5.2l-18.6 9.4l-18.5 -4.7l-16.8 0.0l-9.8 -6.5l-4.4 -3.1l-2.6 -15.8l5.3 -5.9M367.1 425.7l4.5 5.5l5.0 5.8l-0.4 5.5l-0.8 1.1l-2.6 6.6l-3.9 7.2l-1.5 8.0l-14.5 13.3l-15.4 5.9l-18.9 10.8l-21.4 6.4l-16.8 2.8l-6.4 -1.9l-4.5 2.1l-5.5 -2.5l-7.8 -1.9l-7.7 -8.8l-2.1 -0.6l4.6 -3.5l13.6 -16.2l7.9 -10.1l12.1 -5.2l19.1 -11.9l17.6 -8.1l13.5 -2.9M400.1 441.2l5.1 6.0l-10.3 16.1l-13.4 7.8l-21.4 11.7l-16.2 8.6l-16.5 4.0l-16.3 4.5l-19.6 -0.6l-9.9 -3.0l-3.9 0.2l-5.9 -10.8l4.4 -7.3l8.7 -11.0l8.6 -6.2l10.3 -13.9l18.8 -14.9l17.9 -5.6l21.7 -3.5l10.5 -5.5l5.2 6.0l13.2 5.7l6.2 1.5l1.2 4.0l6.7 6.9l-2.4 10.5" fill="none" stroke="#111" stroke-width="0.95" stroke-opacity="0.6"/>
<path d="M297.1 476.9l-10.4 -6.2l-8.0 -0.1l-9.0 -3.6l-9.7 -4.3l0.2 -4.8l-2.0 -4.1l12.1 -8.5l8.9 -2.5l15.1 -2.4l8.7 4.3l11.0 -1.1l10.3 1.8l7.4 1.6l4.4 1.4l2.5 9.8l-1.5 1.9l-6.8 8.0l-9.5 7.2l-12.4 -1.2l-12.4 -1.1l-9.0 -4.8l-4.5 2.7l-13.9 -2.7M299.3 482.0l-10.1 2.4l-5.0 -2.0l-5.1 -1.8l-7.1 -6.1l-3.3 -7.0l-4.4 -1.1l3.1 -9.0l5.9 -8.4l9.4 -5.1l11.0 -2.7l6.4 0.9l9.1 -3.0l6.8 4.2l6.0 -0.6l8.5 3.0l9.3 2.1l5.8 2.2l2.0 10.8l4.5 4.7l-10.3 4.4l-5.7 4.8l-9.3 5.1l-2.4 3.9M329.6 475.6l-9.8 -0.2l-4.0 1.8l-7.0 -2.2l-10.8 -5.1l-6.3 -7.4l-2.2 -5.0l4.7 -6.1l6.7 -4.8l8.2 -6.6l2.4 -1.8l4.5 -5.3l9.8 -0.8l10.2 -0.5l3.9 1.4l9.8 4.6l2.2 5.0l0.4 7.2l1.4 8.5l-2.2 2.8l-9.1 9.1l-3.6 5.2l-8.8 -1.0l-5.9 0.4M277.9 465.7l-4.5 -6.8l0.2 -2.6l-1.5 -5.1l4.1 -7.1l9.4 -2.4l9.6 -7.3l12.0 -0.8l4.6 5.9l9.7 -5.5l3.0 3.8l8.2 6.3l1.3 1.4l4.5 6.0l-5.1 4.6l-8.8 4.9l-6.3 5.6l-11.9 0.7l-8.8 1.6l-7.6 1.2l-7.4 -3.9l-5.1 -3.4l-2.0 -4.2l-4.2 1.6M290.5 495.0l-2.5 -0.5l-9.5 -2.0l-3.6 -8.4l1.8 -6.3l6.1 -8.3l14.5 -5.8l16.0 -9.0l9.1 0.4l13.5 -3.6l17.0 -4.4l9.9 -4.4l12.7 2.5l10.3 -1.6l3.2 2.8l-2.4 8.6l-13.0 9.2l-12.7 6.7l-14.8 8.4l-8.2 4.0l-14.5 7.1l-16.4 -0.1l-12.5 4.1l-9.7 -7.8M311.2 480.7l-14.0 -3.5l-13.2 -5.9l-6.3 2.9l-5.7 -4.7l2.1 -7.7l4.2 -3.8l14.4 -3.8l10.9 -0.1l13.1 -7.2l9.1 -2.4l11.3 1.7l13.3 -3.6l14.4 -0.5l4.5 4.0l11.5 3.7l2.6 2.5l-1.3 3.8l2.6 7.6l-4.9 4.5l-16.4 -0.8l-16.5 3.7l-11.3 1.4l-12.2 2.0M261.0 484.4l-0.3 -9.5l4.3 -8.2l9.2 -6.3l12.5 -8.5l12.1 -7.1l9.6 -4.2l12.7 -2.7l10.2 -3.4l13.7 -2.7l11.6 1.8l1.9 2.6l2.2 6.8l2.9 9.2l-8.4 4.2l-8.8 12.3l-10.8 3.7l-8.6 5.1l-13.3 3.4l-8.5 0.4l-12.5 3.5l-11.6 3.2l-11.0 -3.7l-10.7 -2.9M347.1 447.5l6.2 5.6l3.3 6.1l-7.1 9.3l-2.8 6.1l-10.6 4.0l-6.3 -1.2l-8.5 -0.3l-4.1 4.4l-8.7 -1.7l-7.4 -0.7l-8.0 -5.5l1.4 -4.7l-6.8 -8.6l2.7 -5.0l6.2 -10.4l4.3 0.8l5.9 -7.6l7.1 -4.5l9.0 6.4l5.1 1.2l7.4 1.9l4.5 -2.2l7.1 6.0M336.3 474.8l-10.7 -1.0l-16.2 0.1l-5.4 2.4l-16.1 1.6l-8.9 -0.9l-7.3 -4.9l1.1 -2.0l2.8 -5.3l7.0 -5.6l11.3 -6.8l14.3 -2.5l7.2 -4.8l11.7 -4.9l12.0 0.9l9.5 3.3l9.0 1.2l8.7 -3.3l10.0 3.2l2.7 5.4l-1.6 6.0l-7.2 3.4l-13.4 7.0l-8.2 1.1M321.3 480.6l-8.5 -0.3l-17.6 4.3l-3.2 2.7l-10.4 -0.4l-4.8 -3.5l-5.9 -1.1l-6.4 -3.6l-3.6 -2.4l-5.9 -3.2l0.0 -9.2l2.2 -0.3l4.3 -4.5l11.3 -7.4l10.7 -1.7l8.6 0.7l7.2 0.6l12.9 -2.7l4.0 0.3l7.7 2.7l2.9 2.7l6.5 1.0l-0.4 6.1l-0.1 4.5M269.6 465.4l-0.2 -4.5l6.8 -4.0l9.1 -7.6l7.3 -4.7l5.6 -5.1l10.4 0.8l12.6 -5.9l13.2 -1.9l10.9 -3.2l13.4 1.4l4.6 3.7l0.9 7.3l0.3 1.6l-2.9 4.5l-3.2 6.9l-6.4 5.9l-12.0 1.9l-5.8 5.2l-13.8 2.4l-9.2 2.3l-11.1 -3.1l-10.3 3.6l-10.9 -1.6M362.0 444.8l-1.9 3.8l-4.5 7.5l-6.2 9.7l-10.1 3.4l-10.2 7.8l-12.4 0.5l-15.6 -0.7l-10.7 -1.6l-4.7 -5.7l-4.5 2.8l-9.1 -3.4l-0.9 -0.7l-2.3 -8.6l5.4 -9.9l12.6 -8.3l13.1 -4.2l12.2 2.0l11.3 0.8l10.4 -2.3l12.7 4.1l9.6 2.6l5.9 0.6l-2.2 7.8M253.2 494.1l-8.4 -4.7l0.8 -12.7l11.7 -7.4l12.6 -8.4l9.2 -8.2l15.6 -7.4l9.9 -5.1l14.3 -3.8l3.0 2.4l11.5 2.2l9.2 1.4l1.3 4.6l-0.2 10.0l-5.1 11.9l-7.1 8.0l-13.6 10.8l-10.9 2.4l-11.8 2.7l-11.4 -1.0l-13.6 5.3l-9.2 -4.0l-7.8 -3.2l-3.8 -3.7M340.1 429.4l11.9 3.5l-0.3 9.6l6.6 8.8l-2.3 6.5l-2.2 10.6l-10.2 5.1l-10.0 5.8l-15.2 0.2l-13.2 6.9l-12.8 -1.3l-19.1 -7.2l-9.3 -3.5l5.2 -9.8l3.9 -10.3l5.2 -7.4l5.4 -7.1l8.9 -4.8l10.3 -6.8l18.1 -4.6l14.4 5.3l11.5 1.8l9.5 7.7l0.6 5.1M344.3 439.1l4.6 6.4l13.5 -1.9l2.9 8.6l2.4 3.2l3.3 7.4l-11.8 11.8l-7.9 7.8l-14.2 4.6l-11.7 3.9l-11.9 6.7l-12.0 -2.6l-17.3 2.7l-2.8 -3.6l-4.4 -6.1l-4.9 -8.6l-5.7 0.6l-1.9 -6.9l2.1 -11.8l2.9 -7.8l15.1 -5.9l8.4 -6.0l16.0 -2.6l14.6 0.9M354.7 466.1l2.5 1.6l-6.4 11.2l-11.5 6.3l-5.3 2.7l-10.7 3.7l-9.3 3.3l-9.9 2.9l-7.5 1.3l-8.0 -1.2l0.0 -1.0l-3.8 -6.9l-2.9 -4.9l2.7 -7.3l6.8 -8.4l11.0 -6.4l10.5 -1.1l6.8 -3.8l10.3 4.8l8.1 -0.8l5.1 -4.8l9.3 6.1l6.9 2.9l-2.6 7.3M320.1 491.5l-6.5 0.2l-7.4 0.7l-14.8 -2.8l-4.7 -7.7l-3.0 -3.1l2.9 -8.7l2.8 -7.6l6.6 -1.7l9.2 -7.9l10.9 -0.9l2.4 -3.4l12.7 -4.6l6.7 5.9l6.5 1.1l6.9 9.8l0.9 9.9l2.0 2.5l-9.1 12.1l-7.2 2.7l-6.7 3.7l-7.3 -0.7l-11.5 -1.6l-8.8 3.3M284.6 465.6l-1.4 -4.4l2.7 -1.6l0.7 -9.3l6.7 -2.4l12.1 -2.5l8.4 2.5l7.8 -0.7l5.5 7.0l5.3 2.7l3.3 3.3l5.1 7.8l0.6 -0.8l3.4 5.9l-4.4 3.8l-6.1 5.9l-5.4 4.8l-6.4 0.4l-9.3 -2.3l-4.7 -3.7l-9.3 1.0l-6.2 -6.9l-4.5 -2.4l-4.9 -3.5M272.0 462.4l-2.5 -7.8l4.3 -6.0l11.2 -4.9l4.5 -4.6l12.7 2.1l10.0 2.6l-0.5 2.5l16.0 0.9l-0.4 7.7l3.1 5.5l-1.3 3.2l-2.6 11.5l-6.8 0.6l-10.4 3.5l-4.8 4.8l-6.9 -2.8l-10.8 -4.0l-4.0 0.4l-4.2 -4.9l-2.1 -5.5l-6.3 -9.7l3.0 -3.7l4.8 -9.2M335.7 427.2l8.2 1.5l4.2 6.9l0.9 6.5l1.5 8.0l1.3 6.6l-0.0 1.5l-1.8 10.4l-5.0 6.9l-11.7 9.1l-14.2 -4.5l-4.9 0.4l-8.5 -5.5l-3.5 0.8l-7.9 -5.8l-1.7 -5.2l-4.5 -6.0l2.2 -7.9l2.9 -6.8l4.8 -8.0l7.1 -8.9l8.7 0.1l10.5 -3.4l10.8 -0.9M277.8 482.2l-10.5 -1.8l-7.4 2.2l-8.9 -7.0l-0.7 -5.4l4.7 -3.6l12.1 -10.7l9.9 -2.1l14.7 -5.7l17.8 -0.3l15.0 -3.1l12.4 5.5l5.6 4.7l9.9 3.8l5.6 1.3l-0.6 7.9l2.7 8.2l-9.8 5.3l-13.1 6.9l-19.5 2.4l-14.7 -1.0l-12.4 -2.6l-11.5 -0.9l-13.9 -3.5M368.5 463.7l-10.5 6.4l-10.8 4.6l-6.1 7.1l-12.1 0.5l-11.5 0.8l-16.2 -1.9l-9.2 -1.7l-11.4 -1.9l-6.6 0.2l-4.5 -5.6l-2.6 -8.0l6.5 -8.3l2.5 -7.3l13.4 -1.8l13.1 -0.0l13.5 -0.3l11.8 -0.2l7.7 -1.7l10.7 2.8l14.4 0.7l10.7 6.2l-0.0 5.4l-0.2 7.2M279.2 465.6l0.6 -1.8l1.9 -3.7l5.5 -2.9l4.3 -5.0l3.9 -4.2l3.4 -1.0l9.9 -5.3l9.1 -3.2l4.3 1.8l8.9 6.0l10.6 -0.5l4.8 4.2l6.6 0.5l-1.5 0.8l-4.0 5.3l-2.3 5.9l-6.8 0.8l-6.0 1.9l-8.2 1.9l-5.5 2.6l-3.1 -0.5l-13.0 6.2l-5.4 -2.6M291.5 456.9l8.2 -12.6l13.7 -2.7l16.0 0.6l12.3 1.7l6.9 3.5l6.7 6.1l4.9 5.6l3.3 4.8l5.0 5.9l1.2 9.3l-1.2 4.7l-4.6 5.5l-10.8 6.9l-14.0 2.6l-8.9 -2.8l-16.5 -0.0l-9.6 -3.3l-10.1 -1.0l-8.4 -3.8l-2.1 -7.8l-0.4 -3.4l-1.4 -9.2l3.0 -5.7M277.9 465.8l4.1 -11.1l5.6 -2.2l2.9 -7.4l9.0 -7.9l8.4 -2.9l10.1 -0.8l13.4 3.7l8.7 5.0l4.6 7.6l3.7 6.5l-0.8 5.6l-1.8 7.1l-6.0 7.0l-8.3 3.6l-9.3 1.2l-13.9 2.9l-8.1 6.6l-12.2 -2.1l-10.3 -1.5l-7.5 -12.2l-1.6 -5.5l10.3 -9.7l3.9 -5.2M274.1 451.4l15.1 -2.1l13.0 -5.1l20.3 0.8l12.9 0.2l4.9 5.4l11.4 1.0l6.4 2.4l-2.9 7.8l2.3 8.5l-6.0 2.5l-9.0 11.0l-12.1 5.0l-17.1 8.5l-15.5 -2.3l-13.0 -3.1l-7.6 -2.3l-4.0 -13.5l-3.4 2.8l-2.2 -7.3l3.6 -9.8l6.4 -6.2l8.9 -8.8l15.5 -2.3M358.3 451.0l1.6 10.9l0.9 7.4l-5.6 4.1l-10.5 6.8l-4.5 5.7l-6.5 2.2l-12.9 3.2l-10.3 -1.3l-10.4 2.4l-12.0 -2.8l-11.4 -8.3l-5.0 -6.9l-7.0 -5.3l-2.7 -5.5l6.8 -8.7l5.7 -6.6l9.2 -3.0l11.3 -4.2l14.0 2.4l8.2 -0.7l6.1 -1.6l16.4 3.8l10.0 1.0M350.2 453.4l3.2 4.2l2.4 0.8l2.7 8.5l-7.9 5.3l-14.6 4.6l-13.5 3.2l-15.0 5.8l-11.9 -5.5l-16.3 1.9l-5.0 3.2l-12.3 -7.4l-2.2 -0.6l-2.9 -4.3l1.9 -5.7l3.9 -4.7l4.6 -3.5l6.4 -3.8l15.5 -4.6l16.6 -2.8l17.4 -2.0l6.3 2.2l7.3 3.4l4.3 0.2M248.7 457.3l9.8 -1.7l10.7 -6.1l11.9 -0.1l17.9 2.0l8.3 -0.6l11.6 3.4l9.8 3.0l10.5 3.4l6.9 2.0l6.9 2.6l-3.9 3.2l5.0 0.4l-14.9 4.5l-8.3 2.8l-9.9 2.7l-15.3 2.1l-12.4 -1.4l-16.8 -0.1l-9.4 0.6l-5.4 -5.7l-4.6 -5.7l-2.2 0.0l-4.1 -2.9M316.4 497.0l-13.4 3.6l-4.5 -2.5l-5.4 -3.0l-9.0 -1.0l-11.3 -1.9l1.0 -6.0l-4.0 -9.0l1.1 -4.2l3.3 -4.5l5.5 -12.7l7.6 -4.0l7.3 -5.2l14.5 0.2l9.3 1.9l10.2 0.8l-1.1 4.5l6.6 1.1l4.4 6.0l6.4 3.8l-0.2 9.1l1.3 9.7l-4.3 7.6l-10.9 3.4M288.9 473.9l-4.5 -4.6l-1.0 -7.4l0.9 -5.2l2.7 -3.0l0.6 -5.1l8.1 -10.5l6.8 -1.7l7.7 -5.5l9.5 1.2l6.3 6.8l10.1 1.3l-2.3 7.0l3.4 7.6l7.3 3.5l-2.4 1.2l-0.1 8.5l-3.4 5.7l-0.2 4.1l-7.5 8.8l-10.5 -2.0l-12.3 -0.3l-5.8 0.2l-8.9 -4.6M273.3 478.1l-17.5 -6.3l-4.7 -0.2l-7.3 -4.4l-2.2 -8.4l7.9 -4.7l12.3 -3.8l9.1 1.2l14.2 -2.9l11.1 -2.9l8.5 1.3l14.1 -3.4l15.4 1.8l9.2 2.1l5.4 2.7l1.3 8.2l-2.3 3.5l-0.3 0.3l-9.2 8.0l-9.1 6.5l-11.8 -4.1l-12.6 6.9l-7.3 -1.4l-13.0 -3.1M326.2 479.0l-19.4 7.5l-16.0 -1.8l-13.3 -2.5l-10.0 -3.9l-0.6 -10.9l-0.2 -4.8l1.0 -5.5l0.1 -8.0l8.0 -8.1l10.1 -6.3l15.5 -7.0l15.6 0.1l11.6 0.0l16.2 3.1l13.1 1.1l8.2 7.3l-2.4 5.1l-2.5 8.9l-6.4 4.1l-7.4 8.4l-6.2 5.3l-14.5 9.7l-13.9 -0.0M277.2 457.5l6.1 -8.1l5.2 -4.7l8.5 -5.8l7.3 -5.5l12.9 0.8l10.5 -0.5l7.2 3.0l8.8 7.2l1.0 2.1l5.2 4.6l-2.2 8.7l-2.7 2.9l-7.5 6.5l-6.7 6.6l-6.7 5.1l-9.1 5.4l-14.6 1.3l-8.1 -1.8l-11.5 -3.6l-1.0 -4.8l-5.3 -5.4l3.7 -3.7l2.1 -10.4M329.1 463.1l-6.2 4.0l-14.7 5.1l-14.1 2.1l-18.4 -4.1l-15.7 -4.4l-5.1 -2.4l-4.7 -5.4l-3.5 -9.0l3.9 -1.1l-0.5 -8.7l8.0 -2.9l11.6 -1.7l11.9 -7.6l16.1 2.4l12.4 0.9l14.9 1.2l11.7 7.6l11.6 2.4l-2.8 6.1l-2.3 4.4l-9.8 7.0l-4.4 4.3l-6.7 5.6M289.5 471.4l-2.7 -1.2l-7.3 -7.2l0.7 -3.0l-1.4 -7.9l2.4 -6.3l5.8 -3.7l7.3 -2.9l13.6 3.8l5.2 -5.6l9.3 2.7l2.3 4.5l5.4 0.5l12.4 3.1l0.1 6.6l2.0 4.2l-5.7 4.7l-7.5 2.9l-8.5 4.8l-9.4 2.6l-8.1 0.1l-5.2 1.2l-9.4 -4.1l-1.7 -2.2M296.7 470.7l-7.3 4.2l-7.9 -8.6l-6.9 -1.0l-2.3 -13.1l0.5 -6.1l2.9 -8.7l5.9 -1.7l5.0 -6.1l13.3 -2.4l9.4 1.8l3.9 3.0l6.7 -0.5l7.4 5.7l8.0 4.5l2.5 11.1l-4.0 2.6l-6.1 13.7l-12.4 -1.0l-6.0 -2.7l-7.0 4.9l-7.0 -1.5l-10.8 0.9l-7.8 -3.8M311.0 426.6l14.2 -6.8l20.0 -7.8l13.0 1.3l11.2 4.7l1.6 11.2l-5.1 8.1l-7.1 10.6l-4.2 7.2l-5.9 7.9l-11.4 12.5l-16.6 7.8l-15.5 2.0l-16.6 -6.6l-5.0 0.9l-6.8 -8.0l-1.7 -9.7l3.2 -3.7l4.2 -11.7l14.6 -9.1l11.9 -9.1l12.5 -11.5l16.9 0.9l18.2 -6.7M344.2 445.6l7.2 3.7l8.7 1.4l-0.2 7.9l-6.9 1.5l-4.2 6.5l-11.0 6.7l-7.4 1.4l-7.5 1.9l-9.6 -0.0l-6.5 4.9l-4.3 -6.1l-6.3 -0.7l-4.4 -5.8l-1.9 -3.6l-0.8 -4.2l5.2 -3.5l4.7 -5.9l6.1 -2.3l14.4 -4.5l8.3 0.1l3.8 -1.2l4.6 0.6l9.0 3.9M277.3 475.3l-3.1 -4.6l0.5 -6.5l-2.3 -1.1l4.6 -6.8l-1.7 -2.3l11.4 -4.5l9.8 -4.5l5.5 3.0l11.5 1.4l7.7 -1.9l8.4 -2.1l5.7 8.0l3.0 4.7l1.2 -0.2l1.2 4.7l-8.8 6.6l-2.4 2.1l-5.8 6.2l-6.0 2.7l-15.6 2.6l-9.7 1.8l-8.6 -0.4l-6.8 -3.5M328.5 482.1l-2.7 2.5l-10.0 0.4l-8.7 -4.1l-4.4 -3.3l-5.4 -3.0l3.0 -2.7l-1.6 -5.1l-0.1 -10.0l1.9 -2.1l11.3 -0.3l0.5 -8.5l3.2 0.5l10.5 -5.5l9.9 0.7l7.1 -0.4l2.6 5.8l5.6 5.4l-1.4 4.3l-1.5 4.6l-1.1 7.3l-3.5 2.7l-0.2 7.4l-5.9 1.3M344.1 472.0l-11.4 4.9l-10.1 4.8l-9.3 3.5l-14.8 1.0l-8.1 -2.0l-10.3 3.5l-7.1 -4.5l-13.0 -1.8l-3.2 -4.1l-0.9 -10.9l7.5 -3.9l10.3 -6.8l16.3 -4.6l6.8 -4.7l10.4 -0.8l8.4 -0.3l11.8 -1.8l13.5 2.5l8.4 -0.6l8.8 5.4l-1.4 5.8l-3.5 4.9l-5.2 7.8M298.2 493.7l-11.3 -4.2l-9.1 -2.2l-2.8 -7.1l-4.2 -12.3l10.7 -8.1l8.8 -5.6l12.0 -5.8l3.2 -1.9l14.0 -2.3l7.7 2.7l9.1 0.2l4.4 8.1l6.7 8.3l1.6 6.5l0.1 7.5l-11.4 13.3l-9.0 4.2l-10.1 1.5l-10.2 -2.1l-7.8 -2.1l-7.7 2.4l-10.3 -3.7l-9.2 -7.2M279.4 478.2l2.2 -8.8l-1.1 -0.4l3.5 -6.5l-2.0 -4.2l7.8 -0.9l2.1 -4.2l0.1 -6.5l13.6 -1.7l6.9 -0.8l8.9 -1.1l5.5 6.3l3.6 -1.0l0.9 2.8l3.6 4.6l0.7 3.6l-4.8 4.2l-2.4 4.0l-3.5 1.5l-4.4 6.6l-9.1 0.1l-4.2 6.1l-12.3 1.0l-6.5 -3.2M286.0 431.9l11.9 -1.0l16.2 -4.9l8.7 7.0l8.1 4.2l3.6 3.0l4.8 6.1l5.7 7.5l3.3 5.1l2.2 12.2l-13.0 3.1l-11.8 9.5l-8.9 -3.0l-12.9 3.0l-7.1 0.3l-12.1 -7.6l-4.3 -1.2l-2.9 -8.6l-4.6 -6.6l-0.1 -5.9l4.5 -7.5l1.8 -7.2l9.3 -7.4l11.4 -4.7M300.7 488.6l-6.6 5.1l-12.0 -3.0l-10.5 4.4l-9.4 2.0l-10.5 -7.7l-2.1 -4.5l1.6 -5.0l1.4 -10.5l6.1 -3.6l6.5 -2.9l3.2 -11.1l0.5 -5.8l11.6 -0.2l14.4 -6.3l9.8 1.6l8.5 3.6l2.9 7.9l5.0 2.6l2.7 8.0l-0.9 5.9l-5.1 5.4l-4.4 7.5l-5.6 3.3M328.7 445.6l15.9 2.2l10.2 -2.7l3.2 10.4l-1.6 11.8l-2.1 6.2l-4.4 9.3l-5.2 6.4l-15.0 11.1l-13.3 9.4l-19.5 2.9l-16.7 -4.3l-9.2 0.4l-4.2 -10.0l-3.9 -2.4l2.2 -9.6l3.8 -7.7l9.1 -8.2l15.1 -13.1l13.4 -3.7l11.0 -5.0l21.4 -4.6l13.3 2.5l6.6 5.4M291.6 476.1l-5.6 -3.5l-1.7 -5.6l-1.0 -5.0l2.9 -5.8l3.6 -4.7l1.5 -2.0l11.7 -0.3l8.6 -2.0l7.1 -5.0l7.1 -0.7l3.7 5.7l4.9 2.7l2.0 3.5l0.1 1.4l2.7 7.1l4.0 3.5l-3.1 7.0l-10.6 2.8l-6.3 5.4l-4.9 -2.2l-8.9 0.2l-9.3 -0.5l-1.7 -2.2M255.0 468.2l10.2 -10.4l6.3 -5.6l9.6 -8.4l13.5 -4.4l7.0 -6.5l16.6 -0.9l14.6 -1.2l14.0 -0.7l8.1 6.1l5.1 5.9l-2.4 10.4l-9.5 9.0l-10.9 11.6l-15.3 -1.1l-10.8 7.5l-12.8 2.9l-13.3 4.7l-14.7 -1.5l-12.3 -5.1l-2.3 -4.2l6.0 -10.3l4.2 -12.9l9.3 -4.9M309.5 478.4l-20.5 0.2l-7.8 -4.6l-8.7 -2.2l-10.0 -5.9l-2.6 -8.0l9.5 -12.2l9.8 -6.4l6.6 -3.5l14.2 -4.0l7.8 -8.1l14.3 2.6l10.5 -1.0l13.6 3.4l4.9 5.9l-0.4 11.6l-1.1 11.6l-3.8 3.1l-9.1 5.0l-15.6 9.3l-8.3 0.8l-12.8 0.8l-12.4 -2.8l-10.1 1.3M346.7 442.7l-7.1 6.1l-7.7 4.9l-7.9 8.1l-6.3 -2.8l-13.0 1.9l-5.8 -1.8l-6.4 -10.3l0.1 -5.7l1.8 -4.6l-0.4 -7.3l3.6 -6.3l9.1 -7.6l3.8 -5.6l9.2 -3.8l9.6 2.0l8.1 3.7l2.9 9.9l3.8 3.0l1.2 8.4l-2.1 4.2l0.7 9.1l-7.8 4.0l-7.2 7.3M302.0 441.6l13.0 -4.3l12.4 0.0l11.5 6.2l7.0 6.3l5.5 9.5l1.9 5.9l0.5 4.4l1.3 5.8l-6.9 9.0l-8.3 6.2l-7.9 3.2l-9.4 5.1l-18.5 0.2l-11.8 0.0l-11.7 -3.2l-6.2 -6.8l-3.2 -7.4l-0.2 -5.9l6.7 -7.4l2.9 -7.8l6.9 -1.5l8.8 -7.2l3.9 -5.5M352.9 447.5l0.8 4.5l0.0 6.5l-3.0 6.1l-8.6 5.8l-6.1 2.0l-12.7 8.7l-9.4 4.1l-11.7 -3.0l-5.5 2.2l-3.9 -5.3l0.9 -4.3l-0.4 -6.8l5.6 -6.0l-2.5 -0.9l6.7 -8.3l6.3 -6.5l7.2 -5.6l11.8 -1.6l12.4 -0.7l6.6 -2.0l3.7 5.7l1.2 2.8l1.8 5.1M281.9 458.0l10.9 -3.6l5.3 -3.9l11.5 -6.3l6.0 2.3l12.7 -3.7l10.8 -2.2l13.9 6.3l3.9 1.8l4.7 1.3l1.7 2.7l-2.6 8.3l-0.8 2.8l-3.0 5.6l-2.4 4.1l-8.8 2.8l-12.7 5.5l-9.8 0.8l-13.5 -2.8l-11.4 1.1l-8.4 -4.0l-1.7 -4.2l-8.9 -2.3l-0.7 -6.0M339.9 442.5l7.6 4.3l-2.1 6.6l0.1 10.3l-3.4 6.8l-7.9 3.8l-9.9 4.5l-10.7 4.4l-10.9 2.2l-20.4 2.6l-11.7 -0.0l-9.5 -5.7l-0.8 -6.1l1.1 -9.1l4.8 -7.7l7.2 -5.7l0.4 -9.4l4.5 -1.7l13.1 -8.4l16.6 -2.1l14.2 -3.8l8.5 4.3l8.1 4.1l5.9 11.3M295.9 447.3l9.4 -0.5l4.1 0.8l6.7 -4.9l10.0 1.3l10.0 1.9l3.2 4.8l5.7 9.2l2.1 8.5l-4.6 8.2l-5.7 5.3l-7.1 8.6l-7.0 1.0l-6.0 1.2l-7.2 -1.5l-11.7 -0.8l-5.0 -7.8l-6.4 0.1l-5.8 -8.5l4.4 -11.4l3.4 -6.7l4.4 -5.8l8.3 -2.0l9.5 -1.2M277.3 439.9l8.7 -3.3l10.4 -7.1l10.5 0.1l6.7 3.1l7.8 -0.5l9.6 6.7l5.0 -0.2l4.8 8.3l-3.2 6.2l-6.3 10.8l-12.4 1.1l-8.7 6.1l-9.6 -0.3l-8.2 1.6l-14.0 7.4l-5.0 2.8l-12.0 -2.0l-11.2 1.8l-2.8 -6.0l-2.8 -6.6l2.6 -6.2l1.2 -5.2l9.8 -8.1M325.3 483.9l-12.4 7.4l-13.1 -0.6l-10.3 -3.9l-10.6 -7.1l2.7 -1.2l-2.2 -5.5l-2.9 -7.7l-3.7 -7.3l7.2 -7.4l5.4 -5.7l13.4 -1.5l7.6 -6.9l13.4 3.8l13.7 -1.9l5.1 4.3l10.5 4.9l3.9 8.7l-5.0 3.8l-1.0 3.8l-1.6 6.0l-4.1 5.2l-4.0 5.6l-11.1 5.8M252.2 467.0l5.8 -7.1l9.7 -9.9l12.1 -8.6l9.8 -4.8l15.8 -7.0l17.6 -0.7l11.2 4.6l10.3 3.0l-0.1 8.9l2.2 8.0l-1.7 2.6l0.5 10.0l-3.2 3.9l-8.9 8.0l-12.1 9.2l-12.9 3.1l-18.3 -0.1l-13.8 4.3l-9.7 -3.7l-10.8 -6.8l-1.4 -5.2l-0.9 -6.5l0.8 -8.7M290.0 434.9l16.7 -1.7l13.6 -2.0l11.9 -3.4l2.8 6.6l14.0 -1.7l8.1 2.6l6.2 4.5l3.5 8.3l-6.6 5.1l-12.5 10.9l-9.4 2.2l-12.8 8.5l-12.2 -0.1l-18.0 2.4l-4.9 -1.0l-8.5 -5.0l-3.1 -0.6l-6.0 -8.2l-6.0 0.0l4.8 -10.3l5.1 -9.4l11.6 -6.1l17.9 -5.9M365.1 476.3l-7.1 5.4l-10.0 6.1l-7.2 2.6l-9.9 -6.3l-5.2 -1.3l-7.4 2.6l-11.2 -0.2l-4.9 -6.4l-6.9 -7.4l1.2 -9.4l8.5 -4.6l0.9 -7.5l14.5 -7.4l4.9 -1.8l10.2 -0.0l4.6 -1.6l6.7 6.2l6.6 -2.6l7.2 5.2l7.9 -0.6l1.9 10.2l1.6 9.1l0.2 5.9M285.6 437.1l11.0 -3.4l7.9 0.4l10.1 -3.8l8.8 3.5l8.8 2.2l4.3 9.4l-0.7 2.2l5.3 8.6l0.1 -1.4l-3.5 5.9l-2.1 9.7l-3.6 5.6l-5.2 8.3l-14.6 3.8l-9.2 0.3l-11.4 -4.9l-11.1 -1.9l-1.6 -3.6l-3.0 -7.2l-4.0 -3.4l-3.4 -2.8l-3.5 -7.8l4.7 -6.5M301.7 449.8l8.8 -10.4l9.3 -1.3l13.5 -1.3l9.1 2.5l9.6 2.7l2.9 5.7l4.5 2.0l2.6 5.1l-1.0 7.2l-0.2 3.5l-5.6 6.4l-6.0 5.7l-8.7 0.8l-7.3 4.4l-11.9 7.3l-6.9 -1.0l-11.3 2.3l-8.8 -5.5l-3.7 -6.7l-1.6 -3.1l1.1 -7.4l6.3 -4.7l-0.6 -6.2M336.4 446.3l-0.7 8.9l0.9 2.9l-7.3 4.7l-8.1 3.3l-9.6 7.3l-8.6 -1.9l-5.7 -1.4l-6.6 7.1l-12.9 -1.7l-5.3 -5.9l-1.9 -3.0l-0.8 -4.3l10.5 -9.1l4.2 -1.4l9.0 -4.3l10.1 0.8l4.4 -3.3l10.6 -2.4l4.4 2.1l5.5 2.3l8.8 3.1l1.4 5.5l-7.0 0.9M254.2 473.3l-10.5 -2.4l-5.7 -7.1l3.1 -7.0l7.6 -7.2l15.0 -2.8l16.6 -3.8l14.3 -1.7l13.5 -1.0l14.3 4.9l11.3 1.3l7.2 5.2l5.0 1.6l5.2 4.8l0.9 11.0l-10.6 4.3l-6.6 3.9l-21.8 4.0l-18.8 0.9l-13.6 -4.8l-8.4 -2.0l-17.4 -0.5l-11.4 -3.4l-3.7 -6.6M268.0 451.0l11.8 -4.2l10.6 -4.5l14.7 -3.8l15.0 -8.6l12.9 10.3l3.9 3.8l0.0 9.3l-0.6 1.0l3.1 5.3l-9.8 8.0l-5.0 7.3l-12.3 7.1l-6.3 1.6l-20.6 11.5l-12.6 -0.1l-15.4 -2.0l-6.1 -6.3l-4.5 0.5l-0.9 -13.1l5.1 -5.1l10.0 -7.7l7.5 -5.0l8.2 -4.1M334.0 479.0l-12.8 -3.4l-11.3 2.4l-7.0 -5.3l-7.6 -3.4l-7.0 0.7l-3.5 -4.4l-7.1 0.5l-1.6 -11.6l6.1 -1.3l10.3 -3.2l15.4 -1.1l11.0 -0.7l11.6 -1.1l10.6 5.4l9.6 1.7l6.6 2.1l9.3 3.5l-4.7 6.4l-0.0 4.0l-7.9 3.7l-9.1 1.0l-13.4 5.2l-12.9 -2.9M290.8 463.0l-6.2 -6.2l5.6 -8.3l2.1 -1.2l3.9 -9.8l6.8 1.9l8.6 -3.6l11.8 -1.4l1.3 1.8l4.8 0.5l8.4 5.7l5.0 4.7l-2.1 -0.3l1.5 9.2l0.6 5.4l-3.5 5.9l-4.0 5.7l-7.6 1.2l-12.1 0.4l-7.3 1.2l-7.1 -5.9l-5.8 -0.9l-2.6 -3.1l-7.9 -3.6M328.1 435.4l6.3 7.5l4.5 5.4l2.7 8.8l6.0 1.6l-2.3 12.1l-3.9 10.5l-10.4 9.4l-15.0 7.3l-16.1 0.2l-12.2 3.4l-9.5 -5.6l-7.1 -4.0l-7.3 -6.7l3.3 -6.9l0.4 -9.1l4.8 -9.2l12.3 -8.5l12.2 -11.8l16.7 -4.2l11.4 0.6l8.0 6.1l4.6 5.9l2.1 4.2M307.8 439.5l10.7 -2.8l10.9 -1.2l8.5 6.7l3.6 6.0l0.2 8.5l-1.2 3.6l2.5 7.9l-2.5 4.5l-1.8 8.7l-10.1 6.5l-9.6 2.9l-11.7 -2.7l-6.9 0.9l-11.5 -9.0l-8.7 -1.6l-0.7 -9.5l0.5 -4.2l3.8 -8.5l3.7 -3.4l7.6 -6.9l4.8 -1.8l10.1 -3.3l11.6 -4.6" fill="none" stroke="#111" stroke-width="0.9" stroke-opacity="0.5"/>
<path d="M298.9 486.3l11.1 -12.1l8.5 -12.4l12.5 -4.4l18.1 -6.8l10.8 -2.6l15.3 -3.0l12.6 -6.0l16.9 1.1l18.3 6.4l5.0 10.6l-2.6 11.1l-9.2 7.7l-11.5 12.5l-12.4 7.3l-10.2 7.1l-18.6 5.1l-12.2 1.6l-11.5 5.7l-16.5 -2.3l-8.7 -11.1l-11.8 -4.6l-4.3 -9.2l6.4 -13.9M333.4 446.4l14.3 -1.5l16.5 -2.5l12.8 -0.1l11.7 7.2l15.3 -0.4l13.8 10.2l5.1 6.6l-1.9 5.7l-0.5 6.3l-8.9 9.9l-15.0 6.4l-16.0 3.5l-15.5 -0.2l-16.5 -0.1l-13.5 -3.0l-16.6 -1.4l-5.4 -3.2l-20.2 -1.6l-6.7 -5.8l0.4 -13.0l6.8 -8.7l15.4 -6.9l10.2 -1.6M425.8 457.3l1.9 14.0l-1.4 11.5l-6.0 12.1l-19.4 6.0l-13.3 5.6l-11.8 2.2l-22.0 0.2l-19.3 2.6l-23.4 -1.8l-21.8 -8.9l-4.6 -14.4l6.2 -14.1l11.8 -10.9l11.3 -5.3l9.6 -2.0l13.4 -13.6l16.4 -5.5l26.0 2.1l17.2 4.9l19.6 6.9l12.2 6.0l-0.3 14.2l4.5 11.9M297.8 482.2l7.0 -6.0l4.1 -15.7l13.2 -1.6l10.1 -6.1l9.2 -6.0l4.4 -5.9l19.0 -2.8l14.9 -4.8l11.2 5.3l8.8 -3.3l8.9 13.6l0.4 4.1l-3.0 15.4l-1.3 7.7l-5.6 10.5l-8.2 2.7l-15.2 6.2l-11.1 0.3l-10.4 4.6l-10.8 1.5l-9.9 -2.0l-15.6 -3.5l-10.4 -4.3M397.3 480.1l-6.2 3.9l-9.1 6.1l-9.0 9.3l-14.8 7.4l-16.6 0.1l-9.4 0.5l-15.4 -1.1l-1.6 -9.5l-7.3 -4.4l-1.9 -6.8l5.6 -6.2l4.2 -6.6l9.8 -7.1l15.2 -4.7l7.6 -6.8l11.9 -5.3l14.8 -5.9l17.8 0.2l12.4 5.6l2.7 5.9l1.9 6.0l-6.7 7.7l-5.3 5.0M397.4 495.7l-5.7 3.9l-13.9 2.9l-13.8 1.2l-14.7 2.6l-19.1 3.2l-15.8 -2.0l-12.6 -7.6l-18.6 -2.1l-7.0 -12.8l5.5 -8.1l4.7 -5.9l13.7 -3.1l13.8 -5.4l7.9 -1.8l13.8 -5.3l15.8 0.2l20.3 -4.8l17.4 7.6l9.9 8.0l6.5 9.6l2.0 0.5l-6.8 10.8l-0.4 3.3M317.7 488.7l-8.4 -7.5l-2.5 -6.0l-7.5 -4.8l1.5 -12.7l0.6 -9.0l15.3 -1.2l21.6 -1.7l10.5 -2.7l16.2 4.6l14.9 -1.5l6.7 4.3l8.6 5.4l12.0 5.5l11.1 7.9l3.2 6.7l-7.2 8.6l-10.5 6.2l-11.6 6.2l-17.4 3.8l-13.2 0.5l-15.2 -0.3l-17.0 -6.7l-7.0 -5.7M383.3 485.6l-19.6 11.0l-10.7 2.1l-23.7 5.5l-18.4 4.0l-18.7 0.5l-17.7 -8.0l-14.9 -6.9l-0.8 -11.5l3.8 -11.7l6.4 -8.0l9.2 -6.4l5.4 -9.3l11.7 -10.4l12.2 -9.1l20.8 -5.4l23.2 -4.7l23.3 4.5l13.0 2.2l9.9 13.2l3.8 6.1l8.3 9.7l-5.9 14.1l-1.5 6.9M411.8 446.3l6.2 9.6l-2.3 3.8l-1.7 10.6l-6.1 6.7l-6.0 12.8l-15.7 8.2l-20.1 1.4l-23.6 3.4l-23.1 4.1l-23.5 -0.3l-16.8 -8.6l-8.3 -6.6l-4.9 -7.1l10.7 -12.0l13.8 -2.9l12.5 -10.3l13.2 -7.9l17.3 -10.7l18.9 -1.0l26.4 -7.4l20.0 4.7l11.7 7.5l5.3 9.3M299.7 504.8l-11.2 -2.9l-15.7 -9.4l-2.2 -6.9l-1.0 -10.0l6.6 -15.4l1.6 -12.0l19.0 -10.6l20.7 -3.9l26.7 -8.9l24.6 11.5l13.1 9.1l12.6 3.9l12.2 7.4l6.4 8.1l-1.4 8.1l-10.3 16.3l-20.0 6.8l-21.9 7.9l-23.6 2.4l-27.4 3.9l-17.5 -7.9l-10.6 -8.2l-7.1 -9.9M368.7 448.4l5.4 8.3l11.0 3.2l7.4 5.4l9.2 6.6l0.8 10.6l-6.0 12.1l-11.9 3.6l-17.9 8.0l-10.3 -0.8l-16.4 -1.4l-9.4 -5.3l-9.3 0.3l-17.3 1.4l-9.1 -8.4l-7.1 -8.6l0.5 -9.2l5.9 -6.8l7.7 -12.1l12.0 -0.5l14.1 -6.1l9.5 -4.2l14.9 3.8l11.5 -3.8M414.3 449.8l-11.0 14.4l-9.2 11.4l-4.3 13.4l-8.2 4.8l-14.6 13.1l-19.3 11.2l-23.6 4.5l-17.7 0.2l-10.0 0.2l-18.7 -6.5l-8.9 -12.1l-6.3 -7.5l6.9 -15.5l12.0 -9.1l17.2 -15.1l12.0 -3.1l15.2 -9.7l17.0 -8.8l16.8 -6.4l29.9 -4.5l10.9 4.4l11.3 11.2l-2.7 14.6M352.9 507.2l-13.0 -0.2l-14.3 -8.4l-11.5 -1.7l-5.7 -6.6l-6.9 -6.8l-8.9 -12.1l1.1 -8.5l10.3 -14.2l18.6 -11.7l13.9 0.8l16.2 -0.0l14.4 -1.9l8.6 1.6l13.8 2.8l15.9 4.3l11.6 0.3l4.1 14.9l-2.2 13.5l-11.4 5.8l-4.6 10.6l-19.4 7.8l-9.6 4.7l-18.8 5.5M302.0 497.4l-20.4 -7.2l-18.5 -5.5l-11.6 -4.9l-4.8 -14.0l3.8 -10.6l18.6 -1.9l12.1 -6.9l12.6 -6.5l14.2 -0.6l16.4 1.7l14.4 -3.1l20.5 2.3l16.8 5.9l19.5 4.4l5.1 5.8l10.0 12.2l9.6 8.7l-7.1 9.5l-7.2 6.1l-14.6 4.8l-19.0 0.5l-13.3 3.9l-15.1 2.4M367.3 495.0l-8.9 4.8l-20.4 7.4l-10.7 0.8l-10.9 1.2l-16.1 -0.8l-5.5 -0.3l-12.2 -3.2l-6.0 -8.4l-0.2 -4.9l1.4 -3.3l8.9 -15.1l16.3 -4.4l14.7 -2.2l16.1 -9.0l15.1 0.3l6.1 -5.6l16.9 5.0l14.7 -2.5l11.3 2.4l12.0 2.3l2.6 8.8l-9.3 10.1l-9.9 7.2M378.1 445.3l14.6 -1.9l15.3 2.7l10.1 6.8l6.6 5.3l-11.0 9.4l-11.4 6.6l-15.3 13.7l-17.2 -1.6l-14.9 6.9l-13.1 7.7l-19.5 2.4l-23.5 1.1l-11.0 -4.0l-7.0 -1.8l-0.6 -8.8l8.0 -14.4l13.1 -7.5l12.5 -3.4l11.3 -4.4l16.9 -10.9l16.9 -1.2l11.2 -6.1l16.9 -0.6M403.0 469.5l-12.2 10.9l-17.6 9.8l-10.1 9.5l-20.1 8.7l-18.7 3.2l-21.7 9.0l-17.0 -1.8l-9.9 -3.7l-7.9 -8.8l-3.4 -10.7l8.7 -15.2l17.1 -9.1l16.2 -8.5l17.1 -10.9l18.0 -3.7l19.8 -5.0l18.1 -5.6l21.9 -1.4l15.8 2.0l1.2 10.7l-6.0 16.7l-16.8 7.2l-10.8 13.7M348.3 509.6l-21.1 6.7l-12.5 -1.6l-21.6 -7.5l-8.5 -4.9l-10.0 -12.5l5.6 -15.1l11.7 -8.3l13.2 -7.1l12.0 -7.4l15.9 -10.1l17.5 -5.8l25.6 -7.2l15.9 5.0l12.5 12.8l-3.8 10.1l2.6 9.2l-6.1 10.0l-12.1 13.0l-10.8 7.5l-13.8 10.5l-13.9 4.1l-24.0 4.8l-17.9 -4.6M325.8 506.1l-15.3 -6.2l-15.1 -5.1l-16.7 -5.4l-6.0 -17.6l5.8 -8.8l9.6 -8.0l19.9 -0.3l7.4 -8.5l13.0 -2.6l18.5 -2.6l15.4 -1.0l18.0 1.5l23.0 2.7l13.2 9.3l0.2 9.4l4.2 15.7l-3.0 6.3l-5.4 9.0l-13.1 6.0l-12.8 1.7l-17.1 1.9l-15.6 1.4l-15.6 5.1M409.1 482.0l-3.4 7.1l-12.1 12.1l-19.2 -0.0l-21.8 8.0l-17.9 -2.2l-13.9 -10.4l-12.2 -1.0l-9.4 -2.4l-3.2 -5.5l-12.5 -2.0l-4.3 -6.1l-1.0 -6.4l15.6 -12.0l11.3 -3.1l24.3 -6.5l17.5 -0.7l16.5 -1.6l16.2 1.3l15.1 2.3l8.3 6.6l2.2 5.2l7.4 3.2l-5.0 4.9M294.9 489.0l4.6 -10.4l3.6 -11.2l12.4 -7.2l15.7 -13.1l23.7 -8.1l22.6 2.7l24.1 2.8l12.2 5.5l7.0 10.4l7.5 6.4l3.1 7.5l0.4 10.9l-10.4 8.7l-17.5 10.9l-18.3 4.3l-27.4 4.5l-23.4 -5.4l-19.5 2.3l-17.3 -1.2l-4.7 -13.8l0.2 -8.0l5.4 -9.4l2.3 -11.2M414.4 490.1l-15.8 10.1l-14.0 5.7l-10.4 5.3l-15.4 2.7l-17.4 0.1l-9.5 6.3l-15.7 -1.9l-11.3 -3.4l-8.8 -5.1l-5.7 -6.6l-8.9 -9.4l10.1 -4.0l8.6 -16.5l13.3 -8.6l19.0 1.2l18.9 -8.4l10.9 0.4l13.0 -3.5l17.0 -0.8l11.7 1.9l21.8 -0.2l3.2 4.2l4.3 12.3" fill="none" stroke="#c0261f" stroke-width="0.9" stroke-opacity="0.4"/>
<path d="M371.2 396.4l-0.5 -8.0l0.2 10.3l14.0 -11.6l-0.6 2.4l7.2 -13.1l19.3 16.1l-3.4 -4.1l-1.1 5.3l-7.7 6.7l-8.6 8.6l3.8 1.5l-17.0 -7.3l-7.2 4.0M410.1 414.2l-11.5 4.3l-6.1 -1.4l-9.0 -8.9l5.6 -3.5l-1.3 -4.2l13.2 -9.0l16.5 4.9l7.1 7.0l-5.8 -0.9l2.0 4.8l-7.7 9.9l-15.1 2.2l1.8 7.3M390.6 421.2l-11.1 -5.6l-10.5 5.5l-8.2 -4.9l0.3 -3.6l10.0 -15.2l12.9 -2.1l13.6 -1.7l6.6 1.1l10.3 -0.4l-10.0 4.4l-6.5 10.9l-0.4 11.4l-13.5 -6.2M406.2 402.3l8.0 -9.7l-0.1 8.2l2.6 18.0l-1.8 -2.6l-2.3 13.4l-15.8 -9.0l-3.2 1.0l-5.9 -4.5l-3.7 -7.0l6.5 -8.3l7.2 -3.1l10.0 -1.4l8.5 -6.2M381.0 413.8l-9.8 -7.3l-3.9 2.9l6.3 -18.2l3.4 -7.2l16.1 -1.6l-3.5 2.8l11.4 4.0l6.9 0.0l-0.1 5.7l-13.3 11.6l2.7 0.9l-7.9 4.9l-9.4 0.7M383.9 392.4l13.2 1.1l8.7 1.3l8.5 1.3l-1.2 6.4l-4.0 1.0l-11.1 15.5l-23.5 2.3l6.3 -8.4l-13.5 -1.1l-1.4 -15.4l13.6 6.9l-4.7 3.9l20.5 -9.0M380.6 404.9l0.2 -1.2l-5.0 -16.4l10.1 -1.4l-2.2 8.1l1.5 -4.4l15.6 -5.6l3.9 4.5l2.0 19.3l-3.1 1.5l-7.9 3.1l-4.4 -0.4l-4.6 7.0l-0.8 -10.2M386.6 411.0l-1.3 13.2l-11.1 -13.3l-5.8 5.7l11.5 -14.6l3.1 -0.9l14.8 -2.6l9.8 -7.9l-2.2 1.0l4.7 13.3l-6.4 6.8l-12.7 7.6l-7.2 -1.1l-5.4 -12.4M386.6 407.9l4.6 4.6l8.6 -20.3l20.1 -0.1l1.7 -0.9l2.4 8.8l7.1 6.3l-17.9 4.8l-4.4 -0.3l-8.1 8.3l-8.2 1.4l0.6 -7.3l7.8 -15.6l-4.7 0.6M401.0 426.0l-5.6 -9.8l-5.4 1.5l7.2 -14.2l10.7 -7.1l5.9 -2.2l8.4 -12.6l5.0 9.9l-10.4 15.3l11.3 12.5l-9.7 5.8l-15.3 -5.1l-8.5 -0.5l8.8 -0.7M399.2 416.0l-8.4 3.8l-27.8 0.2l6.3 -4.7l-5.7 2.0l8.9 -32.5l-8.8 2.0l27.0 -6.0l18.9 -2.1l3.9 5.2l-7.9 13.5l0.2 2.6l-9.7 7.1l1.2 13.8M372.5 425.0l2.8 -4.2l0.3 -2.9l11.1 -26.1l4.8 5.8l10.6 -5.9l12.6 -6.8l1.8 10.5l-13.1 23.3l6.3 -1.4l-17.1 17.3l-3.3 -10.7l-10.5 6.3l-9.6 -19.2M425.0 401.0l-25.2 13.5l-6.1 4.0l-21.8 -6.2l-6.0 -4.0l2.4 -3.3l-1.4 -4.7l18.9 -5.4l7.9 -1.8l23.9 0.3l9.6 0.9l-1.0 13.2l-12.7 -1.5l-5.0 6.7M369.2 406.2l7.9 -7.8l17.1 -4.4l2.6 -8.2l13.3 3.7l14.5 6.1l-1.6 -5.5l-7.1 16.2l-14.7 6.0l-6.5 8.6l-10.2 -5.1l-7.1 3.3l-3.9 -8.3l-2.8 -5.9M381.0 390.5l-1.6 -8.8l19.1 -5.5l1.1 -5.4l7.0 2.2l7.2 -6.5l14.7 11.3l-1.7 6.5l-7.7 4.0l-1.8 1.6l-9.4 15.1l-6.7 1.0l-18.4 -1.5l4.4 -8.2M426.9 393.6l3.3 3.7l-23.7 2.0l-3.6 1.5l-10.7 -0.2l-17.5 -7.4l0.5 -5.6l9.2 0.8l2.1 -6.3l7.6 -0.5l9.0 -3.2l7.2 2.2l8.6 -1.9l8.5 7.7M406.2 406.4l-0.5 -17.6l2.9 4.7l-1.2 0.2l6.2 0.7l3.8 -7.3l12.9 11.5l-1.1 -5.8l3.5 5.6l-9.7 -0.5l-2.4 16.1l5.0 0.1l-9.7 -1.7l-4.9 -6.7M407.7 413.0l-32.9 6.5l0.5 -7.4l-3.4 -2.9l4.0 -12.6l8.0 -5.9l20.3 -7.7l18.0 5.3l13.1 5.7l-7.7 -3.9l-17.5 17.6l-1.1 10.4l-29.8 -7.8l-10.9 5.9M393.5 411.2l5.6 8.0l-14.4 -0.9l-17.2 -8.8l14.8 -5.8l2.1 -1.3l8.9 -8.2l-3.5 -4.7l5.8 -10.2l5.9 18.7l-0.8 4.6l-6.1 -6.2l24.3 12.9l-18.3 8.1M405.9 420.5l0.8 2.6l-4.6 5.9l-9.4 -3.3l-0.5 -8.0l1.2 -8.6l2.0 -1.1l-1.1 2.2l14.6 -10.8l-4.6 -4.0l7.7 11.7l12.3 2.3l-12.3 4.1l7.1 16.4M427.9 403.4l-3.5 4.6l-16.0 -3.7l-2.9 3.8l-9.2 -2.1l3.3 3.4l-6.6 -10.1l1.8 -8.2l18.2 0.1l-1.6 -3.7l-1.1 1.5l20.8 4.3l-7.9 7.6l5.7 -1.8M401.0 388.9l19.7 12.8l-4.3 1.0l7.2 8.1l-11.6 3.7l-15.5 4.0l-11.0 2.5l-3.9 7.9l-6.0 -8.6l9.6 -10.3l2.4 -5.7l5.1 -15.3l23.5 5.6l-5.7 -7.5" fill="none" stroke="#333" stroke-width="0.8" stroke-opacity="0.55"/>
<path d="M409.2 469.3l-1.8 12.3l-8.8 17.6l-18.4 11.9l-18.7 5.9l-25.9 6.0l-28.2 -1.7l-25.9 -1.5l-27.8 -9.3l-13.4 -11.3l-8.1 -13.5l1.1 -19.0l7.9 -14.9l5.6 -11.8l9.7 -13.8l13.3 -15.2l17.0 -11.2l35.3 -9.9l29.2 2.5l24.8 12.2l18.3 15.8l6.5 14.0l5.0 12.2l6.2 16.5l-3.4 12.8l-6.8 18.1M258.7 445.5l5.6 -13.0l21.7 -14.6l19.4 -4.9l36.6 -6.8l31.5 4.6l19.8 5.5l22.3 16.2l8.6 10.9l5.8 11.8l-3.2 14.6l-4.9 10.8l-6.2 12.6l-24.1 8.6l-18.8 10.2l-25.2 0.5l-28.3 6.0l-31.4 0.4l-24.3 -5.5l-23.1 -11.9l-11.2 -12.7l3.8 -16.7l9.4 -7.2l13.4 -17.1l14.7 -13.8l10.2 -11.8M403.6 458.5l-9.5 19.2l-7.3 12.6l-4.1 12.7l-13.5 16.6l-26.5 12.3l-26.2 5.0l-29.5 -3.7l-24.6 -12.0l-9.5 -18.1l-9.7 -10.7l-0.4 -12.9l-3.1 -19.4l-0.7 -16.4l8.4 -11.0l22.5 -17.8l19.5 -8.0l27.0 -3.3l25.9 1.1l27.3 5.6l20.1 13.9l10.2 10.4l6.7 21.9l-7.0 16.6l-6.9 10.1l-13.0 13.8M360.2 510.4l-24.5 7.5l-26.1 3.5l-30.1 0.4l-14.9 -4.3l-19.5 -13.2l-10.2 -12.6l-2.5 -14.7l7.4 -26.5l16.8 -12.7l29.4 -13.8l19.1 -2.5l31.8 -6.8l24.9 4.6l14.9 -4.2l34.4 -2.0l25.5 4.6l19.5 11.3l6.1 20.1l-9.6 17.4l-21.9 18.3l-24.9 10.5l-19.3 10.7l-25.4 7.9l-22.9 8.0l-23.1 1.5M428.1 458.1l-9.6 16.3l-7.3 12.1l-14.7 5.3l-15.8 7.9l-17.0 14.4l-19.0 5.5l-27.1 11.2l-26.3 -0.0l-32.3 -11.4l-12.8 -5.9l-7.1 -19.5l-0.5 -12.9l2.6 -12.4l2.0 -10.6l10.6 -10.8l10.1 -11.5l24.6 -10.7l21.8 -4.4l24.3 -4.9l29.1 1.9l21.9 7.0l20.2 8.2l19.3 11.0l2.7 16.2l-7.9 11.6M418.8 480.7l-12.6 13.5l-10.6 9.9l-19.1 7.6l-22.2 11.5l-28.6 7.0l-21.8 1.1l-23.1 -4.4l-14.9 -12.8l-8.2 -11.2l-5.9 -8.2l-1.4 -10.2l-8.7 -9.0l-5.2 -12.4l-4.1 -15.8l14.5 -20.8l22.4 -8.6l19.0 -12.8l33.2 1.5l20.7 7.6l22.5 -0.5l18.4 2.6l16.0 10.2l12.1 0.8l10.8 12.9l5.6 11.7M401.4 413.8l11.7 12.2l5.8 13.9l-3.9 11.7l-1.0 12.0l-4.7 15.4l-9.0 13.9l-5.2 16.9l-24.2 9.6l-28.2 4.9l-28.7 3.0l-24.6 -0.6l-20.3 -12.8l-15.9 -11.6l-5.6 -5.5l-10.5 -16.1l-6.2 -11.4l-1.2 -9.4l6.3 -12.7l8.1 -14.5l24.0 -17.1l25.0 -4.5l23.4 -8.7l36.2 -0.2l17.9 -4.4l25.4 9.5M423.6 439.8l4.2 16.4l-6.3 13.0l-11.7 15.0l-11.7 12.9l-17.3 7.4l-16.6 11.0l-23.1 10.9l-25.3 2.9l-28.1 4.0l-23.7 -7.5l-14.3 -6.5l-6.5 -13.2l1.2 -15.7l6.5 -13.5l1.6 -13.9l4.9 -12.1l5.3 -8.1l17.3 -16.7l18.9 -15.5l20.8 -6.5l26.0 -6.9l21.3 1.9l23.0 8.6l18.5 7.3l9.4 11.9M336.5 528.6l-17.3 1.0l-27.7 -12.2l-16.6 -2.1l-10.4 -9.9l-9.7 -13.8l-3.9 -10.8l0.1 -16.8l12.4 -9.9l7.7 -12.1l19.6 -16.1l25.8 -10.5l16.5 -7.9l32.0 -3.3l26.0 3.2l15.8 10.5l13.3 9.3l6.1 14.1l1.6 12.4l2.0 13.1l-1.4 9.7l-2.0 13.3l-13.4 15.3l-16.5 13.5l-32.1 5.0l-28.5 3.4M426.4 490.0l-4.6 15.4l-10.6 4.7l-20.8 9.4l-21.9 8.0l-24.4 2.9l-20.9 -0.4l-24.1 -6.6l-18.9 -6.7l-17.4 -6.0l-7.7 -13.7l-1.6 -11.7l0.9 -10.7l1.1 -8.7l6.5 -15.9l3.9 -11.6l7.4 -16.3l25.8 -5.8l28.2 -1.2l25.7 4.4l20.8 5.5l14.2 9.1l14.2 11.6l3.7 6.9l11.9 12.3l6.9 13.3M420.5 476.8l7.1 9.3l-4.6 13.1l-14.3 19.8l-27.8 13.1l-19.7 5.7l-29.4 -0.8l-25.4 -2.2l-17.2 -14.6l-16.2 -7.4l-13.0 -10.2l-14.5 -13.9l-8.6 -11.2l-1.1 -13.6l4.1 -13.2l10.9 -15.5l18.8 -5.8l25.7 -12.7l22.9 -7.7l26.9 -1.1l26.1 5.2l23.5 6.8l7.2 11.3l6.0 12.5l9.5 14.5l2.4 16.0M325.4 408.9l23.6 3.0l27.0 8.4l15.9 8.0l17.9 11.3l11.6 14.5l-0.7 11.7l-4.1 14.1l-7.3 16.1l-12.6 4.8l-20.4 7.5l-19.5 4.3l-19.9 1.4l-25.5 0.3l-23.1 -5.0l-22.7 -0.5l-27.2 -4.2l-22.1 -8.2l-16.0 -12.4l-9.4 -16.0l9.3 -14.9l14.0 -13.7l14.5 -9.0l20.2 -5.9l13.5 -1.3l21.9 -3.5M338.0 405.1l24.1 -5.4l24.8 2.5l13.2 6.1l20.6 12.2l1.5 11.4l-0.4 16.2l-14.4 13.9l-12.9 8.1l-12.7 11.4l-7.3 11.3l-13.9 2.9l-17.0 10.4l-19.2 15.9l-24.4 -1.4l-24.9 7.2l-16.2 -11.6l-19.2 -16.2l-3.0 -5.6l-0.6 -14.6l-0.3 -11.1l4.5 -10.2l2.1 -14.0l13.0 -10.9l14.9 -9.0l13.7 -11.7M313.4 417.8l19.2 -3.1l17.6 5.8l24.6 -4.9l23.2 4.4l16.4 11.0l9.8 8.1l0.6 14.6l-12.3 14.1l-10.7 10.6l-14.5 9.9l-16.7 7.6l-13.4 2.7l-14.4 16.1l-16.7 3.6l-25.8 6.5l-26.3 -3.0l-18.8 -6.6l-14.7 -9.7l-0.7 -16.8l3.3 -13.5l1.4 -9.7l8.3 -12.6l11.5 -7.0l8.8 -13.8l13.9 -8.7M419.2 452.1l3.3 6.5l7.9 17.2l-2.5 11.0l-9.4 13.0l-21.0 14.0l-21.5 9.3l-27.6 1.2l-22.4 -1.2l-17.9 -4.3l-21.4 -6.5l-13.8 -13.0l-13.1 -10.9l-4.3 -9.7l-1.3 -10.3l6.3 -14.7l3.0 -13.5l9.7 -12.1l12.9 -12.5l15.5 -11.5l23.9 -8.3l30.9 4.4l19.4 2.4l19.5 6.1l10.8 16.2l5.1 12.6M259.3 484.0l-1.1 -11.9l-4.0 -13.5l5.2 -10.9l9.3 -16.3l26.3 -14.8l21.8 -8.4l23.3 -2.3l24.6 -0.4l24.6 0.6l13.4 9.7l11.8 9.3l2.2 9.3l-1.3 16.7l-1.5 20.3l-15.8 4.4l-11.6 17.2l-15.8 15.7l-22.8 9.7l-29.5 6.7l-26.4 -3.8l-17.8 -8.4l-7.0 -13.0l-4.8 -13.3l-3.5 -8.9l-0.8 -10.2M301.6 533.7l-26.1 -5.7l-16.2 -7.0l-17.0 -13.9l-8.8 -16.9l0.8 -11.8l7.9 -14.3l13.4 -14.9l11.2 -10.8l18.2 -8.3l26.4 -11.7l23.3 -12.3l34.4 -3.3l28.4 5.6l20.8 12.1l12.0 15.1l-2.7 14.4l-1.9 16.4l-4.0 7.5l-3.0 15.7l-11.6 16.8l-13.1 14.1l-20.2 10.7l-30.6 6.9l-28.1 -1.0l-25.9 -6.6M408.4 428.2l4.6 13.3l10.9 7.2l6.0 11.9l0.7 19.3l-2.8 8.9l-10.9 16.4l-23.9 11.8l-23.3 7.4l-32.6 0.6l-23.1 -3.7l-30.8 -1.9l-24.5 -10.7l-8.7 -12.0l-5.0 -19.3l-0.2 -7.9l14.3 -15.0l2.2 -14.1l12.1 -11.3l21.0 -15.3l17.6 -14.4l31.4 -1.3l33.4 6.5l17.1 10.9l21.8 13.4l3.2 11.3" fill="none" stroke="#c42a22" stroke-width="0.9" stroke-opacity="0.4"/>
<polyline points="174.2,415.5 183.6,524 324.8,633.4 467.2,523.6" fill="none" stroke="#000" stroke-width="2.2" stroke-linejoin="miter"/>
<line x1="206.3" y1="547.7" x2="211.1" y2="544.1" stroke="#000" stroke-width="2"/>
<line x1="248.7" y1="580.6" x2="253.5" y2="577" stroke="#000" stroke-width="2"/>
<line x1="291.1" y1="613.4" x2="295.9" y2="609.8" stroke="#000" stroke-width="2"/>
<line x1="357.1" y1="613.5" x2="352.3" y2="609.8" stroke="#000" stroke-width="2"/>
<line x1="400.9" y1="580.7" x2="396.1" y2="577" stroke="#000" stroke-width="2"/>
<line x1="443.3" y1="548.7" x2="438.5" y2="545" stroke="#000" stroke-width="2"/>
<line x1="169.9" y1="417.7" x2="175.9" y2="417.7" stroke="#000" stroke-width="2"/>
<line x1="173.7" y1="462" x2="179.7" y2="462" stroke="#000" stroke-width="2"/>
<line x1="177.3" y1="503.5" x2="183.3" y2="503.5" stroke="#000" stroke-width="2"/>
<text transform="translate(101.22,436.20) scale(0.975,1)" font-size="31.5" fill="#000">0.2</text>
<text transform="translate(106.55,480.00) scale(0.975,1)" font-size="31.5" fill="#000">0.0</text>
<text transform="translate(102.90,521.50) scale(0.975,1)" font-size="31.5" fill="#000">−0.2</text>
<text transform="translate(30.25,477.70) scale(0.975,1)" font-size="31.5" fill="#000">PC3</text>
<text transform="translate(133.84,583.60) scale(0.975,1)" font-size="31.5" fill="#000">−0.25</text>
<text transform="translate(183.77,616.50) scale(0.975,1)" font-size="31.5" fill="#000">0.00</text>
<text transform="translate(225.86,650.10) scale(0.975,1)" font-size="31.5" fill="#000">0.25</text>
<text transform="translate(124.54,648.70) scale(0.975,1)" font-size="31.5" fill="#000">PC2</text>
<text transform="translate(437.74,574.80) scale(0.975,1)" font-size="31.5" fill="#000">−0.25</text>
<text transform="translate(405.72,607.70) scale(0.975,1)" font-size="31.5" fill="#000">0.00</text>
<text transform="translate(364.06,641.90) scale(0.975,1)" font-size="31.5" fill="#000">0.25</text>
<text transform="translate(460.63,640.50) scale(0.975,1)" font-size="31.5" fill="#000">PC1</text>
<rect x="41.9" y="287" width="141.3" height="68.3" fill="#fff" stroke="#000" stroke-width="2.2"/>
<rect x="147.8" y="298" width="22.9" height="23" rx="1.5" fill="#b22622"/>
<rect x="147.8" y="324.2" width="22.9" height="23" rx="1.5" fill="#0b0b0b"/>
<text transform="translate(72.44,319.70) scale(0.983,1)" font-size="30.29" fill="#000">1 wpi</text>
<text transform="translate(51.94,346.10) scale(0.996,1)" font-size="30.03" fill="#000">control</text>
<polygon points="221.1,937.7 419,980.2 365.5,1140 178.2,1105.2" fill="#f5f5f5" stroke="none" stroke-width="1"/>
<polygon points="178.2,1105.2 365.5,1140 369.8,1232 166,1193" fill="#fafafa" stroke="none" stroke-width="1"/>
<polygon points="419,980.2 429.6,1063.2 433,1090 369.8,1232 365.5,1140" fill="#f8f8f8" stroke="none" stroke-width="1"/>
<polyline points="208.3,987.5 403.5,1029.4 412.6,1112.5" stroke="#adadad" stroke-width="2.0" fill="none" stroke-linejoin="round"/>
<polyline points="192.8,1050.4 382.5,1090.6 390.2,1176.3" stroke="#adadad" stroke-width="2.0" fill="none" stroke-linejoin="round"/>
<polyline points="291,954.7 244.3,1118.8 240.3,1204.6" stroke="#adadad" stroke-width="2.0" fill="none" stroke-linejoin="round"/>
<polyline points="400.8,978.4 347.9,1136.2 351.5,1226.5" stroke="#adadad" stroke-width="2.0" fill="none" stroke-linejoin="round"/>
<polyline points="175.5,1137 368,1175.4 426.3,1047.7" stroke="#adadad" stroke-width="2.0" fill="none" stroke-linejoin="round"/>
<polyline points="171.9,1170.8 369.8,1209.1 429,1084.2" stroke="#adadad" stroke-width="2.0" fill="none" stroke-linejoin="round"/>
<path d="M341.0 1052.5h0M303.8 1104.8h0M305.3 1155.3h0M300.3 1021.7h0M332.9 1039.8h0M323.8 1108.7h0M361.9 1028.5h0M307.9 1033.8h0M363.8 1083.0h0M356.9 1078.7h0M374.6 1075.9h0M327.9 1064.3h0M355.2 1079.1h0M308.9 1084.5h0M362.5 1038.5h0M292.6 1137.9h0M290.8 1091.5h0M287.6 1081.9h0M292.0 1107.5h0M352.4 1072.8h0M392.0 1034.6h0M357.8 1085.4h0M336.0 1032.1h0M365.0 1060.9h0M353.2 1016.9h0M308.4 1110.6h0M290.4 1130.7h0M352.8 1076.5h0M359.5 1060.8h0M328.6 1086.3h0M310.9 1135.6h0M302.2 1106.4h0M277.0 1091.7h0M288.1 1106.9h0M334.8 1089.0h0M328.1 1018.8h0M289.2 1078.7h0M291.1 1072.3h0M330.5 1042.4h0M341.7 1068.8h0M309.0 1046.5h0" stroke="#fcaa88" stroke-width="4.00" stroke-linecap="round" stroke-opacity="0.9" fill="none"/>
<path d="M301.4 1086.6h0M233.7 1048.1h0M222.1 1043.3h0M288.3 1103.2h0M281.0 1115.2h0M283.3 1122.2h0M240.5 1049.1h0M229.0 1051.1h0M249.0 1044.2h0M296.6 1124.6h0M288.2 1094.7h0M285.0 1094.8h0M289.8 1143.4h0M253.6 1058.1h0M294.9 1101.2h0M226.1 1044.7h0M251.1 1047.9h0M282.9 1100.1h0M265.6 1063.8h0M298.9 1058.6h0M258.9 1054.7h0" stroke="#111111" stroke-width="4.00" stroke-linecap="round" stroke-opacity="0.9" fill="none"/>
<path d="M288.6 1038.2h0M387.1 1036.9h0M332.4 1088.7h0M303.3 1105.5h0M325.7 1090.8h0M335.1 1015.5h0M320.9 1133.2h0M375.6 1059.3h0M308.3 1025.5h0M350.9 1056.3h0M300.1 1104.2h0M311.6 1139.0h0M308.5 1096.2h0M295.9 1078.4h0M313.6 1009.8h0M311.4 1084.7h0" stroke="#b3c5eb" stroke-width="4.00" stroke-linecap="round" stroke-opacity="0.9" fill="none"/>
<path d="M317.2 1065.4h0M328.6 1037.8h0M269.9 1060.2h0M324.2 1028.0h0M304.5 1068.8h0M342.7 1103.4h0M306.9 1048.8h0M319.9 1079.9h0M312.8 1047.6h0M296.4 1113.5h0M305.7 1072.6h0M307.1 1119.9h0M353.0 1052.5h0M274.4 1066.7h0M318.6 1128.4h0M307.7 1023.0h0M323.8 1138.3h0M300.3 1152.9h0M310.2 1156.6h0M317.7 1028.2h0M300.3 1147.2h0M296.9 1025.6h0M270.3 1036.0h0M320.0 1057.9h0M299.6 1066.2h0M364.0 1046.8h0M297.8 1138.0h0M300.2 1088.1h0M291.4 1069.3h0M273.4 1025.4h0" stroke="#4b4ba8" stroke-width="4.00" stroke-linecap="round" stroke-opacity="0.9" fill="none"/>
<path d="M298.9 1025.9h0M312.2 1117.0h0M361.2 1050.4h0M372.7 1054.2h0M350.6 1095.5h0M340.3 1083.2h0M308.2 1082.6h0M318.3 1044.8h0M276.4 1025.3h0M336.3 1076.1h0M310.0 1055.4h0M281.1 1104.5h0M311.3 1009.8h0M356.5 1081.8h0M328.7 1107.6h0M293.9 1031.6h0M326.4 1048.1h0M312.3 1165.3h0M297.5 1051.1h0M282.0 1023.1h0M295.9 1025.8h0M282.8 1090.0h0M301.9 1052.3h0M316.0 1032.6h0M315.6 1018.0h0M308.6 1122.2h0M322.5 1051.5h0M304.8 1041.2h0M301.1 1100.7h0M344.7 1050.0h0M299.5 1117.2h0M298.9 1026.7h0M348.2 1038.4h0" stroke="#7887cc" stroke-width="4.00" stroke-linecap="round" stroke-opacity="0.9" fill="none"/>
<path d="M279.4 1074.4h0M305.9 1037.3h0M301.6 1026.3h0M359.0 1082.3h0M310.7 1062.9h0M309.1 1088.0h0M332.5 1052.7h0M309.9 1168.2h0M301.8 1040.1h0M309.6 1056.1h0" stroke="#dae2f6" stroke-width="4.00" stroke-linecap="round" stroke-opacity="0.9" fill="none"/>
<path d="M315.3 1072.2h0M370.5 1020.9h0M271.0 1070.1h0M305.3 1092.9h0M354.0 1016.9h0M369.9 1064.4h0M314.3 1058.1h0M279.7 1090.5h0M311.2 1060.6h0M371.0 1041.6h0" stroke="#f3d8cb" stroke-width="4.00" stroke-linecap="round" stroke-opacity="0.9" fill="none"/>
<path d="M389.1 1056.9h0M298.0 1036.2h0M306.5 1174.2h0" stroke="#b22622" stroke-width="4.00" stroke-linecap="round" stroke-opacity="0.9" fill="none"/>
<path d="M314.9 1040.9h0" stroke="#e5684c" stroke-width="4.00" stroke-linecap="round" stroke-opacity="0.9" fill="none"/>
<path d="M280.5 1047.2h0M350.0 1057.0h0M395.8 1064.0h0M328.8 1065.5h0M295.3 1036.5h0M321.5 1085.9h0M298.7 1071.9h0M292.0 1050.1h0M287.3 1057.7h0M293.3 1105.9h0M301.3 1082.4h0M282.0 1073.4h0M306.7 1069.3h0M271.3 1070.0h0M279.3 1099.3h0M310.6 1084.9h0M302.8 1116.4h0M336.5 1062.9h0M310.3 1026.6h0M319.3 1066.0h0" stroke="#b3c5eb" stroke-width="4.00" stroke-linecap="round" stroke-opacity="0.9" fill="none"/>
<path d="M278.1 1085.6h0M254.8 1053.5h0M283.3 1033.6h0M287.5 1081.9h0M266.2 1061.4h0M279.5 1085.5h0M292.8 1078.3h0M287.6 1095.6h0M276.5 1066.3h0M267.1 1058.4h0M225.3 1036.3h0M284.2 1081.0h0M226.4 1032.6h0M285.7 1126.6h0M295.5 1078.6h0M237.6 1052.5h0M232.0 1054.6h0M235.5 1052.6h0M299.7 1050.0h0M294.3 1115.2h0" stroke="#111111" stroke-width="4.00" stroke-linecap="round" stroke-opacity="0.9" fill="none"/>
<path d="M327.4 1104.4h0M301.0 1146.6h0M278.7 1082.1h0M272.4 1072.9h0M342.0 1038.6h0M322.8 1033.6h0M310.5 1020.7h0M313.9 1099.9h0M287.7 1074.7h0M302.3 1057.6h0M317.3 1019.5h0M309.1 1048.7h0M261.1 1047.1h0M341.7 1038.6h0M299.2 1052.0h0M296.8 1132.8h0M305.6 1109.8h0M355.2 1018.5h0M287.4 1068.9h0M306.7 1119.3h0M324.7 1010.2h0M295.2 1038.2h0M338.4 1030.3h0M339.0 1059.0h0M342.9 1091.9h0M379.4 1041.1h0M299.1 1087.2h0M303.0 1125.5h0M284.8 1037.4h0M309.1 1033.0h0M309.5 1131.8h0M295.9 1072.7h0M312.4 1047.1h0M342.6 1012.7h0M279.4 1038.9h0M300.1 1088.1h0M393.1 1060.1h0" stroke="#fcaa88" stroke-width="4.00" stroke-linecap="round" stroke-opacity="0.9" fill="none"/>
<path d="M333.7 1057.0h0M321.7 1150.6h0M346.4 1085.0h0M345.4 1034.7h0M256.2 1048.0h0M332.3 1059.6h0M295.9 1094.3h0M329.8 1028.3h0M323.8 1053.5h0M317.6 1087.7h0M310.7 1057.7h0M338.4 1078.4h0M327.1 1019.7h0M299.7 1039.8h0M308.0 1043.4h0M317.8 1044.1h0M327.3 1083.3h0M307.2 1078.0h0M328.0 1050.8h0M287.7 1094.9h0M325.6 1124.2h0M305.4 1095.0h0M305.0 1013.8h0M333.1 1070.6h0M309.3 1075.4h0M340.8 1036.5h0" stroke="#7887cc" stroke-width="4.00" stroke-linecap="round" stroke-opacity="0.9" fill="none"/>
<path d="M304.4 1043.1h0M329.8 1098.4h0M259.6 1052.1h0M327.0 1014.1h0M345.6 1095.1h0M312.7 1134.1h0M311.9 1083.7h0M271.8 1072.7h0M343.4 1017.7h0M309.1 1067.7h0M309.6 1061.4h0M288.5 1073.6h0M302.5 1132.9h0M372.2 1045.5h0M321.7 1017.6h0M293.6 1101.4h0M347.4 1111.8h0M378.4 1058.7h0M344.6 1089.4h0M273.3 1036.7h0M327.7 1034.7h0M307.5 1053.8h0M345.5 1030.5h0M293.7 1034.1h0M304.6 1066.5h0M329.4 1026.7h0M301.4 1027.3h0M278.7 1055.6h0M264.4 1068.0h0M383.3 1050.7h0M340.5 1027.1h0M364.0 1074.3h0M323.3 1039.9h0M277.6 1097.8h0M348.9 1035.2h0M332.8 1108.6h0M333.6 1009.7h0M345.2 1021.8h0M349.6 1017.5h0M330.0 1054.3h0" stroke="#4b4ba8" stroke-width="4.00" stroke-linecap="round" stroke-opacity="0.9" fill="none"/>
<path d="M384.9 1050.4h0M356.2 1027.0h0M372.2 1075.6h0M326.7 1008.6h0" stroke="#b22622" stroke-width="4.00" stroke-linecap="round" stroke-opacity="0.9" fill="none"/>
<path d="M334.2 1031.5h0M291.1 1127.6h0M318.1 1105.8h0M309.3 1170.7h0M314.4 1021.0h0M296.6 1082.0h0M303.6 1143.5h0" stroke="#f3d8cb" stroke-width="4.00" stroke-linecap="round" stroke-opacity="0.9" fill="none"/>
<path d="M299.5 1072.8h0M362.0 1084.8h0M283.4 1066.2h0M316.4 1021.7h0M270.8 1035.6h0M289.6 1120.3h0M292.7 1113.9h0M391.4 1041.5h0" stroke="#dae2f6" stroke-width="4.00" stroke-linecap="round" stroke-opacity="0.9" fill="none"/>
<path d="M348.0 1106.6h0M344.1 1097.5h0M375.5 1058.5h0M387.1 1033.3h0" stroke="#e5684c" stroke-width="4.00" stroke-linecap="round" stroke-opacity="0.9" fill="none"/>
<path d="M308.8 1086.0h0M309.0 1070.7h0M281.9 1023.4h0M381.9 1069.0h0M308.0 1032.3h0" stroke="#f3d8cb" stroke-width="4.00" stroke-linecap="round" stroke-opacity="0.9" fill="none"/>
<path d="M303.0 1036.9h0M280.7 1031.3h0M330.0 1123.3h0M290.2 1030.3h0M359.5 1078.8h0M342.4 1012.0h0M284.0 1030.2h0M342.9 1061.6h0M308.1 1135.2h0M321.6 1016.5h0M268.5 1054.1h0M298.0 1076.2h0M308.4 1030.8h0M282.0 1026.8h0M356.4 1028.9h0M305.0 1013.7h0M284.8 1112.0h0M289.0 1058.5h0M323.2 1050.0h0M350.2 1099.4h0M284.7 1045.5h0M373.5 1031.5h0M309.3 1103.9h0M286.7 1054.6h0M324.9 1020.9h0M295.0 1133.4h0M324.1 1023.3h0M343.9 1058.8h0M308.0 1069.0h0M278.8 1027.4h0M369.9 1045.0h0M320.3 1134.6h0M298.8 1042.3h0M298.7 1080.9h0M271.5 1079.9h0M303.2 1087.1h0M290.1 1068.5h0M302.1 1036.1h0" stroke="#4b4ba8" stroke-width="4.00" stroke-linecap="round" stroke-opacity="0.9" fill="none"/>
<path d="M256.1 1061.5h0M281.3 1112.5h0M223.1 1039.3h0M286.3 1095.3h0M223.7 1038.1h0M284.7 1105.5h0M257.1 1042.5h0M288.4 1123.4h0M244.8 1046.1h0M251.3 1069.6h0M265.1 1056.6h0M287.1 1115.9h0M234.0 1045.0h0M295.2 1098.9h0M282.3 1133.5h0M285.1 1139.1h0M231.7 1040.7h0M223.6 1032.7h0M290.3 1077.5h0M290.9 1152.8h0M240.9 1041.8h0" stroke="#111111" stroke-width="4.00" stroke-linecap="round" stroke-opacity="0.9" fill="none"/>
<path d="M297.6 1102.6h0M310.4 1124.0h0M294.7 1081.7h0M312.1 1113.8h0M317.3 1014.2h0M295.7 1032.3h0M299.2 1024.3h0M334.2 1067.8h0M285.4 1061.6h0M299.2 1093.4h0M381.2 1030.5h0M337.2 1017.9h0M304.0 1052.0h0M303.9 1038.4h0M315.1 1028.9h0M300.5 1062.7h0M317.4 1039.1h0M281.9 1025.5h0" stroke="#b3c5eb" stroke-width="4.00" stroke-linecap="round" stroke-opacity="0.9" fill="none"/>
<path d="M291.9 1126.5h0M384.4 1045.8h0M335.6 1116.5h0M314.1 1055.1h0M295.7 1099.1h0M288.9 1068.3h0M325.7 1070.1h0M267.3 1060.2h0M280.4 1022.7h0M294.5 1013.4h0M308.9 1059.3h0M273.2 1086.8h0M286.5 1124.4h0M347.0 1069.3h0M293.5 1088.4h0M280.1 1061.5h0M344.7 1105.7h0M334.4 1096.2h0M285.9 1054.0h0M340.2 1054.9h0M343.3 1053.2h0M315.3 1027.2h0M299.1 1041.1h0M286.3 1072.0h0M351.6 1080.2h0" stroke="#7887cc" stroke-width="4.00" stroke-linecap="round" stroke-opacity="0.9" fill="none"/>
<path d="M313.3 1059.5h0M284.9 1105.9h0M268.4 1056.9h0M262.0 1046.1h0M313.6 1138.2h0M305.7 1132.2h0M298.9 1040.3h0M298.9 1047.4h0M287.4 1044.2h0M303.0 1082.6h0M285.2 1059.5h0M278.5 1090.2h0M353.2 1077.8h0M289.7 1074.3h0M315.1 1030.2h0M322.0 1065.1h0M291.4 1023.6h0M327.8 1059.6h0M269.0 1072.0h0M311.6 1029.2h0M285.9 1058.5h0M307.6 1065.7h0M381.0 1069.8h0M358.3 1055.6h0M280.3 1031.4h0M331.2 1014.4h0M371.3 1069.1h0M285.9 1120.6h0M320.3 1079.5h0M291.4 1086.5h0M316.0 1013.0h0M312.9 1101.4h0M320.9 1008.8h0M367.2 1051.1h0M306.5 1053.0h0M285.3 1122.4h0M291.5 1056.0h0M320.6 1148.6h0M325.1 1071.9h0M298.7 1051.4h0M266.2 1040.1h0M355.3 1066.5h0M317.8 1119.3h0" stroke="#fcaa88" stroke-width="4.00" stroke-linecap="round" stroke-opacity="0.9" fill="none"/>
<path d="M360.2 1090.9h0M309.6 1155.2h0M323.8 1057.4h0M334.1 1015.1h0M289.4 1091.8h0M361.5 1072.9h0M324.6 1136.8h0M320.5 1150.7h0M306.7 1109.3h0M365.8 1061.7h0" stroke="#dae2f6" stroke-width="4.00" stroke-linecap="round" stroke-opacity="0.9" fill="none"/>
<path d="M301.1 1093.1h0M304.4 1093.6h0M308.5 1040.2h0M384.1 1065.9h0M350.3 1027.3h0" stroke="#e5684c" stroke-width="4.00" stroke-linecap="round" stroke-opacity="0.9" fill="none"/>
<path d="M268.9 1059.5h0M293.1 1114.1h0M243.3 1067.5h0M286.6 1112.9h0M232.5 1054.4h0M240.0 1046.3h0M229.4 1056.5h0M290.1 1092.1h0M297.4 1117.9h0M262.6 1063.9h0M262.3 1063.9h0M287.3 1052.3h0M241.6 1047.5h0M228.3 1040.9h0M292.5 1149.0h0M295.1 1093.0h0M223.8 1041.8h0M250.4 1069.8h0M220.8 1045.9h0M292.8 1107.7h0" stroke="#111111" stroke-width="4.00" stroke-linecap="round" stroke-opacity="0.9" fill="none"/>
<path d="M310.8 1065.5h0M297.8 1074.5h0M295.4 1021.4h0M329.3 1091.5h0M303.2 1114.7h0M291.3 1058.9h0M264.7 1042.2h0M260.8 1061.0h0M271.0 1040.8h0M352.1 1050.4h0M268.4 1073.6h0M286.5 1035.7h0M351.3 1026.5h0M355.9 1037.7h0M322.8 1096.4h0M321.6 1062.6h0M285.9 1018.9h0M325.5 1029.0h0M303.2 1110.5h0M317.9 1159.0h0M258.6 1048.4h0M351.0 1083.5h0M294.7 1051.1h0M275.1 1078.9h0M379.7 1078.2h0M303.1 1034.2h0M275.4 1049.0h0M352.0 1076.3h0M304.6 1109.6h0M323.3 1132.8h0M284.0 1045.5h0M385.4 1029.1h0M318.7 1042.2h0M394.8 1042.3h0M320.7 1077.9h0" stroke="#4b4ba8" stroke-width="4.00" stroke-linecap="round" stroke-opacity="0.9" fill="none"/>
<path d="M305.2 1020.2h0M345.2 1040.5h0M356.8 1042.1h0M268.4 1052.2h0M305.5 1120.1h0M320.5 1053.4h0M325.8 1058.1h0M314.0 1023.6h0M267.2 1043.6h0M287.0 1082.5h0M293.1 1049.3h0M371.3 1047.5h0" stroke="#dae2f6" stroke-width="4.00" stroke-linecap="round" stroke-opacity="0.9" fill="none"/>
<path d="M301.7 1032.0h0M291.1 1055.1h0M319.0 1066.5h0M363.5 1033.1h0M311.7 1168.7h0M300.5 1157.0h0M263.9 1041.9h0M299.0 1018.1h0M312.9 1027.4h0M300.3 1028.3h0M323.8 1029.7h0M273.1 1063.2h0M298.5 1140.7h0M286.9 1041.4h0M272.7 1058.0h0M311.0 1057.0h0M321.5 1093.8h0M294.8 1137.8h0M291.7 1052.5h0M340.4 1095.2h0M390.9 1065.5h0M323.2 1069.5h0M278.9 1056.2h0M342.9 1052.4h0M303.9 1031.1h0M331.6 1115.5h0M360.7 1053.6h0M329.3 1035.3h0M323.5 1051.3h0M336.7 1051.9h0M310.9 1010.4h0M300.6 1155.6h0M294.0 1062.1h0M354.7 1044.6h0M329.6 1022.5h0M372.9 1076.0h0M295.4 1041.7h0M308.2 1051.5h0M281.8 1055.7h0M366.0 1042.4h0M272.0 1078.6h0M351.3 1058.8h0M328.6 1097.0h0" stroke="#fcaa88" stroke-width="4.00" stroke-linecap="round" stroke-opacity="0.9" fill="none"/>
<path d="M271.8 1048.9h0M383.5 1042.8h0M296.7 1093.4h0" stroke="#b22622" stroke-width="4.00" stroke-linecap="round" stroke-opacity="0.9" fill="none"/>
<path d="M309.4 1098.4h0M324.7 1010.4h0M306.2 1024.6h0M331.3 1027.6h0M346.9 1106.5h0M312.6 1075.6h0M276.1 1064.4h0M359.0 1042.4h0M319.6 1080.0h0M315.3 1040.1h0M291.5 1093.5h0M287.2 1062.7h0M336.1 1058.8h0M294.4 1032.9h0M292.6 1034.1h0M338.7 1059.6h0M298.7 1040.3h0M329.8 1076.3h0M304.1 1071.2h0M273.2 1064.8h0" stroke="#b3c5eb" stroke-width="4.00" stroke-linecap="round" stroke-opacity="0.9" fill="none"/>
<path d="M319.8 1128.2h0M325.8 1136.8h0M277.8 1034.8h0M294.2 1147.5h0M373.0 1036.1h0M323.7 1081.6h0M275.0 1042.2h0M391.8 1039.2h0M356.0 1030.9h0M334.6 1061.4h0M367.9 1026.9h0M306.1 1046.0h0M321.8 1024.8h0M277.1 1075.7h0M349.1 1061.2h0M291.5 1014.5h0M293.7 1124.1h0M290.3 1031.0h0" stroke="#7887cc" stroke-width="4.00" stroke-linecap="round" stroke-opacity="0.9" fill="none"/>
<path d="M393.9 1039.7h0M289.4 1075.4h0M350.8 1031.9h0M310.3 1122.4h0M331.5 1044.7h0M308.2 1064.8h0M313.3 1083.5h0M330.7 1116.3h0M308.5 1171.3h0" stroke="#f3d8cb" stroke-width="4.00" stroke-linecap="round" stroke-opacity="0.9" fill="none"/>
<path d="M349.4 1030.5h0M286.2 1084.9h0M340.8 1118.1h0M315.7 1032.2h0M332.0 1066.4h0M348.3 1021.1h0" stroke="#e5684c" stroke-width="4.00" stroke-linecap="round" stroke-opacity="0.9" fill="none"/>
<path d="M327.0 1053.1h0M338.7 1051.0h0M286.3 1042.5h0M320.4 1071.6h0M331.2 1026.3h0M259.4 1047.4h0M286.3 1049.6h0M339.9 1073.5h0M323.5 1051.1h0M300.8 1017.7h0M326.5 1049.4h0M306.0 1083.5h0M297.8 1076.0h0M388.0 1034.6h0M319.3 1050.7h0M350.4 1086.1h0M289.7 1055.9h0M304.0 1106.3h0M311.9 1113.2h0M280.1 1075.3h0M333.9 1015.0h0M304.7 1163.1h0M293.3 1063.5h0M323.1 1071.9h0M355.1 1015.4h0M315.8 1067.0h0M343.3 1047.7h0M303.5 1112.1h0M327.3 1046.3h0M349.3 1097.0h0M293.5 1089.6h0M328.7 1058.5h0M384.2 1055.2h0M312.7 1040.5h0M290.3 1036.4h0M267.6 1058.1h0M352.5 1066.1h0M328.7 1041.4h0M323.6 1031.8h0M320.4 1034.0h0" stroke="#fcaa88" stroke-width="4.00" stroke-linecap="round" stroke-opacity="0.9" fill="none"/>
<path d="M325.3 1087.3h0M301.0 1096.6h0M286.5 1123.2h0M286.4 1131.9h0M309.6 1169.9h0M317.6 1096.1h0M359.0 1051.2h0M320.2 1094.6h0M292.6 1081.4h0M317.0 1111.7h0M287.8 1119.5h0M362.4 1043.3h0M315.6 1042.4h0M283.2 1057.6h0M344.8 1016.2h0M276.2 1033.5h0M315.2 1035.6h0M278.7 1081.3h0M391.7 1047.6h0M384.0 1064.3h0M369.6 1048.9h0M342.5 1066.2h0M286.5 1072.9h0M296.3 1040.2h0M329.0 1049.6h0M309.2 1025.9h0M319.1 1088.3h0M284.4 1023.4h0M295.4 1088.5h0M262.4 1057.2h0M324.8 1036.1h0M285.4 1099.1h0M311.1 1162.4h0M289.0 1032.0h0M318.7 1034.5h0" stroke="#4b4ba8" stroke-width="4.00" stroke-linecap="round" stroke-opacity="0.9" fill="none"/>
<path d="M317.0 1156.3h0M300.0 1067.6h0M265.3 1045.7h0M305.9 1107.5h0M350.4 1034.3h0" stroke="#dae2f6" stroke-width="4.00" stroke-linecap="round" stroke-opacity="0.9" fill="none"/>
<path d="M276.5 1075.5h0M339.1 1040.2h0M335.9 1068.3h0M336.0 1085.2h0M302.8 1119.1h0M317.0 1038.1h0M338.9 1053.4h0M346.8 1064.3h0M336.1 1078.8h0M317.0 1043.8h0M311.4 1154.9h0" stroke="#b3c5eb" stroke-width="4.00" stroke-linecap="round" stroke-opacity="0.9" fill="none"/>
<path d="M252.1 1048.1h0M224.6 1037.3h0M294.7 1128.9h0M230.5 1033.2h0M284.6 1123.7h0M289.4 1147.6h0M277.0 1031.0h0M293.7 1140.1h0M295.8 1154.5h0M286.4 1100.0h0M295.7 1127.3h0M249.9 1064.1h0M225.7 1044.9h0M294.1 1105.2h0M240.8 1038.6h0M247.9 1058.0h0M294.0 1082.4h0M296.6 1066.1h0M292.9 1111.4h0M216.5 1035.0h0M221.3 1034.6h0M245.5 1065.5h0M289.0 1101.7h0M296.5 1071.0h0M286.3 1134.4h0M293.2 1165.8h0M266.2 1036.4h0M253.5 1058.6h0M244.3 1054.2h0" stroke="#111111" stroke-width="4.00" stroke-linecap="round" stroke-opacity="0.9" fill="none"/>
<path d="M279.9 1071.9h0M316.5 1158.4h0M301.4 1148.6h0M273.9 1034.3h0M298.2 1033.0h0M337.9 1046.6h0M272.0 1058.7h0M303.2 1010.5h0M359.3 1078.8h0M288.2 1019.2h0M284.6 1072.0h0M316.4 1023.9h0M305.4 1028.3h0M288.4 1031.0h0M363.9 1069.6h0M344.4 1114.9h0M320.8 1037.1h0M363.6 1041.2h0M311.1 1121.4h0M379.2 1072.4h0M293.9 1084.5h0M279.1 1049.3h0M311.6 1046.3h0M295.5 1045.4h0M290.2 1081.2h0M349.4 1079.7h0M291.1 1090.1h0M281.4 1069.2h0" stroke="#7887cc" stroke-width="4.00" stroke-linecap="round" stroke-opacity="0.9" fill="none"/>
<path d="M367.3 1029.4h0M381.3 1060.8h0M381.1 1069.6h0M387.6 1059.7h0" stroke="#b22622" stroke-width="4.00" stroke-linecap="round" stroke-opacity="0.9" fill="none"/>
<path d="M337.9 1101.3h0M297.4 1117.0h0M334.8 1010.8h0M289.7 1083.3h0" stroke="#e5684c" stroke-width="4.00" stroke-linecap="round" stroke-opacity="0.9" fill="none"/>
<path d="M349.4 1035.8h0M311.8 1114.9h0M262.3 1058.0h0M286.3 1074.4h0M299.6 1134.2h0M299.9 1060.3h0M259.6 1043.3h0M342.1 1016.9h0M288.4 1137.7h0M372.8 1023.1h0" stroke="#f3d8cb" stroke-width="4.00" stroke-linecap="round" stroke-opacity="0.9" fill="none"/>
<path d="M351.8 1099.8h0M351.8 1097.1h0M327.0 1044.2h0M311.8 1060.4h0M341.4 1084.5h0M258.9 1048.7h0M282.6 1022.1h0M313.7 1097.2h0M338.3 1103.4h0M296.0 1087.2h0M319.4 1025.9h0M338.6 1051.7h0M310.9 1020.0h0M341.0 1069.9h0M350.4 1083.2h0M279.9 1070.3h0M365.1 1035.7h0M282.3 1059.5h0M340.8 1017.0h0M311.0 1027.3h0M291.2 1014.7h0M309.6 1035.4h0M319.2 1115.0h0M301.9 1029.9h0M281.7 1066.4h0M290.6 1112.4h0" stroke="#4b4ba8" stroke-width="4.00" stroke-linecap="round" stroke-opacity="0.9" fill="none"/>
<path d="M322.6 1044.8h0M314.3 1044.6h0M379.1 1022.5h0M366.1 1031.1h0M293.0 1041.0h0M316.2 1061.0h0M292.0 1101.5h0M305.7 1121.9h0M326.6 1066.5h0M298.4 1068.5h0M308.3 1021.7h0" stroke="#dae2f6" stroke-width="4.00" stroke-linecap="round" stroke-opacity="0.9" fill="none"/>
<path d="M324.5 1048.2h0M315.9 1017.3h0M334.5 1048.0h0M324.9 1037.7h0M304.4 1080.5h0M279.1 1048.0h0M330.9 1110.1h0M284.8 1028.7h0M360.3 1047.1h0M315.6 1126.6h0M305.8 1058.8h0M339.5 1049.7h0M287.9 1042.2h0M343.1 1051.2h0M346.9 1096.2h0M376.1 1033.5h0M328.4 1104.8h0M311.3 1014.1h0M269.5 1027.8h0M390.4 1049.0h0M317.8 1074.2h0M323.0 1051.3h0M281.1 1045.7h0M348.7 1078.2h0M308.0 1024.7h0M293.7 1146.4h0M314.6 1114.4h0M367.0 1077.5h0M284.5 1113.0h0M347.1 1025.8h0M291.9 1143.7h0M365.8 1079.0h0M289.8 1018.8h0" stroke="#7887cc" stroke-width="4.00" stroke-linecap="round" stroke-opacity="0.9" fill="none"/>
<path d="M246.7 1044.5h0M295.3 1118.3h0M238.8 1052.1h0M229.0 1041.0h0M236.9 1044.9h0M284.2 1111.3h0M214.3 1025.6h0M292.6 1112.3h0M280.1 1083.3h0M285.6 1110.5h0M286.4 1095.3h0M295.7 1088.3h0M250.8 1054.9h0M285.8 1119.5h0M298.8 1168.0h0M258.5 1057.7h0M278.0 1086.9h0M219.8 1043.5h0M294.9 1132.6h0M248.6 1050.5h0M217.0 1053.0h0M272.0 1046.1h0M293.5 1080.7h0M244.5 1031.3h0" stroke="#111111" stroke-width="4.00" stroke-linecap="round" stroke-opacity="0.9" fill="none"/>
<path d="M364.4 1044.8h0M272.1 1067.0h0M281.1 1100.6h0M329.0 1081.8h0M283.0 1076.8h0M320.0 1113.5h0M294.7 1109.1h0M300.7 1064.1h0M347.7 1031.6h0M346.9 1114.2h0" stroke="#f3d8cb" stroke-width="4.00" stroke-linecap="round" stroke-opacity="0.9" fill="none"/>
<path d="M318.6 1067.1h0M291.4 1018.8h0M281.6 1079.8h0M319.4 1021.3h0M309.0 1125.3h0M312.0 1092.3h0M291.0 1067.6h0M287.6 1104.7h0M304.4 1081.0h0M267.4 1039.5h0M313.1 1117.9h0M293.1 1023.1h0M302.0 1124.1h0M320.7 1049.8h0M381.1 1066.9h0M296.3 1092.9h0M262.1 1050.0h0M350.1 1073.6h0M291.2 1082.7h0M332.7 1100.9h0M296.8 1045.4h0M387.9 1058.3h0M285.2 1075.6h0M325.5 1070.0h0M281.0 1029.8h0M327.6 1035.5h0M362.4 1086.6h0M308.3 1115.9h0M316.1 1065.3h0M381.3 1067.0h0M362.6 1066.3h0M257.9 1048.4h0M316.8 1028.4h0M341.9 1081.4h0M344.8 1019.6h0M266.2 1034.6h0M371.2 1064.1h0M298.6 1083.0h0M290.1 1042.8h0" stroke="#fcaa88" stroke-width="4.00" stroke-linecap="round" stroke-opacity="0.9" fill="none"/>
<path d="M283.9 1033.6h0M287.1 1019.0h0M384.7 1050.8h0M315.4 1058.8h0M299.8 1039.2h0" stroke="#e5684c" stroke-width="4.00" stroke-linecap="round" stroke-opacity="0.9" fill="none"/>
<path d="M290.5 1083.2h0M302.9 1056.0h0M304.3 1027.2h0" stroke="#b22622" stroke-width="4.00" stroke-linecap="round" stroke-opacity="0.9" fill="none"/>
<path d="M389.8 1043.6h0M337.1 1065.3h0M298.8 1061.4h0M331.3 1019.7h0M273.8 1060.2h0M257.6 1051.6h0M264.5 1049.0h0M271.8 1028.3h0M348.9 1064.6h0M296.0 1093.4h0M293.2 1063.3h0M295.4 1058.9h0M340.3 1055.7h0M301.0 1105.1h0" stroke="#b3c5eb" stroke-width="4.00" stroke-linecap="round" stroke-opacity="0.9" fill="none"/>
<path d="M320.8 1074.9h0M337.2 1033.9h0M300.7 1051.3h0M347.6 1045.8h0M309.7 1028.3h0M279.8 1062.7h0M391.0 1045.8h0M290.9 1073.8h0M322.5 1019.1h0M320.8 1104.6h0M267.4 1059.9h0M341.6 1012.6h0M280.8 1063.4h0M285.9 1112.9h0M326.8 1035.8h0M336.5 1072.3h0M286.5 1108.6h0M295.8 1050.9h0M293.1 1066.9h0M295.2 1107.2h0M280.0 1087.5h0M275.2 1030.7h0M292.7 1092.2h0M277.7 1101.0h0M313.7 1057.8h0M281.4 1096.6h0M346.8 1057.6h0M374.0 1047.3h0M272.2 1074.4h0M289.6 1015.7h0M297.1 1044.7h0M327.9 1054.8h0M348.5 1049.3h0M296.7 1043.6h0M353.0 1068.3h0M273.2 1051.6h0M335.5 1081.8h0M295.7 1023.0h0" stroke="#fcaa88" stroke-width="4.00" stroke-linecap="round" stroke-opacity="0.9" fill="none"/>
<path d="M296.0 1088.0h0M301.4 1099.6h0M355.3 1052.2h0M307.7 1078.7h0M337.4 1106.6h0M318.2 1059.6h0M306.3 1112.9h0M265.9 1070.3h0M378.5 1032.4h0M305.5 1053.9h0M349.5 1100.3h0M261.1 1058.1h0M313.7 1061.6h0M330.4 1056.7h0M262.8 1049.4h0M351.2 1028.8h0M320.7 1112.6h0M339.6 1063.6h0M300.7 1073.2h0M388.7 1063.5h0M277.3 1041.6h0M261.6 1048.9h0M308.0 1038.7h0M318.1 1073.8h0M346.1 1053.6h0" stroke="#7887cc" stroke-width="4.00" stroke-linecap="round" stroke-opacity="0.9" fill="none"/>
<path d="M291.0 1113.2h0M232.1 1047.7h0M210.3 1033.2h0M239.8 1058.5h0M219.7 1036.2h0M291.1 1123.7h0M233.9 1041.9h0M292.8 1101.3h0M294.5 1124.8h0M229.5 1045.4h0M236.4 1041.6h0M293.8 1138.9h0M296.1 1032.1h0M298.2 1044.7h0M298.8 1085.9h0M239.5 1045.9h0M283.7 1082.3h0M278.4 1118.2h0M288.1 1095.2h0M286.9 1132.1h0M260.3 1053.4h0M242.9 1039.7h0" stroke="#111111" stroke-width="4.00" stroke-linecap="round" stroke-opacity="0.9" fill="none"/>
<path d="M291.8 1076.6h0M335.7 1062.6h0M350.2 1058.8h0M296.2 1030.1h0M365.0 1030.3h0M355.7 1063.7h0M325.5 1021.0h0M390.6 1059.1h0M324.2 1088.5h0M293.2 1034.1h0M312.9 1033.5h0M338.8 1071.5h0M332.3 1106.4h0M316.4 1042.3h0M318.5 1057.7h0M309.5 1055.5h0M317.9 1020.1h0M385.5 1038.0h0M331.1 1049.3h0M335.9 1105.7h0M339.5 1012.4h0M284.5 1030.9h0M308.2 1073.5h0M282.3 1046.4h0M304.2 1117.5h0M309.7 1079.8h0M314.6 1047.9h0M307.3 1056.3h0M282.5 1099.2h0M293.9 1048.9h0M333.6 1093.1h0M294.5 1086.1h0M273.7 1039.9h0M290.8 1118.1h0M323.3 1070.5h0M291.9 1055.7h0M298.5 1066.2h0M275.9 1084.0h0M288.5 1054.3h0M282.2 1049.8h0M325.7 1056.1h0M287.4 1047.0h0" stroke="#4b4ba8" stroke-width="4.00" stroke-linecap="round" stroke-opacity="0.9" fill="none"/>
<path d="M300.9 1149.2h0M321.8 1067.6h0M322.0 1048.2h0M296.8 1071.1h0M330.2 1081.2h0M349.0 1034.6h0M358.6 1076.0h0M278.1 1085.0h0M268.9 1067.4h0M310.2 1011.9h0M347.1 1035.7h0" stroke="#f3d8cb" stroke-width="4.00" stroke-linecap="round" stroke-opacity="0.9" fill="none"/>
<path d="M307.5 1074.4h0M329.8 1060.3h0M281.1 1067.8h0M317.1 1158.0h0M386.3 1057.3h0M340.3 1014.6h0M366.6 1043.7h0M285.8 1027.1h0M302.2 1063.4h0M297.0 1015.7h0M295.6 1132.4h0M284.0 1064.2h0M319.4 1069.1h0M374.2 1030.9h0" stroke="#b3c5eb" stroke-width="4.00" stroke-linecap="round" stroke-opacity="0.9" fill="none"/>
<path d="M324.2 1075.8h0M306.6 1123.3h0M268.6 1047.4h0M327.2 1115.2h0M305.0 1055.6h0M317.4 1151.5h0M320.6 1070.4h0M302.9 1089.5h0M292.7 1033.3h0M318.6 1084.2h0" stroke="#dae2f6" stroke-width="4.00" stroke-linecap="round" stroke-opacity="0.9" fill="none"/>
<path d="M280.7 1081.1h0" stroke="#b22622" stroke-width="4.00" stroke-linecap="round" stroke-opacity="0.9" fill="none"/>
<path d="M307.9 1030.2h0M280.9 1048.8h0M277.4 1060.0h0" stroke="#e5684c" stroke-width="4.00" stroke-linecap="round" stroke-opacity="0.9" fill="none"/>
<path d="M295.7 1087.6h0M343.9 1044.7h0M293.1 1018.2h0M284.4 1084.0h0M319.9 1092.6h0M357.8 1066.5h0M329.8 1063.0h0M349.4 1043.6h0M324.8 1093.2h0M334.1 1092.0h0M293.2 1032.0h0M318.7 1115.2h0M310.1 1130.7h0M349.6 1044.1h0M303.7 1067.8h0M309.8 1050.4h0M296.0 1103.4h0M307.1 1021.9h0M301.5 1040.9h0M265.9 1052.0h0M350.9 1085.6h0M285.0 1087.9h0M280.4 1046.9h0M303.3 1060.5h0M330.0 1020.1h0M322.3 1056.9h0M380.7 1056.1h0M279.0 1086.6h0M341.3 1020.7h0M335.3 1072.8h0M281.9 1080.5h0M271.5 1075.1h0M281.0 1057.6h0M317.2 1091.4h0M291.1 1045.3h0" stroke="#4b4ba8" stroke-width="4.00" stroke-linecap="round" stroke-opacity="0.9" fill="none"/>
<path d="M309.7 1065.8h0M334.2 1023.8h0M309.2 1062.4h0M334.6 1084.9h0M363.5 1082.4h0M315.0 1138.5h0M302.5 1076.1h0M273.1 1070.0h0M265.1 1061.7h0" stroke="#f3d8cb" stroke-width="4.00" stroke-linecap="round" stroke-opacity="0.9" fill="none"/>
<path d="M328.3 1083.3h0M267.1 1074.3h0M303.0 1120.4h0M303.9 1089.1h0M386.2 1047.9h0M314.0 1140.9h0M294.5 1035.2h0M338.9 1036.3h0M377.8 1023.6h0M338.7 1069.7h0M356.8 1028.7h0M307.9 1022.8h0M270.0 1046.2h0M303.2 1146.0h0M328.4 1099.5h0M330.6 1030.7h0M362.6 1036.3h0M280.5 1091.8h0" stroke="#b3c5eb" stroke-width="4.00" stroke-linecap="round" stroke-opacity="0.9" fill="none"/>
<path d="M298.8 1111.8h0M341.1 1052.9h0M306.4 1087.9h0M377.3 1029.9h0M270.5 1085.1h0M314.0 1086.8h0M287.8 1127.4h0M291.2 1104.3h0M312.7 1024.0h0M323.6 1097.6h0M291.2 1100.4h0M273.1 1042.7h0M301.4 1110.6h0" stroke="#dae2f6" stroke-width="4.00" stroke-linecap="round" stroke-opacity="0.9" fill="none"/>
<path d="M301.6 1097.4h0M392.5 1042.4h0M299.1 1148.9h0M308.1 1155.8h0M307.1 1087.0h0M270.5 1051.1h0M305.1 1107.9h0M314.4 1102.8h0M309.6 1034.9h0M297.3 1036.7h0M360.0 1046.3h0M365.0 1063.2h0M309.6 1084.2h0M347.7 1034.2h0M311.0 1044.6h0M295.0 1058.6h0M297.8 1029.2h0M309.6 1032.3h0M316.1 1073.4h0M314.5 1064.9h0M298.8 1071.7h0M303.9 1090.7h0M286.5 1089.9h0M305.9 1012.5h0M292.5 1067.0h0M336.5 1091.6h0M352.3 1032.2h0M323.6 1136.9h0M331.5 1052.6h0M368.8 1073.7h0M312.7 1027.4h0M314.4 1034.1h0M309.2 1031.6h0M320.9 1074.5h0M305.0 1029.8h0M300.6 1083.1h0M287.2 1024.8h0M303.4 1157.1h0M307.1 1051.3h0M319.9 1156.2h0M349.2 1054.3h0M334.4 1062.9h0M351.8 1067.0h0M297.0 1071.4h0M282.3 1112.7h0" stroke="#fcaa88" stroke-width="4.00" stroke-linecap="round" stroke-opacity="0.9" fill="none"/>
<path d="M280.2 1060.3h0M284.4 1140.0h0M275.6 1088.7h0M291.4 1142.2h0M268.4 1067.4h0M233.7 1043.8h0M288.5 1108.2h0M219.3 1050.3h0M242.7 1056.1h0M230.0 1045.0h0M256.0 1066.0h0M232.4 1042.3h0M226.0 1045.7h0M284.6 1132.3h0M233.7 1054.7h0M241.1 1057.0h0M238.4 1057.1h0M268.5 1067.8h0" stroke="#111111" stroke-width="4.00" stroke-linecap="round" stroke-opacity="0.9" fill="none"/>
<path d="M291.3 1052.0h0M309.4 1081.2h0M352.2 1048.8h0M312.7 1063.0h0M283.2 1094.2h0M317.6 1035.4h0M320.0 1108.1h0M303.2 1140.4h0M332.9 1030.2h0M323.0 1084.4h0M293.4 1137.3h0M366.7 1056.3h0M294.8 1055.2h0M285.8 1081.3h0M344.2 1105.2h0M257.7 1049.2h0M339.8 1021.5h0M301.9 1086.5h0M267.6 1046.0h0M314.1 1081.5h0M338.6 1097.8h0M292.5 1041.7h0" stroke="#7887cc" stroke-width="4.00" stroke-linecap="round" stroke-opacity="0.9" fill="none"/>
<path d="M390.2 1065.4h0M376.2 1044.4h0" stroke="#b22622" stroke-width="4.00" stroke-linecap="round" stroke-opacity="0.9" fill="none"/>
<path d="M333.1 1055.2h0M297.8 1064.3h0M308.2 1015.7h0M298.9 1049.9h0" stroke="#e5684c" stroke-width="4.00" stroke-linecap="round" stroke-opacity="0.9" fill="none"/>
<polyline points="178.2,1105.2 221.1,937.7 419,980.2 429.6,1063.2" fill="none" stroke="#000" stroke-width="2.2" stroke-linejoin="miter"/>
<line x1="203.8" y1="987.5" x2="209.3" y2="987.5" stroke="#000" stroke-width="2"/>
<line x1="187.7" y1="1050.4" x2="193.2" y2="1050.4" stroke="#000" stroke-width="2"/>
<line x1="291" y1="949.7" x2="291" y2="955.7" stroke="#000" stroke-width="2"/>
<line x1="400.8" y1="973.4" x2="400.8" y2="979.4" stroke="#000" stroke-width="2"/>
<line x1="422.3" y1="1014" x2="427.8" y2="1014" stroke="#000" stroke-width="2"/>
<line x1="425.8" y1="1041.3" x2="431.3" y2="1041.3" stroke="#000" stroke-width="2"/>
<text transform="translate(171.14,991.50) scale(0.975,1)" font-size="31.2" fill="#000">9</text>
<text transform="translate(148.52,1055.70) scale(0.975,1)" font-size="31.2" fill="#000">10</text>
<text transform="translate(279.52,939.50) scale(0.975,1)" font-size="31.2" fill="#000">10</text>
<text transform="translate(396.24,964.00) scale(0.975,1)" font-size="31.2" fill="#000">8</text>
<text transform="translate(431.07,1013.30) scale(0.975,1)" font-size="31.2" fill="#000">5</text>
<text transform="translate(435.93,1044.80) scale(0.975,1)" font-size="31.2" fill="#000">4</text>
<text transform="translate(138.50,1005.40) rotate(-76.60)" font-size="31.00" text-anchor="middle" fill="#000" dominant-baseline="central" font-style="italic">UMAP1</text>
<text transform="translate(356.80,910.40) rotate(11.70)" font-size="31.00" text-anchor="middle" fill="#000" dominant-baseline="central" font-style="italic">UMAP2</text>
<text transform="translate(473.70,1014.40) rotate(83.30)" font-size="31.00" text-anchor="middle" fill="#000" dominant-baseline="central">UMAP3</text>
<polygon points="234.5,1506.6 431.9,1548.6 378,1709 191.1,1673.7" fill="#f5f5f5" stroke="none" stroke-width="1"/>
<polygon points="191.1,1673.7 378,1709 383,1801 179,1762" fill="#fafafa" stroke="none" stroke-width="1"/>
<polygon points="431.9,1548.6 442.6,1631.7 446,1659 383,1801 378,1709" fill="#f8f8f8" stroke="none" stroke-width="1"/>
<polyline points="222.8,1557.4 415.3,1599.4 424,1682.5" stroke="#adadad" stroke-width="2.0" fill="none" stroke-linejoin="round"/>
<polyline points="205.2,1625.8 393.8,1664.9 401.6,1750.9" stroke="#adadad" stroke-width="2.0" fill="none" stroke-linejoin="round"/>
<polyline points="292.1,1520.3 245.2,1682.5 241.3,1771.4" stroke="#adadad" stroke-width="2.0" fill="none" stroke-linejoin="round"/>
<polyline points="357.6,1535 308.8,1697.2 307.8,1784.1" stroke="#adadad" stroke-width="2.0" fill="none" stroke-linejoin="round"/>
<polyline points="422.1,1548.6 369.3,1709.9 373.2,1797.8" stroke="#adadad" stroke-width="2.0" fill="none" stroke-linejoin="round"/>
<polyline points="188.6,1706.9 381.1,1746 437,1617" stroke="#adadad" stroke-width="2.0" fill="none" stroke-linejoin="round"/>
<polyline points="184.7,1743.1 383,1782.2 440.7,1652" stroke="#adadad" stroke-width="2.0" fill="none" stroke-linejoin="round"/>
<path d="M308.9 1623.3h0M325.5 1711.8h0M291.1 1654.0h0M376.2 1608.8h0M361.6 1673.8h0M357.4 1632.9h0" stroke="#f3d8cb" stroke-width="3.80" stroke-linecap="round" stroke-opacity="0.9" fill="none"/>
<path d="M387.7 1660.2h0M294.1 1603.1h0M326.4 1654.4h0M396.1 1624.4h0M274.4 1636.7h0M330.3 1713.9h0M311.6 1647.1h0M340.9 1661.2h0M348.4 1607.9h0M292.4 1642.4h0M312.4 1605.3h0M308.6 1604.2h0M331.7 1607.7h0" stroke="#fcaa88" stroke-width="3.80" stroke-linecap="round" stroke-opacity="0.9" fill="none"/>
<path d="M374.4 1629.7h0M373.6 1667.0h0" stroke="#b22622" stroke-width="3.80" stroke-linecap="round" stroke-opacity="0.9" fill="none"/>
<path d="M295.3 1689.3h0M270.3 1636.4h0M290.9 1638.3h0M282.3 1629.8h0M270.9 1690.6h0M279.8 1652.5h0M300.0 1618.9h0" stroke="#111111" stroke-width="3.80" stroke-linecap="round" stroke-opacity="0.9" fill="none"/>
<path d="M323.9 1733.7h0M325.3 1637.1h0M319.0 1736.2h0M396.4 1603.1h0M278.0 1664.2h0M315.2 1619.8h0M353.7 1660.8h0M344.9 1629.1h0M281.9 1656.5h0" stroke="#dae2f6" stroke-width="3.80" stroke-linecap="round" stroke-opacity="0.9" fill="none"/>
<path d="M317.3 1614.1h0M332.2 1635.8h0M303.1 1631.1h0M352.4 1588.9h0M312.7 1712.6h0M381.8 1627.0h0" stroke="#b3c5eb" stroke-width="3.80" stroke-linecap="round" stroke-opacity="0.9" fill="none"/>
<path d="M333.7 1626.8h0M306.2 1621.4h0" stroke="#4b4ba8" stroke-width="3.80" stroke-linecap="round" stroke-opacity="0.9" fill="none"/>
<path d="M303.1 1678.0h0M332.7 1672.7h0M332.0 1644.0h0" stroke="#7887cc" stroke-width="3.80" stroke-linecap="round" stroke-opacity="0.9" fill="none"/>
<path d="M347.6 1661.4h0M312.8 1655.3h0" stroke="#e5684c" stroke-width="3.80" stroke-linecap="round" stroke-opacity="0.9" fill="none"/>
<path d="M328.4 1667.2h0M339.8 1699.5h0" stroke="#f3d8cb" stroke-width="3.80" stroke-linecap="round" stroke-opacity="0.9" fill="none"/>
<path d="M352.3 1621.4h0M286.2 1616.5h0M368.8 1655.9h0M335.0 1633.8h0M310.6 1607.6h0M356.5 1636.3h0M410.5 1616.5h0M298.3 1592.0h0" stroke="#b3c5eb" stroke-width="3.80" stroke-linecap="round" stroke-opacity="0.9" fill="none"/>
<path d="M361.4 1607.8h0M403.6 1631.4h0M280.3 1620.9h0" stroke="#4b4ba8" stroke-width="3.80" stroke-linecap="round" stroke-opacity="0.9" fill="none"/>
<path d="M297.1 1622.8h0M397.4 1612.4h0M322.5 1688.2h0M410.6 1606.6h0M311.4 1662.0h0M337.8 1671.6h0M338.5 1630.4h0M296.9 1656.1h0M348.2 1620.0h0" stroke="#fcaa88" stroke-width="3.80" stroke-linecap="round" stroke-opacity="0.9" fill="none"/>
<path d="M302.3 1634.1h0M278.4 1632.3h0M294.3 1667.4h0M240.9 1634.8h0M300.7 1691.4h0M242.2 1625.9h0" stroke="#111111" stroke-width="3.80" stroke-linecap="round" stroke-opacity="0.9" fill="none"/>
<path d="M328.6 1611.4h0M321.5 1648.1h0M341.4 1628.2h0M280.0 1608.2h0M340.5 1693.8h0" stroke="#7887cc" stroke-width="3.80" stroke-linecap="round" stroke-opacity="0.9" fill="none"/>
<path d="M266.0 1634.6h0M290.3 1638.9h0M384.0 1625.4h0M293.8 1617.0h0" stroke="#e5684c" stroke-width="3.80" stroke-linecap="round" stroke-opacity="0.9" fill="none"/>
<path d="M324.4 1584.5h0M325.0 1667.1h0M276.1 1650.3h0M320.3 1609.0h0M323.0 1662.0h0M313.4 1615.2h0M292.2 1662.5h0M383.2 1631.1h0M295.0 1636.8h0M342.6 1648.4h0M292.3 1650.5h0M333.5 1660.1h0" stroke="#dae2f6" stroke-width="3.80" stroke-linecap="round" stroke-opacity="0.9" fill="none"/>
<path d="M384.9 1624.0h0" stroke="#b22622" stroke-width="3.80" stroke-linecap="round" stroke-opacity="0.9" fill="none"/>
<path d="M224.6 1614.1h0M236.9 1623.9h0M250.4 1626.5h0M223.7 1622.5h0M293.5 1672.5h0M287.7 1678.9h0M297.1 1639.9h0M245.1 1638.0h0M266.3 1637.5h0M295.8 1670.8h0M262.2 1646.1h0M242.5 1633.5h0M271.3 1636.2h0" stroke="#111111" stroke-width="3.80" stroke-linecap="round" stroke-opacity="0.9" fill="none"/>
<path d="M302.2 1655.7h0M353.8 1652.0h0M359.2 1626.6h0M272.9 1616.7h0" stroke="#e5684c" stroke-width="3.80" stroke-linecap="round" stroke-opacity="0.9" fill="none"/>
<path d="M329.3 1656.7h0M332.4 1636.2h0" stroke="#4b4ba8" stroke-width="3.80" stroke-linecap="round" stroke-opacity="0.9" fill="none"/>
<path d="M307.3 1623.5h0M362.3 1597.5h0M327.3 1656.4h0M357.5 1629.1h0M392.5 1602.3h0M328.6 1588.7h0M385.4 1606.8h0M312.4 1683.3h0M339.6 1652.7h0M340.2 1665.0h0M291.9 1694.9h0" stroke="#fcaa88" stroke-width="3.80" stroke-linecap="round" stroke-opacity="0.9" fill="none"/>
<path d="M295.6 1624.1h0M325.6 1662.6h0M354.9 1636.4h0M314.8 1661.2h0M323.6 1673.9h0" stroke="#b3c5eb" stroke-width="3.80" stroke-linecap="round" stroke-opacity="0.9" fill="none"/>
<path d="M347.7 1680.2h0M390.9 1645.5h0M309.6 1609.7h0M345.5 1666.2h0M306.0 1701.5h0M341.9 1620.7h0M321.1 1697.5h0M365.9 1613.8h0" stroke="#dae2f6" stroke-width="3.80" stroke-linecap="round" stroke-opacity="0.9" fill="none"/>
<path d="M334.4 1583.6h0M323.8 1658.6h0M332.7 1599.1h0M402.1 1603.6h0M292.4 1635.8h0" stroke="#7887cc" stroke-width="3.80" stroke-linecap="round" stroke-opacity="0.9" fill="none"/>
<path d="M385.8 1623.2h0" stroke="#b22622" stroke-width="3.80" stroke-linecap="round" stroke-opacity="0.9" fill="none"/>
<path d="M396.9 1602.5h0" stroke="#f3d8cb" stroke-width="3.80" stroke-linecap="round" stroke-opacity="0.9" fill="none"/>
<path d="M306.2 1696.4h0M319.0 1735.4h0" stroke="#e5684c" stroke-width="3.80" stroke-linecap="round" stroke-opacity="0.9" fill="none"/>
<path d="M334.9 1728.4h0M364.6 1614.5h0M289.1 1612.4h0M273.8 1638.5h0M316.5 1660.5h0M354.2 1635.1h0M344.1 1588.6h0M404.7 1613.5h0M271.2 1617.1h0" stroke="#fcaa88" stroke-width="3.80" stroke-linecap="round" stroke-opacity="0.9" fill="none"/>
<path d="M355.5 1660.3h0" stroke="#f3d8cb" stroke-width="3.80" stroke-linecap="round" stroke-opacity="0.9" fill="none"/>
<path d="M266.3 1642.9h0M291.4 1681.7h0M257.3 1641.6h0M291.9 1639.9h0M235.2 1632.0h0M275.8 1671.6h0M280.5 1666.0h0M273.8 1680.1h0M281.9 1653.1h0M254.1 1637.1h0M267.3 1642.1h0" stroke="#111111" stroke-width="3.80" stroke-linecap="round" stroke-opacity="0.9" fill="none"/>
<path d="M341.5 1664.7h0M314.3 1653.4h0M313.9 1686.8h0M318.5 1648.6h0" stroke="#4b4ba8" stroke-width="3.80" stroke-linecap="round" stroke-opacity="0.9" fill="none"/>
<path d="M317.6 1680.8h0M291.3 1680.0h0M293.6 1646.9h0M347.7 1679.8h0M378.5 1618.8h0" stroke="#dae2f6" stroke-width="3.80" stroke-linecap="round" stroke-opacity="0.9" fill="none"/>
<path d="M368.2 1654.4h0M373.1 1651.8h0M332.0 1626.4h0M270.7 1630.6h0M293.0 1645.2h0M337.2 1679.1h0M288.1 1634.1h0M315.5 1586.4h0M314.8 1605.5h0" stroke="#b3c5eb" stroke-width="3.80" stroke-linecap="round" stroke-opacity="0.9" fill="none"/>
<path d="M397.2 1638.6h0M390.1 1618.8h0M407.6 1629.5h0M376.7 1620.1h0" stroke="#b22622" stroke-width="3.80" stroke-linecap="round" stroke-opacity="0.9" fill="none"/>
<path d="M332.0 1596.4h0M292.4 1602.1h0M272.3 1616.6h0M331.3 1654.3h0M281.1 1655.6h0M320.3 1641.6h0" stroke="#7887cc" stroke-width="3.80" stroke-linecap="round" stroke-opacity="0.9" fill="none"/>
<path d="M262.6 1643.7h0M250.4 1636.5h0M249.0 1637.2h0M284.6 1694.1h0M287.8 1696.7h0M283.0 1678.9h0M306.5 1681.3h0M234.7 1622.5h0M287.9 1605.8h0M285.2 1677.7h0" stroke="#111111" stroke-width="3.80" stroke-linecap="round" stroke-opacity="0.9" fill="none"/>
<path d="M329.1 1664.4h0M305.1 1683.3h0M277.3 1626.9h0M361.7 1624.7h0M364.2 1661.3h0" stroke="#4b4ba8" stroke-width="3.80" stroke-linecap="round" stroke-opacity="0.9" fill="none"/>
<path d="M334.1 1594.7h0M395.4 1609.4h0M286.8 1630.9h0M362.0 1619.9h0M311.9 1711.6h0M342.2 1666.5h0M318.2 1591.6h0M385.9 1658.5h0M365.8 1663.2h0" stroke="#dae2f6" stroke-width="3.80" stroke-linecap="round" stroke-opacity="0.9" fill="none"/>
<path d="M381.7 1658.6h0" stroke="#e5684c" stroke-width="3.80" stroke-linecap="round" stroke-opacity="0.9" fill="none"/>
<path d="M316.0 1611.6h0M265.7 1638.8h0M349.0 1673.9h0M333.6 1617.9h0" stroke="#f3d8cb" stroke-width="3.80" stroke-linecap="round" stroke-opacity="0.9" fill="none"/>
<path d="M291.6 1593.5h0M399.2 1647.1h0M348.5 1605.6h0M304.4 1615.8h0M349.9 1620.9h0M324.0 1650.2h0" stroke="#fcaa88" stroke-width="3.80" stroke-linecap="round" stroke-opacity="0.9" fill="none"/>
<path d="M373.7 1636.8h0M398.8 1626.8h0" stroke="#b22622" stroke-width="3.80" stroke-linecap="round" stroke-opacity="0.9" fill="none"/>
<path d="M375.2 1635.6h0M342.7 1611.7h0M301.4 1637.5h0M301.3 1592.5h0M304.8 1624.8h0M347.9 1686.9h0" stroke="#7887cc" stroke-width="3.80" stroke-linecap="round" stroke-opacity="0.9" fill="none"/>
<path d="M358.6 1596.2h0M365.6 1591.8h0M278.5 1645.0h0M287.5 1647.6h0M284.2 1668.4h0M315.4 1661.2h0M349.1 1611.2h0" stroke="#b3c5eb" stroke-width="3.80" stroke-linecap="round" stroke-opacity="0.9" fill="none"/>
<path d="M292.3 1623.6h0M316.4 1717.4h0M329.5 1585.8h0M304.4 1616.2h0M317.0 1690.2h0M284.8 1667.3h0M351.2 1644.3h0M318.9 1674.5h0M307.0 1674.8h0M384.3 1625.8h0" stroke="#dae2f6" stroke-width="3.80" stroke-linecap="round" stroke-opacity="0.9" fill="none"/>
<path d="M285.6 1674.5h0M254.2 1627.0h0M262.0 1644.6h0M239.0 1622.2h0M265.8 1648.3h0M287.7 1683.7h0M216.9 1613.0h0" stroke="#111111" stroke-width="3.80" stroke-linecap="round" stroke-opacity="0.9" fill="none"/>
<path d="M384.0 1635.8h0M381.6 1665.1h0M386.4 1655.3h0M407.4 1621.4h0M389.4 1639.7h0" stroke="#b22622" stroke-width="3.80" stroke-linecap="round" stroke-opacity="0.9" fill="none"/>
<path d="M388.1 1640.3h0M275.4 1646.7h0M306.5 1701.5h0M297.2 1669.2h0M309.9 1658.3h0M404.0 1618.6h0M367.9 1633.8h0M322.6 1611.2h0M298.2 1640.6h0" stroke="#fcaa88" stroke-width="3.80" stroke-linecap="round" stroke-opacity="0.9" fill="none"/>
<path d="M320.1 1715.3h0M283.4 1623.9h0M317.2 1662.4h0M279.4 1665.2h0M317.8 1635.5h0M344.6 1620.7h0" stroke="#7887cc" stroke-width="3.80" stroke-linecap="round" stroke-opacity="0.9" fill="none"/>
<path d="M275.0 1666.1h0M366.8 1624.2h0M344.5 1616.4h0" stroke="#f3d8cb" stroke-width="3.80" stroke-linecap="round" stroke-opacity="0.9" fill="none"/>
<path d="M346.4 1656.6h0M350.6 1665.7h0M320.5 1633.8h0M307.5 1703.1h0M332.9 1651.4h0M337.6 1710.3h0" stroke="#4b4ba8" stroke-width="3.80" stroke-linecap="round" stroke-opacity="0.9" fill="none"/>
<path d="M355.2 1656.1h0M333.4 1637.3h0M289.6 1672.5h0" stroke="#b3c5eb" stroke-width="3.80" stroke-linecap="round" stroke-opacity="0.9" fill="none"/>
<path d="M393.9 1627.1h0" stroke="#e5684c" stroke-width="3.80" stroke-linecap="round" stroke-opacity="0.9" fill="none"/>
<path d="M312.0 1727.8h0M379.2 1651.6h0M312.5 1669.4h0M331.3 1711.4h0M346.6 1651.7h0M319.3 1651.0h0M303.4 1647.9h0M314.9 1735.5h0M352.9 1597.4h0" stroke="#dae2f6" stroke-width="3.80" stroke-linecap="round" stroke-opacity="0.9" fill="none"/>
<path d="M338.3 1592.8h0M277.4 1631.5h0M325.9 1676.5h0M285.0 1597.9h0M323.7 1709.1h0M323.8 1692.8h0M391.4 1646.9h0M314.6 1710.6h0M338.4 1721.9h0" stroke="#fcaa88" stroke-width="3.80" stroke-linecap="round" stroke-opacity="0.9" fill="none"/>
<path d="M272.7 1614.3h0M373.3 1601.1h0M268.0 1637.5h0" stroke="#b22622" stroke-width="3.80" stroke-linecap="round" stroke-opacity="0.9" fill="none"/>
<path d="M328.4 1669.1h0M392.9 1601.4h0M335.6 1717.0h0M324.1 1590.5h0M358.6 1662.3h0M292.9 1608.6h0M342.6 1684.7h0" stroke="#b3c5eb" stroke-width="3.80" stroke-linecap="round" stroke-opacity="0.9" fill="none"/>
<path d="M317.2 1711.2h0M345.0 1588.8h0M347.0 1690.9h0M330.4 1586.0h0M325.8 1705.9h0M376.6 1646.5h0" stroke="#f3d8cb" stroke-width="3.80" stroke-linecap="round" stroke-opacity="0.9" fill="none"/>
<path d="M327.7 1662.2h0M308.6 1659.9h0M313.9 1657.9h0M359.3 1637.1h0M318.8 1610.4h0" stroke="#7887cc" stroke-width="3.80" stroke-linecap="round" stroke-opacity="0.9" fill="none"/>
<path d="M291.0 1687.5h0M276.8 1648.0h0M221.1 1622.9h0M244.1 1631.1h0M266.9 1640.0h0M267.9 1652.1h0M289.5 1682.5h0" stroke="#111111" stroke-width="3.80" stroke-linecap="round" stroke-opacity="0.9" fill="none"/>
<path d="M391.3 1651.7h0M327.5 1625.4h0" stroke="#e5684c" stroke-width="3.80" stroke-linecap="round" stroke-opacity="0.9" fill="none"/>
<path d="M312.0 1616.6h0M326.2 1679.7h0" stroke="#4b4ba8" stroke-width="3.80" stroke-linecap="round" stroke-opacity="0.9" fill="none"/>
<path d="M308.7 1700.5h0M329.7 1683.3h0M333.0 1706.0h0M347.3 1687.1h0M333.5 1688.0h0M377.3 1639.3h0M301.6 1613.3h0M338.1 1629.9h0M290.8 1622.4h0M297.4 1677.8h0M345.5 1591.7h0M367.2 1648.8h0M324.8 1620.9h0M327.6 1616.8h0M347.3 1707.5h0M320.9 1692.3h0M325.7 1709.4h0" stroke="#fcaa88" stroke-width="3.80" stroke-linecap="round" stroke-opacity="0.9" fill="none"/>
<path d="M344.1 1666.8h0M303.1 1589.5h0" stroke="#b3c5eb" stroke-width="3.80" stroke-linecap="round" stroke-opacity="0.9" fill="none"/>
<path d="M250.6 1635.8h0M303.9 1634.6h0M219.9 1621.9h0M231.4 1620.1h0M263.9 1641.3h0M294.1 1611.2h0M273.4 1632.3h0M284.1 1685.7h0M261.4 1641.8h0M298.9 1678.2h0M236.0 1628.4h0" stroke="#111111" stroke-width="3.80" stroke-linecap="round" stroke-opacity="0.9" fill="none"/>
<path d="M353.4 1623.3h0M305.6 1621.1h0M333.5 1720.5h0" stroke="#7887cc" stroke-width="3.80" stroke-linecap="round" stroke-opacity="0.9" fill="none"/>
<path d="M310.8 1672.8h0M335.2 1627.5h0M311.3 1589.6h0M362.6 1604.0h0M387.2 1598.2h0M369.5 1658.6h0" stroke="#dae2f6" stroke-width="3.80" stroke-linecap="round" stroke-opacity="0.9" fill="none"/>
<path d="M321.4 1665.5h0M327.2 1638.8h0" stroke="#e5684c" stroke-width="3.80" stroke-linecap="round" stroke-opacity="0.9" fill="none"/>
<path d="M395.3 1644.1h0M396.2 1649.8h0M382.7 1643.8h0M373.5 1657.5h0" stroke="#b22622" stroke-width="3.80" stroke-linecap="round" stroke-opacity="0.9" fill="none"/>
<path d="M340.0 1620.2h0M378.9 1658.0h0M351.9 1628.4h0M337.8 1681.6h0M324.6 1703.1h0" stroke="#f3d8cb" stroke-width="3.80" stroke-linecap="round" stroke-opacity="0.9" fill="none"/>
<path d="M362.0 1615.5h0" stroke="#4b4ba8" stroke-width="3.80" stroke-linecap="round" stroke-opacity="0.9" fill="none"/>
<polyline points="191.1,1673.7 234.5,1506.6 431.9,1548.6 442.6,1631.7" fill="none" stroke="#000" stroke-width="2.2" stroke-linejoin="miter"/>
<line x1="217.8" y1="1557.4" x2="223.3" y2="1557.4" stroke="#000" stroke-width="2"/>
<line x1="200.2" y1="1624.8" x2="205.7" y2="1624.8" stroke="#000" stroke-width="2"/>
<line x1="292.1" y1="1515.3" x2="292.1" y2="1520.8" stroke="#000" stroke-width="2"/>
<line x1="357.6" y1="1530" x2="357.6" y2="1535.5" stroke="#000" stroke-width="2"/>
<line x1="422.1" y1="1543.6" x2="422.1" y2="1549.1" stroke="#000" stroke-width="2"/>
<line x1="435.8" y1="1578.9" x2="439.8" y2="1578.9" stroke="#000" stroke-width="2"/>
<line x1="439.7" y1="1615" x2="443.7" y2="1615" stroke="#000" stroke-width="2"/>
<text transform="translate(183.94,1561.50) scale(0.975,1)" font-size="31.2" fill="#000">9</text>
<text transform="translate(159.92,1629.70) scale(0.975,1)" font-size="31.2" fill="#000">10</text>
<text transform="translate(279.52,1505.40) scale(0.975,1)" font-size="31.2" fill="#000">10</text>
<text transform="translate(352.84,1520.40) scale(0.975,1)" font-size="31.2" fill="#000">9</text>
<text transform="translate(417.84,1534.10) scale(0.975,1)" font-size="31.2" fill="#000">8</text>
<text transform="translate(444.47,1583.30) scale(0.975,1)" font-size="31.2" fill="#000">5</text>
<text transform="translate(450.73,1616.50) scale(0.975,1)" font-size="31.2" fill="#000">4</text>
<text transform="translate(151.30,1575.40) rotate(-76.60)" font-size="31.00" text-anchor="middle" fill="#000" dominant-baseline="central" font-style="italic">UMAP1</text>
<text transform="translate(370.20,1478.30) rotate(11.70)" font-size="31.00" text-anchor="middle" fill="#000" dominant-baseline="central" font-style="italic">UMAP2</text>
<text transform="translate(486.30,1582.00) rotate(83.30)" font-size="31.00" text-anchor="middle" fill="#000" dominant-baseline="central">UMAP3</text>
</svg>
</body></html>
